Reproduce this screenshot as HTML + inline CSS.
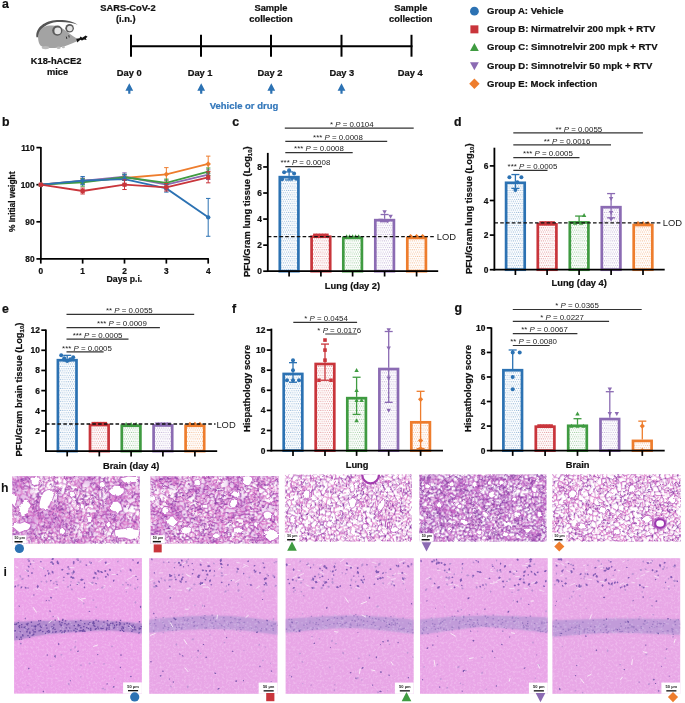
<!DOCTYPE html>
<html><head><meta charset="utf-8"><style>
html,body{margin:0;padding:0;background:#fff;}
svg{display:block;font-family:"Liberation Sans", sans-serif;will-change:transform;}
</style></head><body>
<svg width="685" height="703" viewBox="0 0 685 703">
<defs><pattern id="p0" width="2.15" height="4.4" patternUnits="userSpaceOnUse"><rect width="2.15" height="4.4" fill="#fff"/><circle cx="0.54" cy="1.1" r="0.55" fill="#2c72b3" fill-opacity="0.6"/><circle cx="1.61" cy="3.3" r="0.55" fill="#2c72b3" fill-opacity="0.6"/></pattern><pattern id="p1" width="2.15" height="4.4" patternUnits="userSpaceOnUse"><rect width="2.15" height="4.4" fill="#fff"/><circle cx="0.54" cy="1.1" r="0.55" fill="#c9353b" fill-opacity="0.6"/><circle cx="1.61" cy="3.3" r="0.55" fill="#c9353b" fill-opacity="0.6"/></pattern><pattern id="p2" width="2.15" height="4.4" patternUnits="userSpaceOnUse"><rect width="2.15" height="4.4" fill="#fff"/><circle cx="0.54" cy="1.1" r="0.55" fill="#3f9b41" fill-opacity="0.6"/><circle cx="1.61" cy="3.3" r="0.55" fill="#3f9b41" fill-opacity="0.6"/></pattern><pattern id="p3" width="2.15" height="4.4" patternUnits="userSpaceOnUse"><rect width="2.15" height="4.4" fill="#fff"/><circle cx="0.54" cy="1.1" r="0.55" fill="#8b6bb3" fill-opacity="0.6"/><circle cx="1.61" cy="3.3" r="0.55" fill="#8b6bb3" fill-opacity="0.6"/></pattern><pattern id="p4" width="2.15" height="4.4" patternUnits="userSpaceOnUse"><rect width="2.15" height="4.4" fill="#fff"/><circle cx="0.54" cy="1.1" r="0.55" fill="#ee7d2d" fill-opacity="0.6"/><circle cx="1.61" cy="3.3" r="0.55" fill="#ee7d2d" fill-opacity="0.6"/></pattern><pattern id="T1" width="128" height="68" patternUnits="userSpaceOnUse"><g transform="scale(0.1)" fill="none" stroke-linecap="round"><path stroke="#a444b0" stroke-width="7" d="M777 223l2 2M759 285l0 -5M742 282l-27 -6M713 235l11 0M820 322l-0 0M784 324l28 2M799 277l14 11M769 366l-29 -2M159 418l-6 45M177 420l21 40M31 590l18 46M31 590l54 8M973 301l1 -1M963 273l12 26M955 340l9 -0M1036 355l-5 -18M1173 21l-11 20M940 64l-26 14M906 47l-15 15M1290 382l-1 39M1159 444l-2 17M1287 541l40 -4M1215 630l8 2M713 260l-7 -5M715 275l-10 3M690 174l-8 -1M693 269l-20 -2M705 278l-1 6M801 264l30 -3M874 317l-12 -11M887 234l12 -33M672 478l5 6M714 147l-21 -28M627 82l-2 6M179 510l-20 -45M150 527l-2 -33M1131 375l-28 -33M1275 203l35 -26M1283 248l21 14M1259 293l-4 -2M1222 323l18 15M1244 218l18 22M1283 248l-11 -1M1109 107l-1 8M1139 82l5 7M872 12l-2 8M876 100l-4 -41M1077 83l9 5M1152 145l-29 18M1123 163l-8 12M1264 400l12 -21M1289 420l-7 4M1288 334l-8 -2M1310 321l-22 14M1297 505l-47 -3M731 189l2 -30M761 159l-28 -1M782 94l-11 9M693 119l5 -6M636 187l1 -1M620 91l-4 1M701 227l-12 -5M634 204l-40 14M821 208l13 -0M946 277l-11 -15M963 273l-16 4M911 301l1 -1M976 169l1 1M729 22l-14 -27M715 -5l-17 4M616 91l-24 -5M644 101l7 17M692 77l-31 22M682 124l-6 -6M140 370l2 0M286 606l-4 -17M251 525l7 23M100 443l-11 -16M148 494l-32 10M340 337l23 10M-9 575l15 -7M34 642l-35 -16M10 704l38 -37M106 370l-7 -3M1051 354l8 5M1027 387l12 15M919 356l-19 35M799 373l-15 3M1033 496l4 10M1070 522l6 12M1057 181l15 28M1084 202l10 -18M1096 228l2 8M1097 236l26 -14M1066 245l1 -13M1093 184l13 31M1097 246l36 10M695 678l3 1M1272 57l-4 -16M1272 57l2 23M1201 145l-1 12M1273 247l-4 3M971 128l-6 -29M950 101l18 -29M1038 112l-14 -1M1042 118l-1 29M1008 196l23 14M787 76l-2 -4M784 72l-6 -40M753 4l-4 -27M1105 45l-29 10M1250 649l4 7M907 648l19 23M657 267l-7 -2M647 256l1 9M899 201l-0 -21M864 181l-7 -25M813 132l8 -2M693 396l-0 -23M399 207l-0 0M433 87l4 17M409 99l12 -29M409 99l21 7M430 106l8 -2M458 115l-19 26M543 83l-40 -13M298 657l24 13M342 636l-20 15M319 609l1 5M235 551l-9 30M154 570l-15 50M174 700l-33 -21M363 660l8 -26M304 535l-12 -35M287 542l-1 -1M284 541l2 0M291 456l30 0M308 499l12 -9M388 628l9 37M71 552l-13 -14M42 562l11 -24M222 468l-10 -7M179 510l23 -14M259 394l2 -27M320 408l-22 14M323 409l11 11M374 405l-13 12M53 538l-3 -1M1099 317l21 -21M1118 285l2 11M1074 297l-1 -2M891 398l-43 -9M848 389l5 -26M828 369l24 -6M998 645l-17 -12M1010 610l7 25M1083 473l8 -11M1033 464l5 21M1196 670l-5 1M1191 671l-1 1M1175 564l16 4M1175 564l-19 -14M1192 594l-15 3M1160 487l-28 50M1126 545l4 3M1011 231l12 11M1055 246l-9 -8M624 688l18 -3M643 685l6 4M674 673l-8 14M995 132l22 1M971 128l18 -5M1023 158l4 -1M1137 -10l1 -6M1076 58l-16 -4M1061 38l-2 17M1049 22l13 16M1032 42l-1 13M1205 419l0 0M1222 372l17 36M1018 708l4 -23M986 667l-13 -2M959 693l2 -19M907 648l7 -15M933 622l1 -2M993 673l0 0M457 201l-4 -1M450 195l12 -21M458 115l4 1M453 159l8 15M600 241l-4 3M554 285l13 -15M821 130l25 2M862 98l-6 10M669 412l23 -12M654 401l15 11M693 396l-1 2M623 385l10 -8M554 285l17 28M515 319l19 15M569 320l-26 -4M624 688l3 -28M643 5l7 -21M692 -2l-18 -4M37 78l-26 10M11 88l-17 -9M75 220l-1 -27M335 194l-10 -1M114 118l0 -5M124 91l-3 -15M79 79l27 -8M247 11l-30 18M217 34l43 -13M426 249l26 3M368 196l18 11M194 572l-4 -0M275 657l-8 -4M266 653l-2 -1M108 615l-1 56M108 670l14 5M342 232l13 5M334 332l-24 15M250 253l4 3M419 324l29 -6M372 346l19 -13M392 379l2 -3M95 319l24 11M959 540l-22 51M1034 437l-16 8M952 451l-13 11M842 433l28 -12M919 356l-10 -4M722 445l23 -13M728 422l-11 -1M678 437l34 -1M795 491l-24 23M768 466l9 -1M1177 597l-16 18M853 453l-20 19M831 471l3 1M247 691l-4 -5M1220 80l31 -38M1220 80l-17 -5M1255 39l-3 3M1012 187l3 -6M1007 193l5 -6M923 20l27 3M950 22l8 36M1205 419l6 1M1238 408l-3 9M709 316l-0 -5M691 351l-6 -9M555 363l-33 15M522 378l-6 -4M512 370l4 5M481 399l35 -25M523 396l-15 13M537 440l9 -26M601 523l18 -30M610 485l9 8M627 541l-30 15M655 568l-7 5M537 650l-18 12M536 686l11 -8M572 664l26 -9M31 175l-3 -9M21 165l-39 -18M237 178l19 -6M175 281l-23 -5M119 330l2 -1M225 133l-47 -16M126 126l35 -3M114 118l12 8M384 -2l-1 0M375 43l-7 -24M303 77l31 14M315 120l19 -13M488 256l37 -14M488 256l-1 -1M445 68l5 0M499 61l-7 1M408 134l16 21M523 9l-7 -21M523 9l6 0M279 391l-15 4M326 193l-1 0M402 267l-25 19M476 303l-8 1M509 279l-14 19M501 324l-3 -5M69 511l-13 -23M50 537l-5 -49M-16 400l18 24M28 488l-11 -17M27 379l11 7M37 420l-22 1M985 508l-26 21M915 551l-16 -13M914 567l4 7M761 415l-5 12M1054 577l15 0M749 619l19 -9M771 611l-4 -2M806 604l-0 -0M858 506l-26 18M805 492l17 24M770 540l6 3M831 530l-56 13M1022 6l-4 23M1030 0l-7 6M553 479l4 17M644 596l-6 6M422 507l3 -5M404 457l11 6M390 492l-3 -15M489 690l-20 -22M503 674l-24 -21M624 8l3 -28M-7 247l11 1M-21 293l23 -2M16 344l-8 -10M-0 333l8 2M30 321l-22 14M59 47l3 2M263 23l4 7M147 308l10 33M218 390l-2 -18M121 -5l-14 -5M108 -10l-16 5M105 65l2 -35M334 32l-10 -3M379 509l3 -0M397 617l16 -4M480 625l-26 -4M454 620l-7 -7M250 253l6 -21M312 252l-23 -4M295 297l17 2M275 345l-3 -10M475 341l9 22M915 633l-31 -24M1042 641l-5 -7M1089 644l-6 -24M1098 614l18 22M1097 590l-7 4M1080 566l18 24M761 704l6 -14M777 686l-6 3M823 542l-17 32M793 559l7 18M537 440l-19 3M540 472l4 5M540 472l-23 6M544 477l-12 18M554 503l-10 3M528 541l-9 -8M422 507l18 24M481 623l10 -31M417 421l6 7M11 88l4 9M227 80l0 -12M203 44l9 -10M211 34l-8 -8M215 33l-4 1M122 75l10 -12M174 20l-42 -2M131 4l-2 13M238 322l7 22M247 344l-2 -0M251 341l1 -1M272 335l-19 5M236 630l-15 -1M221 629l-20 -0M480 625l1 1M497 439l8 1M465 447l-27 -0M553 535l4 -0M579 521l-7 11M513 596l-5 -6M508 591l-3 -18M538 583l-13 -15M230 66l8 -21M267 30l-0 0M199 -1l-3 -24M174 20l9 -18M146 -7l25 -5M203 26l-5 -27M458 470l-6 7M463 504l-8 -23M484 544l-7 -37"/><path stroke="#a444b0" stroke-width="12" d="M751 239l18 -17M729 254l13 28M701 227l12 8M701 227l35 -32M744 199l-7 -2M802 256l-0 8M812 223l-33 2M812 223l9 -15M821 208l-16 -19M159 465l39 -5M986 264l-22 8M955 340l-11 -25M989 262l-0 -28M986 353l-5 -9M1003 316l28 20M1152 -5l39 -3M1301 165l-44 13M1194 134l-14 -1M940 64l-22 -26M917 38l-11 9M918 23l-46 -14M873 9l-1 3M1136 418l-23 33M1271 575l15 -7M1314 642l-35 -16M1199 592l28 -13M1244 594l-35 12M714 147l-36 1M688 291l-31 -24M657 267l15 0M802 256l16 -12M820 240l-2 4M969 210l-22 2M676 145l2 3M707 66l-14 6M698 112l-6 -31M179 510l-4 11M148 494l4 -31M1081 385l-22 -26M1058 359l45 -17M1165 326l20 -47M661 633l-1 -1M652 664l9 -31M1267 128l26 -2M1257 178l11 24M1226 177l-23 25M1268 201l7 2M1191 276l23 12M1248 333l-8 4M1238 252l-0 2M1149 136l-42 -21M1184 80l-36 13M1105 97l7 -13M1105 97l-19 -9M871 20l3 38M839 72l-17 -5M873 9l-3 -9M853 -6l-5 -40M1327 666l-38 37M1296 344l-14 12M1224 507l-15 -17M1196 670l15 -39M731 189l5 6M736 121l-8 30M728 151l4 8M636 187l-27 -13M653 138l-10 13M647 245l24 -54M677 233l13 -11M634 204l13 41M682 173l-10 17M649 251l-2 5M608 173l-24 21M873 239l-14 -54M909 251l-1 44M942 229l-6 33M955 340l-18 18M937 357l-5 -1M969 210l7 -39M842 79l20 19M848 188l-28 -23M729 27l-17 23M713 50l-22 -21M597 126l-30 -28M602 24l-21 -6M675 118l-1 -8M144 408l-20 -23M155 411l-2 -0M71 552l-30 10M118 469l-8 7M-33 601l32 14M34 642l-44 23M34 642l9 1M13 574l-14 41M1062 319l6 13M1129 381l-48 63M942 376l-41 15M769 366l15 9M985 508l32 35M991 492l42 3M1037 506l23 7M995 574l23 -31M1080 207l12 18M1064 215l2 17M1079 257l18 -11M1097 246l1 -10M1125 195l-5 18M1133 256l3 -2M706 596l18 20M730 653l-12 16M666 662l9 12M1226 177l-0 -11M1255 291l-3 -13M1060 90l9 0M945 102l4 -1M978 90l-13 9M1057 181l-5 -1M840 -5l-8 -9M822 67l-27 4M803 28l-19 -11M777 6l6 11M692 -2l2 -0M698 -1l-3 -1M659 39l1 0M1086 4l-18 36M1199 445l10 2M1196 439l3 6M1227 457l5 -2M1232 454l18 25M1255 657l-5 17M869 680l17 -20M926 671l-3 29M813 132l-2 11M523 166l1 8M477 201l21 3M533 140l-10 27M533 175l-8 0M650 265l-1 -0M584 194l-4 -3M869 267l12 13M874 317l1 -26M933 143l-14 -32M940 64l1 0M740 364l-4 23M426 243l0 7M451 108l-14 -4M440 141l-23 -11M417 130l-8 4M559 55l-16 -17M559 55l-16 28M549 94l-19 33M573 134l-39 -0M246 515l-23 19M143 370l16 34M155 411l4 -7M143 370l0 0M168 576l7 2M152 565l2 5M176 578l14 -7M338 625l-17 -12M303 633l6 9M290 636l6 -4M304 535l-17 7M308 499l11 17M308 499l-16 1M260 486l15 9M275 466l-15 19M363 596l22 11M384 678l26 41M333 420l28 -3M416 397l1 -0M410 390l-0 -16M48 537l-40 4M1083 275l-9 20M1079 257l-0 3M1079 260l4 14M1027 387l-16 3M946 383l39 -5M985 378l9 13M891 398l-3 -7M998 645l3 -1M990 590l-5 6M1052 440l11 -7M1152 675l22 26M1189 630l-17 5M1139 581l-9 -33M1005 266l18 -11M989 262l16 4M1046 237l-20 1M621 690l4 -2M691 708l8 -30M832 723l-7 -36M721 533l-2 4M706 596l4 -7M739 608l5 10M1191 20l15 16M1206 36l-16 27M1007 99l-4 2M1035 150l-8 8M768 10l-6 14M753 4l15 6M777 6l-6 3M778 33l-4 -5M1214 -4l-18 -6M1205 419l8 -46M1045 652l16 17M1025 670l5 10M943 604l-9 16M1022 686l-14 2M463 117l-9 42M454 158l28 -35M487 148l-5 -25M520 281l7 -12M861 138l6 -5M603 414l-14 15M619 412l4 -27M598 292l-2 -0M573 364l1 4M648 266l1 -1M656 345l-9 30M542 317l-8 17M504 325l7 12M319 516l28 -8M501 716l22 -27M627 636l12 16M598 655l10 9M607 664l18 -4M591 -2l23 3M666 8l8 -14M674 16l-8 -9M-12 41l20 -17M-8 57l48 7M-8 57l2 23M91 231l1 44M329 167l-3 25M102 126l-31 -34M124 91l-10 22M326 139l-11 -18M279 144l3 11M291 170l20 -5M215 33l2 -5M247 11l12 10M460 229l-8 23M433 87l12 -19M445 68l-22 -11M176 522l37 16M194 572l9 -22M264 652l-13 -21M135 619l-14 56M273 581l27 -19M314 565l-34 21M280 586l-7 -6M386 206l-31 31M172 242l5 25M190 277l-1 -0M178 267l11 9M258 297l-16 -0M254 256l-15 36M239 292l4 5M250 253l-28 -7M222 246l-4 32M372 346l17 11M97 364l2 3M55 380l26 -23M78 352l0 0M97 364l22 -34M904 595l14 -21M1026 431l-12 7M1052 440l-18 -3M1001 429l13 9M853 453l9 6M901 348l8 5M846 393l-17 23M848 389l-2 4M828 369l-0 20M796 413l14 -7M806 428l19 -15M755 482l12 -17M1161 633l-35 -10M1139 581l-0 12M886 660l-11 -21M1270 -14l18 39M1258 39l-3 -0M926 -9l24 -2M1235 416l8 19M1210 447l12 -8M867 133l25 2M666 473l-46 -12M667 317l3 20M696 305l12 5M572 419l-27 -5M592 447l-22 15M674 516l-0 0M601 523l24 9M589 488l-6 30M356 473l16 -9M371 464l7 -2M456 682l-5 10M523 689l-7 -21M522 627l-0 -0M599 645l-4 -6M550 706l19 -16M18 215l10 6M36 246l-7 -25M257 172l25 -17M279 144l-20 -14M151 263l1 9M129 246l-15 22M94 231l20 36M151 195l-6 -34M124 91l52 20M175 111l1 4M293 90l0 -4M294 85l9 -8M315 121l0 -1M258 130l6 -10M474 263l-22 -11M450 69l5 -23M414 39l8 8M544 34l-16 -24M528 9l8 -3M568 7l-21 -10M241 624l-3 -20M240 594l-2 10M238 604l0 0M351 520l-6 21M283 365l-4 25M334 235l-17 -20M334 235l-7 7M376 289l0 -3M274 259l7 -3M271 304l9 -1M489 298l-13 4M430 284l20 32M474 263l-10 13M463 277l0 1M74 473l-19 16M42 386l-4 1M938 486l4 -11M920 516l21 23M897 530l24 -14M914 567l-18 8M796 413l-18 -1M1069 578l11 -11M810 650l22 17M784 610l21 -6M766 582l-2 -28M746 561l1 1M795 491l11 1M1030 0l-5 -10M610 576l-20 11M594 622l20 -14M646 598l-3 -2M587 558l-12 27M368 497l18 -20M-6 79l-12 13M39 324l-10 -4M30 321l-25 -30M31 353l-14 -8M4 290l-2 1M37 78l19 18M309 3l-31 -20M147 308l20 -1M141 304l6 3M195 281l-15 29M247 11l-4 -5M135 -61l-14 56M86 45l16 -16M106 70l-1 -6M90 18l11 10M200 55l-30 7M275 40l-4 -8M316 3l7 26M241 300l-32 15M193 652l3 -20M368 497l10 12M396 572l-25 -5M371 567l0 -20M480 625l1 -2M261 217l-10 -13M344 275l1 42M484 320l0 0M484 320l-13 17M497 320l-13 0M890 580l-16 -5M896 575l-6 5M833 610l11 -10M1064 619l1 23M1064 642l1 -1M1089 645l-24 -4M1045 652l-3 -12M1115 639l0 -2M1110 603l-2 3M797 585l2 -8M543 506l-11 -12M544 506l9 29M442 505l-17 -3M397 540l1 -2M452 547l-2 -5M405 452l-13 -40M454 407l-20 17M-13 128l26 -2M53 142l3 -10M201 82l26 -1M173 31l1 -5M174 26l29 0M200 55l3 -12M160 51l-29 -32M174 20l-33 -21M221 358l24 -13M208 324l-1 10M221 358l-6 -12M194 630l-13 -20M397 617l33 34M503 363l-10 -1M484 363l5 -1M993 -7l-7 -5M492 473l13 -33M454 407l13 38M538 583l-3 10M491 591l17 -0M555 572l-17 11M528 541l-4 27M261 78l-11 -15M292 205l-20 3M492 477l-4 1M452 477l2 3"/><path stroke="#c456bb" stroke-width="7" d="M777 223l-9 -1M963 270l4 -32M949 235l19 2M759 285l-16 -3M729 254l-15 6M736 195l1 1M740 363l-0 -28M606 43l-3 -18M87 618l12 -8M99 610l-0 -1M1002 312l-5 -3M963 339l18 4M964 272l-1 1M984 230l5 3M1039 299l-8 37M1036 355l-2 3M986 353l47 5M1127 3l9 25M1194 134l15 -11M1227 579l-1 -18M1208 530l11 -5M705 278l-12 -9M706 251l0 4M744 199l26 -16M704 284l-16 6M833 330l29 -23M631 91l61 -16M100 604l41 -52M96 548l-0 0M198 680l-16 2M1129 381l0 -3M646 598l13 33M694 610l-3 20M1204 209l-1 -8M1259 293l-11 39M1214 288l28 -28M1114 53l11 -9M1144 89l5 4M1144 89l-35 18M1099 121l-13 -33M871 20l-39 23M872 59l2 -1M869 0l-16 -6M892 63l-18 -5M1099 121l-8 6M1172 179l-27 22M1276 379l0 0M1263 337l16 -4M1284 290l-2 1M1209 490l0 -4M1223 632l16 16M782 94l2 -13M643 173l-0 -21M643 151l-25 -7M699 250l-22 -17M647 256l-47 -16M835 207l13 -20M866 250l-29 15M927 298l19 -21M927 298l-16 2M911 301l21 55M951 157l25 12M368 196l-22 16M368 196l-7 -19M335 194l11 18M623 58l4 24M569 53l13 -34M569 53l10 5M651 117l24 1M692 82l-18 29M124 386l-2 -6M122 379l19 -10M153 463l-24 0M64 575l-39 4M319 609l4 -20M76 514l7 -2M76 514l21 34M126 533l-6 -14M-50 557l41 17M4 546l-15 -6M-20 637l19 -10M13 574l12 5M103 418l-13 -26M1036 355l14 -1M1051 354l17 -22M1068 332l31 1M1034 358l-7 30M942 376l-5 -19M1095 179l-2 5M1080 207l4 -5M1096 228l10 -13M1123 222l-3 -8M1084 202l22 13M1136 254l-8 -26M1128 228l21 -17M1149 211l13 14M691 630l5 6M715 675l-17 4M1274 79l17 9M1227 157l-0 9M1269 249l-25 12M1088 5l3 23M1094 178l-23 -35M945 104l1 -1M945 104l19 29M1071 143l-3 2M973 211l34 -18M976 170l30 23M1007 194l1 2M795 -30l-3 26M815 9l-23 -13M803 28l-7 43M729 27l24 7M1088 5l-2 -1M1209 486l-6 -8M1227 457l-7 -1M1160 474l-3 -13M1270 666l18 39M1214 676l3 7M770 138l-7 20M761 159l2 -1M811 143l-22 11M506 187l-20 -12M486 175l-9 -8M533 175l29 -4M584 143l-18 18M585 207l-36 21M881 281l-6 11M852 295l0 -4M820 322l32 -27M820 165l37 -9M951 157l12 -24M945 158l-12 -15M945 102l-4 -38M733 389l3 -2M421 267l6 -18M417 130l13 -25M499 61l4 -17M152 565l28 -10M338 625l4 11M275 657l15 -21M167 613l2 -37M167 613l-27 7M131 684l9 -5M171 668l-25 5M246 515l10 -28M260 486l-4 1M321 457l4 7M384 678l14 -13M342 636l5 2M397 665l9 2M58 538l-5 0M211 461l-4 -51M255 487l-30 -18M331 433l3 -13M-9 575l-27 20M13 574l-6 -6M54 672l30 8M1155 365l7 -6M946 383l-3 29M990 428l-6 -11M960 449l-13 -35M923 423l29 28M900 391l-8 8M894 421l2 2M917 425l-21 -2M1017 635l9 2M1016 665l2 -0M1113 451l-20 11M1033 464l19 -24M1137 670l14 4M1188 510l-5 -0M1183 510l-50 27M1120 543l6 1M1183 510l-1 -0M1023 255l13 5M1079 260l-36 16M659 719l-11 -30M650 664l2 -0M779 682l13 -6M727 482l8 5M719 537l-12 17M703 559l2 -2M1163 42l27 22M1190 -9l1 -1M1191 20l27 -17M1068 40l-6 -2M923 20l3 -29M1049 22l-17 21M1060 54l-29 1M1060 90l-34 -26M1162 359l52 14M915 633l18 -11M994 673l-7 32M477 201l-20 0M554 250l13 19M549 228l4 10M527 269l27 -18M857 156l4 -17M846 133l6 -23M856 108l13 16M692 400l2 5M647 409l-19 10M672 441l-6 12M653 381l3 -1M579 425l-6 -6M574 368l49 16M579 352l-10 -32M597 291l-26 22M614 335l-6 6M574 368l-0 -0M649 283l-38 36M630 332l-15 2M648 266l1 17M580 271l17 21M504 325l12 -6M528 689l-6 -0M639 652l-12 8M627 660l-2 -0M650 664l-11 -12M660 631l-21 21M618 14l2 -4M579 15l3 4M614 0l6 10M40 64l10 -15M79 330l-20 -25M95 319l3 -35M75 220l16 11M98 283l-6 -8M59 304l-23 -33M107 171l44 24M76 86l3 -7M456 2l14 -13M326 139l-15 26M426 243l25 -24M568 7l1 2M222 579l-11 -37M285 609l-7 4M314 565l-14 -4M331 567l2 8M319 537l15 12M331 567l3 -17M290 447l-17 -27M283 418l-9 2M313 402l-25 -4M346 212l-4 20M198 221l-8 56M219 278l20 14M399 330l11 5M420 295l-1 30M388 358l23 -6M410 375l-8 -3M-49 366l44 13M74 406l-32 -21M80 397l-25 -17M917 425l11 28M846 393l-18 -4M846 393l0 0M823 392l-3 16M806 428l-0 17M716 442l6 3M672 478l-6 -4M667 474l-1 -2M731 457l24 -4M1160 615l-22 -22M1138 593l-3 2M736 526l29 4M765 530l3 -6M875 501l-16 4M730 653l19 4M758 655l12 -10M745 618l5 0M795 650l-3 26M773 643l-4 1M343 671l-9 4M1203 76l-11 -5M1012 187l33 4M1043 210l2 -19M987 25l2 4M1222 439l16 1M1084 682l-15 -0M1068 720l18 -36M896 148l-5 -12M901 124l-9 12M615 453l5 8M620 461l-10 24M671 338l14 4M685 342l24 -26M739 335l-30 -19M454 404l-16 -14M454 404l15 -6M481 399l27 9M582 483l-12 -19M589 488l8 -3M673 516l-16 18M625 533l11 -14M569 689l-1 -2M595 639l-38 2M598 655l-0 0M557 641l3 -20M594 622l-7 -5M560 620l-31 -17M78 352l-38 -20M42 183l-13 38M18 215l11 -38M29 177l2 -2M151 263l-22 -17M141 350l-5 -3M178 116l-2 -1M93 136l-4 20M145 161l-9 -5M49 49l10 -2M54 -8l7 49M376 4l-32 -13M335 107l-1 -16M487 248l6 -15M493 233l10 -14M498 204l4 15M509 279l10 1M527 269l-2 -27M541 223l-5 1M460 77l32 -15M410 38l4 0M423 57l-1 -11M455 45l-5 -7M492 27l8 9M384 147l40 9M171 668l2 -12M220 677l6 -3M199 679l-3 -24M227 673l1 -3M302 357l-14 5M283 365l5 -4M237 178l6 8M342 232l-9 2M195 281l9 0M72 460l-2 -12M30 488l-1 -0M10 382l18 -2M41 414l-4 6M-4 379l-1 0M31 355l-4 24M37 441l-0 -20M982 461l4 6M1031 462l-43 9M861 557l10 10M885 560l12 15M806 445l-0 0M1084 682l5 -37M1115 639l-26 5M771 611l13 -1M736 595l10 -7M704 557l37 12M832 524l-1 6M820 472l8 -1M769 524l53 -7M324 709l-7 -26M1084 2l-15 -0M1084 2l5 -37M1018 28l-13 -4M993 -7l23 -8M573 608l-0 -6M378 461l8 2M386 463l0 14M415 463l15 18M489 690l13 -17M470 669l1 -7M456 682l14 -13M515 669l-13 5M25 263l-0 -1M56 96l10 -1M274 73l-10 5M157 341l16 12M182 341l-7 11M141 350l17 -9M298 -23l24 13M316 3l-7 0M335 -5l-12 0M266 -27l-23 33M227 -7l1 -3M61 41l29 -23M107 30l-5 -2M353 20l-19 11M306 57l6 -4M271 32l50 -1M451 12l-9 -1M243 297l-1 3M214 280l-5 35M196 655l24 -5M224 651l-4 -1M221 224l23 -21M256 233l-4 -7M243 186l1 16M256 233l20 5M275 329l-3 6M471 337l-14 -20M468 304l-8 11M871 567l3 8M843 555l-4 13M1042 619l21 -1M1076 594l0 20M1076 614l-13 4M1107 608l15 16M1084 619l14 -5M1135 595l-25 8M753 684l15 6M776 543l17 16M309 683l-38 28M538 442l2 31M518 443l-1 35M528 541l5 1M422 507l-22 19M479 579l12 13M374 405l17 7M13 127l2 -30M56 96l-12 13M15 97l28 13M173 31l30 13M161 51l12 -20M215 34l9 32M107 30l11 -3M121 -5l10 8M143 -55l3 48M240 311l-2 10M260 327l-7 13M208 334l8 11M196 632l6 -3M167 613l14 -2M202 580l-8 22M430 638l-0 13M430 657l-1 -6M446 652l4 -24M454 620l-4 8M294 210l-1 -1M501 324l-4 5M514 532l5 1M514 532l-7 -35M507 496l3 -7M555 572l0 -5M573 602l-38 -9M182 2l16 -2M479 490l-24 -9M478 507l-15 -4"/><path stroke="#c456bb" stroke-width="12" d="M759 280l23 -45M782 234l-3 -9M728 239l22 0M742 282l-0 -0M713 260l2 15M820 322l-7 -34M791 193l3 -2M763 309l-24 26M740 363l1 1M623 58l14 -18M159 465l-6 -2M49 636l38 -17M1003 316l-21 28M943 315l30 -14M1053 318l-22 19M1173 21l-22 -26M913 79l-20 -15M1231 532l8 12M1244 594l-0 0M791 193l-20 -10M784 163l-13 20M714 147l13 3M682 173l-6 -18M677 155l1 -7M818 244l14 17M854 345l23 -25M984 230l-12 -19M942 229l-1 -2M887 234l16 7M718 482l2 0M677 484l3 15M627 82l38 -25M126 533l10 3M100 604l-4 -56M153 463l-0 0M150 527l25 -6M1155 365l-24 10M1136 418l-7 -36M1131 375l-2 3M1133 304l24 -40M673 641l-12 -8M1257 178l-31 -1M1268 201l-24 17M1184 279l7 -3M1221 293l34 -2M1232 219l6 33M1197 263l41 -9M1238 255l5 6M1125 44l20 20M1162 41l0 1M1129 77l-15 -24M1129 77l10 5M1185 88l-1 -8M1105 97l4 10M1099 121l9 -6M840 -5l-15 11M825 7l7 36M1069 90l10 38M1172 179l-20 -34M1146 202l-20 -7M1276 379l6 -22M1279 333l0 0M1282 291l-3 41M734 118l3 2M713 192l-23 -18M603 152l16 -8M650 132l-22 -1M672 190l-1 0M634 204l2 -17M585 207l-0 -13M868 242l-14 -8M854 235l-19 -27M813 288l16 -9M903 241l6 10M945 158l-11 12M819 165l1 0M729 27l-0 -5M361 177l-9 -2M594 52l-15 6M661 99l13 11M153 410l-10 -40M119 425l10 38M103 418l21 -33M25 580l-1 -0M96 548l-25 4M129 463l-11 5M111 487l5 18M374 392l-12 -44M320 408l-7 -7M313 402l-12 -45M-0 627l-1 -12M106 370l15 9M931 356l-12 0M1010 610l32 9M1037 506l-9 32M1073 209l-8 6M1202 213l-40 12M1157 263l-13 -9M695 650l-9 5M1288 24l-20 17M1262 92l12 -13M1195 193l5 -36M1077 83l5 -12M1094 68l-12 3M1079 128l-4 4M1042 118l33 14M1076 131l-5 12M1007 194l-0 -1M815 9l-12 19M792 -4l-13 6M665 57l-5 -18M1220 456l-10 -9M1222 480l5 -24M1160 474l33 -4M1251 480l0 -0M1282 424l-13 19M1260 403l3 37M907 648l-21 12M790 154l-6 5M782 94l31 39M506 187l19 -13M498 204l7 -16M526 175l-1 -1M570 182l10 10M580 192l-31 9M862 306l-1 -3M859 185l5 -4M842 79l-1 24M841 103l-19 28M695 -2l-8 -22M564 98l9 36M534 134l-3 -7M246 515l6 10M166 394l22 -5M303 633l-7 -1M140 620l-1 -1M182 682l-11 -14M140 679l5 -6M370 635l-24 4M286 541l-11 -46M319 537l-15 -2M338 625l25 -29M388 628l4 -10M441 691l-15 -31M69 511l-11 27M222 468l3 1M198 460l13 1M188 389l28 2M261 367l-42 24M290 447l8 -25M438 390l-21 7M61 721l-7 -49M1062 319l12 -22M1098 333l1 -16M1133 304l-13 -7M1039 402l-12 13M1027 416l-15 6M948 414l-4 -2M942 376l4 7M952 451l9 -2M892 399l2 22M859 358l29 32M805 366l23 3M1026 637l-8 27M1120 484l-27 -22M1119 536l-31 -39M1083 476l0 -3M1190 671l-39 3M1127 683l11 -13M1211 631l-22 -1M1191 671l-19 -35M1189 630l3 -36M1183 541l-19 4M1204 554l-14 14M1139 581l30 5M1205 553l-1 1M1183 510l-2 7M1201 525l-17 13M1209 490l-21 21M1120 543l-2 -7M1126 545l6 -8M1037 293l3 -3M1039 299l-2 -6M1023 241l0 13M1040 212l6 25M1023 241l3 -3M1040 212l-0 0M825 687l-10 2M707 554l39 8M689 557l-15 -41M724 616l15 -8M383 678l-7 6M1024 111l-17 -13M976 169l25 -17M1027 158l23 22M761 24l13 4M1191 -9l5 -1M1196 439l9 -20M1231 366l-10 7M1260 403l-21 5M974 666l-12 9M950 669l11 5M950 669l-11 -40M981 633l-12 11M984 595l-41 9M1008 687l-3 17M1025 670l-7 -5M453 159l-14 -11M553 237l0 13M596 243l-16 28M529 289l25 -4M846 133l15 6M856 108l-4 2M880 104l-11 20M694 405l-16 32M672 441l-2 -5M691 351l-34 29M603 414l-25 -34M579 380l-6 40M531 303l12 13M529 289l2 14M526 341l7 -1M346 508l-0 -4M639 652l-0 -0M614 680l-7 -16M591 -2l-12 17M-12 41l4 16M49 49l-40 -25M79 330l16 -11M59 305l0 -1M127 231l8 -10M94 231l-3 -0M75 193l16 -14M114 113l-38 -27M121 76l-15 -5M456 2l-26 -23M315 121l-36 23M341 149l-1 15M451 219l9 11M591 -2l7 -23M226 581l-4 -2M290 636l-19 -11M92 675l16 -5M143 625l-3 -5M131 684l-10 -8M314 565l17 2M283 418l6 -20M274 259l-20 -3M410 335l8 -11M448 319l-8 35M402 302l18 -8M374 392l18 -13M7 541l10 -36M17 505l-47 -3M1027 416l-1 15M939 462l-10 -9M888 470l23 5M893 352l8 -4M828 389l-5 3M842 433l-3 -0M839 432l-9 -16M799 373l0 1M809 406l10 2M796 413l10 15M839 432l-3 3M716 442l-3 -6M733 389l-17 32M735 486l21 -4M1126 622l9 -27M1172 635l-10 -3M825 687l15 -11M853 674l-13 1M848 634l5 40M861 459l-19 21M888 470l-13 31M843 479l16 26M898 539l-4 3M353 700l-19 -25M322 676l12 -0M278 663l-15 40M266 653l-23 33M1249 -6l9 45M1255 -23l-5 17M1268 41l-10 -2M1251 42l-60 25M1015 181l33 3M1050 180l-2 4M941 65l17 -7M967 72l-5 -13M1018 68l-32 -18M909 109l-8 15M596 449l19 4M631 428l-15 25M667 317l19 -12M687 305l9 -0M656 345l15 -7M742 282l-33 29M545 414l0 1M582 483l7 5M583 519l15 5M331 433l40 31M429 659l-3 2M537 650l-15 -23M522 627l-21 24M579 695l-10 -6M557 641l-2 2M614 0l-7 -16M31 355l47 -3M40 332l-10 21M59 305l-20 19M-4 205l-1 -2M284 98l-19 21M152 272l-1 4M172 242l-21 22M185 210l-24 -2M121 329l19 -24M140 370l0 -20M132 155l5 1M170 119l-9 3M47 -14l7 6M410 38l-26 -41M382 47l-7 -4M335 -5l9 -4M474 263l13 -8M509 279l-21 -23M460 77l-10 -8M492 27l-3 -17M384 152l33 35M401 205l17 -19M479 -28l24 21M503 -6l13 -5M550 26l-14 -19M547 -2l-11 8M278 613l-40 -9M264 395l6 26M270 420l1 -0M295 297l-15 6M212 227l-14 -7M448 319l2 -2M495 298l2 21M77 429l-7 18M-3 462l20 8M9 420l7 1M934 491l25 38M960 529l-2 8M882 506l40 -6M777 411l1 0M778 412l12 36M753 433l3 -5M795 650l15 0M840 675l-8 -9M780 644l5 -34M741 570l6 -8M747 562l17 -7M703 559l8 30M805 604l-8 -19M770 540l-6 15M861 557l-18 -2M818 475l3 -3M806 445l15 27M309 683l7 -0M1022 6l-14 2M1054 10l-24 -10M989 29l16 -4M994 -7l-0 -0M1088 685l3 23M643 584l1 12M627 636l10 -34M577 587l13 -0M353 493l15 5M386 463l17 -6M470 662l8 -10M482 645l-3 7M36 246l-11 16M25 263l-20 27M2 357l14 -12M267 89l-3 -12M303 77l-0 1M263 23l15 -40M201 315l-20 -5M215 372l-41 -21M316 3l6 -7M217 29l4 -32M105 65l-19 -20M345 68l-4 -1M423 16l-17 -29M414 39l9 -23M241 624l-5 5M365 518l14 -9M396 572l11 -13M408 559l-11 -19M354 585l18 -18M451 590l-16 -26M430 565l-22 -6M253 226l8 -9M327 242l-15 10M316 214l-22 -4M311 299l23 31M334 332l0 -3M270 318l6 11M457 316l3 -2M472 338l-1 -2M472 338l3 2M883 609l-4 0M1069 578l7 17M1107 608l-9 7M1097 590l8 -4M1091 594l17 12M771 689l-3 1M553 479l-8 -2M543 506l1 -0M455 517l7 -13M422 507l-0 0M471 588l8 -9M481 623l0 -0M481 548l-29 -1M404 457l1 -5M133 63l28 -12M174 20l0 -1M263 364l-17 -20M230 324l-15 22M201 629l7 -9M193 602l-10 5M470 662l-24 -10M475 341l15 -7M492 473l-26 -28M467 445l-0 1M477 399l20 40M572 532l-15 3M535 593l-6 9M483 555l22 17M250 62l16 -33M228 68l2 -2M265 188l-2 9M479 490l-1 17M478 507l0 -0M488 479l-10 11"/><path stroke="#de78c8" stroke-width="7" d="M759 280l-9 -41M760 286l38 -9M623 58l-17 -15M602 24l16 -10M159 418l18 2M1003 316l-0 -5M997 308l-23 -8M986 264l12 44M963 270l1 2M1053 318l-14 -18M1173 21l11 -6M1136 28l27 13M1180 133l5 -46M918 23l-1 15M1289 420l7 1M1136 418l23 26M1284 546l-15 -6M1271 575l-41 -17M1244 594l27 -20M1205 553l3 -23M1231 532l-12 -7M1244 594l0 4M1209 606l6 23M1223 632l22 -34M713 235l-7 16M794 191l-11 -28M727 151l-37 24M706 251l-7 -1M812 223l7 16M949 235l-7 -6M969 210l3 2M889 82l-9 21M889 82l13 25M709 451l9 31M625 88l6 3M734 118l-36 -6M126 533l-29 14M141 552l-5 -15M646 598l47 12M673 641l18 -11M652 664l14 -2M1276 205l22 10M1257 178l0 -0M1153 144l-4 -8M822 67l10 -24M889 82l4 -18M880 104l-4 -3M1069 90l8 -7M1125 195l-10 -20M886 -20l-17 20M1276 379l-12 -42M1239 337l-8 28M1290 382l-13 -3M1259 293l23 -2M1250 502l-1 2M1196 670l18 6M1218 683l5 8M770 183l-9 -24M736 121l35 -18M677 155l-33 18M649 251l28 -19M690 211l-18 -21M831 261l6 4M868 242l-2 8M909 251l26 11M335 194l17 -19M616 91l-22 -39M591 86l-13 -28M566 97l25 -11M644 101l17 -1M631 91l13 10M159 418l-4 -7M119 425l-16 -7M42 562l-17 17M85 597l-20 -22M251 525l32 16M320 408l3 1M1081 385l-25 25M1039 402l17 8M1080 444l-17 -11M990 590l6 -11M1057 181l36 -3M1095 179l-2 -1M1079 257l-13 -12M1123 222l5 6M1203 202l-9 -9M873 689l-1 3M724 616l-3 12M728 647l1 -6M728 647l2 7M1267 128l-5 -36M1225 121l15 17M1290 24l-2 0M1272 57l48 7M1225 121l-14 2M1240 138l-13 19M1242 261l1 1M1112 83l-18 -16M1094 68l19 -14M1091 28l15 17M1001 228l-12 6M784 81l3 -4M796 71l-9 5M676 27l-16 12M715 -5l3 -6M1091 28l-14 27M1082 71l-6 -12M1076 55l-0 0M1193 470l11 8M1297 471l-20 -8M1255 657l15 9M771 103l-2 35M563 171l3 -10M555 190l-6 11M533 175l22 15M540 207l9 -6M540 207l1 17M541 223l8 4M861 304l-9 -9M908 296l-27 -15M896 318l-19 2M913 79l-1 30M740 363l-42 -3M697 361l-5 12M421 267l-19 -0M458 115l-7 -8M395 99l-10 36M366 132l-14 -19M566 97l-3 1M559 55l10 -2M584 143l-11 -8M503 70l-12 45M143 370l19 -2M162 368l8 -10M170 358l17 31M321 670l0 -18M275 657l4 6M295 632l-10 -23M240 594l-14 -13M130 697l2 -13M275 495l17 5M319 537l-0 -21M325 464l-6 26M383 678l-20 -18M76 514l-7 -3M248 422l-12 -21M416 397l-6 -6M4 546l3 -5M90 698l-6 -18M87 618l5 57M1099 317l-25 -20M1118 285l-35 -10M1133 256l-16 30M984 417l10 -26M984 417l-36 -3M858 358l1 1M1009 636l-8 7M1009 636l8 -1M1001 644l15 21M986 609l23 28M1120 484l-1 52M1087 497l-5 -21M1070 522l18 -25M1136 708l-9 -25M1197 591l-5 3M1156 550l8 -5M1208 530l-7 -4M1158 476l2 10M1037 293l-19 1M1043 276l-6 -16M1066 245l-11 0M1031 211l9 1M639 719l3 -34M650 664l-7 21M803 708l12 -19M736 526l-2 -40M707 554l-3 4M736 595l4 13M350 658l-7 14M376 684l-8 15M1184 15l7 6M1021 157l-4 -24M978 90l24 10M907 -32l19 23M1007 99l12 -31M1045 652l-20 17M939 628l30 15M994 673l15 14M476 168l-15 6M453 159l0 -1M580 271l-13 -1M897 171l-36 -31M669 412l1 24M678 437l-7 4M692 398l-36 -8M693 373l-36 7M656 390l-3 -9M574 368l4 12M611 319l4 16M649 283l1 4M649 287l-20 46M648 266l-50 25M531 303l-15 16M534 340l1 -6M599 645l-1 10M98 283l-39 21M80 269l12 6M107 171l-13 2M91 178l3 -5M329 167l-18 -2M203 550l8 -8M213 538l-1 4M179 554l1 -2M108 615l27 5M99 610l9 4M287 544l13 18M323 588l10 -14M340 337l-6 -5M258 297l15 -38M367 305l24 28M367 305l31 13M399 330l-2 -12M416 347l-6 -12M439 353l-4 3M397 319l4 -16M388 358l6 18M363 348l9 -1M74 406l6 -9M-4 379l-12 21M42 386l13 -6M79 330l-1 22M995 574l-36 -34M937 591l-19 -18M842 433l11 20M886 462l2 8M929 453l-18 22M891 383l18 -30M859 358l34 -7M888 391l3 -8M806 445l30 -10M727 482l4 -25M752 409l-16 -22M752 409l-25 13M745 433l8 -0M1161 633l1 -0M1137 670l1 -6M872 546l-14 -40M882 506l-7 -6M858 506l1 -1M758 655l-9 2M749 619l20 26M780 644l-6 -0M791 645l4 4M1249 -6l-27 18M1255 39l-28 -13M1234 95l-14 -15M961 -6l-2 19M963 59l-4 -1M1212 420l10 19M1263 440l-20 -5M1232 454l6 -14M912 142l-15 6M897 171l-1 -23M596 449l1 36M610 485l-13 0M592 447l-3 -18M650 265l37 40M447 353l-8 0M503 363l9 6M522 378l1 18M579 425l-25 22M553 447l17 14M570 461l-0 4M655 568l3 -34M346 504l7 -11M518 662l-3 7M537 650l0 -0M518 662l-17 -11M481 626l41 1M501 651l-19 -6M555 643l-18 7M75 193l-33 -10M-22 177l44 -13M225 133l10 -6M265 119l2 -30M139 301l-32 -18M98 283l9 -1M121 329l14 19M178 116l-4 49M175 165l-21 -6M219 165l-28 28M145 161l9 -2M94 173l-4 -17M61 41l-2 6M410 38l-28 8M335 -5l19 25M293 90l22 30M352 113l-17 -6M536 225l-11 17M460 229l26 19M451 219l2 -18M457 201l36 32M384 147l0 5M373 166l11 -14M543 38l1 -4M220 677l-21 2M264 652l-37 18M279 391l1 2M280 392l-9 28M259 394l5 1M263 364l19 1M262 424l8 -4M257 172l4 15M364 247l-2 21M402 302l-25 -14M258 297l12 7M295 297l-14 -40M212 227l10 19M190 277l5 4M214 280l-11 2M468 304l-5 -26M110 476l-36 -3M-29 479l26 -17M22 463l-4 8M-4 379l13 3M988 472l-2 -4M933 491l-11 10M922 501l-2 16M790 448l-3 3M781 460l6 -9M806 445l-16 3M1138 664l-23 -25M1088 685l-2 -1M715 675l14 27M829 621l4 45M773 643l-2 -32M745 588l17 -2M745 588l-4 -18M770 540l-5 -10M805 492l12 -18M822 516l4 3M322 676l-6 7M1054 10l15 -8M994 -7l15 14M994 -7l-7 32M614 608l-16 -11M597 557l13 19M-4 205l7 43M-17 337l16 -4M2 357l-2 -24M-4 379l6 -22M-1 333l0 0M306 57l-31 -17M173 352l1 -0M175 281l-8 26M170 358l3 -6M322 -28l-0 18M322 -4l-1 -5M87 -62l5 57M63 50l23 -5M349 57l-4 10M201 315l5 2M206 318l3 -3M351 520l13 -2M365 518l24 23M430 565l-16 47M392 618l5 -1M212 227l9 -4M277 237l12 10M294 335l-14 -32M484 320l-24 -5M890 580l1 15M873 608l7 1M904 595l-13 1M1042 641l22 1M1122 624l-6 13M1126 622l-4 2M1105 586l5 17M1076 594l14 -0M823 542l-31 17M508 409l1 31M543 506l-24 27M400 526l-3 12M53 142l-21 11M56 132l-12 -22M224 66l3 3M161 51l9 12M161 51l-0 -0M174 26l-1 -6M270 318l-10 10M215 372l6 -15M208 324l22 -0M238 322l-7 2M182 341l26 -7M193 602l23 5M196 632l-0 -0M429 659l1 -1M270 223l24 -14M511 488l-1 1M492 477l17 12M465 447l2 -2M556 567l19 -20M556 567l-0 -0M587 558l-13 -10M555 572l20 12M525 568l-19 5M481 548l3 -4M292 205l2 -25"/><path stroke="#de78c8" stroke-width="12" d="M963 270l-15 -35M763 309l21 16M799 277l3 -13M791 193l-14 30M794 191l11 -2M963 339l10 -38M967 237l17 -7M1262 147l-5 31M1209 123l-24 -36M893 64l-1 -1M1307 379l-18 2M1157 461l-44 -10M1239 544l-8 14M1231 532l19 -22M1226 561l-20 -8M1287 541l10 -36M1279 615l-32 -14M1247 601l-2 -3M693 269l13 -14M709 451l-37 27M719 482l-7 39M694 73l-28 -16M692 77l1 -2M-10 666l18 39M1155 365l23 41M1159 444l14 -8M1081 385l48 -7M1157 263l27 16M666 662l7 -11M1283 248l-7 -43M1221 293l-6 -5M1204 209l-2 4M1136 28l-11 16M1145 64l-5 18M1180 133l-27 10M1129 77l-17 6M872 59l-33 13M840 -5l13 -1M1276 379l1 -0M1248 333l16 4M1264 400l18 24M1296 344l-8 -10M1222 480l28 -1M1251 480l-1 22M1215 630l-4 1M1191 700l27 -17M1260 637l-10 13M1239 648l11 2M727 151l1 0M594 217l-9 -10M873 239l-5 3M859 185l-11 2M829 279l8 -14M650 132l1 -15M103 418l0 -0M99 609l1 -6M71 552l-0 0M82 512l37 7M90 392l9 -24M1056 410l7 23M805 366l-7 7M990 590l21 20M985 508l6 -15M1060 513l10 9M1028 539l12 6M1039 545l15 32M1107 215l13 -2M1092 225l4 4M1115 175l-20 4M1146 202l3 9M706 596l-9 12M697 608l24 20M721 628l8 13M695 650l23 19M673 651l13 5M692 678l-18 -4M1225 121l9 -26M1290 24l40 25M1327 -14l-38 37M1194 134l7 10M1209 123l1 -0M1252 279l-8 -17M1252 279l17 -29M1114 53l-2 -0M963 133l8 -5M967 72l11 19M1024 111l11 39M1035 150l6 -3M1041 147l27 -2M1068 145l-15 35M1001 228l7 -32M1001 228l10 3M1011 231l20 -20M711 62l1 -12M778 33l5 -16M676 27l-2 -11M639 39l-3 1M639 39l20 -0M1076 58l1 -3M1220 456l-16 22M1277 462l-8 -19M1264 400l-4 3M1223 691l27 -18M770 138l20 17M784 163l-0 -4M592 143l-8 0M875 292l-14 12M866 250l3 17M829 279l23 12M887 234l-14 5M820 322l13 7M733 389l-41 7M402 267l-17 -18M420 64l1 5M388 78l-3 8M385 85l-12 1M386 135l-2 2M543 83l6 11M533 140l0 -5M159 404l7 -9M298 657l11 -15M309 642l13 10M279 663l-0 -0M256 561l6 17M363 660l-12 -3M350 658l-4 -19M291 456l-16 10M383 678l1 -0M423 696l-17 -29M216 392l2 -2M275 466l-13 -42M262 424l-14 -2M291 456l-0 -9M321 457l10 -24M374 405l0 -13M438 390l-3 -14M50 537l-3 -1M92 675l-7 5M990 428l11 1M990 428l-9 31M960 449l21 10M986 353l-2 25M858 358l-5 6M854 345l3 13M1158 476l-39 8M1060 513l23 -37M1033 496l6 -11M1197 591l-6 -23M1169 586l8 12M1169 586l6 -22M1130 548l26 2M1183 541l1 -3M1040 290l2 -14M1074 295l-34 -5M1055 246l-18 14M1064 215l-21 -5M1043 210l-3 2M649 689l17 -1M643 685l-1 0M692 678l-19 19M784 697l-6 -11M721 533l16 -7M719 537l28 25M689 557l13 2M343 671l32 13M1001 152l-6 -20M1053 180l-3 1M779 2l-21 -27M753 34l8 -10M1211 -49l-15 39M1172 -45l19 35M1239 -32l-25 28M1218 3l-3 -7M1178 406l27 13M974 666l-4 -22M463 117l18 5M841 103l11 7M647 409l23 26M692 398l0 2M697 361l-7 -10M653 381l-6 -6M579 352l29 -11M611 319l-12 -27M633 376l-24 -36M630 332l26 12M555 363l18 1M555 363l-22 -23M320 490l26 14M642 5l-18 3M674 -7l-9 -12M-10 -14l18 39M98 283l0 -0M340 163l-12 4M76 86l-5 6M215 34l-1 -0M215 34l1 0M361 177l12 -11M373 166l27 39M180 552l23 -2M202 580l20 -1M354 585l-21 -10M380 246l-17 1M355 238l8 9M305 353l5 -6M172 242l14 -30M416 347l19 9M412 351l-10 21M394 376l8 -4M416 347l-5 5M89 428l-12 2M74 406l-1 17M73 423l5 6M97 364l-16 -7M78 352l3 5M933 620l-30 -26M1034 437l-8 -7M1018 445l-5 -8M1033 464l-2 -1M894 421l-24 -0M886 462l-24 -4M896 318l6 30M892 399l-1 -1M799 373l10 33M709 451l6 -9M1162 632l-1 -17M1138 664l23 -32M848 634l17 -2M875 639l-10 -7M843 479l-9 -7M897 530l2 8M836 435l-5 36M1218 3l5 8M1206 36l20 -11M1045 191l3 -6M950 -11l11 5M950 22l9 -9M963 59l23 -9M986 50l3 -21M1243 436l-5 5M1084 682l2 1M592 447l4 2M709 311l-1 -2M447 353l31 15M469 397l9 -29M526 341l-15 29M574 368l-29 46M523 396l22 19M636 498l-18 -5M599 524l-2 33M325 464l31 9M481 626l1 19M572 664l-4 23M547 678l21 10M555 643l17 21M595 639l-1 -17M587 616l-13 -8M522 627l8 -24M-4 379l-12 -42M31 355l-0 -3M40 332l-1 -7M42 183l-10 -8M62 233l-26 13M-5 203l-7 -2M114 268l-8 15M178 267l-26 5M139 301l2 4M170 119l-16 40M191 194l-16 -29M102 126l-9 10M363 -20l20 18M384 -2l14 -13M376 4l-8 15M345 69l-11 22M487 248l1 8M503 219l33 6M456 2l-5 10M489 10l-20 -22M427 158l-10 29M417 186l-0 0M439 148l-12 9M523 9l-22 27M544 34l6 -8M569 9l-19 16M251 631l-10 -7M143 625l26 23M217 709l4 -32M243 686l-16 -13M346 508l5 12M334 550l11 -9M261 367l2 -3M325 193l-9 21M327 242l18 33M366 305l10 -16M362 268l14 18M489 298l-25 -21M495 298l-6 0M72 460l2 13M2 424l-13 19M70 447l-33 -7M37 441l-16 23M10 382l-1 39M2 424l7 -4M22 463l-6 -42M-11 444l8 19M942 476l40 -15M939 462l3 13M991 492l-1 -2M1019 449l-32 18M941 539l17 -2M938 486l-4 5M915 551l-1 15M959 540l-2 -3M872 546l-11 10M894 542l-9 18M885 560l-14 7M756 427l31 24M784 375l-7 36M781 460l-4 5M1097 548l-17 18M1097 548l18 -2M1127 683l-38 2M810 650l18 -29M833 611l15 23M768 610l-6 -23M843 555l-11 -22M832 524l-6 -5M1008 7l-3 17M1032 42l-14 -14M556 496l-2 7M610 576l33 8M598 596l-8 -10M648 572l-5 12M430 481l-5 21M-18 240l11 7M3 248l21 14M36 272l-12 -8M2 291l-3 41M72 121l-6 -26M79 79l-16 -29M303 77l3 -19M274 73l2 -33M267 30l4 2M167 307l13 2M201 315l2 -34M259 21l4 2M220 -3l6 -3M90 18l-6 -18M92 -5l-7 5M177 96l-2 14M177 96l-3 -9M200 56l-0 -0M174 88l-4 -25M341 67l-29 -13M375 43l-26 14M345 69l-0 -1M271 32l0 0M423 16l18 -5M220 650l-25 -18M385 607l12 -35M451 590l-4 23M414 612l32 0M451 590l20 -2M244 202l6 2M294 210l-6 37M294 335l-19 -6M447 353l25 -15M478 368l6 -5M874 575l-18 25M891 595l-7 14M855 600l18 8M843 601l12 -1M1076 614l7 5M1115 545l-10 41M774 708l-3 -19M832 533l-9 8M450 542l-9 -10M382 508l18 18M481 548l2 7M479 579l4 -23M417 421l-26 -9M433 424l5 23M44 109l-1 0M13 127l10 7M235 95l26 -17M235 95l-8 -14M133 63l-15 -36M131 4l9 -5M275 345l-24 -4M206 318l2 6M194 630l2 1M221 629l-13 -9M238 604l-22 4M430 657l16 -5M261 217l3 -0M489 362l1 -29M469 397l8 2M467 445l30 -5M575 547l-3 -16M513 596l16 6M-7 247l-4 3M230 66l21 -4M217 34l21 11M182 2l-11 -14M291 170l0 2M250 204l13 -7"/></g><path fill="#7a309f" d="M75.3 27.9h1.2v1.1h-1.2zM90.5 29.6h1.2v1.1h-1.2zM89.0 31.2h1.2v1.1h-1.2zM72.3 24.9h1.2v1.1h-1.2zM70.7 18.7h1.2v1.1h-1.2zM72.8 11.3h1.2v1.1h-1.2zM75.3 27.4h1.2v1.1h-1.2zM79.6 25.1h1.2v1.1h-1.2zM78.5 18.8h1.2v1.1h-1.2zM77.3 22.0h1.2v1.1h-1.2zM70.3 44.6h1.2v1.1h-1.2zM68.3 55.2h1.2v1.1h-1.2zM70.6 51.6h1.2v1.1h-1.2zM125.1 17.2h1.2v1.1h-1.2zM119.8 20.4h1.2v1.1h-1.2zM97.8 22.5h1.2v1.1h-1.2zM112.1 -0.2h1.2v1.1h-1.2zM115.3 43.8h1.2v1.1h-1.2zM123.8 58.9h1.2v1.1h-1.2zM122.0 55.6h1.2v1.1h-1.2zM73.6 27.7h1.2v1.1h-1.2zM70.9 27.0h1.2v1.1h-1.2zM69.5 22.2h1.2v1.1h-1.2zM70.7 22.9h1.2v1.1h-1.2zM70.8 14.2h1.2v1.1h-1.2zM72.5 18.3h1.2v1.1h-1.2zM73.1 19.1h1.2v1.1h-1.2zM79.3 27.1h1.2v1.1h-1.2zM79.5 25.8h1.2v1.1h-1.2zM81.5 20.2h1.2v1.1h-1.2zM79.9 18.3h1.2v1.1h-1.2zM76.3 36.1h1.2v1.1h-1.2zM19.2 67.4h1.2v1.1h-1.2zM17.3 50.4h1.2v1.1h-1.2zM36.8 38.6h1.2v1.1h-1.2zM2.5 58.4h1.2v1.1h-1.2zM4.3 63.0h1.2v1.1h-1.2zM8.1 61.3h1.2v1.1h-1.2zM7.9 59.2h1.2v1.1h-1.2zM9.3 60.4h1.2v1.1h-1.2zM120.2 52.4h1.2v1.1h-1.2zM99.7 31.1h1.2v1.1h-1.2zM99.1 30.3h1.2v1.1h-1.2zM95.7 33.4h1.2v1.1h-1.2zM115.9 32.0h1.2v1.1h-1.2zM70.0 59.1h1.2v1.1h-1.2zM68.5 62.4h1.2v1.1h-1.2zM84.8 34.0h1.2v1.1h-1.2zM120.5 11.7h1.2v1.1h-1.2zM127.7 24.2h1.2v1.1h-1.2zM125.3 28.8h1.2v1.1h-1.2zM122.6 21.4h1.2v1.1h-1.2zM113.0 2.2h1.2v1.1h-1.2zM117.9 8.2h1.2v1.1h-1.2zM91.2 1.7h1.2v1.1h-1.2zM93.4 5.9h1.2v1.1h-1.2zM91.1 3.3h1.2v1.1h-1.2zM88.6 5.7h1.2v1.1h-1.2zM106.3 8.4h1.2v1.1h-1.2zM94.5 15.1h1.2v1.1h-1.2zM96.7 20.6h1.2v1.1h-1.2zM81.9 0.1h1.2v1.1h-1.2zM74.7 2.8h1.2v1.1h-1.2zM77.8 7.5h1.2v1.1h-1.2zM68.8 6.7h1.2v1.1h-1.2zM65.9 5.2h1.2v1.1h-1.2zM117.2 40.0h1.2v1.1h-1.2zM122.4 55.2h1.2v1.1h-1.2zM123.8 58.9h1.2v1.1h-1.2zM121.7 62.6h1.2v1.1h-1.2zM120.5 62.6h1.2v1.1h-1.2zM70.0 24.6h1.2v1.1h-1.2zM77.8 15.8h1.2v1.1h-1.2zM67.0 13.9h1.2v1.1h-1.2zM65.1 26.1h1.2v1.1h-1.2zM62.8 19.8h1.2v1.1h-1.2zM58.8 21.2h1.2v1.1h-1.2zM93.4 22.1h1.2v1.1h-1.2zM89.7 23.6h1.2v1.1h-1.2zM89.3 19.5h1.2v1.1h-1.2zM87.0 9.5h1.2v1.1h-1.2zM67.6 11.9h1.2v1.1h-1.2zM59.1 12.0h1.2v1.1h-1.2zM9.0 54.2h1.2v1.1h-1.2zM9.0 54.2h1.2v1.1h-1.2zM13.0 53.1h1.2v1.1h-1.2zM16.9 51.6h1.2v1.1h-1.2zM6.5 54.6h1.2v1.1h-1.2zM37.7 67.2h1.2v1.1h-1.2zM37.8 67.2h1.2v1.1h-1.2zM11.3 42.0h1.2v1.1h-1.2zM9.7 41.3h1.2v1.1h-1.2zM0.7 56.9h1.2v1.1h-1.2zM7.2 34.6h1.2v1.1h-1.2zM112.3 37.6h1.2v1.1h-1.2zM109.7 33.6h1.2v1.1h-1.2zM102.1 38.2h1.2v1.1h-1.2zM103.6 61.3h1.2v1.1h-1.2zM112.7 29.8h1.2v1.1h-1.2zM117.8 27.4h1.2v1.1h-1.2zM90.1 64.3h1.2v1.1h-1.2zM65.5 62.7h1.2v1.1h-1.2zM93.7 59.9h1.2v1.1h-1.2zM77.4 63.8h1.2v1.1h-1.2zM122.0 17.1h1.2v1.1h-1.2zM119.7 19.6h1.2v1.1h-1.2zM121.6 31.7h1.2v1.1h-1.2zM127.0 20.0h1.2v1.1h-1.2zM121.5 28.8h1.2v1.1h-1.2zM123.2 24.7h1.2v1.1h-1.2zM126.7 24.1h1.2v1.1h-1.2zM125.6 23.5h1.2v1.1h-1.2zM110.6 7.8h1.2v1.1h-1.2zM107.1 7.7h1.2v1.1h-1.2zM113.3 7.6h1.2v1.1h-1.2zM113.8 8.3h1.2v1.1h-1.2zM81.6 6.2h1.2v1.1h-1.2zM93.9 9.8h1.2v1.1h-1.2zM108.9 17.4h1.2v1.1h-1.2zM108.8 17.2h1.2v1.1h-1.2zM78.6 -1.0h1.2v1.1h-1.2zM68.5 2.3h1.2v1.1h-1.2zM108.0 -0.2h1.2v1.1h-1.2zM125.7 33.1h1.2v1.1h-1.2zM127.3 32.7h1.2v1.1h-1.2zM122.1 45.1h1.2v1.1h-1.2zM121.2 67.8h1.2v1.1h-1.2zM124.4 64.4h1.2v1.1h-1.2zM64.4 12.7h1.2v1.1h-1.2zM64.7 13.3h1.2v1.1h-1.2zM62.2 12.6h1.2v1.1h-1.2zM64.1 23.9h1.2v1.1h-1.2zM64.1 25.1h1.2v1.1h-1.2zM53.5 21.8h1.2v1.1h-1.2zM84.8 22.9h1.2v1.1h-1.2zM82.9 20.2h1.2v1.1h-1.2zM92.9 25.6h1.2v1.1h-1.2zM54.9 35.7h1.2v1.1h-1.2zM17.9 20.5h1.2v1.1h-1.2zM42.0 23.7h1.2v1.1h-1.2zM42.0 24.4h1.2v1.1h-1.2zM36.2 19.0h1.2v1.1h-1.2zM32.9 18.9h1.2v1.1h-1.2zM38.0 20.1h1.2v1.1h-1.2zM38.9 9.4h1.2v1.1h-1.2zM38.2 7.2h1.2v1.1h-1.2zM37.9 8.0h1.2v1.1h-1.2zM35.5 17.1h1.2v1.1h-1.2zM57.3 0.9h1.2v1.1h-1.2zM58.8 4.6h1.2v1.1h-1.2zM48.6 11.0h1.2v1.1h-1.2zM13.8 40.3h1.2v1.1h-1.2zM14.7 40.5h1.2v1.1h-1.2zM11.6 37.4h1.2v1.1h-1.2zM5.8 57.0h1.2v1.1h-1.2zM3.6 55.6h1.2v1.1h-1.2zM1.9 57.4h1.2v1.1h-1.2zM31.3 60.3h1.2v1.1h-1.2zM27.2 65.8h1.2v1.1h-1.2zM33.6 63.1h1.2v1.1h-1.2zM30.2 49.3h1.2v1.1h-1.2zM31.9 45.8h1.2v1.1h-1.2zM31.4 48.4h1.2v1.1h-1.2zM33.5 37.4h1.2v1.1h-1.2zM32.8 38.2h1.2v1.1h-1.2zM20.6 22.2h1.2v1.1h-1.2zM29.9 34.8h1.2v1.1h-1.2zM29.6 35.1h1.2v1.1h-1.2zM36.6 34.1h1.2v1.1h-1.2zM-0.6 62.1h1.2v1.1h-1.2zM9.1 35.9h1.2v1.1h-1.2zM9.4 36.2h1.2v1.1h-1.2zM85.2 35.2h1.2v1.1h-1.2zM88.5 39.2h1.2v1.1h-1.2zM103.9 64.7h1.2v1.1h-1.2zM103.1 50.1h1.2v1.1h-1.2zM106.4 51.7h1.2v1.1h-1.2zM103.3 58.3h1.2v1.1h-1.2zM98.9 56.8h1.2v1.1h-1.2zM98.9 57.3h1.2v1.1h-1.2zM102.2 53.3h1.2v1.1h-1.2zM106.9 52.9h1.2v1.1h-1.2zM105.5 66.3h1.2v1.1h-1.2zM113.2 65.9h1.2v1.1h-1.2zM116.3 58.0h1.2v1.1h-1.2zM112.4 54.2h1.2v1.1h-1.2zM107.3 25.5h1.2v1.1h-1.2zM109.1 23.0h1.2v1.1h-1.2zM113.8 24.9h1.2v1.1h-1.2zM92.7 61.5h1.2v1.1h-1.2zM88.0 65.5h1.2v1.1h-1.2zM72.3 63.5h1.2v1.1h-1.2zM68.6 67.2h1.2v1.1h-1.2zM68.9 64.5h1.2v1.1h-1.2zM98.0 60.3h1.2v1.1h-1.2zM126.6 5.1h1.2v1.1h-1.2zM126.2 3.6h1.2v1.1h-1.2zM125.6 8.7h1.2v1.1h-1.2zM121.2 -0.2h1.2v1.1h-1.2zM119.4 15.2h1.2v1.1h-1.2zM108.8 6.2h1.2v1.1h-1.2zM110.7 4.8h1.2v1.1h-1.2zM107.6 6.5h1.2v1.1h-1.2zM103.6 11.2h1.2v1.1h-1.2zM107.0 12.6h1.2v1.1h-1.2zM93.5 5.9h1.2v1.1h-1.2zM96.5 12.2h1.2v1.1h-1.2zM106.2 13.9h1.2v1.1h-1.2zM104.7 17.4h1.2v1.1h-1.2zM103.7 20.4h1.2v1.1h-1.2zM103.4 20.6h1.2v1.1h-1.2zM79.7 2.3h1.2v1.1h-1.2zM78.1 7.1h1.2v1.1h-1.2zM77.2 2.7h1.2v1.1h-1.2zM120.8 -0.9h1.2v1.1h-1.2zM106.2 3.4h1.2v1.1h-1.2zM119.0 43.3h1.2v1.1h-1.2zM121.4 45.0h1.2v1.1h-1.2zM122.6 44.9h1.2v1.1h-1.2zM127.1 45.7h1.2v1.1h-1.2zM99.2 63.9h1.2v1.1h-1.2zM77.7 15.4h1.2v1.1h-1.2zM56.0 15.5h1.2v1.1h-1.2zM47.0 16.2h1.2v1.1h-1.2zM64.4 26.0h1.2v1.1h-1.2zM64.3 27.7h1.2v1.1h-1.2zM57.4 18.6h1.2v1.1h-1.2zM54.9 18.4h1.2v1.1h-1.2zM50.3 27.4h1.2v1.1h-1.2zM86.3 26.2h1.2v1.1h-1.2zM87.5 27.5h1.2v1.1h-1.2zM85.5 29.8h1.2v1.1h-1.2zM84.6 28.9h1.2v1.1h-1.2zM89.3 17.5h1.2v1.1h-1.2zM89.4 17.4h1.2v1.1h-1.2zM92.7 13.7h1.2v1.1h-1.2zM83.5 9.7h1.2v1.1h-1.2zM64.1 40.4h1.2v1.1h-1.2zM61.3 40.7h1.2v1.1h-1.2zM56.7 35.8h1.2v1.1h-1.2zM56.8 36.3h1.2v1.1h-1.2zM56.8 36.3h1.2v1.1h-1.2zM49.8 32.0h1.2v1.1h-1.2zM50.5 33.1h1.2v1.1h-1.2zM25.1 16.6h1.2v1.1h-1.2zM18.5 18.8h1.2v1.1h-1.2zM11.3 32.4h1.2v1.1h-1.2zM9.2 27.8h1.2v1.1h-1.2zM11.5 7.0h1.2v1.1h-1.2zM24.1 0.6h1.2v1.1h-1.2zM44.5 21.3h1.2v1.1h-1.2zM45.1 19.6h1.2v1.1h-1.2zM44.7 19.5h1.2v1.1h-1.2zM39.3 20.1h1.2v1.1h-1.2zM38.0 13.0h1.2v1.1h-1.2zM37.7 13.2h1.2v1.1h-1.2zM51.7 0.4h1.2v1.1h-1.2zM55.8 9.3h1.2v1.1h-1.2zM52.8 12.9h1.2v1.1h-1.2zM15.3 39.8h1.2v1.1h-1.2zM14.8 56.4h1.2v1.1h-1.2zM31.5 66.5h1.2v1.1h-1.2zM31.6 64.6h1.2v1.1h-1.2zM28.9 62.7h1.2v1.1h-1.2zM27.9 60.3h1.2v1.1h-1.2zM23.4 58.8h1.2v1.1h-1.2zM22.0 57.6h1.2v1.1h-1.2zM21.6 57.3h1.2v1.1h-1.2zM13.4 61.4h1.2v1.1h-1.2zM14.0 66.7h1.2v1.1h-1.2zM36.4 62.9h1.2v1.1h-1.2zM28.1 53.7h1.2v1.1h-1.2zM35.7 59.1h1.2v1.1h-1.2zM37.9 60.2h1.2v1.1h-1.2zM6.3 50.6h1.2v1.1h-1.2zM25.3 38.8h1.2v1.1h-1.2zM29.2 41.6h1.2v1.1h-1.2zM32.7 41.5h1.2v1.1h-1.2zM24.4 24.8h1.2v1.1h-1.2zM21.3 27.2h1.2v1.1h-1.2zM18.0 20.6h1.2v1.1h-1.2zM48.3 29.3h1.2v1.1h-1.2zM40.4 38.5h1.2v1.1h-1.2zM36.1 30.0h1.2v1.1h-1.2zM42.9 37.1h1.2v1.1h-1.2zM40.4 36.9h1.2v1.1h-1.2zM44.1 34.8h1.2v1.1h-1.2zM4.8 66.7h1.2v1.1h-1.2zM7.4 39.2h1.2v1.1h-1.2zM95.4 44.3h1.2v1.1h-1.2zM97.5 45.4h1.2v1.1h-1.2zM111.4 29.1h1.2v1.1h-1.2zM107.7 26.9h1.2v1.1h-1.2zM106.8 28.9h1.2v1.1h-1.2zM102.1 41.0h1.2v1.1h-1.2zM99.5 42.4h1.2v1.1h-1.2zM100.5 41.7h1.2v1.1h-1.2zM97.8 41.2h1.2v1.1h-1.2zM97.9 37.3h1.2v1.1h-1.2zM93.7 40.7h1.2v1.1h-1.2zM80.0 43.9h1.2v1.1h-1.2zM99.5 63.8h1.2v1.1h-1.2zM101.1 63.0h1.2v1.1h-1.2zM101.0 65.9h1.2v1.1h-1.2zM101.2 65.9h1.2v1.1h-1.2zM111.3 53.1h1.2v1.1h-1.2zM107.7 47.1h1.2v1.1h-1.2zM116.6 63.0h1.2v1.1h-1.2zM118.2 50.5h1.2v1.1h-1.2zM103.4 28.5h1.2v1.1h-1.2zM103.7 27.1h1.2v1.1h-1.2zM99.9 26.1h1.2v1.1h-1.2zM78.6 67.0h1.2v1.1h-1.2zM82.7 60.5h1.2v1.1h-1.2zM78.9 48.6h1.2v1.1h-1.2zM76.5 50.8h1.2v1.1h-1.2zM74.0 55.6h1.2v1.1h-1.2zM73.0 59.0h1.2v1.1h-1.2zM98.9 12.7h1.2v1.1h-1.2zM99.7 9.5h1.2v1.1h-1.2zM76.5 0.3h1.2v1.1h-1.2zM91.7 1.4h1.2v1.1h-1.2zM102.5 5.0h1.2v1.1h-1.2zM101.2 6.2h1.2v1.1h-1.2zM119.9 41.3h1.2v1.1h-1.2zM119.9 41.3h1.2v1.1h-1.2zM94.4 66.3h1.2v1.1h-1.2zM45.6 16.9h1.2v1.1h-1.2zM43.3 14.3h1.2v1.1h-1.2zM44.8 15.3h1.2v1.1h-1.2zM57.4 26.5h1.2v1.1h-1.2zM89.1 16.5h1.2v1.1h-1.2zM84.6 10.4h1.2v1.1h-1.2zM86.3 11.8h1.2v1.1h-1.2zM86.1 12.8h1.2v1.1h-1.2zM68.8 39.9h1.2v1.1h-1.2zM67.2 43.1h1.2v1.1h-1.2zM58.6 44.1h1.2v1.1h-1.2zM68.5 34.6h1.2v1.1h-1.2zM62.4 32.7h1.2v1.1h-1.2zM65.0 33.9h1.2v1.1h-1.2zM64.1 36.9h1.2v1.1h-1.2zM57.3 34.6h1.2v1.1h-1.2zM60.5 31.4h1.2v1.1h-1.2zM58.3 48.3h1.2v1.1h-1.2zM64.2 56.7h1.2v1.1h-1.2zM59.1 55.1h1.2v1.1h-1.2zM34.0 49.8h1.2v1.1h-1.2zM62.1 63.1h1.2v1.1h-1.2zM60.3 63.7h1.2v1.1h-1.2zM63.3 64.7h1.2v1.1h-1.2zM62.1 65.5h1.2v1.1h-1.2zM61.9 65.5h1.2v1.1h-1.2zM54.1 67.2h1.2v1.1h-1.2zM51.6 62.1h1.2v1.1h-1.2zM61.5 0.5h1.2v1.1h-1.2zM61.8 0.3h1.2v1.1h-1.2zM8.8 22.6h1.2v1.1h-1.2zM9.2 27.8h1.2v1.1h-1.2zM5.3 29.9h1.2v1.1h-1.2zM6.9 21.5h1.2v1.1h-1.2zM3.0 24.1h1.2v1.1h-1.2zM17.1 9.1h1.2v1.1h-1.2zM30.5 15.9h1.2v1.1h-1.2zM27.8 9.3h1.2v1.1h-1.2zM46.8 25.8h1.2v1.1h-1.2zM41.7 5.2h1.2v1.1h-1.2zM36.7 16.0h1.2v1.1h-1.2zM54.1 -0.8h1.2v1.1h-1.2zM17.4 54.7h1.2v1.1h-1.2zM20.7 53.2h1.2v1.1h-1.2zM11.5 67.0h1.2v1.1h-1.2zM26.1 57.3h1.2v1.1h-1.2zM28.1 53.8h1.2v1.1h-1.2zM32.5 56.1h1.2v1.1h-1.2zM32.7 56.9h1.2v1.1h-1.2zM44.5 58.5h1.2v1.1h-1.2zM26.8 41.5h1.2v1.1h-1.2zM16.9 27.6h1.2v1.1h-1.2zM24.8 25.1h1.2v1.1h-1.2zM25.7 35.9h1.2v1.1h-1.2zM27.7 36.0h1.2v1.1h-1.2zM39.1 31.3h1.2v1.1h-1.2zM40.4 33.0h1.2v1.1h-1.2zM41.3 31.9h1.2v1.1h-1.2zM101.3 44.3h1.2v1.1h-1.2zM90.9 54.6h1.2v1.1h-1.2zM91.2 56.8h1.2v1.1h-1.2zM102.8 43.2h1.2v1.1h-1.2zM102.0 42.5h1.2v1.1h-1.2zM101.2 44.0h1.2v1.1h-1.2zM92.3 44.7h1.2v1.1h-1.2zM85.5 45.3h1.2v1.1h-1.2zM89.1 52.5h1.2v1.1h-1.2zM88.2 46.5h1.2v1.1h-1.2zM81.7 38.6h1.2v1.1h-1.2zM81.8 40.8h1.2v1.1h-1.2zM71.6 44.0h1.2v1.1h-1.2zM77.5 45.4h1.2v1.1h-1.2zM76.2 46.0h1.2v1.1h-1.2zM77.1 45.9h1.2v1.1h-1.2zM110.9 63.3h1.2v1.1h-1.2zM115.6 62.7h1.2v1.1h-1.2zM112.9 59.0h1.2v1.1h-1.2zM83.4 67.0h1.2v1.1h-1.2zM76.4 53.4h1.2v1.1h-1.2zM76.3 51.8h1.2v1.1h-1.2zM124.9 3.3h1.2v1.1h-1.2zM122.0 2.0h1.2v1.1h-1.2zM121.4 7.5h1.2v1.1h-1.2zM95.3 0.7h1.2v1.1h-1.2zM95.7 5.4h1.2v1.1h-1.2zM95.2 5.2h1.2v1.1h-1.2zM123.7 43.0h1.2v1.1h-1.2zM89.0 14.3h1.2v1.1h-1.2zM88.6 13.0h1.2v1.1h-1.2zM69.0 29.9h1.2v1.1h-1.2zM70.3 31.0h1.2v1.1h-1.2zM46.3 39.2h1.2v1.1h-1.2zM49.7 35.8h1.2v1.1h-1.2zM51.0 36.9h1.2v1.1h-1.2zM65.1 52.9h1.2v1.1h-1.2zM59.5 51.8h1.2v1.1h-1.2zM61.9 52.7h1.2v1.1h-1.2zM63.0 49.3h1.2v1.1h-1.2zM61.2 48.8h1.2v1.1h-1.2zM58.8 61.6h1.2v1.1h-1.2zM58.1 61.1h1.2v1.1h-1.2zM59.1 55.2h1.2v1.1h-1.2zM47.5 62.0h1.2v1.1h-1.2zM36.5 45.8h1.2v1.1h-1.2zM51.2 65.6h1.2v1.1h-1.2zM56.6 65.9h1.2v1.1h-1.2zM2.5 34.7h1.2v1.1h-1.2zM2.2 21.5h1.2v1.1h-1.2zM1.5 15.9h1.2v1.1h-1.2zM19.5 7.6h1.2v1.1h-1.2zM14.6 26.7h1.2v1.1h-1.2zM13.5 29.9h1.2v1.1h-1.2zM25.7 1.8h1.2v1.1h-1.2zM17.2 11.1h1.2v1.1h-1.2zM12.6 15.0h1.2v1.1h-1.2zM5.5 3.5h1.2v1.1h-1.2zM5.3 4.2h1.2v1.1h-1.2zM32.9 -1.0h1.2v1.1h-1.2zM19.4 5.0h1.2v1.1h-1.2zM36.9 3.8h1.2v1.1h-1.2zM36.2 1.4h1.2v1.1h-1.2zM28.8 8.0h1.2v1.1h-1.2zM29.7 7.2h1.2v1.1h-1.2zM32.8 8.6h1.2v1.1h-1.2zM53.0 21.9h1.2v1.1h-1.2zM44.5 0.7h1.2v1.1h-1.2zM37.8 14.1h1.2v1.1h-1.2zM37.8 14.6h1.2v1.1h-1.2zM41.1 18.1h1.2v1.1h-1.2zM54.4 2.0h1.2v1.1h-1.2zM21.5 35.2h1.2v1.1h-1.2zM23.5 61.9h1.2v1.1h-1.2zM23.2 59.8h1.2v1.1h-1.2zM16.3 64.2h1.2v1.1h-1.2zM39.1 61.2h1.2v1.1h-1.2zM27.3 38.5h1.2v1.1h-1.2zM26.4 41.5h1.2v1.1h-1.2zM27.4 25.1h1.2v1.1h-1.2zM25.4 18.1h1.2v1.1h-1.2zM31.9 18.7h1.2v1.1h-1.2zM36.0 29.9h1.2v1.1h-1.2zM35.6 26.3h1.2v1.1h-1.2zM20.8 27.4h1.2v1.1h-1.2zM19.7 27.6h1.2v1.1h-1.2zM42.4 27.9h1.2v1.1h-1.2zM45.7 27.1h1.2v1.1h-1.2zM49.1 31.4h1.2v1.1h-1.2zM46.6 33.3h1.2v1.1h-1.2zM6.4 44.2h1.2v1.1h-1.2zM6.8 46.7h1.2v1.1h-1.2zM2.4 48.2h1.2v1.1h-1.2zM2.2 48.2h1.2v1.1h-1.2zM1.1 46.5h1.2v1.1h-1.2zM0.4 37.6h1.2v1.1h-1.2zM3.3 38.1h1.2v1.1h-1.2zM93.2 48.1h1.2v1.1h-1.2zM98.2 46.6h1.2v1.1h-1.2zM97.6 45.5h1.2v1.1h-1.2zM91.6 49.5h1.2v1.1h-1.2zM91.4 51.1h1.2v1.1h-1.2zM87.9 55.4h1.2v1.1h-1.2zM75.0 42.2h1.2v1.1h-1.2zM77.1 40.6h1.2v1.1h-1.2zM77.2 40.6h1.2v1.1h-1.2zM78.4 44.2h1.2v1.1h-1.2zM107.0 58.9h1.2v1.1h-1.2zM107.0 60.9h1.2v1.1h-1.2zM80.4 64.4h1.2v1.1h-1.2zM82.6 66.1h1.2v1.1h-1.2zM76.2 60.4h1.2v1.1h-1.2zM79.1 58.0h1.2v1.1h-1.2zM73.5 56.4h1.2v1.1h-1.2zM76.0 57.7h1.2v1.1h-1.2zM75.8 54.9h1.2v1.1h-1.2zM82.5 52.4h1.2v1.1h-1.2zM81.2 46.9h1.2v1.1h-1.2zM101.2 2.3h1.2v1.1h-1.2zM53.7 50.1h1.2v1.1h-1.2zM63.7 57.9h1.2v1.1h-1.2zM58.1 55.2h1.2v1.1h-1.2zM57.0 57.9h1.2v1.1h-1.2zM42.7 41.8h1.2v1.1h-1.2zM40.9 45.8h1.2v1.1h-1.2zM49.7 66.8h1.2v1.1h-1.2zM47.3 64.7h1.2v1.1h-1.2zM1.8 25.7h1.2v1.1h-1.2zM2.4 31.5h1.2v1.1h-1.2zM-0.2 28.5h1.2v1.1h-1.2zM-0.4 35.1h1.2v1.1h-1.2zM26.8 6.7h1.2v1.1h-1.2zM25.7 7.2h1.2v1.1h-1.2zM26.1 2.4h1.2v1.1h-1.2zM26.5 2.6h1.2v1.1h-1.2zM26.5 2.7h1.2v1.1h-1.2zM16.1 30.2h1.2v1.1h-1.2zM21.4 -0.9h1.2v1.1h-1.2zM8.0 3.9h1.2v1.1h-1.2zM10.1 2.5h1.2v1.1h-1.2zM9.6 2.3h1.2v1.1h-1.2zM15.5 4.5h1.2v1.1h-1.2zM11.6 6.9h1.2v1.1h-1.2zM16.4 5.7h1.2v1.1h-1.2zM34.3 5.2h1.2v1.1h-1.2zM30.6 4.8h1.2v1.1h-1.2zM41.7 1.0h1.2v1.1h-1.2zM20.0 31.2h1.2v1.1h-1.2zM20.3 30.9h1.2v1.1h-1.2zM35.9 51.2h1.2v1.1h-1.2zM37.6 50.3h1.2v1.1h-1.2zM39.0 56.6h1.2v1.1h-1.2zM36.5 56.1h1.2v1.1h-1.2zM44.8 61.5h1.2v1.1h-1.2zM44.1 60.7h1.2v1.1h-1.2zM25.5 21.1h1.2v1.1h-1.2zM23.8 19.7h1.2v1.1h-1.2zM24.4 19.8h1.2v1.1h-1.2zM33.8 27.0h1.2v1.1h-1.2zM26.4 31.2h1.2v1.1h-1.2zM26.9 32.4h1.2v1.1h-1.2zM46.5 33.1h1.2v1.1h-1.2zM45.1 31.1h1.2v1.1h-1.2zM45.5 30.9h1.2v1.1h-1.2zM103.6 63.5h1.2v1.1h-1.2zM78.7 55.3h1.2v1.1h-1.2zM50.3 43.4h1.2v1.1h-1.2zM53.8 47.1h1.2v1.1h-1.2zM51.1 47.2h1.2v1.1h-1.2zM52.7 53.6h1.2v1.1h-1.2zM47.5 54.2h1.2v1.1h-1.2zM44.6 54.2h1.2v1.1h-1.2zM47.7 55.0h1.2v1.1h-1.2zM41.1 41.5h1.2v1.1h-1.2zM41.7 42.2h1.2v1.1h-1.2zM4.7 13.6h1.2v1.1h-1.2zM2.6 14.7h1.2v1.1h-1.2zM1.7 12.8h1.2v1.1h-1.2zM3.8 10.4h1.2v1.1h-1.2zM3.7 10.4h1.2v1.1h-1.2zM22.9 8.9h1.2v1.1h-1.2zM16.8 2.0h1.2v1.1h-1.2zM16.8 1.5h1.2v1.1h-1.2zM11.2 2.2h1.2v1.1h-1.2zM23.2 31.6h1.2v1.1h-1.2zM24.5 33.6h1.2v1.1h-1.2zM20.2 31.8h1.2v1.1h-1.2zM18.8 62.5h1.2v1.1h-1.2zM20.2 61.4h1.2v1.1h-1.2zM17.5 60.5h1.2v1.1h-1.2zM48.4 32.8h1.2v1.1h-1.2zM50.4 48.3h1.2v1.1h-1.2zM49.1 43.4h1.2v1.1h-1.2zM56.6 52.6h1.2v1.1h-1.2zM55.1 52.9h1.2v1.1h-1.2zM50.2 58.5h1.2v1.1h-1.2zM51.9 56.3h1.2v1.1h-1.2zM49.9 56.7h1.2v1.1h-1.2zM52.9 58.8h1.2v1.1h-1.2zM24.4 5.7h1.2v1.1h-1.2zM28.6 19.9h1.2v1.1h-1.2zM28.5 16.7h1.2v1.1h-1.2zM25.9 18.3h1.2v1.1h-1.2zM25.8 19.2h1.2v1.1h-1.2zM47.2 50.2h1.2v1.1h-1.2z"/></pattern><pattern id="T2" width="128" height="68" patternUnits="userSpaceOnUse"><g transform="scale(0.1)" fill="none" stroke-linecap="round"><path stroke="#a444b0" stroke-width="6" d="M252 -36l50 29M723 455l9 -42M1227 173l-14 -30M1193 149l15 39M-22 179l34 -11M14 162l25 -11M-26 354l44 24M45 334l27 5M24 371l59 -11M257 69l27 -6M303 66l13 -20M700 405l-4 0M658 359l23 38M700 405l8 -28M762 408l9 -10M749 365l-12 3M795 497l-25 -35M770 462l11 -19M707 574l16 -25M723 548l15 -3M810 574l-50 -14M760 560l16 -13M899 524l-27 -3M1296 109l-22 9M1274 82l26 12M1269 230l17 5M1268 207l7 -5M1292 168l-34 11M1258 179l-1 9M1010 -2l14 -14M848 -8l32 -41M504 184l6 -37M131 292l6 -5M254 15l-38 -3M13 179l16 15M-11 230l17 5M1143 46l-4 37M1139 83l6 17M1157 44l23 -6M1163 92l9 -1M1260 47l-4 -34M1241 79l-2 7M1274 82l-1 -2M1208 117l2 -21M278 158l-11 5M316 46l40 14M918 354l22 21M891 439l33 27M924 466l28 -4M874 325l35 10M887 288l17 -8M928 322l-12 17M966 501l41 13M1120 321l30 1M661 548l-10 37M693 611l-8 4M758 593l1 2M682 655l-5 -33M1170 498l-1 -7M1210 505l8 -29M1028 529l-1 4M972 550l-8 13M1028 589l-24 20M586 673l-1 11M289 204l35 32M265 211l2 -1M273 264l-14 -14M1276 58l-2 -6M1147 289l9 9M1272 122l-25 10M1303 508l-45 26M1257 534l16 10M1289 481l-2 10M1303 508l-15 -16M1194 353l9 5M1165 373l4 4M1286 425l-32 -13M1295 418l-9 7M1013 11l-17 12M978 20l6 5M595 250l-39 26M595 250l20 9M832 207l-4 -2M829 260l6 1M831 181l-4 19M832 207l38 5M732 141l-36 6M732 141l12 20M735 126l39 14M771 158l-7 4M752 95l17 -6M550 125l-32 -13M70 299l29 14M73 339l27 -24M189 251l7 39M122 215l27 25M92 691l1 -7M210 699l-43 -10M219 656l-5 -5M28 69l42 -5M79 164l-2 6M118 132l40 -25M118 132l-4 0M453 236l15 49M357 113l-12 -29M346 84l-32 3M295 129l5 22M285 156l15 -5M481 143l4 20M504 184l-0 2M942 412l18 -1M932 422l9 2M903 416l32 -13M901 409l36 -27M935 404l3 -22M864 450l-20 -17M964 232l-42 -16M869 212l2 18M845 242l17 4M791 282l-10 -6M836 287l-29 -13M1006 352l16 -32M1014 288l15 9M1155 323l-1 -1M1166 420l13 -35M763 653l-18 4M730 621l15 36M743 697l-35 -7M584 558l15 18M549 583l45 3M560 571l38 7M594 602l26 5M1257 534l-1 -1M1110 602l-31 4M858 595l39 -16M682 655l-12 12M290 407l6 7M229 395l32 20M321 389l-4 -10M320 435l-15 -15M296 457l-24 32M1156 298l7 -6M1166 291l40 -26M1234 616l44 -7M1290 663l-10 15M1256 639l9 -1M1236 636l1 36M1205 604l-7 10M1133 587l31 11M1216 601l6 -35M1229 609l-13 -8M1039 68l-4 12M635 212l-56 14M681 221l-37 -22M542 244l35 -17M568 177l-8 -2M585 315l62 -33M601 -24l-16 17M669 24l-8 -18M571 46l32 4M875 -5l-6 -3M908 93l49 -15M302 -7l9 -11M209 95l33 -9M168 88l-3 6M294 99l-22 22M93 4l-24 -24M94 77l4 -2M413 303l-1 -2M408 79l13 -7M435 133l-8 -22M392 120l2 5M459 178l18 -9M471 202l10 -6M504 186l-22 10M846 383l6 7M846 383l17 -45M862 338l20 25M896 399l-36 -10M1178 239l4 -25M1163 292l3 -51M846 78l-14 -38M1002 255l2 -2M976 217l4 -1M1004 254l22 11M971 416l3 -2M1062 448l1 -1M1081 543l24 -35M1098 400l-2 -1M1034 402l7 9M494 379l10 34M670 315l-12 44M790 634l7 41M602 638l-21 -16M670 624l-21 -5M645 460l-0 -20M1222 566l1 -2M1170 640l-19 28M1150 670l-18 3M901 603l27 -0M489 643l27 19M489 643l3 -14M522 610l22 -7M171 666l4 -14M111 529l-33 -16M70 518l3 30M238 257l-4 3M188 230l3 -3M215 288l-22 -44M166 232l22 -3M304 524l1 -11M229 393l9 -10M328 362l-12 18M115 347l15 5M1278 610l1 8M1184 -22l-11 22M687 205l17 19M754 271l0 -1M758 193l6 -30M705 -4l2 13M745 13l-1 3M705 -4l-7 -7M622 70l16 -1M933 159l-17 24M916 183l-6 4M902 198l9 -11M596 92l18 1M194 152l-3 -5M194 165l-10 -1M207 133l-13 19M302 673l-22 18M502 569l-5 1M305 512l8 -3M343 520l18 -15M343 520l12 36M378 506l20 29M355 556l43 -21M117 658l-17 -39M149 620l-6 0M196 642l-12 -6M208 644l-12 -2M177 410l47 -8M167 9l43 10M305 305l-8 26M337 313l0 1M361 300l13 -24M344 296l-2 -21M324 240l24 23M411 369l-26 -32M413 303l-38 22M365 318l-0 -11M490 375l-23 4M416 344l17 -2M411 370l-0 -0M854 96l-2 31M870 137l-18 -11M901 94l-14 -3M887 91l-24 -21M1016 220l-8 5M1026 207l-10 13M996 427l-4 -4M1076 502l-9 -18M606 419l14 -16M570 365l4 13M645 440l-7 0M570 414l7 -17M838 666l18 -33M790 634l27 -12M890 631l-10 -0M858 595l2 -40M815 581l-0 3M446 639l3 -30M489 643l-14 9M208 638l6 -17M35 516l7 -4M-23 534l16 10M107 569l-6 -20M229 393l-29 -26M177 410l4 -26M1113 106l-0 -24M1134 42l-43 12M1035 117l14 7M1072 115l6 -10M1121 119l-15 30M1078 174l22 -25M774 211l-15 25M754 269l-4 -8M703 302l32 -43M754 271l-2 4M660 93l-9 -4M638 68l13 21M361 505l-11 -21M328 362l13 -3M339 408l7 -4M346 356l-5 3M419 545l1 -5M441 605l-10 -19M119 524l11 -1M364 319l-12 1M351 357l13 -3M1161 164l0 -2M1123 157l1 10M1049 645l0 15M25 474l-4 -50M-9 455l0 -14M6 425l9 -7M53 395l24 17M355 556l-5 8M351 563l-41 -3M295 601l7 -16M294 621l13 -5M315 598l-13 -13M266 555l9 15M411 370l-10 38M130 523l17 -31M266 555l-5 -3M231 593l7 -8M1115 466l-1 -2M569 494l-15 0M547 502l5 23M638 532l-26 -24M612 508l-19 5M569 494l13 -22M554 494l0 -8M52 607l-19 0M245 541l-15 15M231 536l-3 1M207 530l21 7M612 508l-0 -3M29 617l-8 5M-1 618l-1 -8M334 608l-12 12M351 563l11 33M337 607l24 -8M367 669l-40 -10M370 628l-7 -13M327 660l7 -13M434 481l13 -13M467 379l-17 37"/><path stroke="#a444b0" stroke-width="10" d="M280 11l22 -18M259 18l-5 -2M1267 227l-38 -15M799 -3l31 11M36 317l9 9M45 334l-22 37M951 315l20 9M755 361l9 -33M696 405l-10 23M720 340l2 9M659 359l-1 0M744 472l26 -10M707 574l51 20M769 525l8 22M1255 193l2 -4M1069 32l9 -24M1049 -20l29 27M891 -43l-22 35M839 -6l8 -2M748 94l-16 24M736 70l-34 6M549 157l-1 -5M109 279l21 13M40 196l7 23M58 96l4 19M40 196l20 -18M-10 324l31 -31M36 317l-14 -24M1239 86l0 6M1210 96l-11 -10M1210 96l29 -3M1201 76l-2 10M267 211l-0 -48M551 317l-40 -16M317 20l23 5M359 52l-3 8M399 49l15 11M399 49l-40 3M919 346l-0 9M962 369l-22 7M891 439l12 -22M864 450l-1 13M966 490l-12 -28M954 463l-3 -0M1116 297l-6 11M1111 308l-30 3M1080 311l-2 -8M1078 303l2 -12M874 325l13 -37M1005 477l2 37M1005 477l5 -3M954 463l2 -3M956 460l17 -4M973 455l37 9M991 446l22 13M1158 334l-2 29M1194 353l-29 20M1156 363l4 6M1187 436l-12 17M1234 439l-3 8M1169 491l11 -12M1081 543l-19 -25M1055 552l-29 -19M1048 520l-21 9M1088 557l-2 -3M1088 557l-31 29M1028 589l0 0M1036 481l-12 4M902 669l-27 6M918 553l-0 6M1002 616l-35 1M634 669l-32 -13M294 269l-21 -5M303 287l-0 8M1116 282l31 7M1233 110l14 21M1214 143l0 -0M1234 439l9 -1M1253 354l1 0M531 227l11 17M542 263l14 14M582 309l-1 -3M832 207l13 34M872 160l23 37M744 160l-28 15M732 118l3 8M736 70l10 -19M751 43l-6 8M495 49l13 -4M508 45l33 -4M131 292l2 6M161 326l12 -39M91 239l-6 14M84 253l-27 9M-20 47l14 4M21 78l-0 16M68 130l24 9M62 172l15 -2M509 327l-17 11M492 338l-5 -4M467 285l5 3M571 46l2 17M356 66l-10 18M356 66l-0 -6M427 177l-8 -8M354 168l16 39M482 142l-0 1M435 133l-2 7M560 174l-29 45M903 416l-1 -8M942 412l-7 -8M903 368l-7 32M807 441l13 -7M793 316l-14 4M811 121l-27 27M918 256l-1 -38M871 230l-9 16M838 265l-3 -4M868 280l-28 22M820 325l11 -6M829 260l-15 2M974 244l28 11M1044 340l-3 -6M1023 320l6 -2M1035 451l-17 1M1062 448l-24 2M1045 481l14 -6M1035 451l3 -1M1083 327l17 13M1100 340l6 16M1107 363l-1 -8M1178 424l37 -27M1215 397l1 -5M1134 430l15 8M678 454l-30 -17M745 693l32 -18M755 606l22 24M615 571l16 -31M655 533l-17 -0M594 586l4 -8M620 579l1 28M1274 498l-20 23M1256 534l-2 -12M1171 573l2 -15M1206 530l0 0M1131 586l2 1M1121 630l-5 -6M679 681l10 25M660 687l1 -18M642 663l19 7M206 215l23 6M261 415l5 20M1155 323l49 -9M1192 342l20 -20M1239 631l17 7M1270 324l-4 9M582 230l-4 -3M634 248l-18 11M676 178l-15 2M687 199l-0 6M651 285l-4 -4M806 223l-8 17M629 17l-25 34M921 48l1 -25M956 65l1 13M1009 71l-37 16M789 98l-17 19M772 117l0 -0M814 80l-13 19M184 80l19 -25M367 670l10 5M67 44l24 -33M93 4l0 0M119 93l17 -6M476 314l-31 4M445 318l-13 -10M329 117l21 10M313 103l-3 23M461 151l-5 24M1166 241l-3 -0M1216 193l-34 21M1209 188l-21 -5M1188 182l-4 -34M1113 245l-15 -17M837 23l-4 18M904 92l0 -0M1014 288l11 -22M971 87l16 16M1102 372l-7 26M1107 363l-5 8M651 285l4 15M658 359l-0 -0M635 396l9 -33M891 637l-1 -6M777 630l13 4M1151 629l0 0M1121 630l-1 32M918 558l25 11M967 617l-16 4M954 568l-5 1M523 658l-3 4M77 598l-3 -3M234 260l-40 -16M190 227l7 -3M210 294l5 -6M177 191l33 -16M274 539l-20 -34M234 602l36 -5M270 597l1 8M145 352l20 -7M129 387l12 -2M1297 571l-8 6M1173 -0l-23 -10M1009 70l25 35M1028 118l7 -1M776 322l-22 -51M645 49l34 -20M642 40l3 9M686 29l-2 2M876 141l7 -4M954 185l-1 18M169 127l10 14M547 585l-22 -28M313 510l16 -26M361 505l17 1M143 621l-17 -8M69 660l24 24M163 618l21 17M248 501l6 -2M167 415l-2 4M161 493l25 7M160 17l1 23M150 19l-27 26M125 53l-2 -9M167 9l-7 8M203 55l-42 -16M167 9l-1 -4M93 4l57 14M121 60l4 -7M84 174l29 -18M84 174l6 8M77 170l7 4M132 177l-11 -11M303 287l3 -0M369 344l15 -7M369 344l4 -19M458 335l-5 8M467 379l-16 -8M450 371l3 -28M846 78l17 -9M879 61l-14 5M865 66l-5 -33M837 23l22 11M1016 220l20 21M1016 426l-5 5M577 397l29 21M527 419l16 -1M543 418l4 -3M856 633l9 -7M848 672l32 -41M858 595l-7 5M834 559l26 -4M865 626l-14 -26M475 653l19 23M-6 498l-22 -22M-6 498l14 -7M50 643l2 14M30 710l20 -52M178 589l-2 1M153 563l23 27M-7 544l33 -4M1113 106l-35 -1M1140 115l-14 -1M1075 173l-21 -48M1095 215l1 -6M1078 174l-3 -1M1091 132l9 17M717 222l6 -9M676 178l19 -13M750 262l10 -19M702 301l1 0M705 304l47 -29M635 101l13 30M933 143l5 -1M959 116l-1 7M615 95l-2 21M568 177l28 -33M321 389l18 18M341 359l5 44M111 529l8 -5M84 493l13 -13M119 524l-23 -44M248 501l-11 11M190 523l-3 -24M365 318l-1 1M346 356l-1 -10M1144 184l-20 -2M1096 499l3 -8M1078 687l-29 -27M99 444l-8 -7M43 446l48 -9M292 624l2 -3M271 605l24 -4M275 571l-3 3M999 141l-9 -6M496 471l15 -4M471 506l46 -20M337 458l4 10M378 506l15 -37M350 484l39 -15M149 422l-8 31M1113 427l-2 12M524 557l29 -29M606 430l-7 8M398 535l22 5M434 481l-29 -17M401 407l4 6M235 563l-5 -7M583 473l2 0M645 460l-26 17M-2 622l1 -4M-2 610l0 -1M307 617l16 4M323 620l-11 41M334 608l2 -0M405 610l-17 -16M387 594l1 0"/><path stroke="#c456bb" stroke-width="6" d="M1228 205l1 8M1219 193l-3 -0M763 -27l14 22M-29 157l30 -6M-8 122l9 30M40 144l-25 -34M36 317l-49 16M282 53l3 8M286 61l-2 1M983 284l-1 -2M794 378l-5 3M686 428l-31 -2M693 445l-7 -16M708 376l15 -27M705 676l-7 -7M791 506l-18 6M769 525l-29 9M757 562l-19 -17M794 544l-18 3M800 534l-5 10M838 513l29 13M1286 189l-3 2M1293 216l-7 -27M1005 -9l6 7M1042 -15l-13 31M1013 11l16 5M1069 32l-21 -1M-8 122l-25 10M22 98l-2 -4M29 194l-7 17M219 -24l-2 36M1180 38l-8 53M1207 -26l11 21M1237 -8l-18 3M1199 31l57 -17M1241 79l33 1M1262 103l-23 -10M380 214l-12 48M514 329l-5 -1M393 23l26 -2M393 23l-13 -10M377 -5l3 18M1055 300l-12 -27M1198 438l20 -16M1063 518l-15 2M908 661l-6 7M544 603l1 -3M260 223l5 -12M1274 80l2 -22M1233 110l-19 12M1214 122l0 20M1239 93l-6 17M1289 481l15 -7M1170 376l33 -18M1228 379l4 -6M556 276l25 30M692 127l5 20M777 49l0 4M511 104l6 8M482 142l26 1M100 315l-1 -2M161 326l-18 -10M197 290l-23 -3M47 219l1 1M30 261l13 -3M238 165l-11 9M238 165l19 -47M170 667l-4 18M170 667l-18 -23M152 644l-15 21M216 692l2 -36M171 666l43 -15M-39 79l33 1M-6 52l2 6M18 39l8 -9M18 39l-23 13M21 78l-25 -21M13 217l0 -0M50 -23l-20 52M30 30l37 14M216 12l-6 6M121 104l-11 26M1237 -8l19 7M1306 30l-25 -32M493 -5l-22 34M493 -5l-19 -23M434 75l37 -33M541 41l9 -4M574 63l-6 23M378 75l1 37M380 112l-22 1M313 87l-4 6M427 177l7 58M380 214l-1 -1M435 235l-2 1M354 168l-11 -7M327 174l-13 6M549 157l11 17M956 460l5 -18M928 425l5 -3M971 416l-5 -3M827 142l-7 20M848 143l-25 25M820 162l3 5M870 137l6 4M870 137l-21 6M928 322l-2 -55M910 335l6 4M896 197l6 1M902 198l16 19M918 256l-19 -5M862 331l-27 -12M1080 322l-36 19M1029 318l3 3M1218 422l-3 -24M1203 358l28 15M1162 421l-11 15M1152 437l-2 1M1166 420l-4 1M1113 427l21 2M1175 453l-24 -17M651 428l-3 9M745 657l-4 9M593 592l1 -6M565 563l15 -6M580 557l1 -16M1251 476l-16 11M1170 498l-33 18M1158 545l4 -0M1206 530l-34 -23M1121 630l29 -1M1056 586l22 20M669 704l-8 -18M261 415l29 -8M305 419l-9 -6M263 490l-17 -28M1204 313l-0 -9M1210 282l32 17M1166 291l38 14M1212 253l-3 2M1209 255l-2 9M1199 711l20 -36M1216 601l-11 4M1205 652l3 1M985 25l-7 25M978 50l32 18M643 198l-7 5M531 219l1 8M651 285l37 -13M781 275l15 -34M661 -11l-1 18M628 14l0 2M883 28l35 21M789 98l12 1M208 115l43 -4M93 4l-1 7M121 104l-2 -11M121 203l4 -6M417 307l15 -0M329 117l-19 9M343 162l-1 -2M434 75l-13 -3M369 162l24 -38M417 161l3 -9M459 178l12 24M485 162l-8 7M862 331l1 8M903 368l-20 -4M1143 248l21 -7M1172 197l4 -9M826 120l2 -2M841 86l5 -8M830 10l7 12M928 121l-44 15M1009 71l-5 23M1039 379l-20 -14M1114 513l-9 -5M558 367l-11 20M570 365l22 -28M651 428l-17 -33M942 649l-1 -16M621 607l18 0M631 636l19 -16M674 493l-18 -16M1277 572l-12 13M1151 668l0 -38M1184 658l-11 22M929 603l14 -34M952 621l-7 5M896 623l1 -8M555 647l-32 11M521 661l-5 1M517 613l5 37M163 618l-2 -3M77 598l45 -5M0 678l10 -15M192 242l-5 -12M206 215l-9 8M229 221l-6 19M257 297l-42 -9M189 251l3 -9M219 177l-9 -2M238 383l38 -13M328 362l-33 -26M161 326l3 7M212 314l-47 20M1265 637l13 -15M1006 635l-2 36M775 204l14 -7M758 193l15 14M686 29l2 -3M684 31l0 2M691 88l-4 -1M907 147l3 41M928 121l6 22M954 185l3 -8M954 185l-38 -2M551 127l28 -19M197 124l-7 24M478 602l18 12M89 617l-20 43M220 448l-18 10M177 410l-10 5M194 491l-8 8M90 181l31 -15M364 355l5 -11M458 335l-5 -5M864 100l5 36M829 119l23 8M883 58l3 -7M914 54l-28 -4M1053 267l-7 -21M1025 265l2 0M991 446l6 -19M1001 384l13 15M1059 476l8 8M577 397l-3 -19M606 430l33 10M838 666l1 8M880 631l-15 -5M869 672l-21 0M834 559l-19 22M858 595l-0 0M810 574l5 7M446 639l13 16M420 701l3 -20M70 518l-27 -5M176 590l-3 6M161 614l13 -18M251 643l3 -14M1279 618l22 5M1078 105l-0 -39M1113 81l-22 -27M1075 173l-50 7M1025 180l-0 -0M1049 124l5 0M1096 208l-18 -34M1121 119l-30 13M1072 115l19 17M717 222l4 28M795 241l-36 1M596 144l-6 -5M351 357l-5 -1M419 545l11 42M377 675l25 -10M353 319l-9 23M337 313l16 6M1161 162l-38 5M1166 143l-5 19M1137 469l-21 -4M1066 484l17 -12M554 439l-33 17M554 439l-11 -21M-25 412l32 13M43 484l19 -9M46 496l-3 -12M292 624l-25 -3M295 601l-1 20M304 524l6 37M392 470l-3 -1M341 468l30 -10M371 457l-6 -13M392 408l-28 27M151 491l-4 2M231 593l-36 -11M238 585l-3 -22M1111 439l3 25M1066 445l3 1M575 526l18 -14M504 519l47 6M518 491l29 11M570 414l2 22M598 438l-26 -2M1004 167l-19 10M981 217l4 -39M445 524l-10 -43M392 470l13 -5M406 465l-1 -52M245 541l-14 -5M228 537l-1 18M205 555l22 -0M619 486l-8 19M598 438l3 17M17 640l5 -17M17 640l-18 -18M39 574l-18 21M337 607l-2 39M447 468l-9 -49M473 431l-24 -15"/><path stroke="#c456bb" stroke-width="10" d="M254 15l-2 -51M302 -7l0 -0M259 18l-0 20M288 39l-5 15M261 41l-4 28M918 553l18 -38M899 524l9 -11M799 -3l-33 48M-7 119l22 -9M-7 119l-1 3M24 371l-6 7M288 39l27 -0M764 328l-0 0M698 446l-5 -1M681 397l-26 30M708 377l28 12M659 359l49 17M742 407l-10 6M698 670l-10 -11M739 518l-37 -14M821 491l-15 -50M821 491l-26 6M791 506l4 -9M762 408l19 35M723 455l13 15M677 513l24 -9M800 534l-9 -28M882 491l-10 30M821 491l9 2M1275 202l18 15M1219 193l9 12M1010 -2l3 12M848 -8l21 -0M695 119l-4 -31M691 88l11 -12M504 184l44 -26M152 269l-15 18M109 271l37 -14M40 196l-11 -2M0 -2l10 -15M-10 324l-9 -46M-19 278l40 -6M-14 333l4 -9M30 261l-8 11M1157 44l6 48M1194 36l5 -5M1180 38l7 -4M286 204l-8 -46M340 24l19 24M962 369l6 -13M903 417l25 7M966 490l-1 11M962 508l4 -7M962 508l-26 7M1031 311l-2 -14M1029 297l14 -23M1025 484l-0 40M1231 447l-18 25M1051 586l5 -34M1029 589l22 -4M1036 481l8 1M902 669l-1 26M1005 609l-40 -45M584 684l44 11M601 656l-16 17M581 622l-21 0M324 240l0 -4M260 223l-1 26M1154 322l0 -0M1260 278l-16 -18M1294 162l-13 -11M1273 544l33 -4M1243 438l29 3M1228 379l27 33M1271 455l18 26M1253 354l-21 19M459 233l59 44M831 181l42 -21M826 200l1 4M735 126l-3 15M752 95l20 22M772 117l3 22M771 158l7 -10M769 89l12 -3M550 125l0 -27M499 98l12 6M499 98l-4 -49M541 41l-2 42M477 114l5 29M132 298l-33 14M145 299l16 -21M48 220l-5 38M226 174l-12 -35M226 174l1 0M170 667l1 -1M0 -2l25 32M58 96l15 -25M61 115l31 3M68 130l11 34M59 124l8 6M1219 -6l-20 36M494 379l-4 -4M455 -1l16 30M420 21l51 21M508 45l-0 -55M550 37l11 1M550 37l-5 -14M584 4l1 -11M303 66l10 21M379 212l40 -44M280 155l5 1M942 412l-10 10M942 424l23 -11M903 417l0 -1M918 354l-16 13M940 378l20 32M819 434l-19 -56M779 320l-4 2M1110 274l3 -29M784 50l24 19M826 120l1 22M923 265l3 1M930 267l-5 -1M793 316l-2 -34M763 273l17 3M834 319l-3 1M808 273l5 -11M969 229l5 16M1074 316l-33 18M1031 311l-2 7M1220 388l-4 4M1140 397l0 1M718 660l24 6M705 676l2 13M615 571l4 8M544 600l2 -15M1235 486l5 22M1218 476l18 10M1288 491l-14 7M1162 545l10 11M1173 558l-1 -2M629 693l31 -6M698 670l-20 11M642 663l-8 6M677 623l-7 1M0 678l-21 4M219 177l7 -3M220 448l4 -46M297 456l-19 -18M297 456l-0 1M22 389l31 6M1280 678l25 32M1256 639l0 40M1160 615l34 2M1128 16l4 -23M1013 65l22 15M578 225l-1 1M688 272l-0 -13M778 148l6 -1M820 213l-14 10M813 262l-15 -22M641 27l1 13M669 24l-27 3M956 65l-9 -9M908 93l20 22M954 106l6 -22M772 117l32 -7M801 99l3 11M550 125l2 2M251 110l-4 -16M184 80l-16 8M197 124l2 0M210 50l-8 6M251 643l1 1M367 670l-27 34M381 693l-3 -18M119 93l-18 -8M101 84l-7 -8M111 129l-2 -0M75 212l21 -21M159 197l10 -9M159 197l-34 1M145 167l-12 9M132 177l-7 21M149 240l17 -7M159 197l6 36M412 298l1 3M343 159l-17 -10M387 114l5 6M354 168l15 -6M433 140l-14 12M1166 241l12 -2M1182 214l-10 -17M1095 215l-1 1M1098 228l-35 39M908 93l-3 -1M1057 355l-12 -11M962 369l21 22M1010 364l-9 20M1078 414l-37 -3M1043 387l-9 15M555 367l3 1M592 337l52 25M585 315l7 19M602 638l13 -7M1265 587l0 -2M1170 640l-19 -10M1173 680l-23 -10M1004 621l2 14M1120 662l12 11M929 603l16 22M941 633l3 -7M1003 619l-35 45M122 593l0 -18M223 240l15 17M259 250l-21 7M215 288l0 -0M215 288l19 -28M292 386l-16 -15M165 334l-1 11M1277 572l13 4M1003 619l1 2M968 664l37 7M1134 42l9 4M1035 80l6 7M1035 106l6 -19M1039 68l17 5M684 235l20 -11M708 9l35 7M777 -5l-32 18M646 60l14 -0M679 29l5 1M646 60l-6 6M574 63l22 29M164 168l20 -5M478 602l19 -32M478 602l-12 -1M520 556l-18 13M296 457l33 26M175 653l0 -0M202 458l-21 -11M175 443l-9 -25M181 447l-20 46M160 17l-10 2M168 88l-15 -31M113 155l8 11M368 263l6 13M365 307l-5 -7M305 305l-2 -10M368 262l-1 1M365 318l8 7M453 343l-20 -1M841 86l12 10M879 61l4 -4M1043 274l0 -1M1063 267l-10 -1M1026 207l44 11M1063 518l13 -16M1106 508l-9 -9M574 378l46 25M606 430l1 -11M547 388l-1 27M547 388l-0 0M848 672l-8 2M817 622l21 44M818 620l38 12M1029 696l13 -31M459 655l-4 23M455 679l16 30M64 488l-18 9M69 660l-17 -3M74 595l-3 -1M30 539l-4 1M73 548l-18 16M23 508l13 9M236 340l2 20M238 360l41 -24M260 309l7 18M285 339l-6 -3M297 331l-3 4M164 374l4 -24M156 390l11 25M1290 663l14 -8M1091 54l-8 -1M1069 32l14 22M1151 134l-29 23M731 208l-3 -0M759 236l1 6M721 250l8 6M726 326l-21 -23M651 89l-16 12M614 93l1 3M615 95l20 6M641 138l20 42M613 147l-17 -3M458 541l-8 -15M458 524l42 -0M324 435l7 -5M449 609l-8 -4M199 531l8 -1M1176 188l-15 -24M505 425l11 31M1088 672l-7 -29M1063 633l-14 11M1029 589l34 44M-8 441l15 -16M-29 475l20 -20M22 389l-7 29M65 463l-3 12M25 474l13 -0M99 444l23 -25M104 384l14 9M37 436l45 -11M129 387l-11 6M50 657l-22 -3M299 571l3 14M985 118l5 16M458 524l13 -18M441 605l-9 2M101 466l-2 -10M99 456l1 -4M153 549l37 -26M261 552l-26 11M199 531l6 24M569 464l-0 -25M516 456l-5 11M30 619l-0 -1M1004 167l-4 -15M985 177l-22 -4M21 622l-22 -5M302 673l9 -11M419 545l-32 49M362 596l26 -3M402 665l-11 -34M405 613l1 -3M311 662l16 -2M391 631l-21 -3M360 600l3 16M450 416l-11 3"/><path stroke="#de78c8" stroke-width="6" d="M225 59l17 24M225 59l34 -21M711 409l-13 37M918 553l-19 -29M893 491l21 -8M1267 227l1 -21M1268 207l-13 -14M1219 193l9 -20M830 8l0 2M73 339l10 20M317 20l-3 19M314 39l1 7M983 284l1 23M984 307l-9 13M932 268l35 8M975 320l-5 3M794 378l-29 -50M742 407l-6 -18M705 676l12 -16M715 646l-26 12M736 470l-34 34M749 503l-10 16M757 562l3 -2M800 534l25 -3M1267 227l2 3M1257 189l26 3M1005 -9l2 -36M1029 16l19 15M839 -6l-10 14M16 109l6 -11M0 -2l-21 4M38 151l24 21M62 172l-2 6M30 261l-23 -27M1143 46l13 -2M1241 58l0 21M1208 117l-22 -5M421 254l11 -18M359 48l0 4M399 49l-6 -26M414 60l6 -38M367 -10l-27 34M968 356l-3 -20M968 -10l10 30M972 21l6 -1M951 315l-23 7M1010 465l2 -6M755 606l-25 16M730 621l-9 1M721 622l-6 24M682 655l7 3M655 533l22 -20M674 493l3 19M1206 470l7 1M1170 498l40 7M1081 543l4 11M1028 589l-9 -45M1024 524l3 5M972 550l47 -6M972 550l-11 -42M868 549l32 18M257 297l16 -33M289 204l-3 0M1301 78l-25 -21M1260 47l14 4M1269 230l-25 30M1212 253l32 7M1248 165l4 -8M1214 142l29 -3M1251 157l-8 -18M1271 455l-20 20M1220 388l27 27M985 25l11 -2M531 227l-71 5M518 277l-6 7M511 300l0 -16M829 260l-9 -47M695 165l1 -19M539 84l-28 20M507 144l10 -32M145 299l-4 7M174 287l-4 -4M58 262l-15 -4M60 178l7 31M265 211l-38 -37M272 121l2 2M93 684l57 14M136 666l30 19M160 697l7 -8M-6 80l2 -22M13 179l-7 11M70 64l3 7M92 117l-6 -42M73 71l13 5M225 59l-15 -9M210 19l0 31M92 117l16 12M1256 -41l0 40M1260 3l21 -4M1256 13l4 -11M494 379l61 -12M406 -15l17 16M508 -10l-15 5M472 112l-38 -37M472 112l4 1M546 23l10 -56M556 -33l30 26M378 75l-23 -9M284 63l-6 18M294 99l16 -7M329 231l41 -24M343 162l-17 13M481 143l-20 8M504 184l-0 0M510 146l-3 -3M531 219l-27 -33M961 442l-19 -17M819 434l25 -1M793 316l27 9M801 378l10 -6M782 86l28 -13M826 120l-15 0M872 160l3 -19M874 325l-12 6M840 301l-3 -14M968 356l38 2M1006 352l0 7M1074 316l-41 4M1055 300l23 3M1062 448l-3 28M1098 400l15 28M615 571l-16 5M1172 507l-9 38M1216 513l-10 17M1120 553l-1 -32M1112 564l8 -11M1131 586l-14 -3M1131 586l40 -13M1173 556l33 -26M1117 583l-7 19M679 681l-9 -14M661 669l9 -2M260 223l-31 -2M292 386l25 -6M320 435l-23 22M1204 313l8 9M1204 304l5 -23M1239 337l2 -38M1256 679l-19 -7M1176 586l29 18M1173 558l48 8M1205 652l-6 -38M1184 658l21 -5M1184 658l-10 -17M595 250l-13 -20M585 315l-3 -5M676 178l11 21M639 255l49 4M628 14l1 -2M628 14l-44 -11M642 40l-37 11M875 -5l13 25M888 20l14 -5M953 29l-17 -15M926 -18l5 31M928 115l27 -10M1009 71l0 -0M171 117l-6 -12M165 94l-1 11M252 112l-1 -2M169 127l-27 21M169 127l0 0M141 147l4 20M145 167l18 2M163 169l1 -1M171 117l-2 10M116 663l-23 20M109 129l-1 0M121 60l-23 14M121 60l14 24M427 110l6 -35M434 75l-1 0M371 207l9 5M883 363l-23 26M859 389l-8 1M1193 149l-10 -0M1095 215l54 -3M814 80l22 9M914 54l-8 21M928 115l-0 6M884 136l17 -42M904 92l-3 2M953 203l23 15M987 103l1 4M1039 379l18 -24M1020 365l25 -20M1010 364l10 1M1041 411l-0 9M1083 327l-17 26M1043 387l26 1M1043 387l-4 -8M558 367l12 -2M869 672l22 -35M650 619l-11 -12M621 607l0 0M648 437l-3 3M656 477l-10 -18M1039 641l-15 18M900 567l-3 12M586 673l-30 -26M496 615l21 -2M161 614l-12 6M111 529l-10 20M177 191l13 35M254 499l0 6M267 622l4 -17M267 622l-13 7M234 604l-0 -2M229 395l0 -2M1301 596l-11 -19M968 664l0 0M1005 671l6 7M1187 34l-14 -35M1041 87l16 -14M773 207l3 -3M745 51l-59 -22M669 24l11 5M686 87l-26 -27M686 87l-1 0M640 67l46 21M179 142l12 6M210 175l-16 -11M302 673l15 26M465 601l-7 -61M522 610l-20 -42M100 619l26 -7M161 40l-8 17M96 190l-6 -9M361 300l-15 -1M349 262l-6 13M413 301l-47 5M306 287l38 9M415 322l1 21M1165 141l-14 -7M870 137l-0 -0M887 91l-23 9M863 70l1 -3M1043 273l10 -6M1047 246l-11 -6M1016 426l6 -22M1014 399l-22 24M1014 399l8 5M635 396l-14 7M868 549l-8 6M818 620l6 -21M758 595l56 -11M1128 696l-51 -8M1078 688l-9 24M52 607l-2 37M55 564l0 1M236 340l31 -13M267 328l13 8M218 326l-2 -6M218 326l18 15M238 383l0 -23M164 345l4 5M945 690l23 -20M968 670l10 30M1078 65l5 -12M1026 207l-1 -27M704 224l14 -3M716 175l12 32M758 193l-27 14M729 256l6 3M688 272l7 11M750 262l-15 -2M641 138l6 -7M939 142l20 -20M613 147l11 -9M340 477l10 7M1124 183l-1 -16M1153 197l-10 -13M1099 491l-16 -19M522 456l-6 0M1088 672l-10 15M25 474l-15 7M15 418l6 6M38 474l6 10M37 436l-16 -12M64 488l-2 -12M77 412l5 13M97 369l7 16M274 539l-8 17M310 561l-11 11M1028 118l-29 22M504 519l14 -28M518 491l-2 -5M324 435l13 23M337 458l28 -13M420 648l-4 -7M415 641l-1 -10M153 462l-13 -9M140 453l-40 -1M65 463l34 -7M250 540l11 13M178 589l17 -8M272 574l-34 11M195 582l10 -26M1111 439l-42 7M1069 446l16 12M1083 472l2 -14M547 502l7 -7M552 525l1 2M581 540l-6 -14M566 466l-11 21M999 152l-35 3M236 512l-6 24M585 473l17 -18M-15 637l13 -15M21 598l-22 11M-1 609l-14 -22M-7 544l4 28M311 661l0 1M415 641l-19 -12M396 628l8 -15M432 607l-26 3M367 669l3 -41M363 615l-29 31M367 670l-0 -0M405 413l34 6"/><path stroke="#de78c8" stroke-width="10" d="M280 11l7 28M259 38l2 3M732 413l-21 -4M913 483l14 27M1228 205l27 -12M1214 143l-20 6M798 -4l-7 -41M830 10l-46 39M14 162l-2 6M303 66l-17 -4M982 282l-16 -7M771 398l-22 -33M755 361l-6 3M696 405l-15 -8M722 349l15 19M736 388l1 -20M718 660l-3 -14M749 503l24 10M739 518l1 16M758 593l-1 -31M723 548l-45 -36M810 574l-16 -30M863 463l20 28M830 494l8 19M873 521l-6 5M893 491l-10 -0M1273 119l-11 -16M1286 235l23 27M1248 165l11 14M1005 -9l-37 -7M799 -3l-2 -1M748 94l-12 -24M510 146l37 6M152 269l-7 -12M47 219l-26 -8M40 144l19 -20M1163 92l-18 7M1241 58l-43 -18M1198 39l-3 -4M1239 93l0 -0M1198 39l4 37M1186 112l-2 -15M1194 36l-7 -1M380 214l52 22M514 329l37 -12M509 327l2 -27M367 -10l10 5M928 425l24 37M1110 274l-30 18M905 280l5 55M1010 474l1 -9M973 455l17 -9M1111 308l9 14M1154 322l-5 1M1180 479l26 -9M652 586l33 29M758 595l-3 11M721 622l-28 -12M677 623l7 -8M661 548l-7 -16M675 490l-1 4M1218 422l16 17M1056 586l-6 0M1045 481l4 39M875 675l13 25M593 592l-49 8M260 309l0 0M260 309l-2 -12M1229 213l-18 41M1261 278l-2 -0M1281 151l-30 6M1243 139l4 -7M1231 447l21 28M1220 388l8 -9M542 244l-0 19M615 259l-34 47M845 242l-10 19M820 213l8 -8M869 212l26 -15M764 163l-20 -2M774 139l4 9M778 53l3 33M539 84l11 14M499 98l-22 16M45 326l25 -27M161 278l10 5M137 287l8 12M189 251l-19 32M70 299l-12 -37M278 158l2 -3M273 123l7 32M215 139l37 -27M21 211l-8 5M6 235l7 -18M67 44l2 20M91 138l16 -9M121 104l37 4M1256 -1l4 4M492 338l-2 37M511 284l-39 4M459 233l-6 3M420 21l3 -20M471 29l2 12M471 42l2 -1M472 112l-37 20M965 413l-5 -3M971 416l-10 26M940 376l-0 2M1147 289l-4 -41M964 232l-34 35M922 216l-5 2M898 251l-32 5M838 265l-1 22M831 319l-24 -45M779 320l-16 -47M967 275l7 -31M982 282l20 -27M975 320l31 32M984 307l39 13M1079 316l-6 1M1080 311l-1 5M1120 321l-20 19M1149 323l-43 33M1156 363l-49 0M1178 424l-12 -4M1179 385l36 7M1140 397l19 -28M1140 397l-43 2M655 427l-4 2M741 666l3 27M631 540l-29 6M638 532l-7 8M549 583l11 -12M547 585l3 -2M1210 505l6 9M1112 564l5 19M1112 564l-24 -7M901 603l-4 11M642 658l28 -35M219 177l-13 38M296 414l-19 24M305 419l16 -30M1212 323l28 14M1260 278l-19 21M1234 616l-5 -7M1256 693l4 -11M1256 679l4 4M1236 636l-28 18M1207 654l11 21M1164 599l12 -12M1157 617l3 -2M1239 631l-5 -15M1021 58l19 11M1010 68l4 -3M634 243l-52 -12M585 188l24 -3M681 221l6 -15M771 158l14 20M826 200l-20 -7M604 50l2 1M875 -5l27 -6M947 56l6 -27M922 22l9 -9M936 14l-5 -1M956 65l22 -15M972 21l-19 8M888 20l-5 8M919 49l3 -2M902 15l20 8M945 10l-9 4M957 78l4 6M971 87l-11 -3M242 86l5 9M171 117l27 7M199 124l9 -9M215 139l-8 -6M118 132l23 16M219 656l32 -13M93 684l-0 -0M85 75l9 1M421 254l-10 45M453 236l-18 -1M413 303l4 4M310 126l-2 4M357 113l-8 14M313 103l16 14M477 169l5 27M460 232l12 -30M1163 241l-15 -29M1209 255l-30 -16M1080 292l-17 -24M907 75l-3 17M922 216l31 -13M981 217l27 8M1007 358l3 6M1062 447l-22 -26M1066 445l12 -31M1150 438l-13 32M1090 400l-21 -12M1078 414l12 -14M908 661l-17 -25M875 675l-6 -3M941 633l-45 -10M777 675l21 0M621 607l-6 24M614 631l16 5M1262 583l-39 -19M1223 564l4 -10M1273 544l4 28M560 622l-5 24M508 725l-0 -55M508 670l8 -8M523 658l-1 -8M522 610l-5 3M78 513l-8 5M223 240l-26 -17M192 242l2 2M169 187l8 4M263 490l-9 9M304 524l-29 15M210 294l2 20M145 352l-14 0M145 352l-4 33M130 352l-2 36M1132 673l-4 23M1134 42l-6 -26M763 273l-9 -3M807 193l-18 4M751 43l-8 -27M688 26l20 -16M605 52l17 18M884 136l-1 2M580 108l-0 0M622 70l-8 23M194 152l0 12M184 163l-6 -22M252 644l50 29M458 541l38 29M117 658l26 -37M116 663l1 -5M89 617l11 2M122 593l4 19M196 642l-21 11M184 635l-9 17M213 651l-5 -8M181 447l-6 -4M93 4l23 -20M153 57l-28 -4M136 -14l30 19M114 132l-1 23M305 305l31 8M336 327l1 -14M368 263l-19 -1M412 298l-38 -22M337 313l9 -14M376 325l-3 0M376 325l10 8M415 322l-30 11M411 370l40 2M878 32l-19 2M1043 273l-16 -7M1069 218l-22 28M1069 218l25 -2M1018 452l-7 -21M974 414l18 9M527 419l20 -31M824 600l-9 -16M1013 691l-3 -12M459 655l16 -3M471 709l22 -34M449 609l17 -8M-23 534l45 -26M8 491l15 16M46 496l-4 16M52 607l19 -13M178 589l36 32M17 571l9 -30M17 571l22 4M35 516l-6 22M71 594l-16 -29M201 367l-3 -5M201 367l-20 17M197 362l-29 -11M156 390l8 -16M945 690l27 12M1126 114l-13 -8M1057 73l21 -8M1072 115l-18 10M670 315l32 -14M726 326l18 -4M744 322l8 -48M703 302l2 2M613 116l-22 1M613 116l12 22M552 136l38 3M520 556l-20 -32M343 520l-30 -10M346 404l26 -3M445 524l-25 15M446 639l-26 9M423 681l-17 -16M406 665l-4 0M345 346l-2 -5M336 327l7 14M1161 164l-17 20M505 425l-0 0M1080 643l-16 -10M1063 633l2 -0M1042 665l7 -5M1079 606l-14 27M9 481l-18 -26M8 491l2 -10M-37 438l29 3M38 474l11 -15M48 458l17 5M275 571l24 0M340 477l1 -9M372 401l20 7M148 492l-47 -26M161 493l-10 -2M96 480l5 -13M254 505l-4 35M234 602l-3 -9M1114 464l-29 -6M575 526l-20 2M554 528l-1 -1M566 466l-33 -5M33 607l-4 10M639 440l-25 22M656 477l-37 8M-2 610l-44 7M10 577l-13 -4M-3 572l-12 13M292 624l19 36M362 596l-2 3"/></g><path fill="#7a309f" d="M112.8 3.6h1.2v1.1h-1.2zM121.0 18.7h1.2v1.1h-1.2zM79.3 -0.9h1.2v1.1h-1.2zM25.3 3.3h1.2v1.1h-1.2zM0.8 15.7h1.2v1.1h-1.2zM2.2 6.4h1.2v1.1h-1.2zM42.8 6.9h1.2v1.1h-1.2zM97.7 27.9h1.2v1.1h-1.2zM78.3 37.6h1.2v1.1h-1.2zM72.6 40.7h1.2v1.1h-1.2zM66.9 48.4h1.2v1.1h-1.2zM71.0 44.9h1.2v1.1h-1.2zM70.1 56.8h1.2v1.1h-1.2zM75.2 58.8h1.2v1.1h-1.2zM76.7 50.7h1.2v1.1h-1.2zM96.6 54.5h1.2v1.1h-1.2zM96.0 49.6h1.2v1.1h-1.2zM102.2 58.4h1.2v1.1h-1.2zM101.4 53.9h1.2v1.1h-1.2zM90.2 50.8h1.2v1.1h-1.2zM92.9 51.0h1.2v1.1h-1.2zM124.2 16.0h1.2v1.1h-1.2zM122.1 16.7h1.2v1.1h-1.2zM120.8 13.7h1.2v1.1h-1.2zM124.9 18.7h1.2v1.1h-1.2zM111.1 57.8h1.2v1.1h-1.2zM107.2 0.3h1.2v1.1h-1.2zM120.3 18.2h1.2v1.1h-1.2zM72.6 11.2h1.2v1.1h-1.2zM17.8 7.4h1.2v1.1h-1.2zM11.2 12.6h1.2v1.1h-1.2zM16.4 66.2h1.2v1.1h-1.2zM1.2 37.2h1.2v1.1h-1.2zM1.6 38.4h1.2v1.1h-1.2zM119.2 3.4h1.2v1.1h-1.2zM27.2 15.3h1.2v1.1h-1.2zM28.8 26.4h1.2v1.1h-1.2zM29.7 6.0h1.2v1.1h-1.2zM51.2 27.1h1.2v1.1h-1.2zM47.5 13.7h1.2v1.1h-1.2zM96.5 41.0h1.2v1.1h-1.2zM102.5 30.6h1.2v1.1h-1.2zM104.9 29.5h1.2v1.1h-1.2zM107.2 29.8h1.2v1.1h-1.2zM96.1 27.0h1.2v1.1h-1.2zM96.2 35.1h1.2v1.1h-1.2zM95.9 33.0h1.2v1.1h-1.2zM96.5 31.8h1.2v1.1h-1.2zM114.8 31.6h1.2v1.1h-1.2zM71.4 33.5h1.2v1.1h-1.2zM75.8 32.3h1.2v1.1h-1.2zM54.5 31.1h1.2v1.1h-1.2zM67.5 39.2h1.2v1.1h-1.2zM72.4 61.6h1.2v1.1h-1.2zM59.6 63.2h1.2v1.1h-1.2zM81.5 48.6h1.2v1.1h-1.2zM76.4 45.7h1.2v1.1h-1.2zM80.1 43.6h1.2v1.1h-1.2zM76.3 51.9h1.2v1.1h-1.2zM75.4 55.4h1.2v1.1h-1.2zM77.0 54.1h1.2v1.1h-1.2zM82.4 48.8h1.2v1.1h-1.2zM102.3 58.4h1.2v1.1h-1.2zM89.6 66.3h1.2v1.1h-1.2zM126.8 7.7h1.2v1.1h-1.2zM126.7 11.3h1.2v1.1h-1.2zM125.6 9.7h1.2v1.1h-1.2zM126.9 19.6h1.2v1.1h-1.2zM112.7 58.2h1.2v1.1h-1.2zM123.3 62.6h1.2v1.1h-1.2zM125.9 63.2h1.2v1.1h-1.2zM75.2 18.8h1.2v1.1h-1.2zM75.8 15.7h1.2v1.1h-1.2zM100.3 6.5h1.2v1.1h-1.2zM90.2 8.7h1.2v1.1h-1.2zM77.6 8.0h1.2v1.1h-1.2zM56.5 4.1h1.2v1.1h-1.2zM56.2 17.1h1.2v1.1h-1.2zM55.4 16.9h1.2v1.1h-1.2zM0.0 22.9h1.2v1.1h-1.2zM16.0 22.7h1.2v1.1h-1.2zM21.3 17.2h1.2v1.1h-1.2zM17.1 18.6h1.2v1.1h-1.2zM16.2 8.3h1.2v1.1h-1.2zM21.3 65.1h1.2v1.1h-1.2zM24.5 63.7h1.2v1.1h-1.2zM1.5 7.3h1.2v1.1h-1.2zM0.7 17.3h1.2v1.1h-1.2zM113.9 9.4h1.2v1.1h-1.2zM125.0 0.8h1.2v1.1h-1.2zM123.3 8.1h1.2v1.1h-1.2zM36.2 25.7h1.2v1.1h-1.2zM29.9 29.9h1.2v1.1h-1.2zM25.4 30.4h1.2v1.1h-1.2zM50.5 29.5h1.2v1.1h-1.2zM35.3 4.7h1.2v1.1h-1.2zM35.0 6.0h1.2v1.1h-1.2zM37.4 10.7h1.2v1.1h-1.2zM27.4 15.0h1.2v1.1h-1.2zM41.3 1.6h1.2v1.1h-1.2zM37.5 0.8h1.2v1.1h-1.2zM52.5 21.4h1.2v1.1h-1.2zM95.0 45.4h1.2v1.1h-1.2zM88.5 43.3h1.2v1.1h-1.2zM91.8 46.0h1.2v1.1h-1.2zM94.5 45.7h1.2v1.1h-1.2zM85.6 32.5h1.2v1.1h-1.2zM100.8 28.2h1.2v1.1h-1.2zM96.6 1.6h1.2v1.1h-1.2zM97.2 1.4h1.2v1.1h-1.2zM86.3 20.7h1.2v1.1h-1.2zM82.3 25.4h1.2v1.1h-1.2zM92.2 31.6h1.2v1.1h-1.2zM91.0 33.4h1.2v1.1h-1.2zM103.7 38.1h1.2v1.1h-1.2zM107.3 31.0h1.2v1.1h-1.2zM101.8 51.9h1.2v1.1h-1.2zM105.6 44.2h1.2v1.1h-1.2zM103.9 47.6h1.2v1.1h-1.2zM115.0 35.8h1.2v1.1h-1.2zM115.9 36.7h1.2v1.1h-1.2zM116.3 48.6h1.2v1.1h-1.2zM54.9 36.1h1.2v1.1h-1.2zM124.5 46.9h1.2v1.1h-1.2zM125.1 52.9h1.2v1.1h-1.2zM121.0 50.8h1.2v1.1h-1.2zM120.0 52.4h1.2v1.1h-1.2zM121.0 59.5h1.2v1.1h-1.2zM104.9 54.6h1.2v1.1h-1.2zM91.2 55.3h1.2v1.1h-1.2zM89.4 56.2h1.2v1.1h-1.2zM99.9 60.4h1.2v1.1h-1.2zM25.7 48.5h1.2v1.1h-1.2zM21.8 39.6h1.2v1.1h-1.2zM22.3 39.0h1.2v1.1h-1.2zM10.9 34.2h1.2v1.1h-1.2zM120.8 13.7h1.2v1.1h-1.2zM117.8 65.2h1.2v1.1h-1.2zM119.9 64.7h1.2v1.1h-1.2zM116.4 37.1h1.2v1.1h-1.2zM119.7 35.3h1.2v1.1h-1.2zM122.6 36.8h1.2v1.1h-1.2zM97.9 1.9h1.2v1.1h-1.2zM100.3 6.5h1.2v1.1h-1.2zM58.9 24.5h1.2v1.1h-1.2zM53.6 23.8h1.2v1.1h-1.2zM57.9 30.9h1.2v1.1h-1.2zM57.5 30.1h1.2v1.1h-1.2zM82.1 19.9h1.2v1.1h-1.2zM71.0 17.0h1.2v1.1h-1.2zM65.5 17.4h1.2v1.1h-1.2zM63.0 19.8h1.2v1.1h-1.2zM66.3 1.9h1.2v1.1h-1.2zM87.7 2.3h1.2v1.1h-1.2zM76.6 11.2h1.2v1.1h-1.2zM76.8 13.4h1.2v1.1h-1.2zM80.5 11.5h1.2v1.1h-1.2zM53.3 7.8h1.2v1.1h-1.2zM51.1 10.6h1.2v1.1h-1.2zM10.4 32.0h1.2v1.1h-1.2zM13.7 31.1h1.2v1.1h-1.2zM13.5 30.0h1.2v1.1h-1.2zM45.9 59.6h1.2v1.1h-1.2zM20.2 63.8h1.2v1.1h-1.2zM6.1 3.9h1.2v1.1h-1.2zM15.2 10.2h1.2v1.1h-1.2zM8.5 13.3h1.2v1.1h-1.2zM10.8 12.6h1.2v1.1h-1.2zM10.3 12.3h1.2v1.1h-1.2zM125.0 -0.7h1.2v1.1h-1.2zM47.0 30.8h1.2v1.1h-1.2zM46.1 28.0h1.2v1.1h-1.2zM46.5 2.3h1.2v1.1h-1.2zM46.5 3.7h1.2v1.1h-1.2zM55.5 3.2h1.2v1.1h-1.2zM35.1 10.8h1.2v1.1h-1.2zM30.4 8.7h1.2v1.1h-1.2zM36.5 20.2h1.2v1.1h-1.2zM29.3 14.5h1.2v1.1h-1.2zM49.8 17.9h1.2v1.1h-1.2zM89.0 39.4h1.2v1.1h-1.2zM81.3 42.8h1.2v1.1h-1.2zM79.5 37.2h1.2v1.1h-1.2zM80.4 36.6h1.2v1.1h-1.2zM108.9 20.9h1.2v1.1h-1.2zM82.1 13.7h1.2v1.1h-1.2zM91.6 21.1h1.2v1.1h-1.2zM91.1 21.2h1.2v1.1h-1.2zM92.4 26.2h1.2v1.1h-1.2zM82.8 31.3h1.2v1.1h-1.2zM82.5 31.4h1.2v1.1h-1.2zM77.5 27.0h1.2v1.1h-1.2zM80.7 25.7h1.2v1.1h-1.2zM100.1 35.3h1.2v1.1h-1.2zM103.8 33.5h1.2v1.1h-1.2zM102.9 44.5h1.2v1.1h-1.2zM103.2 44.4h1.2v1.1h-1.2zM110.1 35.8h1.2v1.1h-1.2zM117.3 38.0h1.2v1.1h-1.2zM114.6 43.1h1.2v1.1h-1.2zM63.2 52.7h1.2v1.1h-1.2zM73.9 65.2h1.2v1.1h-1.2zM124.8 51.6h1.2v1.1h-1.2zM115.2 53.9h1.2v1.1h-1.2zM116.7 55.2h1.2v1.1h-1.2zM116.7 55.0h1.2v1.1h-1.2zM111.5 62.5h1.2v1.1h-1.2zM99.8 61.6h1.2v1.1h-1.2zM10.5 52.3h1.2v1.1h-1.2zM7.1 59.3h1.2v1.1h-1.2zM6.4 51.2h1.2v1.1h-1.2zM22.3 21.6h1.2v1.1h-1.2zM31.0 37.4h1.2v1.1h-1.2zM28.6 61.9h1.2v1.1h-1.2zM29.0 40.8h1.2v1.1h-1.2zM9.1 36.3h1.2v1.1h-1.2zM116.0 28.5h1.2v1.1h-1.2zM123.5 29.3h1.2v1.1h-1.2zM127.3 60.3h1.2v1.1h-1.2zM120.1 64.8h1.2v1.1h-1.2zM123.1 66.6h1.2v1.1h-1.2zM119.2 60.9h1.2v1.1h-1.2zM62.8 23.7h1.2v1.1h-1.2zM63.1 22.8h1.2v1.1h-1.2zM64.1 27.6h1.2v1.1h-1.2zM68.1 20.0h1.2v1.1h-1.2zM68.2 26.7h1.2v1.1h-1.2zM77.9 17.3h1.2v1.1h-1.2zM65.4 0.1h1.2v1.1h-1.2zM63.5 2.2h1.2v1.1h-1.2zM63.6 3.5h1.2v1.1h-1.2zM62.3 1.1h1.2v1.1h-1.2zM59.9 4.6h1.2v1.1h-1.2zM94.7 2.3h1.2v1.1h-1.2zM87.7 13.2h1.2v1.1h-1.2zM94.8 10.0h1.2v1.1h-1.2zM78.3 9.2h1.2v1.1h-1.2zM20.3 8.9h1.2v1.1h-1.2zM16.3 12.1h1.2v1.1h-1.2zM16.3 12.2h1.2v1.1h-1.2zM13.9 16.2h1.2v1.1h-1.2zM29.6 66.7h1.2v1.1h-1.2zM51.8 55.1h1.2v1.1h-1.2zM8.7 67.8h1.2v1.1h-1.2zM12.6 17.1h1.2v1.1h-1.2zM11.9 19.2h1.2v1.1h-1.2zM40.7 29.7h1.2v1.1h-1.2zM35.9 30.1h1.2v1.1h-1.2zM40.5 36.4h1.2v1.1h-1.2zM40.9 31.7h1.2v1.1h-1.2zM32.3 11.2h1.2v1.1h-1.2zM34.3 12.2h1.2v1.1h-1.2zM30.2 12.5h1.2v1.1h-1.2zM38.7 11.9h1.2v1.1h-1.2zM41.4 14.6h1.2v1.1h-1.2zM45.3 17.3h1.2v1.1h-1.2zM47.6 19.1h1.2v1.1h-1.2zM85.3 38.3h1.2v1.1h-1.2zM115.7 23.5h1.2v1.1h-1.2zM83.5 8.1h1.2v1.1h-1.2zM89.8 8.6h1.2v1.1h-1.2zM85.7 6.4h1.2v1.1h-1.2zM101.0 21.4h1.2v1.1h-1.2zM98.1 9.7h1.2v1.1h-1.2zM103.9 33.9h1.2v1.1h-1.2zM103.5 41.5h1.2v1.1h-1.2zM113.1 46.4h1.2v1.1h-1.2zM108.9 39.3h1.2v1.1h-1.2zM106.0 34.8h1.2v1.1h-1.2zM56.4 35.9h1.2v1.1h-1.2zM56.4 40.9h1.2v1.1h-1.2zM64.9 29.4h1.2v1.1h-1.2zM65.2 35.4h1.2v1.1h-1.2zM78.4 62.9h1.2v1.1h-1.2zM79.3 67.1h1.2v1.1h-1.2zM61.5 60.2h1.2v1.1h-1.2zM63.9 43.4h1.2v1.1h-1.2zM121.7 55.9h1.2v1.1h-1.2zM123.9 53.7h1.2v1.1h-1.2zM114.5 66.3h1.2v1.1h-1.2zM101.9 65.8h1.2v1.1h-1.2zM93.9 62.0h1.2v1.1h-1.2zM51.0 65.7h1.2v1.1h-1.2zM49.0 60.9h1.2v1.1h-1.2zM51.6 64.5h1.2v1.1h-1.2zM0.4 65.8h1.2v1.1h-1.2zM6.8 58.9h1.2v1.1h-1.2zM18.2 22.4h1.2v1.1h-1.2zM22.8 59.8h1.2v1.1h-1.2zM22.8 59.7h1.2v1.1h-1.2zM21.0 31.5h1.2v1.1h-1.2zM15.0 38.4h1.2v1.1h-1.2zM127.3 61.2h1.2v1.1h-1.2zM96.2 65.9h1.2v1.1h-1.2zM105.1 6.8h1.2v1.1h-1.2zM67.8 22.9h1.2v1.1h-1.2zM68.3 25.1h1.2v1.1h-1.2zM69.8 21.9h1.2v1.1h-1.2zM76.9 19.9h1.2v1.1h-1.2zM77.7 18.4h1.2v1.1h-1.2zM70.2 0.4h1.2v1.1h-1.2zM65.4 5.5h1.2v1.1h-1.2zM63.2 6.3h1.2v1.1h-1.2zM92.7 15.4h1.2v1.1h-1.2zM91.0 17.7h1.2v1.1h-1.2zM57.4 10.3h1.2v1.1h-1.2zM18.8 15.9h1.2v1.1h-1.2zM45.2 53.5h1.2v1.1h-1.2zM35.5 49.9h1.2v1.1h-1.2zM31.8 42.9h1.2v1.1h-1.2zM37.2 50.1h1.2v1.1h-1.2zM41.3 53.9h1.2v1.1h-1.2zM9.4 61.4h1.2v1.1h-1.2zM17.8 63.0h1.2v1.1h-1.2zM17.5 44.1h1.2v1.1h-1.2zM15.9 41.3h1.2v1.1h-1.2zM26.9 56.5h1.2v1.1h-1.2zM11.9 4.8h1.2v1.1h-1.2zM34.0 29.3h1.2v1.1h-1.2zM33.8 29.1h1.2v1.1h-1.2zM33.6 27.0h1.2v1.1h-1.2zM37.9 32.7h1.2v1.1h-1.2zM44.7 33.7h1.2v1.1h-1.2zM42.7 33.7h1.2v1.1h-1.2zM115.9 13.5h1.2v1.1h-1.2zM87.2 2.7h1.2v1.1h-1.2zM102.1 26.0h1.2v1.1h-1.2zM104.7 26.1h1.2v1.1h-1.2zM107.0 49.7h1.2v1.1h-1.2zM57.1 39.2h1.2v1.1h-1.2zM87.4 62.5h1.2v1.1h-1.2zM85.2 58.9h1.2v1.1h-1.2zM84.5 59.5h1.2v1.1h-1.2zM81.8 59.4h1.2v1.1h-1.2zM45.3 65.0h1.2v1.1h-1.2zM4.0 49.1h1.2v1.1h-1.2zM2.9 51.1h1.2v1.1h-1.2zM16.7 59.1h1.2v1.1h-1.2zM20.2 63.3h1.2v1.1h-1.2zM4.9 55.8h1.2v1.1h-1.2zM16.2 34.5h1.2v1.1h-1.2zM107.2 9.9h1.2v1.1h-1.2zM108.5 4.9h1.2v1.1h-1.2zM106.9 16.7h1.2v1.1h-1.2zM101.9 17.4h1.2v1.1h-1.2zM101.9 17.4h1.2v1.1h-1.2zM104.8 11.9h1.2v1.1h-1.2zM71.7 20.7h1.2v1.1h-1.2zM72.2 20.2h1.2v1.1h-1.2zM69.7 29.6h1.2v1.1h-1.2zM72.3 25.0h1.2v1.1h-1.2zM72.9 25.4h1.2v1.1h-1.2zM64.1 12.5h1.2v1.1h-1.2zM97.9 11.3h1.2v1.1h-1.2zM60.7 11.0h1.2v1.1h-1.2zM49.8 51.4h1.2v1.1h-1.2zM33.4 47.1h1.2v1.1h-1.2zM32.4 42.4h1.2v1.1h-1.2zM36.6 39.5h1.2v1.1h-1.2zM39.6 66.0h1.2v1.1h-1.2zM33.9 34.1h1.2v1.1h-1.2zM115.5 15.9h1.2v1.1h-1.2zM115.5 15.7h1.2v1.1h-1.2zM51.6 45.1h1.2v1.1h-1.2zM51.0 45.1h1.2v1.1h-1.2zM1.5 41.9h1.2v1.1h-1.2zM5.9 45.8h1.2v1.1h-1.2zM5.6 47.0h1.2v1.1h-1.2zM8.5 43.1h1.2v1.1h-1.2zM7.1 40.7h1.2v1.1h-1.2zM98.4 12.9h1.2v1.1h-1.2zM51.1 48.0h1.2v1.1h-1.2zM14.7 45.7h1.2v1.1h-1.2zM24.4 53.4h1.2v1.1h-1.2zM22.5 58.7h1.2v1.1h-1.2zM23.2 57.9h1.2v1.1h-1.2zM18.9 57.6h1.2v1.1h-1.2zM19.9 55.0h1.2v1.1h-1.2zM110.8 45.9h1.2v1.1h-1.2zM106.3 44.1h1.2v1.1h-1.2zM56.3 48.9h1.2v1.1h-1.2zM56.6 43.1h1.2v1.1h-1.2zM52.7 45.6h1.2v1.1h-1.2zM54.8 48.1h1.2v1.1h-1.2zM99.3 14.6h1.2v1.1h-1.2zM95.7 16.8h1.2v1.1h-1.2zM95.8 15.0h1.2v1.1h-1.2zM22.1 54.9h1.2v1.1h-1.2zM61.3 48.0h1.2v1.1h-1.2zM-0.7 60.3h1.2v1.1h-1.2zM30.5 65.6h1.2v1.1h-1.2zM35.4 59.4h1.2v1.1h-1.2zM38.5 62.6h1.2v1.1h-1.2zM38.1 58.8h1.2v1.1h-1.2zM36.1 66.4h1.2v1.1h-1.2zM45.2 45.7h1.2v1.1h-1.2zM46.7 42.6h1.2v1.1h-1.2z"/></pattern><pattern id="T3" width="128" height="68" patternUnits="userSpaceOnUse"><g transform="scale(0.1)" fill="none" stroke-linecap="round"><path stroke="#9238ac" stroke-width="8" d="M12 653l-24 1M16 637l-31 -11M144 415l8 30M1083 330l-22 7M1096 359l2 -6M1119 391l-6 -1M1119 391l24 -23M1142 369l-10 -19M1068 378l28 -20M892 180l25 -0M993 216l6 -8M1020 231l-20 -23M1031 227l-11 5M1014 241l6 -10M737 48l6 15M84 29l26 1M209 683l1 -3M263 680l15 -56M329 276l5 -24M134 290l-13 23M42 663l19 2M82 405l19 -25M1094 190l0 5M1069 228l1 -6M351 119l16 17M363 157l5 -20M434 112l-21 5M414 151l-6 -16M460 59l4 14M1132 478l-19 -31M1068 378l-25 -13M1137 479l-5 -1M1203 336l2 16M1176 355l3 -6M952 663l-28 -12M891 695l23 -6M909 652l5 37M631 281l35 0M650 313l0 1M971 192l-9 26M975 138l-3 -4M1148 122l22 -14M1128 106l0 1M1197 146l18 -9M1250 -46l-24 40M1243 -4l-17 -2M1014 241l-20 -0M769 167l0 -54M759 162l-21 -29M705 109l20 27M680 92l1 -15M662 18l23 14M685 33l14 19M311 221l1 4M356 230l-1 -14M800 -2l26 5M51 27l-30 -13M69 129l-7 2M118 86l-12 -10M113 497l17 23M160 513l-29 7M202 627l2 -2M611 378l17 -6M611 378l-17 -20M576 361l0 2M282 468l-17 27M90 374l-11 -42M76 330l2 2M41 392l11 -18M121 367l1 -4M30 346l4 3M33 349l1 6M155 355l14 1M172 338l1 7M136 347l-5 -16M330 322l-33 -35M297 288l4 -12M137 261l-29 -9M122 196l7 -4M115 228l-9 12M54 602l-18 10M37 625l27 -4M27 609l-1 1M27 609l-3 -19M226 503l-5 9M238 452l7 20M238 452l-26 -7M1034 659l26 -5M1069 628l-20 -9M997 645l33 17M1253 124l37 19M1239 131l-24 6M1239 131l4 -10M1216 44l-13 9M1228 62l-12 -17M1162 227l13 47M1175 274l15 8M432 49l8 7M417 52l5 27M853 49l-27 -15M1016 138l12 -7M1037 78l-11 12M1011 147l5 -9M977 108l-27 -17M1180 423l-6 -0M1182 540l-0 -12M1179 478l1 6M1065 421l-7 13M1051 452l7 -18M895 612l-32 12M909 652l-1 -1M549 275l8 -22M534 233l-15 19M514 206l-14 -3M894 207l-8 23M1082 87l3 10M1049 93l33 -6M1095 102l9 34M1142 152l-24 1M1104 136l-7 8M715 -4l-5 2M370 328l21 2M390 331l17 -39M468 274l-15 14M407 228l14 5M400 227l-8 -1M709 -2l-22 -3M7 191l-1 15M28 178l4 26M80 67l-5 -5M75 62l-20 -2M128 -32l8 27M128 52l-18 -18M111 34l-8 7M456 317l1 7M563 394l-24 -9M594 403l-10 8M212 388l-11 5M282 401l-1 0M817 477l13 35M873 471l-13 -7M786 448l13 -2M283 160l-21 19M169 182l9 21M37 286l-1 -0M18 320l18 5M250 376l-14 -10M201 345l11 12M184 380l-0 -2M152 396l32 -16M168 355l15 23M287 323l-8 -16M298 260l-1 9M262 179l-10 32M122 640l-10 -12M70 619l10 9M88 537l1 -1M26 407l1 3M27 409l28 22M448 673l-4 10M392 663l-20 -36M1296 662l-12 31M1268 323l6 14M1268 347l5 -1M1272 346l1 1M1229 395l-5 -23M1245 310l-21 -5M1224 306l-5 14M1258 305l-14 5M1030 684l-4 -0M1292 653l-24 1M1265 625l31 11M1299 42l-11 -28M1236 59l-7 3M1274 15l9 -1M1273 223l7 22M1245 186l-8 -4M432 49l1 -4M407 13l19 13M470 25l8 18M364 87l-6 -12M361 71l-3 4M364 87l-13 33M789 40l10 -2M826 34l-7 12M908 51l7 23M940 98l-17 -25M1093 47l2 7M1091 70l4 -16M960 74l-9 -15M938 55l-0 0M1250 448l-8 4M1274 401l-22 24M1209 401l21 -6M1274 453l-25 -4M1215 511l-14 29M1228 552l-22 12M1172 557l8 6M957 610l2 -19M1012 286l-40 6M931 356l-41 1M498 203l-32 9M678 251l-15 -6M601 253l-8 4M580 284l12 -27M591 257l0 0M633 208l-3 -1M583 142l4 1M726 229l-8 -11M717 218l-4 -31M748 264l53 22M932 304l-15 -16M1120 87l-2 10M1178 17l-4 -22M1219 9l-17 15M1150 2l20 -6M1239 42l-15 -8M1224 33l-1 -2M737 161l-20 24M759 162l-22 -1M602 54l-14 10M426 196l-15 5M434 223l-8 -27M-16 180l9 -9M363 13l-28 40M311 22l24 32M50 51l-35 10M51 27l-2 15M47 112l-3 0M21 80l-9 -17M12 63l-4 -1M263 76l-25 -10M258 100l-26 -22M238 65l-4 3M218 120l-0 -0M212 556l11 -11M213 513l-5 6M224 539l-16 -19M567 329l-12 -22M662 369l2 18M664 387l-1 2M350 380l1 1M282 401l1 24M352 382l-22 28M245 425l-5 25M838 680l17 12M555 692l-0 -29M621 520l20 -8M259 525l20 -10M339 537l28 6M352 382l11 30M201 345l-0 -3M201 342l-4 -2M270 339l-1 9M171 304l15 -34M211 308l-1 -8M187 258l0 -0M241 301l29 7M259 264l-4 5M202 194l3 1M90 177l-12 3M32 164l0 0M113 582l17 11M136 594l-4 -1M21 526l-7 19M12 563l-1 -15M-6 453l9 -5M60 483l1 -14M275 689l26 15M444 683l5 18M338 637l-31 3M1288 587l4 4M1096 678l3 -26M1099 652l32 16M1094 632l5 20M1087 622l44 -17M1208 602l-1 19M1226 674l-6 1M1200 647l-1 11M1178 697l-4 -22M1286 206l1 -15M1284 13l12 -31M685 160l16 19M504 -21l-14 19M489 -1l1 0M841 140l10 -10M799 91l1 -9M838 95l-20 10M854 52l16 12M841 140l-29 -20M938 368l7 -3M945 366l25 18M1090 515l-37 -4M1035 519l2 1M952 486l15 -19M1007 606l11 -28M977 546l-8 -6M914 528l-1 25M904 566l9 -14M1089 610l7 -11M1089 610l-17 -31M1110 593l13 -15M901 317l28 4M928 348l2 -26M1035 356l-20 6M996 321l22 -12M968 287l-18 1M972 292l-1 19M460 159l-12 18M448 177l-0 4M448 181l16 27M459 157l1 2M498 180l-15 -14M587 157l15 24M563 166l4 23M591 257l-21 -33M806 301l-0 5M677 343l27 -13M688 375l32 -27M814 201l-10 -4M892 235l-17 46M886 230l6 5M701 179l9 -19M673 127l-1 31M630 40l-6 8M565 111l6 -20M673 127l-33 1M657 95l-18 31M118 86l22 -13M141 -3l17 20M310 -23l-12 13M302 24l0 -0M300 28l0 14M300 28l-45 20M260 52l-4 -4M-14 83l5 -1M190 522l5 24M160 513l12 14M171 571l-1 -11M142 558l16 -10M614 406l17 14M667 496l-13 13M670 485l-10 -34M833 605l14 11M797 609l34 -10M863 624l-8 -6M752 382l-0 -0M794 681l-19 -2M775 637l-31 5M765 673l-20 -2M735 682l-21 -6M521 712l-24 -28M283 468l14 12M369 577l7 30M390 331l15 16M434 347l13 -10M467 381l18 1M488 435l7 -1M495 434l4 -48M465 410l28 -26M137 676l2 58M1051 571l17 -18M1047 548l21 4M1021 547l3 8M1075 566l-7 -13M1047 614l16 -34M981 10l3 3M990 55l7 -6M1015 60l-15 -11M961 427l12 8M1046 457l-13 -7M967 466l8 2M991 548l-7 -4M992 412l4 -16M998 416l-6 -5M789 646l7 33M839 668l-21 -19M549 130l-11 -0M604 219l-2 -1M725 284l0 15M739 359l26 -12M739 359l-17 -10M892 378l-34 -2M839 383l3 2M630 40l23 26M210 -0l-12 -45M596 448l1 -1M584 411l14 36M748 621l-27 -16M749 593l-13 -8M778 610l-22 -7M742 640l6 -20M741 640l1 1M734 553l-26 8M815 341l-0 0M818 346l4 6M823 353l42 7M810 314l5 26M889 356l-15 -8M310 552l1 -11M364 493l-6 6M337 488l21 12M390 498l3 -2M421 448l38 14M420 404l-9 -2M395 452l14 4M534 412l-7 16M434 385l-6 10M431 428l22 -18M563 510l1 3M565 477l29 30M600 505l-5 2M400 597l9 17M39 464l-4 2M52 494l-6 -2M18 499l10 -6M1284 608l13 5M858 14l26 -7M892 18l-1 -3M1000 49l15 -21M992 441l7 -22M1004 444l23 -7M1037 416l-3 4M952 486l37 9M645 87l-18 -15M582 75l5 2M633 118l-5 -13M628 98l-1 -2M579 104l15 13M198 1l-21 22M191 53l-7 0M162 49l21 4M678 581l9 35M686 540l19 -13M698 515l2 1M715 479l1 3M700 516l4 -7M323 509l19 15M342 524l9 -10M337 488l-9 13M545 453l-9 2M524 469l13 -14M386 510l12 13M385 534l14 -12M438 595l13 26M448 640l3 -19M397 660l21 -19M916 10l12 -14M749 305l-1 18M743 302l-4 6M394 496l14 13M393 496l1 -0M410 518l-11 4M503 458l-3 -21M520 466l3 -22M526 645l-3 -22M529 618l3 -4M510 544l-6 -15M513 490l-14 11M505 515l-5 -13M460 471l21 25M476 533l-7 -4M520 581l18 -12"/><path stroke="#9238ac" stroke-width="12" d="M81 406l0 -1M102 428l46 33M1064 296l-4 3M1166 405l-11 -22M894 206l-2 -11M897 195l5 2M996 227l24 5M1000 190l-1 18M1069 228l4 19M1019 274l-4 -33M892 142l-14 5M737 48l-0 0M724 76l19 -13M764 21l12 26M101 2l-17 28M307 246l28 6M312 225l31 16M350 290l7 -7M119 414l-16 -32M171 146l-20 -32M136 153l-5 -26M16 637l1 -23M16 637l0 -0M148 470l-31 18M81 406l-4 20M1214 70l4 0M1204 185l16 -8M1220 178l-23 -31M312 148l11 -34M1171 357l5 -1M952 663l26 -17M683 271l-3 -15M930 178l-1 0M930 178l8 -55M929 179l-3 -1M938 124l-6 -5M916 120l16 -1M1061 337l-23 11M1035 356l3 -8M1038 348l-2 -10M1036 337l-18 -28M1096 41l28 -10M1160 145l25 -32M1185 113l0 -1M1159 160l1 -15M1154 161l-12 -8M1142 152l-11 -15M1128 107l-14 24M1197 146l-0 1M964 241l4 -16M988 252l7 -11M988 255l-20 26M988 255l-0 -3M968 281l-13 -28M1133 229l-13 15M1068 283l14 3M724 76l5 18M767 107l2 6M752 103l-2 -1M738 134l-13 3M765 -7l13 -33M62 -14l7 5M-8 14l-4 -40M84 93l-1 0M90 127l-21 2M84 93l-4 -26M253 602l-48 -9M233 638l-29 -13M117 488l-4 8M645 324l-23 12M656 347l-21 2M635 350l-6 -3M576 362l17 41M330 322l-20 21M310 343l-1 12M351 314l19 15M200 395l5 49M297 440l0 3M298 443l-15 22M164 635l-26 41M307 151l-17 4M226 122l22 25M281 129l-24 -1M143 348l-7 -1M83 303l1 -1M131 324l-10 -11M105 268l3 -15M153 210l14 29M80 577l-19 -1M26 573l-20 7M-0 571l6 9M52 548l-17 7M208 487l2 -2M208 487l5 26M1087 688l9 33M1017 625l11 -1M1263 101l-3 10M1198 45l6 8M1153 308l43 -18M535 36l-14 -4M535 36l10 30M608 7l-5 2M432 49l-15 3M369 135l33 -28M1026 89l-15 12M972 135l5 -27M1059 158l17 -17M1206 414l11 9M1167 601l15 2M1182 528l-39 -19M1137 542l28 17M1094 508l40 10M908 650l-0 -16M944 683l-5 0M481 249l0 18M524 275l-4 -12M1131 -12l1 6M1119 97l-24 5M1119 153l-22 -9M1079 140l17 5M1120 244l-0 8M702 17l19 13M685 33l17 -16M450 253l-17 4M376 196l23 31M378 192l-1 4M337 194l1 8M355 216l12 -9M356 230l35 -5M684 -27l3 21M32 205l-25 2M104 240l-41 20M339 -9l7 -33M73 94l-21 -24M-16 56l24 5M98 51l8 12M82 32l1 1M82 33l20 8M205 593l-2 -3M515 292l5 9M502 291l-25 6M456 317l-4 -7M539 385l37 -24M817 477l-6 -0M761 439l1 38M851 462l-9 -12M842 450l-37 -12M562 418l2 -1M218 120l8 1M201 150l13 11M248 147l-12 13M169 182l14 -17M187 154l-4 11M35 286l-15 15M39 323l-3 1M13 300l8 1M-6 336l24 -16M201 345l-18 33M307 246l-9 14M231 186l21 24M250 231l2 -15M250 231l2 4M62 130l-2 10M-6 401l-22 24M83 639l-3 -10M109 560l-4 -2M13 300l-10 -5M3 187l-19 -8M397 660l51 13M313 596l9 -24M339 671l6 16M1207 357l7 4M1186 366l20 12M1225 372l-6 -3M1268 347l-22 19M1224 326l-5 -6M1250 634l-24 40M1252 70l14 13M1289 62l-17 19M1263 101l3 -18M1128 286l-26 17M1270 221l-18 28M1269 280l-4 -19M1259 296l11 -17M1260 252l5 9M1279 245l20 3M1257 205l-11 -19M1218 229l15 4M1214 226l23 -42M408 53l-27 -16M406 12l1 1M381 37l-14 -13M470 25l-18 -1M404 88l1 -4M402 80l3 4M402 107l-2 -3M423 79l-18 4M797 69l-13 -22M776 47l8 0M888 88l-2 -1M993 91l22 -31M959 51l-8 8M1235 411l18 13M1235 411l-1 1M1206 414l3 -13M1256 505l-14 -53M1256 528l-10 -7M1217 511l11 -1M1213 594l-5 -6M1239 582l-10 -30M1213 594l-5 7M1208 602l-19 -3M1007 606l-34 -15M1202 387l6 12M1202 387l-17 1M1209 401l-1 -2M1168 407l7 -7M899 450l-19 -43M457 125l1 32M497 110l-38 -3M675 211l-5 -9M613 254l17 -11M613 254l-12 -2M600 308l-21 -24M562 287l-14 -12M679 254l46 -25M675 211l42 7M701 181l11 6M1140 34l-1 0M1166 58l-14 16M1137 70l-5 -5M1150 2l-18 -8M1178 17l24 7M1204 36l0 -2M1204 34l-2 -10M1120 87l21 -14M1174 -5l-5 1M1220 11l27 18M603 8l-1 45M371 158l42 0M32 164l-17 -22M-5 154l15 -11M-27 124l37 19M-20 111l32 1M21 121l-6 21M345 8l-33 14M271 74l2 0M301 70l-9 13M50 42l-31 0M12 92l7 -8M213 572l-1 -16M260 555l-1 -30M238 521l-14 17M224 539l-0 7M157 622l-17 -24M128 648l29 -26M128 648l-6 -6M520 301l22 7M614 406l20 -29M683 427l32 48M302 361l7 -5M855 526l-29 35M827 561l4 5M835 570l-4 -4M555 663l-29 -18M523 668l2 -22M667 556l10 -4M305 551l5 1M298 443l35 15M577 454l-12 12M128 648l8 27M337 194l-4 -1M180 322l12 10M201 342l24 -18M273 357l1 -1M273 357l-16 3M257 360l-5 -12M252 330l0 1M228 275l-22 -23M187 245l2 4M223 319l18 -18M219 181l-14 14M106 188l-41 32M39 169l-6 -4M28 178l4 -14M132 593l-8 -38M109 560l12 -4M14 546l-3 2M62 469l-1 -5M-7 223l7 22M-10 221l-18 28M278 624l6 -1M289 657l-5 -33M1239 582l14 2M1161 622l-15 9M1145 631l-11 4M1134 635l6 16M1138 656l31 20M1287 206l10 24M1308 178l-21 13M1086 330l15 -15M701 181l-0 -2M521 32l-24 -28M879 147l-22 -18M850 179l-10 -37M857 129l-6 1M799 91l16 15M842 95l-5 0M806 141l-37 -28M806 141l7 -21M851 130l-34 -25M1267 544l1 25M1286 580l-6 -9M950 450l15 10M904 578l39 4M941 514l15 7M885 513l29 14M885 513l-6 12M896 468l20 6M877 527l2 -1M904 568l-31 -14M873 553l-3 -13M904 578l-1 -11M1096 599l5 -31M1127 578l-4 -0M900 342l2 -24M931 356l-3 -8M1011 387l4 -25M475 157l-15 3M479 151l-4 6M413 159l35 19M542 187l-3 0M560 221l10 3M806 301l17 -14M822 287l52 -5M875 286l-0 -3M785 168l19 30M806 141l0 13M769 167l16 0M834 272l16 -12M852 202l-30 10M861 236l-17 -13M820 211l-10 32M756 203l0 0M793 244l-3 -14M720 144l-25 -6M695 138l-0 5M635 24l-5 15M135 -4l2 1M243 20l9 27M335 54l0 8M231 79l-29 5M470 331l19 33M710 396l-1 12M698 515l-20 12M634 555l3 1M640 512l5 -3M855 619l-8 -3M836 638l11 -22M835 570l0 0M822 395l-15 -9M791 396l2 -31M645 609l17 -34M618 644l-2 -7M739 687l-4 -3M736 685l-0 -3M470 705l19 -27M490 679l-1 -0M691 582l17 -21M394 415l6 -13M499 386l-6 -2M1072 579l-8 1M1264 180l9 -9M910 46l5 -16M890 38l2 -20M936 35l17 -11M957 14l24 -4M959 413l2 14M912 436l8 -3M992 450l-17 18M1021 547l-9 -2M1012 545l-21 4M977 546l8 -2M1013 401l-15 15M787 605l-9 5M826 684l-26 -5M559 127l-9 3M779 307l-14 38M805 347l-40 0M710 396l12 -48M822 395l17 -12M624 48l4 21M653 65l-24 4M173 -11l11 4M198 -45l-13 38M616 459l-13 -12M616 459l2 24M631 420l-29 26M577 454l19 -6M722 608l-0 -4M860 336l6 1M765 345l-0 1M807 386l11 -40M672 647l12 6M358 509l-0 -10M472 434l-1 1M594 507l2 1M595 507l-14 48M571 556l6 1M588 636l-16 -18M563 653l-10 -18M557 571l14 -15M459 462l21 0M785 582l4 -12M767 582l-2 -30M47 493l-18 1M957 14l-13 -11M925 26l1 -4M1015 29l-7 -10M1049 46l-6 -22M1030 -18l-0 21M973 434l19 6M1033 449l-14 16M1034 420l-35 -1M989 495l3 4M748 265l-4 28M633 118l-25 -3M608 115l-11 9M209 3l-11 -2M185 -7l14 8M243 20l-26 -5M711 641l-1 -12M711 630l-17 -17M688 616l-4 4M684 653l18 -10M339 537l3 -12M409 614l1 0M939 3l-11 -7M740 507l1 -11M495 434l5 3M527 428l-9 6M486 578l5 30M500 619l0 -1M552 542l-42 2M445 570l23 -41M468 529l1 -0M438 486l3 1M460 471l-18 16M416 493l10 8"/><path stroke="#ae48b8" stroke-width="8" d="M144 415l-25 -1M148 461l4 -16M955 175l21 -36M1015 178l-15 13M1068 378l11 23M1079 401l34 -11M1125 411l-6 -19M892 180l5 15M902 197l-1 5M1032 226l-1 1M1051 304l9 -5M1064 296l5 -12M892 142l31 35M746 42l-9 6M743 63l18 -2M761 61l11 -13M739 7l23 37M739 7l24 14M115 3l-5 27M243 700l21 -15M263 680l-10 -9M354 237l-12 4M129 126l-31 18M134 155l1 -2M-12 654l4 40M4 608l13 5M12 653l4 9M32 637l-6 -0M49 637l-15 -2M148 470l1 -9M102 428l-8 4M103 381l-3 -0M1283 448l24 -38M1191 79l24 -10M1171 357l-20 -33M1132 350l1 -3M1094 195l-40 4M1050 196l4 3M1133 229l-1 0M1098 204l-4 -9M1070 222l-16 -23M1070 222l28 -18M1038 197l12 -1M1059 158l-44 -1M350 164l10 -3M350 164l-38 -16M363 157l-4 4M440 56l20 3M1037 415l0 0M1065 421l-29 -6M1121 439l24 20M1184 331l9 -4M1204 353l-25 -4M1184 331l-30 -16M1151 324l4 -8M631 281l-0 -2M650 313l16 -32M629 285l2 -4M696 317l-45 -3M687 276l39 8M686 274l61 -22M748 265l0 -1M972 135l-34 -11M924 222l-23 -20M923 177l3 1M1019 274l-7 12M1096 -2l27 4M1159 160l-4 1M1128 107l19 15M1195 109l20 28M1101 247l-18 39M729 94l22 8M680 77l-26 -12M393 275l-4 -24M775 -2l19 2M744 -8l20 2M278 -56l-15 56M4 13l4 1M54 25l-3 2M4 13l-9 1M83 93l-14 36M80 67l24 0M106 76l-2 -8M204 625l1 -31M176 645l22 -11M198 634l0 1M634 293l-15 41M616 293l-15 16M622 335l-2 -1M611 378l-5 24M206 444l1 1M181 416l20 -21M159 475l42 -17M312 148l-5 2M280 123l14 -17M52 374l1 -1M41 392l-15 14M12 397l14 10M62 346l-28 4M156 311l4 -6M160 305l-14 -16M137 261l9 11M58 654l10 -35M68 619l2 0M24 591l-11 1M12 591l-4 -4M-12 569l12 2M-0 571l12 -8M209 485l13 1M238 521l10 -3M1290 143l-15 11M1292 92l-3 -1M1215 42l1 2M1204 36l-6 9M1161 227l9 -54M1177 227l-15 -0M1215 285l5 -22M1196 290l-5 -8M1187 223l27 3M1214 256l4 -27M491 74l1 -28M433 83l-10 -4M821 29l5 5M1035 122l-8 9M1050 106l-5 7M1196 436l-17 -13M1192 458l-21 -26M1206 414l-26 9M1217 423l3 13M1222 459l8 -7M1167 601l-4 -12M1146 500l-4 8M1087 483l7 25M1103 565l5 -11M500 244l19 8M481 267l39 -3M480 270l1 -4M1091 70l28 27M1119 97l9 9M1076 141l3 -1M1133 229l10 1M736 5l-4 14M746 42l-15 -24M407 292l-1 -8M407 292l45 18M663 16l25 -21M273 96l-12 8M260 104l1 0M-6 15l13 47M111 30l0 3M507 293l-17 20M520 301l-5 30M457 324l3 1M576 362l-14 32M302 361l-19 40M817 477l34 -15M851 462l9 2M774 476l21 12M850 420l10 6M218 120l-17 30M202 194l-22 11M179 204l-1 -1M134 155l-3 32M-12 347l5 -1M177 309l2 13M255 385l2 5M201 394l-12 -11M219 377l-6 -20M213 357l-1 -0M252 235l7 29M284 242l13 18M311 221l-11 -7M83 639l28 -11M92 556l14 2M2 296l12 -23M15 272l-25 7M19 270l-0 -2M7 191l-5 -4M338 637l8 1M321 572l45 4M983 649l-5 -3M1282 296l10 5M1224 339l-10 21M1310 346l-36 1M1233 398l20 -6M1242 315l-18 12M1246 285l13 12M1236 338l5 -23M995 647l22 32M1268 654l-9 -12M1153 308l-2 -3M1245 252l2 -3M386 1l-22 13M393 67l-12 -30M489 -1l-19 27M396 68l5 12M794 1l-5 39M821 29l-22 9M888 88l22 31M1049 46l-11 17M950 91l10 -17M938 56l-15 17M1231 453l0 -0M1191 484l26 27M1217 476l11 34M1246 518l-18 -9M1206 563l-26 -0M1239 582l-6 6M1165 559l-7 19M1007 606l10 19M1208 400l-32 0M1206 378l-4 9M1183 376l2 13M854 398l21 8M936 374l-22 13M936 374l2 -5M914 387l-17 -2M889 357l3 21M912 436l7 -34M434 223l-13 10M438 141l20 15M560 159l23 -18M670 202l31 -21M717 186l-4 1M756 191l-0 12M1118 76l-13 -16M1136 43l-3 23M1136 43l4 -9M1191 79l-25 -21M1176 -7l-2 2M1239 42l9 -13M1219 9l1 2M1268 20l-20 9M717 186l0 -1M571 78l11 -3M104 240l-32 -13M72 227l-14 27M19 248l6 -7M29 239l16 12M263 0l1 5M321 107l6 -16M301 70l11 6M327 91l20 -16M55 60l-5 -9M21 121l22 -8M21 80l-1 4M177 597l10 -10M160 623l-3 -1M530 347l33 -3M543 308l12 -1M516 334l13 13M634 377l29 12M738 436l-2 20M762 477l-26 -21M328 417l2 -8M352 382l0 -1M228 417l17 8M283 468l0 -3M877 527l-8 14M618 644l-10 43M523 668l30 25M613 552l3 2M660 567l-23 -11M660 567l7 -11M667 556l-5 -30M677 552l9 -13M366 576l0 -32M363 411l-0 2M562 418l-6 13M177 309l24 1M223 319l1 5M232 351l3 3M252 330l-28 -6M279 307l-7 -1M252 330l18 -23M201 150l-14 4M252 216l-33 -6M90 162l-1 15M58 215l7 5M55 147l23 33M60 140l-5 7M60 207l17 -26M132 593l-1 0M113 582l0 0M124 555l-2 -9M35 555l-20 -10M-12 211l2 10M264 685l11 4M307 641l7 11M302 606l-16 18M1269 613l16 -6M1306 573l-20 7M1096 678l27 4M1086 624l-17 4M1136 609l-7 24M1132 664l6 -8M1166 626l-8 25M1200 647l-29 -19M1183 612l-12 15M1199 657l-23 15M1273 223l24 7M1117 325l22 -16M1117 325l-16 -11M523 -12l-26 15M860 119l-3 11M840 141l1 -1M835 70l3 25M870 64l4 7M910 46l0 -0M870 64l21 -26M965 460l2 6M1014 573l-7 -2M942 550l27 -10M942 550l1 33M959 590l18 -44M879 525l24 41M935 541l-23 11M1151 582l-16 2M1103 566l20 12M1103 566l-2 2M1103 565l-0 1M957 323l14 -12M996 321l-25 -9M838 680l2 -12M498 203l-1 -23M498 180l17 -17M546 68l-33 48M581 163l-10 25M547 233l14 -11M778 307l1 0M748 265l20 35M856 300l-45 15M808 154l29 24M848 254l2 7M807 245l3 -2M844 222l-5 1M917 236l7 13M874 282l1 -1M924 222l-7 14M889 303l-14 -17M685 160l9 -16M687 119l-14 8M559 127l6 -16M587 142l4 -2M584 122l-4 -18M631 148l9 -20M680 92l-23 3M139 54l1 1M139 54l-2 -58M297 51l-16 9M252 47l4 0M9 91l-18 -10M188 521l-16 6M183 498l5 24M470 331l32 6M631 420l33 4M624 483l36 -32M655 512l-1 -3M836 571l22 6M788 602l-0 4M849 652l-13 -13M778 640l-13 33M623 613l2 3M626 617l20 -7M555 663l8 -10M588 636l28 0M504 659l20 -13M496 638l9 21M297 480l-0 16M457 324l-11 12M447 336l39 45M472 434l-7 -24M85 648l-9 20M42 663l-21 31M54 705l14 -35M18 499l-13 -6M303 704l8 -47M313 652l-3 5M1039 556l3 13M1043 569l9 2M1030 582l13 -13M1024 555l-10 18M1047 614l-5 -17M1273 170l16 0M1245 186l19 -6M1275 154l-2 16M855 12l13 -38M938 55l-2 -20M915 29l10 -3M997 49l3 1M965 460l3 -3M967 457l5 -23M1076 483l-24 -4M996 395l-12 -3M800 678l-4 0M817 636l-1 1M549 130l8 29M559 194l9 -6M602 219l-15 -24M578 221l9 -27M586 190l1 4M570 224l8 -3M859 375l-16 9M799 202l-7 11M657 95l-9 -8M179 148l-2 -46M757 603l-8 -10M815 341l45 -5M815 341l3 6M421 448l9 -19M420 404l11 24M449 390l-15 -5M541 493l9 -11M561 545l10 11M565 477l0 -1M588 588l-11 -32M553 635l18 -16M826 561l-10 -23M101 682l-17 28M28 494l6 -28M26 464l9 1M939 3l5 -0M1015 29l28 -4M993 443l-1 -2M992 448l1 -5M996 465l-8 19M1007 506l-3 0M975 468l13 15M1012 545l-5 -39M1035 519l-14 -16M956 521l36 -22M587 77l33 1M619 79l8 18M183 53l0 0M703 644l-19 -25M703 644l5 0M668 622l16 -3M715 676l-6 -32M722 608l-11 21M311 541l12 -33M406 567l-21 -32M926 22l-10 -12M741 299l2 4M605 102l-3 -6M606 103l-1 -1M748 544l29 -27M765 552l-17 -9M518 435l5 9M524 469l-4 -3M493 471l-1 25M410 518l23 12M510 544l-3 11"/><path stroke="#ae48b8" stroke-width="12" d="M12 653l4 -16M66 393l15 14M74 388l8 18M975 138l35 8M1079 401l-3 15M1125 411l41 -6M892 180l-12 -1M883 192l9 4M894 206l7 -4M1032 226l37 2M1057 264l16 -17M1056 264l-24 8M1051 304l-6 -3M1068 283l-11 -19M1032 272l12 28M720 70l17 -22M101 2l-25 -13M101 2l14 2M216 695l-7 -13M265 621l-25 15M666 357l10 -13M666 357l-11 -9M354 237l6 7M90 127l8 16M171 146l-36 7M105 268l-17 24M25 636l0 -26M17 613l9 -3M32 637l7 24M32 637l2 -1M38 661l4 3M95 433l-17 -6M1230 108l-36 1M1204 185l-34 -12M1134 179l-0 50M1133 229l-34 -25M437 141l-23 11M451 101l13 -28M1090 478l1 -13M1306 464l-20 29M1280 492l5 1M1073 420l11 34M1122 429l-1 10M916 690l-2 -0M636 271l18 -11M666 281l16 -10M679 256l-25 3M634 293l16 20M1086 330l12 23M1017 301l1 8M1087 8l9 33M1131 138l17 -12M1189 108l-4 4M962 218l5 8M993 216l-22 9M767 107l-15 -4M693 60l-12 17M691 111l14 -2M691 111l-12 -19M699 54l-6 6M659 20l3 -2M659 20l0 31M737 48l-20 -10M337 202l17 15M765 -7l11 5M789 -34l7 33M222 -14l30 6M49 113l13 17M112 110l3 -7M84 93l22 -17M209 683l-11 -2M650 314l-6 9M606 402l-12 1M594 358l-18 3M370 328l-12 23M358 351l-17 4M319 358l-9 -2M227 417l-26 -22M227 417l-15 28M200 395l0 -1M249 492l-6 -14M297 440l-15 -15M270 442l13 23M164 635l12 10M301 103l-7 3M250 114l-25 8M286 159l4 -4M253 147l30 13M88 336l-9 -3M11 390l23 -35M52 374l-18 -18M33 337l30 7M155 355l-12 -7M168 355l5 -10M125 359l10 -12M131 324l-0 7M159 330l-3 -19M329 276l-29 -0M146 290l41 -31M167 239l3 2M54 602l12 16M54 586l0 16M-19 595l27 -8M24 568l-13 -5M213 513l8 -1M201 458l8 27M247 505l2 13M1061 681l-17 13M1030 662l4 -3M1220 178l15 1M1253 124l-5 -4M1161 227l-18 3M1157 280l18 -6M1177 227l17 25M1215 285l-2 2M1215 285l31 -0M1246 285l-1 -33M521 32l-28 15M461 58l-1 1M584 13l7 -2M459 -20l-11 13M1226 -6l-6 1M1049 93l-12 -15M950 91l-10 7M1192 458l11 -2M1174 423l-2 4M1220 436l-23 -0M1179 478l-21 -23M1168 407l5 16M1146 459l12 -4M1186 591l3 7M1177 489l-31 11M1103 565l-29 -22M1108 554l-23 -28M1085 526l-8 6M1090 515l-4 11M898 658l-36 -30M924 651l-16 -1M469 238l12 11M524 275l25 -0M882 196l-12 19M870 214l6 13M886 230l-10 -3M894 206l-0 0M853 201l17 14M1050 106l23 10M1115 130l-11 6M1119 153l18 22M717 37l4 -8M744 -8l-9 10M739 7l-4 -3M407 228l1 -27M45 218l-16 21M45 218l-13 -13M280 123l-20 -19M82 33l2 18M104 67l2 -5M213 572l-9 18M480 270l-3 26M524 275l-9 17M507 293l-5 -2M258 393l8 6M838 510l-7 1M774 476l12 -27M850 420l-12 7M141 677l17 20M236 160l7 12M187 245l-17 -4M-6 401l18 -4M13 300l-25 22M-6 336l-1 9M255 385l-6 -9M212 357l-24 26M293 182l-31 32M252 210l0 5M262 214l32 2M253 215l-0 1M80 629l25 -12M112 628l-6 -11M106 611l-1 6M84 575l25 4M54 538l34 -1M113 497l-1 0M123 546l-13 -1M19 268l-34 -8M344 615l24 -38M363 693l-19 -6M345 638l-7 33M944 683l13 11M1282 296l-23 3M1259 298l-1 7M1298 320l-24 16M1214 361l4 9M1218 370l-12 8M1226 338l2 0M1273 347l18 44M1236 367l10 -1M1236 338l31 9M995 647l2 -1M1272 694l-29 -18M1265 625l-10 9M1264 56l24 5M1288 61l1 1M1272 81l-5 1M1157 280l-9 19M1147 298l-19 -13M1240 237l-7 -4M1247 249l-7 -12M1270 221l-2 -10M413 51l-4 2M393 67l4 1M426 26l23 -6M451 24l-3 -4M400 104l-22 -5M400 104l4 -17M434 112l10 -7M444 104l-40 -16M825 54l-5 -8M820 46l-21 -8M825 54l25 -1M1037 78l-1 -13M1093 47l-45 -1M990 55l-31 -4M938 55l13 4M1188 515l27 -4M850 420l5 -22M859 426l16 -19M931 356l8 12M881 407l-5 -0M855 692l13 -38M500 204l-1 -1M434 223l31 -12M491 74l6 36M437 141l1 1M663 245l-28 -28M663 245l-29 -1M678 251l-3 -40M633 208l1 9M633 208l30 -10M679 254l-1 -3M601 253l3 -33M747 249l-8 -15M747 249l46 -5M1120 87l-2 -11M1164 47l2 4M1141 72l-4 -2M1124 31l15 3M1150 89l2 -15M1118 76l19 -5M1199 -23l-23 15M555 12l-2 1M432 190l-16 -7M408 202l3 -1M416 182l-8 -10M61 260l-17 22M58 254l-13 -3M64 261l-3 -1M16 142l-6 1M-10 153l5 1M289 -23l-14 32M258 100l2 4M8 14l11 28M218 120l13 -42M260 555l1 2M177 597l-38 1M529 347l1 -0M515 331l0 3M738 436l-4 -5M309 356l11 21M319 377l14 7M319 381l9 23M254 418l12 24M282 468l1 -0M855 526l21 1M838 427l-6 -7M805 438l1 -11M806 427l18 -7M779 406l9 -1M613 552l8 -32M663 526l16 1M260 561l44 42M261 558l44 -7M265 495l18 13M283 507l-4 8M317 558l22 -21M337 427l-1 27M577 454l-13 -36M565 466l-13 -11M299 197l34 -5M298 191l22 -5M293 182l5 9M223 319l-12 -10M224 324l7 27M236 366l-2 -11M269 348l-17 -0M210 300l-24 -31M187 269l0 -11M255 269l-16 9M239 278l3 23M271 307l2 -0M250 231l-44 21M214 161l5 20M231 186l-5 -1M187 245l24 -35M106 188l-17 -11M55 147l-23 17M113 582l8 -25M-30 448l25 4M-24 505l25 -13M59 510l-6 -15M55 431l-2 22M61 464l-8 -10M-7 223l-2 -2M339 671l-26 -19M275 689l14 -32M1265 625l4 -12M1253 583l9 12M1136 609l9 -0M1161 622l-1 -5M1129 633l5 2M1131 668l2 -4M1200 647l10 -13M1183 612l25 8M1220 675l-21 -18M1170 676l5 -1M1268 211l18 -5M1102 303l-0 10M663 199l-5 -31M630 207l-15 -26M886 88l-26 31M851 179l-1 -1M812 120l3 -15M1268 569l12 2M1078 532l-41 -11M916 474l20 16M973 591l34 -21M935 541l4 -24M956 521l13 19M904 568l0 -1M1087 622l2 -11M889 356l1 1M932 304l-3 17M1037 415l-24 -14M972 312l-1 -1M995 360l-1 2M930 323l27 1M497 110l11 7M514 206l25 -18M539 188l-22 -24M602 181l-16 10M805 306l5 8M874 282l0 0M807 245l27 28M820 211l-6 -10M830 244l9 -20M875 281l46 -18M726 157l-6 -4M725 136l-4 8M602 54l22 -6M559 127l24 15M565 111l19 11M138 -4l3 1M298 -10l4 34M289 -23l9 13M311 22l-9 2M320 57l16 4M319 67l24 5M336 61l8 10M313 76l7 -9M12 92l-3 -1M188 521l2 1M172 527l-15 16M502 337l-13 27M460 325l9 6M710 396l-22 -22M667 427l-2 -3M667 496l3 -11M698 515l-31 -19M855 619l13 -38M831 566l-43 35M797 609l-9 -4M752 382l41 -17M764 701l12 -23M778 640l-3 -3M576 646l-13 7M744 672l-9 10M702 697l7 -19M448 673l11 -13M283 507l14 -12M372 627l3 -5M359 375l25 5M428 350l7 -3M363 413l32 2M386 389l14 13M62 666l7 5M26 523l-8 -23M0 492l5 1M3 448l22 17M289 657l9 13M1018 579l12 3M1030 582l12 16M1312 164l-23 7M953 24l4 -10M955 434l6 -8M1031 444l2 5M967 457l25 -10M992 412l-19 -7M973 404l11 -12M1011 387l-14 9M815 636l3 12M797 609l13 26M778 640l11 6M778 610l-3 27M560 159l-2 -1M517 164l20 -9M602 219l-24 2M655 65l-2 1M192 101l-11 -1M156 95l-1 -4M600 479l9 7M600 479l-4 -32M621 520l-21 -14M736 585l-15 14M856 300l4 36M653 662l19 -15M296 496l5 3M380 499l-1 12M369 517l10 -6M380 499l10 -1M392 445l4 8M465 410l-9 -2M428 350l6 35M524 471l25 12M582 555l-4 2M536 511l4 -4M488 435l-8 28M926 22l13 -19M1017 -1l10 4M1034 420l-7 16M1020 503l5 -9M726 298l16 0M629 69l-1 3M628 105l-0 -7M608 115l-3 -12M205 47l-13 6M690 555l17 -27M459 660l-3 -8M411 614l27 -19M916 10l-2 -0M749 305l-6 -3M763 301l-13 4M595 116l1 -25M748 544l-8 0M740 544l-0 -37M800 535l-23 -18M416 493l0 -22M411 462l-17 33M438 595l3 -24M458 570l-13 0M451 621l40 -13M500 618l22 4M561 610l-29 5M480 496l11 0M499 501l-8 -5M476 533l27 -4M486 578l14 -10M506 556l-6 11M532 615l1 -20"/><path stroke="#c864c4" stroke-width="8" d="M66 393l8 -5M102 428l17 -15M184 435l-32 9M1015 178l0 -21M1015 157l-4 -10M1145 370l9 12M1145 370l-3 -1M902 197l15 -18M1020 232l-1 -0M917 179l6 -2M870 170l8 -23M772 48l-10 -3M54 25l14 -35M84 29l-3 2M278 624l-13 -3M656 347l-8 -20M335 252l8 -11M152 396l-6 16M129 126l2 1M134 290l-29 -22M4 608l-16 6M16 662l22 -1M1283 448l22 17M1191 79l-2 29M1166 164l5 9M1094 190l-2 -10M351 119l-28 -5M368 137l0 0M408 135l5 -19M1122 428l0 1M1137 479l9 -20M1203 336l-9 -9M928 676l11 7M928 676l-19 -24M747 252l1 12M930 215l-1 -36M892 142l18 -23M1131 138l-17 -7M1243 -4l29 18M996 227l-3 12M1019 274l-30 -19M761 61l-10 40M705 109l24 -15M357 283l35 -8M354 237l2 -6M744 -8l-1 -30M800 -2l18 -30M826 4l12 -4M838 -0l2 -12M263 0l-10 -9M16 -18l-12 31M-7 15l1 0M101 111l-17 -19M170 489l-11 -14M131 520l1 0M176 645l-3 24M185 673l-11 -4M622 335l6 11M628 372l0 -25M645 324l3 3M341 355l-23 2M184 435l22 9M243 478l2 -5M281 129l-1 -6M248 147l5 0M100 381l-11 -7M-7 347l36 -1M33 337l-4 9M107 336l24 -6M137 261l33 -21M108 253l-3 -12M36 612l1 13M70 619l19 -20M31 584l-8 7M8 587l-2 -7M4 608l8 -17M52 548l9 28M222 486l4 17M238 521l-17 -10M1060 654l9 -26M1270 153l5 1M1235 179l5 -18M1289 91l-26 10M1260 111l-13 9M1233 110l10 11M1248 120l-4 1M1161 227l1 0M1193 327l3 -6M1196 290l-0 -0M1220 263l25 -11M603 8l-13 2M555 12l29 1M368 137l40 -2M1061 1l-1 -27M1061 1l26 7M1046 113l-10 9M1046 113l21 24M1203 455l20 4M1146 609l5 -27M1159 618l8 -17M1188 515l-11 -26M1188 515l-7 13M1084 453l-33 -1M1074 542l4 -10M884 687l9 -25M944 683l8 -20M957 610l10 23M450 253l19 21M556 253l-10 -20M547 233l-13 0M1123 2l9 -8M1134 179l0 -0M764 21l12 -23M432 257l-1 5M376 196l-10 12M360 161l18 31M635 24l24 -4M339 -9l-26 -19M-7 15l-5 5M128 52l-23 10M102 41l-4 10M202 627l-33 -8M169 619l-9 4M253 573l-0 30M515 292l-9 1M515 331l-26 -18M480 270l0 0M460 325l29 -12M228 417l14 -21M257 390l25 -32M257 390l1 3M282 401l-16 -2M795 498l1 -10M766 477l-4 0M812 477l-13 -31M860 464l-1 -38M539 385l-17 2M153 210l26 -6M179 148l-8 -2M212 388l7 -11M236 366l-17 11M259 264l38 6M262 214l-9 1M90 162l-30 -22M106 611l-14 -10M92 600l-3 -1M105 559l5 -13M110 499l-21 37M77 427l-23 4M19 270l16 16M19 270l-5 3M6 206l-18 5M345 638l10 -11M386 681l-22 13M981 690l3 3M1258 305l10 17M1185 366l0 0M1203 336l22 3M1224 339l2 -1M1274 336l-1 9M1245 310l-3 4M1017 679l10 4M1017 679l-30 14M1243 676l15 -33M1256 634l-6 -0M1301 15l-13 -0M1233 110l19 -39M1268 20l5 -5M1288 14l-4 -1M1090 289l11 14M1270 221l2 2M1240 237l16 -32M1238 182l-1 2M396 68l12 -15M448 -7l-4 10M363 13l-19 -6M361 71l32 -4M433 45l-7 -19M417 52l-5 -1M370 90l32 -11M444 104l4 -3M783 48l6 -8M853 49l1 3M854 52l-4 2M873 70l1 3M1015 60l21 4M976 77l14 -22M1217 423l17 -11M1256 528l45 -2M1180 484l11 -0M1215 511l2 -1M1228 551l-27 -11M897 385l-16 22M899 450l-3 18M893 662l-25 -8M466 211l-1 -1M457 125l2 -17M459 107l0 1M633 245l-3 -2M640 255l-6 -10M616 293l-23 -36M593 256l-2 0M563 166l18 -3M800 247l-7 -4M950 288l-25 -15M917 289l8 -16M1095 54l10 5M1152 74l-11 -2M1178 17l-14 30M1158 -29l18 22M1204 34l19 -3M1215 42l9 -8M769 167l-12 24M584 13l5 51M413 159l0 0M397 190l4 -10M3 187l6 -17M292 83l-12 -0M273 74l7 9M358 75l-12 1M49 113l-2 -1M12 112l0 -20M233 68l-2 10M231 79l0 -0M138 597l2 1M530 347l13 -39M704 420l-21 7M736 456l-21 19M759 396l-24 34M759 396l20 10M282 401l23 7M245 425l9 -7M265 399l-11 19M238 452l2 -2M854 398l-8 -7M792 407l28 -10M821 709l5 -25M653 662l-35 -19M305 551l-26 -35M337 427l-10 -10M337 427l22 -8M359 419l4 -6M135 676l2 1M299 214l-0 -17M307 151l12 35M192 332l5 8M213 357l19 -6M255 385l18 -28M210 300l18 -25M206 252l-17 -3M255 269l17 38M205 195l7 15M122 196l-15 -7M45 218l13 -3M39 169l39 12M60 207l-2 8M124 555l-0 1M26 523l-5 4M102 464l-41 -1M-1 245l-19 7M345 688l-33 14M307 641l-20 -18M1261 595l27 -8M1288 587l-2 -7M1124 711l-1 -29M1086 624l1 -2M1129 633l-18 1M1111 633l21 30M1138 656l2 -5M1145 631l12 20M1182 602l0 10M1166 626l5 1M1287 206l25 -2M1140 309l-38 3M553 13l-30 -25M835 70l-35 12M936 374l23 37M959 411l11 -6M1087 483l-11 -0M939 517l-25 10M838 510l18 16M1101 568l-25 -2M1075 566l-3 14M1130 595l-20 -2M1133 545l-7 33M900 342l28 7M1013 401l-2 -14M857 648l-8 4M479 151l-20 -43M513 116l-5 1M483 166l-20 42M432 190l15 -9M748 265l0 0M778 307l-10 -6M696 317l7 9M703 326l1 4M875 286l-19 14M838 178l-24 23M840 141l-32 13M800 247l7 -3M861 236l15 -9M925 249l-3 14M924 273l-3 -10M954 253l-30 -4M710 160l-16 -17M710 160l10 -7M584 122l7 18M571 91l8 12M140 73l0 -18M164 -45l-26 41M162 49l-22 6M300 42l-3 10M302 24l-1 4M300 42l19 15M202 84l-10 17M195 547l-25 14M158 548l-1 -6M663 389l2 35M833 605l-2 -6M831 599l5 -28M896 586l-28 -5M791 396l16 -10M762 725l-23 -37M744 642l1 30M623 613l-6 -59M660 567l2 9M576 646l14 45M709 678l5 -2M691 582l-13 -1M428 350l-20 -2M359 419l33 26M400 402l11 -0M516 383l-17 3M493 384l0 0M115 683l20 -8M1036 521l11 27M1042 597l13 -20M1283 187l6 -17M915 29l-23 -11M953 24l8 15M961 39l23 -21M995 -33l22 32M1017 -1l-30 14M984 13l3 -0M984 18l5 19M1280 571l12 -8M959 413l-18 2M919 433l35 1M950 450l5 -15M726 298l-3 5M793 365l12 -18M790 229l3 -16M565 476l35 3M600 505l8 -19M722 608l19 32M866 337l8 11M805 347l10 -6M859 375l6 -16M645 609l22 13M672 647l-5 -25M687 675l-3 -21M311 541l-10 -42M369 517l-11 -8M386 510l4 -11M431 428l-0 2M538 437l-11 -9M553 455l-7 -2M449 390l7 18M452 410l4 -2M513 490l10 -19M565 477l-1 1M571 618l-4 -6M369 577l31 -7M788 570l38 -9M827 561l-1 -1M1008 18l18 -15M1030 4l-4 -0M987 13l22 6M998 416l0 2M988 483l1 12M1018 471l7 23M1004 506l-12 -7M1019 465l-1 6M984 544l20 -38M768 301l-5 1M744 293l-2 5M639 126l-6 -7M177 23l6 30M184 53l-1 -0M159 17l18 6M233 68l-29 -21M202 84l-11 -31M155 91l28 -38M694 613l-7 3M321 505l6 -5M327 500l24 14M301 499l20 6M367 543l10 -10M411 614l7 27M914 10l-5 -37M891 15l23 -6M739 308l-1 21M748 323l-9 6M722 304l17 5M596 91l5 5M762 477l-8 13M500 437l18 -2M493 471l-12 -9M467 504l3 25M432 530l1 2M449 507l-17 22M449 507l-8 -20M533 594l23 -22M506 556l31 14"/><path stroke="#c864c4" stroke-width="12" d="M892 195l5 -0M1031 227l25 37M1056 264l1 0M1019 274l0 0M880 179l-10 -9M746 42l16 3M724 76l-4 -6M776 47l-4 1M210 680l12 -14M253 672l-30 -6M253 672l-13 -35M222 666l11 -27M329 276l21 14M103 381l18 -14M134 155l-36 -7M99 148l-1 -5M121 313l-37 -11M84 302l4 -10M58 654l3 12M58 654l-10 -17M1195 109l-6 -0M1134 179l-40 11M440 56l-7 27M1090 478l42 1M1274 453l6 39M1043 365l-6 51M1073 420l-7 2M1184 331l-5 18M1183 376l-29 6M1183 376l2 -10M924 651l44 -17M939 683l-13 19M687 276l-1 -2M1086 330l-3 -0M1051 304l-15 34M1087 8l9 -10M1170 108l15 4M1150 89l-22 17M1197 146l-12 -33M1159 160l7 4M1268 -26l4 40M1259 -38l-15 33M971 226l-3 -0M994 241l-2 -3M769 167l-10 -5M693 60l-34 -10M659 51l-4 14M699 52l19 -15M360 244l28 7M796 -1l-2 2M239 -44l13 35M42 -17l-21 31M21 15l-13 -0M-8 14l1 1M73 94l-24 19M84 93l-0 -0M170 489l-10 25M210 680l-12 -45M202 627l-4 7M198 681l-14 -8M600 310l19 24M341 355l9 24M350 380l-32 -22M330 322l21 -9M212 445l-5 1M265 495l-16 -3M173 669l-32 8M257 128l-4 19M81 376l9 -2M81 376l-27 -4M54 373l8 -27M11 390l-18 -44M143 348l17 -18M159 330l12 9M122 364l3 -5M131 324l25 -13M76 328l7 -25M76 328l0 2M145 289l1 -17M146 272l41 -14M115 228l53 10M34 635l3 -10M61 576l-8 9M170 489l13 9M247 505l-21 -3M1034 659l-6 -35M1028 624l21 -5M1253 124l17 29M1239 131l0 29M1292 112l-32 -1M1290 143l6 -1M1270 153l-31 7M1228 62l-10 8M1214 70l-11 -17M1187 223l17 -37M1143 230l14 50M1154 315l-2 -7M545 65l-54 9M576 -34l14 45M555 12l-0 -29M448 -7l-51 -13M368 137l1 -1M413 116l-11 -9M858 14l-3 -2M1026 89l9 33M987 91l-10 17M993 91l17 11M1076 141l-9 -4M932 119l8 -21M1196 436l6 19M1179 478l13 -20M1220 436l11 17M1151 582l7 -4M1158 578l6 11M1134 518l3 24M1165 559l6 -2M908 651l-10 7M908 634l-13 -22M862 628l0 -3M957 610l-49 24M500 244l-19 5M520 264l-1 -11M450 253l19 -15M534 233l-20 -27M500 244l-0 -40M870 170l-19 9M851 179l2 22M1085 97l10 5M1085 97l-12 18M1136 175l-3 3M1154 161l-18 15M1083 286l7 3M702 17l7 -19M715 -4l21 6M405 284l26 -22M432 257l-11 -24M388 251l16 -22M367 208l24 18M405 229l-5 -2M397 190l11 11M653 -18l10 33M635 24l-27 -18M16 231l9 10M88 292l-24 -32M106 241l-1 -0M295 106l-22 -10M52 70l3 -10M75 62l10 -11M164 635l-5 -12M480 270l22 20M456 317l21 -20M282 358l20 3M781 513l-15 -36M766 477l8 -1M820 521l-25 -23M820 521l11 -10M761 439l9 -2M842 450l-4 -23M884 687l-26 7M562 418l-28 -6M564 418l6 -5M534 412l-12 -26M198 681l-21 22M214 161l21 -1M262 179l-20 -7M132 187l37 -5M187 245l-8 -40M76 328l-37 -5M33 337l2 -12M172 338l8 -16M310 343l-23 -20M252 235l32 7M293 216l-9 26M243 172l-12 14M286 159l7 23M122 640l1 2M122 642l-37 6M92 556l-3 -19M110 546l-20 -10M84 575l8 -19M131 520l-8 26M392 663l5 -3M406 692l-20 -12M313 596l-8 7M313 596l32 19M302 606l36 32M302 606l2 -3M983 649l-2 41M1236 367l-11 5M1246 366l7 26M1236 338l-8 1M1233 398l-4 -3M1226 338l-3 -12M1197 321l22 -2M1256 634l3 8M1243 676l-17 -2M1250 66l2 4M1236 59l15 7M1274 15l13 47M1292 63l-4 -1M1147 298l3 7M1120 252l8 34M1252 249l8 3M1269 280l25 -7M1265 260l34 8M1282 296l12 -23M450 28l1 -4M461 58l-11 -30M369 135l10 -36M797 69l28 -15M886 88l-12 -14M873 70l35 -20M1084 82l-46 -19M1233 412l-2 41M1241 453l-10 0M1256 505l-10 13M1191 484l26 -8M1222 459l-6 16M1208 588l-22 -15M1186 573l-6 -10M1228 552l0 -1M968 281l0 6M892 378l5 7M919 402l-4 -16M873 471l13 2M896 468l-9 5M862 628l-5 20M857 648l11 6M469 238l-3 -26M438 141l19 -17M634 217l-4 26M580 284l-17 3M630 207l-26 13M560 159l4 6M587 157l0 -14M587 157l-6 6M740 233l16 -30M1140 34l24 13M1126 62l10 -18M1093 47l3 -6M1236 59l3 -17M769 167l0 0M535 36l18 -22M426 196l6 -6M411 200l5 -18M401 180l6 -8M408 172l5 -13M363 157l7 1M414 151l-1 7M19 268l1 -20M21 121l-9 -9M301 103l-10 -19M273 96l7 -13M50 42l0 8M19 42l-3 18M47 112l-2 -34M8 61l1 1M259 525l-11 -7M136 594l2 3M122 640l16 -43M529 347l-12 35M600 310l-34 20M562 287l-8 21M628 372l6 5M709 409l43 -27M752 382l7 15M770 437l9 -31M309 355l-1 1M333 384l18 -4M358 351l1 24M352 381l-1 -0M305 408l17 8M322 417l6 1M330 409l-1 -5M319 377l0 4M270 442l-4 -0M832 421l-8 -1M788 405l4 2M663 696l-10 -33M635 704l-27 -18M617 554l18 1M321 572l-4 -14M317 558l-7 -5M332 458l4 -4M299 197l-2 -7M192 332l9 -22M173 345l24 -5M270 339l-17 -8M282 358l-8 -2M250 376l7 -16M235 354l18 -7M228 275l11 3M226 184l-6 25M72 227l-7 -6M77 181l1 -0M32 165l-0 -1M124 555l-3 2M106 611l24 -17M142 558l-18 -3M142 558l-4 33M11 548l-24 -4M0 492l-6 -39M103 499l-43 -16M19 248l-20 -3M16 231l-24 -7M1284 608l8 -17M1087 688l9 -10M1086 624l8 8M1140 714l10 -32M1094 632l17 2M1150 682l20 -6M1157 651l1 0M1207 621l2 13M1158 651l18 22M1101 315l1 -2M1133 347l-15 -22M850 54l-15 17M797 69l3 13M767 107l32 -17M908 51l2 -5M938 56l-28 -10M970 384l0 21M1035 519l18 -8M916 474l34 -25M896 586l-1 26M935 541l7 8M1135 585l-5 11M1131 605l-1 -9M889 356l11 -14M890 307l11 11M890 307l-1 -4M889 303l27 -14M1015 361l-11 -2M959 356l-3 -33M1004 359l-9 1M475 157l8 9M559 194l1 27M805 306l-27 1M850 179l-12 -1M852 202l-9 21M720 144l-0 9M691 111l-4 8M615 181l-13 -0M631 148l-37 -9M639 126l1 2M128 52l11 2M138 -4l-1 -0M162 49l-3 -32M310 -23l-8 47M303 24l-1 0M273 74l8 -13M271 74l-12 -22M252 47l-14 18M347 76l-4 -4M683 427l-16 -1M654 509l-9 -0M715 479l-45 6M715 479l0 -4M836 638l-19 -3M873 553l-15 23M764 701l-24 -14M591 691l13 -2M608 687l-5 2M765 673l11 5M663 696l25 -21M687 675l22 3M677 552l14 2M708 561l-18 -7M332 458l-3 6M369 577l1 0M363 411l23 -22M394 415l-3 30M408 347l4 55M486 382l7 2M115 683l-14 -2M76 668l-7 2M5 493l20 -29M310 657l-12 13M1039 556l8 -8M1035 519l-13 28M1074 542l-6 10M1202 704l17 -15M1264 180l19 8M1287 191l-5 -4M962 44l-1 -5M962 44l28 -7M1267 544l24 4M992 448l-0 2M994 362l-10 31M970 405l3 -0M536 155l8 8M571 78l-0 14M703 326l20 -23M720 347l1 0M722 349l-1 -1M757 203l10 2M653 65l-6 22M653 65l-0 -0M177 102l3 -1M140 73l15 18M603 446l-5 1M609 486l9 -4M624 483l-6 -1M565 466l-0 10M757 603l-8 17M721 599l1 6M788 602l-3 -20M734 553l2 32M890 307l-24 30M839 383l-17 -30M626 617l-10 20M379 511l7 -2M336 454l36 11M364 493l7 -15M370 478l22 18M459 462l12 -27M538 437l7 16M428 394l25 16M420 404l8 -10M539 507l23 3M513 490l27 3M564 513l30 -6M536 511l16 31M552 542l9 3M613 552l-32 3M588 588l-20 24M376 607l24 -10M459 462l0 0M771 554l29 -19M820 521l-4 17M115 683l-5 27M53 453l-14 10M884 7l7 8M884 7l9 -25M1061 1l-17 13M993 443l10 1M996 465l22 6M1007 506l13 -3M1051 479l-26 15M763 301l-19 -8M647 87l-2 0M645 87l-17 11M594 139l4 -14M595 117l3 8M209 3l7 13M181 101l3 -48M741 640l-29 2M708 528l-2 -2M705 526l-5 -10M321 505l1 3M377 533l-8 -16M400 570l6 -4M500 619l-43 33M418 642l30 -1M928 -4l-19 -24M762 320l-14 3M721 348l17 -19M595 116l10 -14M587 77l10 14M704 510l36 -2M716 482l25 15M411 462l5 9M503 458l17 8M406 567l26 -3M458 570l28 7M491 608l9 10M553 635l-25 -16M536 511l-31 3M459 462l0 9M480 496l-13 8M438 486l-12 14M416 471l22 15M533 594l-13 -13M557 571l-2 1"/></g><path fill="#6a2a90" d="M94.9 16.9h1.2v1.1h-1.2zM14.0 38.1h1.2v1.1h-1.2zM106.2 37.3h1.2v1.1h-1.2zM102.5 22.2h1.2v1.1h-1.2zM69.0 31.1h1.2v1.1h-1.2zM64.4 30.9h1.2v1.1h-1.2zM24.9 38.0h1.2v1.1h-1.2zM0.6 64.7h1.2v1.1h-1.2zM127.7 44.2h1.2v1.1h-1.2zM107.3 39.6h1.2v1.1h-1.2zM108.0 32.4h1.2v1.1h-1.2zM101.3 26.9h1.2v1.1h-1.2zM105.0 25.8h1.2v1.1h-1.2zM76.3 16.2h1.2v1.1h-1.2zM76.3 10.7h1.2v1.1h-1.2zM34.4 28.5h1.2v1.1h-1.2zM20.4 67.4h1.2v1.1h-1.2zM11.6 63.5h1.2v1.1h-1.2zM11.6 63.7h1.2v1.1h-1.2zM19.2 67.6h1.2v1.1h-1.2zM25.4 55.0h1.2v1.1h-1.2zM27.2 61.9h1.2v1.1h-1.2zM1.0 65.7h1.2v1.1h-1.2zM11.6 19.0h1.2v1.1h-1.2zM7.9 64.3h1.2v1.1h-1.2zM7.5 40.1h1.2v1.1h-1.2zM7.6 40.0h1.2v1.1h-1.2zM4.6 36.9h1.2v1.1h-1.2zM23.2 51.6h1.2v1.1h-1.2zM17.7 49.2h1.2v1.1h-1.2zM13.8 40.9h1.2v1.1h-1.2zM9.6 42.3h1.2v1.1h-1.2zM17.5 41.1h1.2v1.1h-1.2zM112.7 22.3h1.2v1.1h-1.2zM112.7 22.3h1.2v1.1h-1.2zM123.3 12.6h1.2v1.1h-1.2zM34.5 11.4h1.2v1.1h-1.2zM35.7 15.2h1.2v1.1h-1.2zM100.5 14.1h1.2v1.1h-1.2zM111.6 42.3h1.2v1.1h-1.2zM113.1 47.3h1.2v1.1h-1.2zM107.8 44.8h1.2v1.1h-1.2zM105.5 33.1h1.2v1.1h-1.2zM105.4 29.3h1.2v1.1h-1.2zM116.5 35.1h1.2v1.1h-1.2zM114.8 37.7h1.2v1.1h-1.2zM119.7 33.1h1.2v1.1h-1.2zM109.0 35.3h1.2v1.1h-1.2zM109.2 34.7h1.2v1.1h-1.2zM110.7 38.5h1.2v1.1h-1.2zM112.6 34.5h1.2v1.1h-1.2zM88.6 13.7h1.2v1.1h-1.2zM90.4 11.4h1.2v1.1h-1.2zM88.6 17.4h1.2v1.1h-1.2zM87.4 17.3h1.2v1.1h-1.2zM92.4 20.9h1.2v1.1h-1.2zM91.7 17.2h1.2v1.1h-1.2zM119.1 14.1h1.2v1.1h-1.2zM115.3 15.4h1.2v1.1h-1.2zM117.2 1.1h1.2v1.1h-1.2zM94.8 24.7h1.2v1.1h-1.2zM98.7 21.1h1.2v1.1h-1.2zM101.4 22.6h1.2v1.1h-1.2zM86.4 16.5h1.2v1.1h-1.2zM84.5 17.4h1.2v1.1h-1.2zM83.4 13.6h1.2v1.1h-1.2zM68.5 10.5h1.2v1.1h-1.2zM40.8 14.6h1.2v1.1h-1.2zM77.0 4.2h1.2v1.1h-1.2zM73.1 4.2h1.2v1.1h-1.2zM75.5 5.6h1.2v1.1h-1.2zM76.6 4.3h1.2v1.1h-1.2zM2.2 17.3h1.2v1.1h-1.2zM9.5 -0.4h1.2v1.1h-1.2zM7.8 2.4h1.2v1.1h-1.2zM7.6 2.6h1.2v1.1h-1.2zM10.5 2.5h1.2v1.1h-1.2zM21.6 66.0h1.2v1.1h-1.2zM44.4 24.7h1.2v1.1h-1.2zM78.9 49.2h1.2v1.1h-1.2zM66.0 35.1h1.2v1.1h-1.2zM67.1 33.8h1.2v1.1h-1.2zM64.2 32.1h1.2v1.1h-1.2zM25.4 55.5h1.2v1.1h-1.2zM27.5 12.4h1.2v1.1h-1.2zM30.6 21.9h1.2v1.1h-1.2zM32.9 24.6h1.2v1.1h-1.2zM9.4 37.5h1.2v1.1h-1.2zM16.2 35.0h1.2v1.1h-1.2zM15.3 32.4h1.2v1.1h-1.2zM11.5 30.7h1.2v1.1h-1.2zM7.8 29.7h1.2v1.1h-1.2zM12.6 18.1h1.2v1.1h-1.2zM13.0 14.7h1.2v1.1h-1.2zM12.5 12.1h1.2v1.1h-1.2zM3.2 65.5h1.2v1.1h-1.2zM1.1 60.8h1.2v1.1h-1.2zM4.3 63.1h1.2v1.1h-1.2zM7.4 57.2h1.2v1.1h-1.2zM8.9 42.7h1.2v1.1h-1.2zM7.8 57.0h1.2v1.1h-1.2zM12.5 51.5h1.2v1.1h-1.2zM10.4 49.3h1.2v1.1h-1.2zM5.5 57.1h1.2v1.1h-1.2zM24.1 50.0h1.2v1.1h-1.2zM120.9 27.9h1.2v1.1h-1.2zM97.7 64.4h1.2v1.1h-1.2zM95.1 60.5h1.2v1.1h-1.2zM105.5 67.5h1.2v1.1h-1.2zM102.4 65.7h1.2v1.1h-1.2zM115.5 22.1h1.2v1.1h-1.2zM112.7 34.2h1.2v1.1h-1.2zM119.8 18.0h1.2v1.1h-1.2zM116.0 15.8h1.2v1.1h-1.2zM121.4 25.7h1.2v1.1h-1.2zM36.2 13.1h1.2v1.1h-1.2zM40.7 11.1h1.2v1.1h-1.2zM44.2 9.6h1.2v1.1h-1.2zM84.9 0.6h1.2v1.1h-1.2zM98.7 8.6h1.2v1.1h-1.2zM112.8 51.3h1.2v1.1h-1.2zM113.1 53.7h1.2v1.1h-1.2zM122.7 39.2h1.2v1.1h-1.2zM114.0 45.3h1.2v1.1h-1.2zM119.8 34.7h1.2v1.1h-1.2zM117.9 36.0h1.2v1.1h-1.2zM89.3 44.4h1.2v1.1h-1.2zM94.6 65.8h1.2v1.1h-1.2zM97.2 64.1h1.2v1.1h-1.2zM63.4 25.0h1.2v1.1h-1.2zM62.5 27.3h1.2v1.1h-1.2zM67.3 25.1h1.2v1.1h-1.2zM96.6 12.9h1.2v1.1h-1.2zM74.2 25.8h1.2v1.1h-1.2zM80.0 29.5h1.2v1.1h-1.2zM91.0 11.4h1.2v1.1h-1.2zM92.6 11.3h1.2v1.1h-1.2zM99.0 31.5h1.2v1.1h-1.2zM109.0 3.6h1.2v1.1h-1.2zM113.6 14.7h1.2v1.1h-1.2zM112.5 13.2h1.2v1.1h-1.2zM117.9 10.7h1.2v1.1h-1.2zM123.7 -1.0h1.2v1.1h-1.2zM121.4 -1.0h1.2v1.1h-1.2zM126.7 0.9h1.2v1.1h-1.2zM126.6 0.8h1.2v1.1h-1.2zM95.8 23.6h1.2v1.1h-1.2zM111.4 23.9h1.2v1.1h-1.2zM109.5 24.1h1.2v1.1h-1.2zM74.5 9.6h1.2v1.1h-1.2zM71.9 13.1h1.2v1.1h-1.2zM65.6 1.3h1.2v1.1h-1.2zM67.4 7.1h1.2v1.1h-1.2zM64.9 5.9h1.2v1.1h-1.2zM65.1 8.9h1.2v1.1h-1.2zM69.3 4.6h1.2v1.1h-1.2zM42.6 25.2h1.2v1.1h-1.2zM35.0 22.5h1.2v1.1h-1.2zM31.5 10.2h1.2v1.1h-1.2zM27.4 11.7h1.2v1.1h-1.2zM24.4 10.8h1.2v1.1h-1.2zM4.5 2.2h1.2v1.1h-1.2zM-0.2 0.8h1.2v1.1h-1.2zM6.7 8.8h1.2v1.1h-1.2zM6.3 12.3h1.2v1.1h-1.2zM7.8 4.5h1.2v1.1h-1.2zM19.6 62.1h1.2v1.1h-1.2zM15.4 50.8h1.2v1.1h-1.2zM16.7 66.4h1.2v1.1h-1.2zM46.2 26.8h1.2v1.1h-1.2zM45.0 31.1h1.2v1.1h-1.2zM65.6 36.3h1.2v1.1h-1.2zM57.0 35.7h1.2v1.1h-1.2zM55.7 38.8h1.2v1.1h-1.2zM58.8 39.8h1.2v1.1h-1.2zM55.6 41.3h1.2v1.1h-1.2zM35.2 34.6h1.2v1.1h-1.2zM22.1 41.1h1.2v1.1h-1.2zM23.9 46.7h1.2v1.1h-1.2zM86.7 46.6h1.2v1.1h-1.2zM83.2 50.5h1.2v1.1h-1.2zM61.1 54.9h1.2v1.1h-1.2zM31.5 56.6h1.2v1.1h-1.2zM27.7 46.0h1.2v1.1h-1.2zM33.1 42.2h1.2v1.1h-1.2zM77.5 50.7h1.2v1.1h-1.2zM75.6 47.2h1.2v1.1h-1.2zM30.1 14.5h1.2v1.1h-1.2zM28.4 14.9h1.2v1.1h-1.2zM19.5 14.5h1.2v1.1h-1.2zM7.5 37.1h1.2v1.1h-1.2zM4.8 36.7h1.2v1.1h-1.2zM5.6 34.0h1.2v1.1h-1.2zM2.4 34.1h1.2v1.1h-1.2zM16.7 34.0h1.2v1.1h-1.2zM10.1 33.1h1.2v1.1h-1.2zM20.6 38.3h1.2v1.1h-1.2zM19.5 38.8h1.2v1.1h-1.2zM10.2 24.7h1.2v1.1h-1.2zM10.0 23.5h1.2v1.1h-1.2zM14.0 28.4h1.2v1.1h-1.2zM14.7 20.4h1.2v1.1h-1.2zM16.1 23.3h1.2v1.1h-1.2zM16.4 23.5h1.2v1.1h-1.2zM10.0 60.5h1.2v1.1h-1.2zM8.6 59.5h1.2v1.1h-1.2zM8.3 59.4h1.2v1.1h-1.2zM11.7 54.1h1.2v1.1h-1.2zM4.4 52.5h1.2v1.1h-1.2zM2.5 57.8h1.2v1.1h-1.2zM0.2 58.2h1.2v1.1h-1.2zM-0.0 57.4h1.2v1.1h-1.2zM1.8 56.3h1.2v1.1h-1.2zM21.6 48.0h1.2v1.1h-1.2zM22.0 49.7h1.2v1.1h-1.2zM21.5 50.6h1.2v1.1h-1.2zM33.3 66.6h1.2v1.1h-1.2zM120.7 28.1h1.2v1.1h-1.2zM114.4 67.7h1.2v1.1h-1.2zM105.4 64.8h1.2v1.1h-1.2zM106.3 62.2h1.2v1.1h-1.2zM113.0 60.4h1.2v1.1h-1.2zM126.9 14.9h1.2v1.1h-1.2zM122.7 10.4h1.2v1.1h-1.2zM123.7 11.5h1.2v1.1h-1.2zM121.0 3.9h1.2v1.1h-1.2zM119.7 4.7h1.2v1.1h-1.2zM117.1 22.2h1.2v1.1h-1.2zM115.6 22.2h1.2v1.1h-1.2zM46.4 2.0h1.2v1.1h-1.2zM48.7 4.1h1.2v1.1h-1.2zM58.5 0.5h1.2v1.1h-1.2zM39.0 6.2h1.2v1.1h-1.2zM83.5 13.5h1.2v1.1h-1.2zM82.0 2.8h1.2v1.1h-1.2zM101.0 13.3h1.2v1.1h-1.2zM102.1 12.6h1.2v1.1h-1.2zM121.1 41.8h1.2v1.1h-1.2zM119.7 45.0h1.2v1.1h-1.2zM121.6 45.4h1.2v1.1h-1.2zM118.0 58.5h1.2v1.1h-1.2zM120.2 59.6h1.2v1.1h-1.2zM117.6 59.7h1.2v1.1h-1.2zM122.2 54.6h1.2v1.1h-1.2zM117.6 53.5h1.2v1.1h-1.2zM120.3 39.6h1.2v1.1h-1.2zM122.3 39.0h1.2v1.1h-1.2zM121.9 36.7h1.2v1.1h-1.2zM109.7 55.9h1.2v1.1h-1.2zM88.7 65.6h1.2v1.1h-1.2zM51.8 27.0h1.2v1.1h-1.2zM54.1 22.7h1.2v1.1h-1.2zM52.8 22.7h1.2v1.1h-1.2zM49.4 23.8h1.2v1.1h-1.2zM51.3 24.7h1.2v1.1h-1.2zM87.6 19.0h1.2v1.1h-1.2zM108.9 4.9h1.2v1.1h-1.2zM111.4 8.1h1.2v1.1h-1.2zM106.7 11.0h1.2v1.1h-1.2zM107.3 13.5h1.2v1.1h-1.2zM109.8 13.1h1.2v1.1h-1.2zM109.2 15.8h1.2v1.1h-1.2zM109.0 13.9h1.2v1.1h-1.2zM121.3 0.3h1.2v1.1h-1.2zM70.9 -0.9h1.2v1.1h-1.2zM70.3 -0.8h1.2v1.1h-1.2zM71.5 2.4h1.2v1.1h-1.2zM39.9 27.8h1.2v1.1h-1.2zM42.5 25.6h1.2v1.1h-1.2zM42.8 21.8h1.2v1.1h-1.2zM41.5 22.8h1.2v1.1h-1.2zM37.0 19.0h1.2v1.1h-1.2zM65.7 1.0h1.2v1.1h-1.2zM1.3 26.3h1.2v1.1h-1.2zM1.0 22.5h1.2v1.1h-1.2zM2.3 23.3h1.2v1.1h-1.2zM12.9 -1.0h1.2v1.1h-1.2zM26.7 9.0h1.2v1.1h-1.2zM26.5 6.8h1.2v1.1h-1.2zM1.5 11.5h1.2v1.1h-1.2zM0.6 10.6h1.2v1.1h-1.2zM0.2 5.6h1.2v1.1h-1.2zM23.2 6.0h1.2v1.1h-1.2zM15.4 61.8h1.2v1.1h-1.2zM20.7 56.7h1.2v1.1h-1.2zM50.9 28.6h1.2v1.1h-1.2zM50.1 28.7h1.2v1.1h-1.2zM53.3 37.9h1.2v1.1h-1.2zM55.8 41.2h1.2v1.1h-1.2zM56.4 40.7h1.2v1.1h-1.2zM68.2 36.9h1.2v1.1h-1.2zM75.3 39.1h1.2v1.1h-1.2zM42.8 34.1h1.2v1.1h-1.2zM44.1 33.1h1.2v1.1h-1.2zM31.3 37.2h1.2v1.1h-1.2zM82.1 55.6h1.2v1.1h-1.2zM76.8 47.0h1.2v1.1h-1.2zM78.9 48.2h1.2v1.1h-1.2zM76.4 43.2h1.2v1.1h-1.2zM77.3 40.1h1.2v1.1h-1.2zM79.3 44.0h1.2v1.1h-1.2zM79.9 43.3h1.2v1.1h-1.2zM80.0 42.2h1.2v1.1h-1.2zM55.7 64.7h1.2v1.1h-1.2zM31.1 55.2h1.2v1.1h-1.2zM35.3 41.4h1.2v1.1h-1.2zM39.1 65.5h1.2v1.1h-1.2zM44.2 66.7h1.2v1.1h-1.2zM20.8 15.5h1.2v1.1h-1.2zM23.0 15.5h1.2v1.1h-1.2zM16.3 17.7h1.2v1.1h-1.2zM17.3 19.9h1.2v1.1h-1.2zM17.3 19.8h1.2v1.1h-1.2zM1.2 31.4h1.2v1.1h-1.2zM3.0 31.9h1.2v1.1h-1.2zM18.2 37.7h1.2v1.1h-1.2zM17.8 37.5h1.2v1.1h-1.2zM27.3 30.2h1.2v1.1h-1.2zM29.2 25.5h1.2v1.1h-1.2zM29.1 26.4h1.2v1.1h-1.2zM24.6 20.5h1.2v1.1h-1.2zM24.7 21.0h1.2v1.1h-1.2zM10.6 62.2h1.2v1.1h-1.2zM10.3 55.5h1.2v1.1h-1.2zM8.6 55.1h1.2v1.1h-1.2zM10.4 54.0h1.2v1.1h-1.2zM8.4 53.0h1.2v1.1h-1.2zM5.3 50.4h1.2v1.1h-1.2zM2.1 40.4h1.2v1.1h-1.2zM-0.4 29.0h1.2v1.1h-1.2zM51.7 66.3h1.2v1.1h-1.2zM34.9 62.2h1.2v1.1h-1.2zM126.3 60.8h1.2v1.1h-1.2zM121.2 36.4h1.2v1.1h-1.2zM126.6 34.0h1.2v1.1h-1.2zM123.9 30.5h1.2v1.1h-1.2zM121.2 31.4h1.2v1.1h-1.2zM116.0 62.1h1.2v1.1h-1.2zM126.2 64.9h1.2v1.1h-1.2zM122.0 66.8h1.2v1.1h-1.2zM126.2 20.5h1.2v1.1h-1.2zM125.8 5.1h1.2v1.1h-1.2zM126.0 7.7h1.2v1.1h-1.2zM114.1 29.3h1.2v1.1h-1.2zM114.5 30.0h1.2v1.1h-1.2zM109.6 29.7h1.2v1.1h-1.2zM123.2 17.7h1.2v1.1h-1.2zM40.2 4.7h1.2v1.1h-1.2zM40.1 0.8h1.2v1.1h-1.2zM38.0 -0.5h1.2v1.1h-1.2zM37.5 3.2h1.2v1.1h-1.2zM36.1 1.8h1.2v1.1h-1.2zM42.7 4.0h1.2v1.1h-1.2zM84.8 4.6h1.2v1.1h-1.2zM86.9 6.8h1.2v1.1h-1.2zM98.4 4.9h1.2v1.1h-1.2zM125.0 52.3h1.2v1.1h-1.2zM119.5 53.5h1.2v1.1h-1.2zM124.0 51.3h1.2v1.1h-1.2zM121.1 50.5h1.2v1.1h-1.2zM122.2 50.4h1.2v1.1h-1.2zM95.3 58.6h1.2v1.1h-1.2zM94.4 44.4h1.2v1.1h-1.2zM89.8 56.2h1.2v1.1h-1.2zM86.7 54.8h1.2v1.1h-1.2zM87.1 52.1h1.2v1.1h-1.2zM112.5 59.9h1.2v1.1h-1.2zM88.3 35.0h1.2v1.1h-1.2zM90.6 43.0h1.2v1.1h-1.2zM49.2 17.5h1.2v1.1h-1.2zM45.3 15.1h1.2v1.1h-1.2zM62.7 23.9h1.2v1.1h-1.2zM62.4 23.7h1.2v1.1h-1.2zM59.5 24.7h1.2v1.1h-1.2zM62.4 20.1h1.2v1.1h-1.2zM60.9 17.6h1.2v1.1h-1.2zM77.2 30.1h1.2v1.1h-1.2zM79.9 30.0h1.2v1.1h-1.2zM72.0 22.4h1.2v1.1h-1.2zM73.4 22.8h1.2v1.1h-1.2zM71.1 21.3h1.2v1.1h-1.2zM70.7 18.1h1.2v1.1h-1.2zM92.6 29.9h1.2v1.1h-1.2zM86.8 27.6h1.2v1.1h-1.2zM88.3 29.7h1.2v1.1h-1.2zM91.8 26.7h1.2v1.1h-1.2zM112.0 5.6h1.2v1.1h-1.2zM116.0 5.2h1.2v1.1h-1.2zM113.5 6.7h1.2v1.1h-1.2zM116.8 -1.0h1.2v1.1h-1.2zM124.2 2.4h1.2v1.1h-1.2zM56.5 7.2h1.2v1.1h-1.2zM57.6 7.0h1.2v1.1h-1.2zM58.1 7.2h1.2v1.1h-1.2zM40.2 16.7h1.2v1.1h-1.2zM36.5 15.3h1.2v1.1h-1.2zM2.6 15.9h1.2v1.1h-1.2zM-1.1 14.9h1.2v1.1h-1.2zM0.4 13.7h1.2v1.1h-1.2zM28.6 7.8h1.2v1.1h-1.2zM27.4 7.8h1.2v1.1h-1.2zM34.1 7.0h1.2v1.1h-1.2zM4.4 3.7h1.2v1.1h-1.2zM1.3 3.7h1.2v1.1h-1.2zM3.8 10.7h1.2v1.1h-1.2zM0.6 8.7h1.2v1.1h-1.2zM1.4 7.8h1.2v1.1h-1.2zM0.3 5.7h1.2v1.1h-1.2zM20.6 55.1h1.2v1.1h-1.2zM20.2 51.4h1.2v1.1h-1.2zM13.2 59.2h1.2v1.1h-1.2zM13.3 59.3h1.2v1.1h-1.2zM52.4 34.1h1.2v1.1h-1.2zM55.7 33.8h1.2v1.1h-1.2zM53.7 30.3h1.2v1.1h-1.2zM69.8 41.5h1.2v1.1h-1.2zM67.7 42.2h1.2v1.1h-1.2zM73.2 43.0h1.2v1.1h-1.2zM72.9 42.5h1.2v1.1h-1.2zM31.3 37.5h1.2v1.1h-1.2zM31.6 41.1h1.2v1.1h-1.2zM23.9 42.0h1.2v1.1h-1.2zM24.8 41.2h1.2v1.1h-1.2zM26.0 43.6h1.2v1.1h-1.2zM79.1 60.3h1.2v1.1h-1.2zM78.2 59.6h1.2v1.1h-1.2zM78.6 40.2h1.2v1.1h-1.2zM81.6 39.0h1.2v1.1h-1.2zM61.0 63.1h1.2v1.1h-1.2zM63.4 50.6h1.2v1.1h-1.2zM33.3 53.1h1.2v1.1h-1.2zM35.7 40.6h1.2v1.1h-1.2zM49.3 38.0h1.2v1.1h-1.2zM55.9 47.1h1.2v1.1h-1.2zM55.9 47.1h1.2v1.1h-1.2zM10.9 67.8h1.2v1.1h-1.2zM12.9 67.0h1.2v1.1h-1.2zM13.1 67.1h1.2v1.1h-1.2zM20.5 30.3h1.2v1.1h-1.2zM21.8 31.9h1.2v1.1h-1.2zM22.9 34.9h1.2v1.1h-1.2zM18.1 26.4h1.2v1.1h-1.2zM18.1 25.3h1.2v1.1h-1.2zM24.9 26.3h1.2v1.1h-1.2zM21.3 17.5h1.2v1.1h-1.2zM22.0 17.9h1.2v1.1h-1.2zM19.9 18.9h1.2v1.1h-1.2zM8.4 17.2h1.2v1.1h-1.2zM5.4 20.1h1.2v1.1h-1.2zM5.9 21.5h1.2v1.1h-1.2zM7.1 17.6h1.2v1.1h-1.2zM2.6 15.9h1.2v1.1h-1.2zM10.7 57.7h1.2v1.1h-1.2zM11.8 55.0h1.2v1.1h-1.2zM1.5 52.1h1.2v1.1h-1.2zM-0.6 48.6h1.2v1.1h-1.2zM5.4 47.8h1.2v1.1h-1.2zM4.6 48.9h1.2v1.1h-1.2zM-0.7 24.0h1.2v1.1h-1.2zM28.0 61.8h1.2v1.1h-1.2zM124.7 57.8h1.2v1.1h-1.2zM102.9 51.4h1.2v1.1h-1.2zM109.0 67.3h1.2v1.1h-1.2zM111.7 67.6h1.2v1.1h-1.2zM110.5 62.8h1.2v1.1h-1.2zM112.6 65.8h1.2v1.1h-1.2zM113.4 64.5h1.2v1.1h-1.2zM116.4 67.0h1.2v1.1h-1.2zM115.1 64.5h1.2v1.1h-1.2zM119.4 64.1h1.2v1.1h-1.2zM117.7 60.7h1.2v1.1h-1.2zM116.5 62.2h1.2v1.1h-1.2zM119.3 65.2h1.2v1.1h-1.2zM117.0 66.7h1.2v1.1h-1.2zM109.5 30.7h1.2v1.1h-1.2zM62.5 14.4h1.2v1.1h-1.2zM49.1 -0.2h1.2v1.1h-1.2zM84.5 12.5h1.2v1.1h-1.2zM81.1 10.0h1.2v1.1h-1.2zM93.0 3.0h1.2v1.1h-1.2zM90.4 4.0h1.2v1.1h-1.2zM90.4 4.0h1.2v1.1h-1.2zM126.2 56.4h1.2v1.1h-1.2zM127.4 56.6h1.2v1.1h-1.2zM95.3 40.5h1.2v1.1h-1.2zM96.4 39.9h1.2v1.1h-1.2zM102.5 43.9h1.2v1.1h-1.2zM104.7 50.5h1.2v1.1h-1.2zM96.1 46.1h1.2v1.1h-1.2zM101.5 54.2h1.2v1.1h-1.2zM100.1 56.5h1.2v1.1h-1.2zM93.3 51.2h1.2v1.1h-1.2zM95.0 51.6h1.2v1.1h-1.2zM90.8 52.2h1.2v1.1h-1.2zM108.3 60.5h1.2v1.1h-1.2zM106.6 57.4h1.2v1.1h-1.2zM92.3 31.6h1.2v1.1h-1.2zM100.9 35.6h1.2v1.1h-1.2zM83.0 63.3h1.2v1.1h-1.2zM51.1 15.8h1.2v1.1h-1.2zM50.7 11.0h1.2v1.1h-1.2zM50.2 11.2h1.2v1.1h-1.2zM46.9 15.1h1.2v1.1h-1.2zM47.7 16.0h1.2v1.1h-1.2zM45.7 20.2h1.2v1.1h-1.2zM56.5 18.3h1.2v1.1h-1.2zM56.4 21.9h1.2v1.1h-1.2zM71.4 34.2h1.2v1.1h-1.2zM80.4 30.9h1.2v1.1h-1.2zM79.8 19.2h1.2v1.1h-1.2zM84.2 24.8h1.2v1.1h-1.2zM82.8 26.7h1.2v1.1h-1.2zM84.6 19.6h1.2v1.1h-1.2zM81.6 20.6h1.2v1.1h-1.2zM83.8 21.7h1.2v1.1h-1.2zM78.4 22.4h1.2v1.1h-1.2zM91.9 24.3h1.2v1.1h-1.2zM68.9 13.8h1.2v1.1h-1.2zM61.8 4.2h1.2v1.1h-1.2zM57.8 11.6h1.2v1.1h-1.2zM15.6 4.4h1.2v1.1h-1.2zM13.5 -0.9h1.2v1.1h-1.2zM15.3 1.2h1.2v1.1h-1.2zM29.7 1.8h1.2v1.1h-1.2zM25.4 4.6h1.2v1.1h-1.2zM25.0 4.2h1.2v1.1h-1.2zM46.4 32.5h1.2v1.1h-1.2zM61.8 47.8h1.2v1.1h-1.2zM66.1 49.1h1.2v1.1h-1.2zM65.4 44.6h1.2v1.1h-1.2zM82.5 59.4h1.2v1.1h-1.2zM84.1 61.1h1.2v1.1h-1.2zM80.1 38.1h1.2v1.1h-1.2zM76.9 67.3h1.2v1.1h-1.2zM73.8 66.6h1.2v1.1h-1.2zM67.2 57.6h1.2v1.1h-1.2zM73.0 67.9h1.2v1.1h-1.2zM29.0 49.0h1.2v1.1h-1.2zM38.0 38.4h1.2v1.1h-1.2zM37.8 37.5h1.2v1.1h-1.2zM40.0 34.1h1.2v1.1h-1.2zM38.8 40.9h1.2v1.1h-1.2zM46.1 37.5h1.2v1.1h-1.2zM48.0 37.6h1.2v1.1h-1.2zM48.7 37.8h1.2v1.1h-1.2zM50.7 48.5h1.2v1.1h-1.2zM76.1 57.7h1.2v1.1h-1.2zM6.3 66.5h1.2v1.1h-1.2zM-0.1 48.7h1.2v1.1h-1.2zM29.2 66.5h1.2v1.1h-1.2zM103.3 55.1h1.2v1.1h-1.2zM104.5 56.5h1.2v1.1h-1.2zM106.2 54.7h1.2v1.1h-1.2zM127.7 18.2h1.2v1.1h-1.2zM95.1 0.8h1.2v1.1h-1.2zM92.0 1.6h1.2v1.1h-1.2zM88.6 1.2h1.2v1.1h-1.2zM96.7 42.9h1.2v1.1h-1.2zM98.6 40.6h1.2v1.1h-1.2zM99.0 39.0h1.2v1.1h-1.2zM80.4 63.0h1.2v1.1h-1.2zM78.3 64.0h1.2v1.1h-1.2zM54.3 12.4h1.2v1.1h-1.2zM53.2 12.4h1.2v1.1h-1.2zM72.0 29.3h1.2v1.1h-1.2zM71.6 29.8h1.2v1.1h-1.2zM73.3 35.3h1.2v1.1h-1.2zM71.6 34.3h1.2v1.1h-1.2zM75.9 34.0h1.2v1.1h-1.2zM83.3 37.7h1.2v1.1h-1.2zM79.3 19.7h1.2v1.1h-1.2zM76.1 20.0h1.2v1.1h-1.2zM62.7 11.3h1.2v1.1h-1.2zM17.5 9.5h1.2v1.1h-1.2zM15.0 9.0h1.2v1.1h-1.2zM59.4 47.4h1.2v1.1h-1.2zM59.7 44.1h1.2v1.1h-1.2zM60.3 48.1h1.2v1.1h-1.2zM75.1 59.8h1.2v1.1h-1.2zM74.2 61.5h1.2v1.1h-1.2zM73.0 57.9h1.2v1.1h-1.2zM71.5 59.3h1.2v1.1h-1.2zM85.4 33.0h1.2v1.1h-1.2zM81.7 34.7h1.2v1.1h-1.2zM67.8 64.8h1.2v1.1h-1.2zM66.2 61.7h1.2v1.1h-1.2zM35.2 50.4h1.2v1.1h-1.2zM38.4 49.3h1.2v1.1h-1.2zM36.4 47.2h1.2v1.1h-1.2zM41.5 44.3h1.2v1.1h-1.2zM45.3 45.7h1.2v1.1h-1.2zM46.5 42.9h1.2v1.1h-1.2zM44.3 38.4h1.2v1.1h-1.2zM53.0 50.6h1.2v1.1h-1.2zM53.5 48.8h1.2v1.1h-1.2zM55.8 50.8h1.2v1.1h-1.2zM58.8 50.1h1.2v1.1h-1.2zM55.5 54.0h1.2v1.1h-1.2zM40.3 60.8h1.2v1.1h-1.2zM78.2 56.4h1.2v1.1h-1.2zM82.0 55.5h1.2v1.1h-1.2zM79.4 53.0h1.2v1.1h-1.2zM93.3 -0.2h1.2v1.1h-1.2zM88.5 1.0h1.2v1.1h-1.2zM100.9 2.3h1.2v1.1h-1.2zM100.2 1.3h1.2v1.1h-1.2zM102.4 -0.2h1.2v1.1h-1.2zM98.6 43.5h1.2v1.1h-1.2zM99.3 41.3h1.2v1.1h-1.2zM102.1 43.1h1.2v1.1h-1.2zM99.0 45.9h1.2v1.1h-1.2zM98.2 47.8h1.2v1.1h-1.2zM98.3 48.9h1.2v1.1h-1.2zM98.6 49.4h1.2v1.1h-1.2zM101.4 49.8h1.2v1.1h-1.2zM73.5 29.3h1.2v1.1h-1.2zM18.5 4.7h1.2v1.1h-1.2zM69.7 63.8h1.2v1.1h-1.2zM70.2 63.8h1.2v1.1h-1.2zM70.5 62.4h1.2v1.1h-1.2zM32.1 49.5h1.2v1.1h-1.2zM51.8 46.4h1.2v1.1h-1.2zM53.1 45.0h1.2v1.1h-1.2zM40.0 56.1h1.2v1.1h-1.2zM39.2 51.7h1.2v1.1h-1.2zM45.2 56.5h1.2v1.1h-1.2zM50.4 53.9h1.2v1.1h-1.2zM49.4 61.4h1.2v1.1h-1.2zM45.1 64.7h1.2v1.1h-1.2zM44.5 61.6h1.2v1.1h-1.2zM90.8 0.4h1.2v1.1h-1.2zM73.7 29.7h1.2v1.1h-1.2zM74.2 31.7h1.2v1.1h-1.2zM58.9 11.1h1.2v1.1h-1.2zM74.2 53.8h1.2v1.1h-1.2zM38.8 49.0h1.2v1.1h-1.2zM51.2 42.9h1.2v1.1h-1.2zM43.9 56.5h1.2v1.1h-1.2zM51.7 61.7h1.2v1.1h-1.2zM52.6 60.9h1.2v1.1h-1.2zM47.0 52.8h1.2v1.1h-1.2zM49.8 52.4h1.2v1.1h-1.2zM49.3 49.6h1.2v1.1h-1.2zM48.6 49.1h1.2v1.1h-1.2zM49.4 56.2h1.2v1.1h-1.2zM43.2 48.0h1.2v1.1h-1.2zM42.0 49.5h1.2v1.1h-1.2zM42.7 52.3h1.2v1.1h-1.2z"/></pattern><filter id="LV0" filterUnits="userSpaceOnUse" x="0" y="0" width="127.5" height="67.2" color-interpolation-filters="sRGB">
<feTurbulence type="fractalNoise" baseFrequency="0.35" numOctaves="2" seed="3" result="t"/>
<feDisplacementMap in="SourceGraphic" in2="t" scale="2.5" xChannelSelector="R" yChannelSelector="G" result="net"/>
<feTurbulence type="fractalNoise" baseFrequency="0.09" numOctaves="1" seed="5"/>
<feColorMatrix type="matrix" values="0 0 0 0 0 0 0 0 0 0 0 0 0 0 0 1 0 0 0 0"/>
<feComponentTransfer result="hm"><feFuncA type="discrete" tableValues="1 1 1 1 1 1 1 1 1 1"/></feComponentTransfer>
<feComposite in="net" in2="hm" operator="in" result="net2"/>
<feTurbulence type="fractalNoise" baseFrequency="0.035" numOctaves="2" seed="11"/>
<feColorMatrix type="matrix" values="0 0 0 0 0.72 0 0 0 0 0.3 0 0 0 0 0.76 1.15 0 0 0 -0.45"/>
<feComposite in2="hm" operator="in" result="dense"/>
<feFlood flood-color="#fff" result="bg"/>
<feMerge result="mm"><feMergeNode in="bg"/><feMergeNode in="dense"/><feMergeNode in="net2"/></feMerge>
<feGaussianBlur in="mm" stdDeviation="0.22"/>
</filter><filter id="LV1" filterUnits="userSpaceOnUse" x="0" y="0" width="128" height="67.3" color-interpolation-filters="sRGB">
<feTurbulence type="fractalNoise" baseFrequency="0.35" numOctaves="2" seed="4" result="t"/>
<feDisplacementMap in="SourceGraphic" in2="t" scale="2.5" xChannelSelector="R" yChannelSelector="G" result="net"/>
<feTurbulence type="fractalNoise" baseFrequency="0.11" numOctaves="1" seed="9"/>
<feColorMatrix type="matrix" values="0 0 0 0 0 0 0 0 0 0 0 0 0 0 0 1 0 0 0 0"/>
<feComponentTransfer result="hm"><feFuncA type="discrete" tableValues="1 1 1 1 1 1 1 1 1 1"/></feComponentTransfer>
<feComposite in="net" in2="hm" operator="in" result="net2"/>
<feTurbulence type="fractalNoise" baseFrequency="0.04" numOctaves="2" seed="7"/>
<feColorMatrix type="matrix" values="0 0 0 0 0.72 0 0 0 0 0.3 0 0 0 0 0.76 1.1 0 0 0 -0.42"/>
<feComposite in2="hm" operator="in" result="dense"/>
<feFlood flood-color="#fff" result="bg"/>
<feMerge result="mm"><feMergeNode in="bg"/><feMergeNode in="dense"/><feMergeNode in="net2"/></feMerge>
<feGaussianBlur in="mm" stdDeviation="0.22"/>
</filter><filter id="LV2" filterUnits="userSpaceOnUse" x="0" y="0" width="127.1" height="67.2" color-interpolation-filters="sRGB">
<feTurbulence type="fractalNoise" baseFrequency="0.35" numOctaves="2" seed="5" result="t"/>
<feDisplacementMap in="SourceGraphic" in2="t" scale="2.5" xChannelSelector="R" yChannelSelector="G" result="net"/>
<feTurbulence type="fractalNoise" baseFrequency="0.1" numOctaves="1" seed="2"/>
<feColorMatrix type="matrix" values="0 0 0 0 0 0 0 0 0 0 0 0 0 0 0 1 0 0 0 0"/>
<feComponentTransfer result="hm"><feFuncA type="discrete" tableValues="1 1 1 1 1 1 1 1 1 1"/></feComponentTransfer>
<feComposite in="net" in2="hm" operator="in" result="net2"/>
<feTurbulence type="fractalNoise" baseFrequency="0.04" numOctaves="2" seed="7"/>
<feColorMatrix type="matrix" values="0 0 0 0 0.7 0 0 0 0 0.32 0 0 0 0 0.78 0.6 0 0 0 -0.4"/>
<feComposite in2="hm" operator="in" result="dense"/>
<feFlood flood-color="#fff" result="bg"/>
<feMerge result="mm"><feMergeNode in="bg"/><feMergeNode in="dense"/><feMergeNode in="net2"/></feMerge>
<feGaussianBlur in="mm" stdDeviation="0.22"/>
</filter><filter id="LV3" filterUnits="userSpaceOnUse" x="0" y="0" width="127.1" height="67.2" color-interpolation-filters="sRGB">
<feTurbulence type="fractalNoise" baseFrequency="0.35" numOctaves="2" seed="6" result="t"/>
<feDisplacementMap in="SourceGraphic" in2="t" scale="2.5" xChannelSelector="R" yChannelSelector="G" result="net"/>
<feTurbulence type="fractalNoise" baseFrequency="0.12" numOctaves="1" seed="4"/>
<feColorMatrix type="matrix" values="0 0 0 0 0 0 0 0 0 0 0 0 0 0 0 1 0 0 0 0"/>
<feComponentTransfer result="hm"><feFuncA type="discrete" tableValues="1 1 1 1 1 1 1 1 1 1"/></feComponentTransfer>
<feComposite in="net" in2="hm" operator="in" result="net2"/>
<feTurbulence type="fractalNoise" baseFrequency="0.04" numOctaves="2" seed="7"/>
<feColorMatrix type="matrix" values="0 0 0 0 0.62 0 0 0 0 0.24 0 0 0 0 0.74 0.8 0 0 0 -0.4"/>
<feComposite in2="hm" operator="in" result="dense"/>
<feFlood flood-color="#fff" result="bg"/>
<feMerge result="mm"><feMergeNode in="bg"/><feMergeNode in="dense"/><feMergeNode in="net2"/></feMerge>
<feGaussianBlur in="mm" stdDeviation="0.22"/>
</filter><filter id="LV4" filterUnits="userSpaceOnUse" x="0" y="0" width="128.7" height="67.4" color-interpolation-filters="sRGB">
<feTurbulence type="fractalNoise" baseFrequency="0.35" numOctaves="2" seed="7" result="t"/>
<feDisplacementMap in="SourceGraphic" in2="t" scale="2.5" xChannelSelector="R" yChannelSelector="G" result="net"/>
<feTurbulence type="fractalNoise" baseFrequency="0.09" numOctaves="1" seed="6"/>
<feColorMatrix type="matrix" values="0 0 0 0 0 0 0 0 0 0 0 0 0 0 0 1 0 0 0 0"/>
<feComponentTransfer result="hm"><feFuncA type="discrete" tableValues="1 1 1 1 1 1 1 1 1 1"/></feComponentTransfer>
<feComposite in="net" in2="hm" operator="in" result="net2"/>
<feTurbulence type="fractalNoise" baseFrequency="0.04" numOctaves="2" seed="7"/>
<feColorMatrix type="matrix" values="0 0 0 0 0.7 0 0 0 0 0.32 0 0 0 0 0.78 0.6 0 0 0 -0.4"/>
<feComposite in2="hm" operator="in" result="dense"/>
<feFlood flood-color="#fff" result="bg"/>
<feMerge result="mm"><feMergeNode in="bg"/><feMergeNode in="dense"/><feMergeNode in="net2"/></feMerge>
<feGaussianBlur in="mm" stdDeviation="0.22"/>
</filter><filter id="soft" x="-10%" y="-10%" width="120%" height="120%" color-interpolation-filters="sRGB"><feGaussianBlur stdDeviation="0.35"/></filter><filter id="soft2" x="-10%" y="-30%" width="120%" height="160%" color-interpolation-filters="sRGB"><feGaussianBlur stdDeviation="1.2"/></filter><linearGradient id="ug" x1="0" y1="0" x2="0" y2="1"><stop offset="0" stop-color="#f0c4ee" stop-opacity="0.18"/><stop offset="0.75" stop-color="#f0c4ee" stop-opacity="0.15"/><stop offset="1" stop-color="#f0c4ee" stop-opacity="0"/></linearGradient><filter id="mot" filterUnits="objectBoundingBox" x="0" y="0" width="1" height="1" color-interpolation-filters="sRGB"><feTurbulence type="fractalNoise" baseFrequency="0.45" numOctaves="2" seed="8"/><feColorMatrix type="matrix" values="0 0 0 0 1 0 0 0 0 0.92 0 0 0 0 1 1.6 0 0 0 -0.72"/></filter><clipPath id="bc0"><rect x="14.1" y="558.1" width="127.8" height="135.5"/></clipPath><clipPath id="bc1"><rect x="149.2" y="558.2" width="128.3" height="135.6"/></clipPath><clipPath id="bc2"><rect x="285.6" y="558.2" width="128.1" height="135.6"/></clipPath><clipPath id="bc3"><rect x="420" y="558.2" width="127.7" height="135.6"/></clipPath><clipPath id="bc4"><rect x="552.4" y="558.2" width="127.8" height="135.6"/></clipPath></defs>
<rect width="685" height="703" fill="#fff"/>
<text x="2.10" y="7.80" font-size="12.3" font-weight="bold" text-anchor="start" fill="#111" stroke="#111" stroke-width="0.22" >a</text>
<g>
<path d="M36.4,37.2 C35.4,27.5 45,20.8 57,20.1 C66,19.7 73.5,21.4 77.6,24.8 C72,22.6 65,21.6 57,22.1 C47.5,22.8 39.5,28.5 38.4,37.2 Z" fill="#555"/>
<path d="M38.3,40 C37.2,33 40.5,27.3 47.5,25.8 C53.5,24.7 59.5,26 63.3,29 C67.2,32 72,35.6 76.8,38.4 L77,41.2 C72,43.6 66,46.4 59,47.4 C52,48.5 44,48.6 40.4,45.5 C39.2,44 38.6,42 38.3,40 Z" fill="#a3a3a3"/>
<ellipse cx="45.5" cy="47.6" rx="3.8" ry="1.7" fill="#bcbcbc"/><ellipse cx="58.6" cy="47.8" rx="2" ry="1.2" fill="#bcbcbc"/><ellipse cx="63.4" cy="47.2" rx="1.5" ry="1.1" fill="#bcbcbc"/>
<circle cx="57.3" cy="30.6" r="5.1" fill="#5a5a5a"/><circle cx="57.7" cy="30.9" r="3.3" fill="#e4e4e4"/>
<circle cx="69.6" cy="28.3" r="4.3" fill="#5a5a5a"/><circle cx="69.8" cy="28.5" r="2.75" fill="#e4e4e4"/>
<path d="M66.3,36.6 L66.8,38.9" stroke="#333" stroke-width="1"/><path d="M68.8,35.2 L69.2,37.5" stroke="#333" stroke-width="1"/>
<path d="M76.2,38.8 L79.5,38.2 L80.6,36.6 L82.2,37.8 L84.6,36.2 L85.6,35.6 L87.6,36.8 L85.8,38.2 L86.6,40 L84,39.6 L82,40.6 L80.4,39.8 L77.2,42.4 Z" fill="#111"/>
</g>
<text x="56.10" y="63.80" font-size="9.3" font-weight="bold" text-anchor="middle" fill="#111" stroke="#111" stroke-width="0.22" >K18-hACE2</text>
<text x="57.50" y="75.10" font-size="9.3" font-weight="bold" text-anchor="middle" fill="#111" stroke="#111" stroke-width="0.22" >mice</text>
<text x="128.00" y="11.00" font-size="9.3" font-weight="bold" text-anchor="middle" fill="#111" stroke="#111" stroke-width="0.22" >SARS-CoV-2</text>
<text x="125.70" y="22.30" font-size="9.3" font-weight="bold" text-anchor="middle" fill="#111" stroke="#111" stroke-width="0.22" >(i.n.)</text>
<text x="271.00" y="11.00" font-size="9.3" font-weight="bold" text-anchor="middle" fill="#111" stroke="#111" stroke-width="0.22" >Sample</text>
<text x="271.00" y="22.30" font-size="9.3" font-weight="bold" text-anchor="middle" fill="#111" stroke="#111" stroke-width="0.22" >collection</text>
<text x="410.80" y="11.00" font-size="9.3" font-weight="bold" text-anchor="middle" fill="#111" stroke="#111" stroke-width="0.22" >Sample</text>
<text x="410.80" y="22.30" font-size="9.3" font-weight="bold" text-anchor="middle" fill="#111" stroke="#111" stroke-width="0.22" >collection</text>
<line x1="130.00" y1="46.30" x2="412.50" y2="46.30" stroke="#000" stroke-width="2" />
<line x1="131.00" y1="34.80" x2="131.00" y2="56.70" stroke="#000" stroke-width="2" />
<line x1="201.00" y1="34.80" x2="201.00" y2="56.70" stroke="#000" stroke-width="2" />
<line x1="271.00" y1="34.80" x2="271.00" y2="56.70" stroke="#000" stroke-width="2" />
<line x1="341.50" y1="34.80" x2="341.50" y2="56.70" stroke="#000" stroke-width="2" />
<line x1="411.50" y1="34.80" x2="411.50" y2="56.70" stroke="#000" stroke-width="2" />
<text x="129.20" y="76.30" font-size="9.3" font-weight="bold" text-anchor="middle" fill="#111" stroke="#111" stroke-width="0.22" >Day 0</text>
<text x="200.10" y="76.30" font-size="9.3" font-weight="bold" text-anchor="middle" fill="#111" stroke="#111" stroke-width="0.22" >Day 1</text>
<text x="270.00" y="76.30" font-size="9.3" font-weight="bold" text-anchor="middle" fill="#111" stroke="#111" stroke-width="0.22" >Day 2</text>
<text x="341.90" y="76.30" font-size="9.3" font-weight="bold" text-anchor="middle" fill="#111" stroke="#111" stroke-width="0.22" >Day 3</text>
<text x="410.20" y="76.30" font-size="9.3" font-weight="bold" text-anchor="middle" fill="#111" stroke="#111" stroke-width="0.22" >Day 4</text>
<path d="M129.30,83.2 L133.20,90.8 L130.40,90.8 L130.40,93.7 L128.20,93.7 L128.20,90.8 L125.40,90.8 Z" fill="#2c72b3"/>
<path d="M201.20,83.2 L205.10,90.8 L202.30,90.8 L202.30,93.7 L200.10,93.7 L200.10,90.8 L197.30,90.8 Z" fill="#2c72b3"/>
<path d="M271.30,83.2 L275.20,90.8 L272.40,90.8 L272.40,93.7 L270.20,93.7 L270.20,90.8 L267.40,90.8 Z" fill="#2c72b3"/>
<path d="M341.50,83.2 L345.40,90.8 L342.60,90.8 L342.60,93.7 L340.40,93.7 L340.40,90.8 L337.60,90.8 Z" fill="#2c72b3"/>
<text x="244.00" y="108.70" font-size="9.5" font-weight="bold" text-anchor="middle" fill="#3478bb" stroke="#3478bb" stroke-width="0.22" >Vehicle or drug</text>
<circle cx="474.40" cy="11.20" r="4.40" fill="#2c72b3"/>
<text x="487.00" y="14.10" font-size="9.55" font-weight="bold" text-anchor="start" fill="#111" stroke="#111" stroke-width="0.22" >Group A: Vehicle</text>
<rect x="470.40" y="25.35" width="8.00" height="8.00" fill="#c9353b"/>
<text x="487.00" y="32.25" font-size="9.55" font-weight="bold" text-anchor="start" fill="#111" stroke="#111" stroke-width="0.22" >Group B: Nirmatrelvir 200 mpk + RTV</text>
<path d="M474.40,42.90L478.80,50.90L470.00,50.90Z" fill="#3f9b41"/>
<text x="487.00" y="50.40" font-size="9.55" font-weight="bold" text-anchor="start" fill="#111" stroke="#111" stroke-width="0.22" >Group C: Simnotrelvir 200 mpk + RTV</text>
<path d="M474.40,70.25L478.80,62.25L470.00,62.25Z" fill="#8b6bb3"/>
<text x="487.00" y="68.55" font-size="9.55" font-weight="bold" text-anchor="start" fill="#111" stroke="#111" stroke-width="0.22" >Group D: Simnotrelvir 50 mpk + RTV</text>
<path d="M474.40,78.60L479.60,83.80L474.40,89.00L469.20,83.80Z" fill="#ee7d2d"/>
<text x="487.00" y="86.70" font-size="9.55" font-weight="bold" text-anchor="start" fill="#111" stroke="#111" stroke-width="0.22" >Group E: Mock infection</text>
<text x="2.00" y="125.90" font-size="12.3" font-weight="bold" text-anchor="start" fill="#111" stroke="#111" stroke-width="0.22" >b</text>
<line x1="40.90" y1="147.10" x2="40.90" y2="259.50" stroke="#000" stroke-width="1.7" />
<line x1="40.10" y1="258.90" x2="208.90" y2="258.90" stroke="#000" stroke-width="1.7" />
<line x1="36.40" y1="258.90" x2="40.90" y2="258.90" stroke="#000" stroke-width="1.7" />
<text x="34.60" y="261.90" font-size="8.3" font-weight="bold" text-anchor="end" fill="#111" stroke="#111" stroke-width="0.22" >80</text>
<line x1="36.40" y1="221.80" x2="40.90" y2="221.80" stroke="#000" stroke-width="1.7" />
<text x="34.60" y="224.80" font-size="8.3" font-weight="bold" text-anchor="end" fill="#111" stroke="#111" stroke-width="0.22" >90</text>
<line x1="36.40" y1="184.70" x2="40.90" y2="184.70" stroke="#000" stroke-width="1.7" />
<text x="34.60" y="187.70" font-size="8.3" font-weight="bold" text-anchor="end" fill="#111" stroke="#111" stroke-width="0.22" >100</text>
<line x1="36.40" y1="147.60" x2="40.90" y2="147.60" stroke="#000" stroke-width="1.7" />
<text x="34.60" y="150.60" font-size="8.3" font-weight="bold" text-anchor="end" fill="#111" stroke="#111" stroke-width="0.22" >110</text>
<line x1="40.80" y1="258.90" x2="40.80" y2="263.60" stroke="#000" stroke-width="1.7" />
<text x="40.80" y="273.60" font-size="8.3" font-weight="bold" text-anchor="middle" fill="#111" stroke="#111" stroke-width="0.22" >0</text>
<line x1="82.65" y1="258.90" x2="82.65" y2="263.60" stroke="#000" stroke-width="1.7" />
<text x="82.65" y="273.60" font-size="8.3" font-weight="bold" text-anchor="middle" fill="#111" stroke="#111" stroke-width="0.22" >1</text>
<line x1="124.50" y1="258.90" x2="124.50" y2="263.60" stroke="#000" stroke-width="1.7" />
<text x="124.50" y="273.60" font-size="8.3" font-weight="bold" text-anchor="middle" fill="#111" stroke="#111" stroke-width="0.22" >2</text>
<line x1="166.35" y1="258.90" x2="166.35" y2="263.60" stroke="#000" stroke-width="1.7" />
<text x="166.35" y="273.60" font-size="8.3" font-weight="bold" text-anchor="middle" fill="#111" stroke="#111" stroke-width="0.22" >3</text>
<line x1="208.20" y1="258.90" x2="208.20" y2="263.60" stroke="#000" stroke-width="1.7" />
<text x="208.20" y="273.60" font-size="8.3" font-weight="bold" text-anchor="middle" fill="#111" stroke="#111" stroke-width="0.22" >4</text>
<text x="124.40" y="281.60" font-size="8.7" font-weight="bold" text-anchor="middle" fill="#111" stroke="#111" stroke-width="0.22" >Days p.i.</text>
<text x="15.30" y="201.80" font-size="8.4" font-weight="bold" text-anchor="middle" fill="#111" stroke="#111" stroke-width="0.22" transform="rotate(-90 15.3 201.8)">% Initial weight</text>
<line x1="82.65" y1="183.22" x2="82.65" y2="178.76" stroke="#ee7d2d" stroke-width="1.0" />
<line x1="80.45" y1="178.76" x2="84.85" y2="178.76" stroke="#ee7d2d" stroke-width="1.0" />
<line x1="80.45" y1="183.22" x2="84.85" y2="183.22" stroke="#ee7d2d" stroke-width="1.0" />
<line x1="124.50" y1="180.25" x2="124.50" y2="175.80" stroke="#ee7d2d" stroke-width="1.0" />
<line x1="122.30" y1="175.80" x2="126.70" y2="175.80" stroke="#ee7d2d" stroke-width="1.0" />
<line x1="122.30" y1="180.25" x2="126.70" y2="180.25" stroke="#ee7d2d" stroke-width="1.0" />
<line x1="166.35" y1="180.99" x2="166.35" y2="167.63" stroke="#ee7d2d" stroke-width="1.0" />
<line x1="164.15" y1="167.63" x2="168.55" y2="167.63" stroke="#ee7d2d" stroke-width="1.0" />
<line x1="164.15" y1="180.99" x2="168.55" y2="180.99" stroke="#ee7d2d" stroke-width="1.0" />
<line x1="208.20" y1="171.71" x2="208.20" y2="156.13" stroke="#ee7d2d" stroke-width="1.0" />
<line x1="206.00" y1="156.13" x2="210.40" y2="156.13" stroke="#ee7d2d" stroke-width="1.0" />
<line x1="206.00" y1="171.71" x2="210.40" y2="171.71" stroke="#ee7d2d" stroke-width="1.0" />
<polyline points="40.80,184.70 82.65,180.99 124.50,178.02 166.35,174.31 208.20,163.92" fill="none" stroke="#ee7d2d" stroke-width="1.8"/>
<path d="M40.80,181.97L43.53,184.70L40.80,187.43L38.07,184.70Z" fill="#ee7d2d"/>
<path d="M82.65,178.26L85.38,180.99L82.65,183.72L79.92,180.99Z" fill="#ee7d2d"/>
<path d="M124.50,175.29L127.23,178.02L124.50,180.75L121.77,178.02Z" fill="#ee7d2d"/>
<path d="M166.35,171.58L169.08,174.31L166.35,177.04L163.62,174.31Z" fill="#ee7d2d"/>
<path d="M208.20,161.19L210.93,163.92L208.20,166.65L205.47,163.92Z" fill="#ee7d2d"/>
<line x1="82.65" y1="183.96" x2="82.65" y2="178.02" stroke="#8b6bb3" stroke-width="1.0" />
<line x1="80.45" y1="178.02" x2="84.85" y2="178.02" stroke="#8b6bb3" stroke-width="1.0" />
<line x1="80.45" y1="183.96" x2="84.85" y2="183.96" stroke="#8b6bb3" stroke-width="1.0" />
<line x1="124.50" y1="180.25" x2="124.50" y2="172.83" stroke="#8b6bb3" stroke-width="1.0" />
<line x1="122.30" y1="172.83" x2="126.70" y2="172.83" stroke="#8b6bb3" stroke-width="1.0" />
<line x1="122.30" y1="180.25" x2="126.70" y2="180.25" stroke="#8b6bb3" stroke-width="1.0" />
<line x1="166.35" y1="189.15" x2="166.35" y2="180.25" stroke="#8b6bb3" stroke-width="1.0" />
<line x1="164.15" y1="180.25" x2="168.55" y2="180.25" stroke="#8b6bb3" stroke-width="1.0" />
<line x1="164.15" y1="189.15" x2="168.55" y2="189.15" stroke="#8b6bb3" stroke-width="1.0" />
<line x1="208.20" y1="179.51" x2="208.20" y2="169.86" stroke="#8b6bb3" stroke-width="1.0" />
<line x1="206.00" y1="169.86" x2="210.40" y2="169.86" stroke="#8b6bb3" stroke-width="1.0" />
<line x1="206.00" y1="179.51" x2="210.40" y2="179.51" stroke="#8b6bb3" stroke-width="1.0" />
<polyline points="40.80,184.70 82.65,180.99 124.50,176.54 166.35,184.70 208.20,174.68" fill="none" stroke="#8b6bb3" stroke-width="1.8"/>
<path d="M40.80,187.11L43.11,182.91L38.49,182.91Z" fill="#8b6bb3"/>
<path d="M82.65,183.40L84.96,179.20L80.34,179.20Z" fill="#8b6bb3"/>
<path d="M124.50,178.95L126.81,174.75L122.19,174.75Z" fill="#8b6bb3"/>
<path d="M166.35,187.11L168.66,182.91L164.04,182.91Z" fill="#8b6bb3"/>
<path d="M208.20,177.10L210.51,172.90L205.89,172.90Z" fill="#8b6bb3"/>
<line x1="82.65" y1="186.18" x2="82.65" y2="178.76" stroke="#3f9b41" stroke-width="1.0" />
<line x1="80.45" y1="178.76" x2="84.85" y2="178.76" stroke="#3f9b41" stroke-width="1.0" />
<line x1="80.45" y1="186.18" x2="84.85" y2="186.18" stroke="#3f9b41" stroke-width="1.0" />
<line x1="124.50" y1="180.25" x2="124.50" y2="174.31" stroke="#3f9b41" stroke-width="1.0" />
<line x1="122.30" y1="174.31" x2="126.70" y2="174.31" stroke="#3f9b41" stroke-width="1.0" />
<line x1="122.30" y1="180.25" x2="126.70" y2="180.25" stroke="#3f9b41" stroke-width="1.0" />
<line x1="166.35" y1="186.55" x2="166.35" y2="179.13" stroke="#3f9b41" stroke-width="1.0" />
<line x1="164.15" y1="179.13" x2="168.55" y2="179.13" stroke="#3f9b41" stroke-width="1.0" />
<line x1="164.15" y1="186.55" x2="168.55" y2="186.55" stroke="#3f9b41" stroke-width="1.0" />
<line x1="208.20" y1="175.42" x2="208.20" y2="168.00" stroke="#3f9b41" stroke-width="1.0" />
<line x1="206.00" y1="168.00" x2="210.40" y2="168.00" stroke="#3f9b41" stroke-width="1.0" />
<line x1="206.00" y1="175.42" x2="210.40" y2="175.42" stroke="#3f9b41" stroke-width="1.0" />
<polyline points="40.80,184.70 82.65,182.47 124.50,177.28 166.35,182.84 208.20,171.71" fill="none" stroke="#3f9b41" stroke-width="1.8"/>
<path d="M40.80,182.28L43.11,186.48L38.49,186.48Z" fill="#3f9b41"/>
<path d="M82.65,180.06L84.96,184.26L80.34,184.26Z" fill="#3f9b41"/>
<path d="M124.50,174.86L126.81,179.06L122.19,179.06Z" fill="#3f9b41"/>
<path d="M166.35,180.43L168.66,184.63L164.04,184.63Z" fill="#3f9b41"/>
<path d="M208.20,169.30L210.51,173.50L205.89,173.50Z" fill="#3f9b41"/>
<line x1="82.65" y1="184.70" x2="82.65" y2="176.54" stroke="#2c72b3" stroke-width="1.0" />
<line x1="80.45" y1="176.54" x2="84.85" y2="176.54" stroke="#2c72b3" stroke-width="1.0" />
<line x1="80.45" y1="184.70" x2="84.85" y2="184.70" stroke="#2c72b3" stroke-width="1.0" />
<line x1="124.50" y1="183.96" x2="124.50" y2="174.31" stroke="#2c72b3" stroke-width="1.0" />
<line x1="122.30" y1="174.31" x2="126.70" y2="174.31" stroke="#2c72b3" stroke-width="1.0" />
<line x1="122.30" y1="183.96" x2="126.70" y2="183.96" stroke="#2c72b3" stroke-width="1.0" />
<line x1="166.35" y1="192.12" x2="166.35" y2="184.70" stroke="#2c72b3" stroke-width="1.0" />
<line x1="164.15" y1="184.70" x2="168.55" y2="184.70" stroke="#2c72b3" stroke-width="1.0" />
<line x1="164.15" y1="192.12" x2="168.55" y2="192.12" stroke="#2c72b3" stroke-width="1.0" />
<line x1="208.20" y1="236.27" x2="208.20" y2="198.43" stroke="#2c72b3" stroke-width="1.0" />
<line x1="206.00" y1="198.43" x2="210.40" y2="198.43" stroke="#2c72b3" stroke-width="1.0" />
<line x1="206.00" y1="236.27" x2="210.40" y2="236.27" stroke="#2c72b3" stroke-width="1.0" />
<polyline points="40.80,184.70 82.65,180.62 124.50,179.13 166.35,188.41 208.20,217.35" fill="none" stroke="#2c72b3" stroke-width="1.8"/>
<circle cx="40.80" cy="184.70" r="2.20" fill="#2c72b3"/>
<circle cx="82.65" cy="180.62" r="2.20" fill="#2c72b3"/>
<circle cx="124.50" cy="179.13" r="2.20" fill="#2c72b3"/>
<circle cx="166.35" cy="188.41" r="2.20" fill="#2c72b3"/>
<circle cx="208.20" cy="217.35" r="2.20" fill="#2c72b3"/>
<line x1="82.65" y1="193.97" x2="82.65" y2="188.04" stroke="#c9353b" stroke-width="1.0" />
<line x1="80.45" y1="188.04" x2="84.85" y2="188.04" stroke="#c9353b" stroke-width="1.0" />
<line x1="80.45" y1="193.97" x2="84.85" y2="193.97" stroke="#c9353b" stroke-width="1.0" />
<line x1="124.50" y1="189.52" x2="124.50" y2="179.88" stroke="#c9353b" stroke-width="1.0" />
<line x1="122.30" y1="179.88" x2="126.70" y2="179.88" stroke="#c9353b" stroke-width="1.0" />
<line x1="122.30" y1="189.52" x2="126.70" y2="189.52" stroke="#c9353b" stroke-width="1.0" />
<line x1="166.35" y1="191.01" x2="166.35" y2="183.59" stroke="#c9353b" stroke-width="1.0" />
<line x1="164.15" y1="183.59" x2="168.55" y2="183.59" stroke="#c9353b" stroke-width="1.0" />
<line x1="164.15" y1="191.01" x2="168.55" y2="191.01" stroke="#c9353b" stroke-width="1.0" />
<line x1="208.20" y1="182.84" x2="208.20" y2="171.71" stroke="#c9353b" stroke-width="1.0" />
<line x1="206.00" y1="171.71" x2="210.40" y2="171.71" stroke="#c9353b" stroke-width="1.0" />
<line x1="206.00" y1="182.84" x2="210.40" y2="182.84" stroke="#c9353b" stroke-width="1.0" />
<polyline points="40.80,184.70 82.65,191.01 124.50,184.70 166.35,187.30 208.20,177.28" fill="none" stroke="#c9353b" stroke-width="1.8"/>
<rect x="38.70" y="182.60" width="4.20" height="4.20" fill="#c9353b"/>
<rect x="80.55" y="188.91" width="4.20" height="4.20" fill="#c9353b"/>
<rect x="122.40" y="182.60" width="4.20" height="4.20" fill="#c9353b"/>
<rect x="164.25" y="185.20" width="4.20" height="4.20" fill="#c9353b"/>
<rect x="206.10" y="175.18" width="4.20" height="4.20" fill="#c9353b"/>
<rect x="279.80" y="177.17" width="18.60" height="94.03" fill="url(#p0)" stroke="#2c72b3" stroke-width="2.7"/>
<rect x="311.60" y="236.72" width="18.60" height="34.48" fill="url(#p1)" stroke="#c9353b" stroke-width="2.7"/>
<rect x="343.30" y="237.89" width="18.60" height="33.31" fill="url(#p2)" stroke="#3f9b41" stroke-width="2.7"/>
<rect x="375.30" y="220.17" width="18.60" height="51.03" fill="url(#p3)" stroke="#8b6bb3" stroke-width="2.7"/>
<rect x="407.30" y="237.89" width="18.60" height="33.31" fill="url(#p4)" stroke="#ee7d2d" stroke-width="2.7"/>
<line x1="289.10" y1="175.82" x2="289.10" y2="171.91" stroke="#2c72b3" stroke-width="1.3" />
<line x1="285.10" y1="171.91" x2="293.10" y2="171.91" stroke="#2c72b3" stroke-width="1.3" />
<line x1="289.10" y1="175.82" x2="289.10" y2="179.99" stroke="#2c72b3" stroke-width="1.3" />
<line x1="285.10" y1="179.99" x2="293.10" y2="179.99" stroke="#2c72b3" stroke-width="1.3" />
<line x1="384.60" y1="218.82" x2="384.60" y2="214.52" stroke="#8b6bb3" stroke-width="1.3" />
<line x1="380.60" y1="214.52" x2="388.60" y2="214.52" stroke="#8b6bb3" stroke-width="1.3" />
<line x1="384.60" y1="218.82" x2="384.60" y2="221.69" stroke="#8b6bb3" stroke-width="1.3" />
<line x1="380.60" y1="221.69" x2="388.60" y2="221.69" stroke="#8b6bb3" stroke-width="1.3" />
<circle cx="284.10" cy="172.17" r="2.00" fill="#2c72b3"/>
<circle cx="289.10" cy="170.22" r="2.00" fill="#2c72b3"/>
<circle cx="294.10" cy="173.47" r="2.00" fill="#2c72b3"/>
<circle cx="282.10" cy="179.34" r="2.00" fill="#2c72b3"/>
<circle cx="296.10" cy="178.69" r="2.00" fill="#2c72b3"/>
<circle cx="292.10" cy="178.04" r="2.00" fill="#2c72b3"/>
<rect x="313.10" y="233.57" width="3.60" height="3.60" fill="#c9353b"/>
<rect x="316.10" y="233.57" width="3.60" height="3.60" fill="#c9353b"/>
<rect x="319.10" y="233.57" width="3.60" height="3.60" fill="#c9353b"/>
<rect x="322.10" y="233.57" width="3.60" height="3.60" fill="#c9353b"/>
<rect x="325.10" y="233.57" width="3.60" height="3.60" fill="#c9353b"/>
<path d="M346.60,234.24L348.80,238.24L344.40,238.24Z" fill="#3f9b41"/>
<path d="M349.60,234.24L351.80,238.24L347.40,238.24Z" fill="#3f9b41"/>
<path d="M352.60,234.24L354.80,238.24L350.40,238.24Z" fill="#3f9b41"/>
<path d="M355.60,234.24L357.80,238.24L353.40,238.24Z" fill="#3f9b41"/>
<path d="M358.60,234.24L360.80,238.24L356.40,238.24Z" fill="#3f9b41"/>
<path d="M384.60,214.21L386.80,210.21L382.40,210.21Z" fill="#8b6bb3"/>
<path d="M390.60,218.77L392.80,214.77L388.40,214.77Z" fill="#8b6bb3"/>
<path d="M380.60,222.68L382.80,218.68L378.40,218.68Z" fill="#8b6bb3"/>
<path d="M387.60,223.33L389.80,219.33L385.40,219.33Z" fill="#8b6bb3"/>
<path d="M410.60,233.94L413.20,236.54L410.60,239.14L408.00,236.54Z" fill="#ee7d2d"/>
<path d="M416.60,233.94L419.20,236.54L416.60,239.14L414.00,236.54Z" fill="#ee7d2d"/>
<path d="M422.60,233.94L425.20,236.54L422.60,239.14L420.00,236.54Z" fill="#ee7d2d"/>
<line x1="267.80" y1="236.60" x2="435.90" y2="236.60" stroke="#111" stroke-width="1.3" stroke-dasharray="3.6 2.2"/>
<text x="436.80" y="240.10" font-size="9.4" font-weight="normal" text-anchor="start" fill="#222" >LOD</text>
<line x1="267.80" y1="152.90" x2="267.80" y2="272.00" stroke="#000" stroke-width="1.8" />
<line x1="266.90" y1="271.20" x2="438.20" y2="271.20" stroke="#000" stroke-width="1.8" />
<line x1="263.20" y1="271.20" x2="267.80" y2="271.20" stroke="#000" stroke-width="1.7" />
<text x="261.80" y="274.20" font-size="8.4" font-weight="bold" text-anchor="end" fill="#111" stroke="#111" stroke-width="0.22" >0</text>
<line x1="263.20" y1="245.14" x2="267.80" y2="245.14" stroke="#000" stroke-width="1.7" />
<text x="261.80" y="248.14" font-size="8.4" font-weight="bold" text-anchor="end" fill="#111" stroke="#111" stroke-width="0.22" >2</text>
<line x1="263.20" y1="219.08" x2="267.80" y2="219.08" stroke="#000" stroke-width="1.7" />
<text x="261.80" y="222.08" font-size="8.4" font-weight="bold" text-anchor="end" fill="#111" stroke="#111" stroke-width="0.22" >4</text>
<line x1="263.20" y1="193.02" x2="267.80" y2="193.02" stroke="#000" stroke-width="1.7" />
<text x="261.80" y="196.02" font-size="8.4" font-weight="bold" text-anchor="end" fill="#111" stroke="#111" stroke-width="0.22" >6</text>
<line x1="263.20" y1="166.96" x2="267.80" y2="166.96" stroke="#000" stroke-width="1.7" />
<text x="261.80" y="169.96" font-size="8.4" font-weight="bold" text-anchor="end" fill="#111" stroke="#111" stroke-width="0.22" >8</text>
<line x1="289.10" y1="271.20" x2="289.10" y2="276.50" stroke="#000" stroke-width="1.7" />
<line x1="320.90" y1="271.20" x2="320.90" y2="276.50" stroke="#000" stroke-width="1.7" />
<line x1="352.60" y1="271.20" x2="352.60" y2="276.50" stroke="#000" stroke-width="1.7" />
<line x1="384.60" y1="271.20" x2="384.60" y2="276.50" stroke="#000" stroke-width="1.7" />
<line x1="416.60" y1="271.20" x2="416.60" y2="276.50" stroke="#000" stroke-width="1.7" />
<line x1="284.80" y1="128.10" x2="413.70" y2="128.10" stroke="#333" stroke-width="1.2" />
<text x="351.80" y="126.80" font-size="7.9" text-anchor="middle" fill="#222">* <tspan font-style="italic">P</tspan> = 0.0104</text>
<line x1="285.30" y1="141.30" x2="387.20" y2="141.30" stroke="#333" stroke-width="1.2" />
<text x="338.00" y="140.00" font-size="7.9" text-anchor="middle" fill="#222">*** <tspan font-style="italic">P</tspan> = 0.0008</text>
<line x1="285.30" y1="152.70" x2="352.70" y2="152.70" stroke="#333" stroke-width="1.2" />
<text x="319.00" y="151.40" font-size="7.9" text-anchor="middle" fill="#222">*** <tspan font-style="italic">P</tspan> = 0.0008</text>
<line x1="285.30" y1="166.70" x2="322.00" y2="166.70" stroke="#333" stroke-width="1.2" />
<text x="305.40" y="165.40" font-size="7.9" text-anchor="middle" fill="#222">*** <tspan font-style="italic">P</tspan> = 0.0008</text>
<text x="352.50" y="288.80" font-size="9.3" font-weight="bold" text-anchor="middle" fill="#111" stroke="#111" stroke-width="0.22" >Lung (day 2)</text>
<text x="250.40" y="211.65" font-size="9.4" font-weight="bold" text-anchor="middle" fill="#111" stroke="#111" stroke-width="0.22" transform="rotate(-90 250.40 211.65)">PFU/Gram lung tissue (Log<tspan font-size="6" dy="1.6">10</tspan><tspan dy="-1.6">)</tspan></text>
<text x="232.20" y="125.90" font-size="12.3" font-weight="bold" text-anchor="start" fill="#111" stroke="#111" stroke-width="0.22" >c</text>
<rect x="506.10" y="182.82" width="18.60" height="86.88" fill="url(#p0)" stroke="#2c72b3" stroke-width="2.7"/>
<rect x="537.80" y="224.34" width="18.60" height="45.36" fill="url(#p1)" stroke="#c9353b" stroke-width="2.7"/>
<rect x="569.80" y="222.44" width="18.60" height="47.26" fill="url(#p2)" stroke="#3f9b41" stroke-width="2.7"/>
<rect x="601.80" y="207.21" width="18.60" height="62.49" fill="url(#p3)" stroke="#8b6bb3" stroke-width="2.7"/>
<rect x="633.70" y="225.03" width="18.60" height="44.67" fill="url(#p4)" stroke="#ee7d2d" stroke-width="2.7"/>
<line x1="515.40" y1="181.47" x2="515.40" y2="174.55" stroke="#2c72b3" stroke-width="1.3" />
<line x1="511.40" y1="174.55" x2="519.40" y2="174.55" stroke="#2c72b3" stroke-width="1.3" />
<line x1="515.40" y1="181.47" x2="515.40" y2="188.39" stroke="#2c72b3" stroke-width="1.3" />
<line x1="511.40" y1="188.39" x2="519.40" y2="188.39" stroke="#2c72b3" stroke-width="1.3" />
<line x1="579.10" y1="221.09" x2="579.10" y2="216.07" stroke="#3f9b41" stroke-width="1.3" />
<line x1="575.10" y1="216.07" x2="583.10" y2="216.07" stroke="#3f9b41" stroke-width="1.3" />
<line x1="579.10" y1="221.09" x2="579.10" y2="222.99" stroke="#3f9b41" stroke-width="1.3" />
<line x1="575.10" y1="222.99" x2="583.10" y2="222.99" stroke="#3f9b41" stroke-width="1.3" />
<line x1="611.10" y1="205.86" x2="611.10" y2="193.58" stroke="#8b6bb3" stroke-width="1.3" />
<line x1="607.10" y1="193.58" x2="615.10" y2="193.58" stroke="#8b6bb3" stroke-width="1.3" />
<line x1="611.10" y1="205.86" x2="611.10" y2="217.80" stroke="#8b6bb3" stroke-width="1.3" />
<line x1="607.10" y1="217.80" x2="615.10" y2="217.80" stroke="#8b6bb3" stroke-width="1.3" />
<circle cx="509.40" cy="177.14" r="2.00" fill="#2c72b3"/>
<circle cx="521.40" cy="177.14" r="2.00" fill="#2c72b3"/>
<circle cx="515.40" cy="190.12" r="2.00" fill="#2c72b3"/>
<circle cx="517.40" cy="182.33" r="2.00" fill="#2c72b3"/>
<rect x="539.30" y="221.19" width="3.60" height="3.60" fill="#c9353b"/>
<rect x="542.30" y="221.19" width="3.60" height="3.60" fill="#c9353b"/>
<rect x="545.30" y="221.19" width="3.60" height="3.60" fill="#c9353b"/>
<rect x="548.30" y="221.19" width="3.60" height="3.60" fill="#c9353b"/>
<rect x="551.30" y="221.19" width="3.60" height="3.60" fill="#c9353b"/>
<path d="M584.10,212.90L586.30,216.90L581.90,216.90Z" fill="#3f9b41"/>
<path d="M575.10,220.69L577.30,224.69L572.90,224.69Z" fill="#3f9b41"/>
<path d="M581.10,220.69L583.30,224.69L578.90,224.69Z" fill="#3f9b41"/>
<path d="M611.10,201.07L613.30,197.07L608.90,197.07Z" fill="#8b6bb3"/>
<path d="M611.10,221.83L613.30,217.83L608.90,217.83Z" fill="#8b6bb3"/>
<path d="M611.10,214.91L613.30,210.91L608.90,210.91Z" fill="#8b6bb3"/>
<path d="M638.00,221.08L640.60,223.68L638.00,226.28L635.40,223.68Z" fill="#ee7d2d"/>
<path d="M643.00,221.08L645.60,223.68L643.00,226.28L640.40,223.68Z" fill="#ee7d2d"/>
<path d="M648.00,221.08L650.60,223.68L648.00,226.28L645.40,223.68Z" fill="#ee7d2d"/>
<line x1="494.40" y1="222.90" x2="661.80" y2="222.90" stroke="#111" stroke-width="1.3" stroke-dasharray="3.6 2.2"/>
<text x="662.70" y="226.40" font-size="9.4" font-weight="normal" text-anchor="start" fill="#222" >LOD</text>
<line x1="494.40" y1="147.70" x2="494.40" y2="270.50" stroke="#000" stroke-width="1.8" />
<line x1="493.50" y1="269.70" x2="664.70" y2="269.70" stroke="#000" stroke-width="1.8" />
<line x1="489.80" y1="269.70" x2="494.40" y2="269.70" stroke="#000" stroke-width="1.7" />
<text x="488.40" y="272.70" font-size="8.4" font-weight="bold" text-anchor="end" fill="#111" stroke="#111" stroke-width="0.22" >0</text>
<line x1="489.80" y1="235.10" x2="494.40" y2="235.10" stroke="#000" stroke-width="1.7" />
<text x="488.40" y="238.10" font-size="8.4" font-weight="bold" text-anchor="end" fill="#111" stroke="#111" stroke-width="0.22" >2</text>
<line x1="489.80" y1="200.50" x2="494.40" y2="200.50" stroke="#000" stroke-width="1.7" />
<text x="488.40" y="203.50" font-size="8.4" font-weight="bold" text-anchor="end" fill="#111" stroke="#111" stroke-width="0.22" >4</text>
<line x1="489.80" y1="165.90" x2="494.40" y2="165.90" stroke="#000" stroke-width="1.7" />
<text x="488.40" y="168.90" font-size="8.4" font-weight="bold" text-anchor="end" fill="#111" stroke="#111" stroke-width="0.22" >6</text>
<line x1="515.40" y1="269.70" x2="515.40" y2="275.00" stroke="#000" stroke-width="1.7" />
<line x1="547.10" y1="269.70" x2="547.10" y2="275.00" stroke="#000" stroke-width="1.7" />
<line x1="579.10" y1="269.70" x2="579.10" y2="275.00" stroke="#000" stroke-width="1.7" />
<line x1="611.10" y1="269.70" x2="611.10" y2="275.00" stroke="#000" stroke-width="1.7" />
<line x1="643.00" y1="269.70" x2="643.00" y2="275.00" stroke="#000" stroke-width="1.7" />
<line x1="513.30" y1="132.80" x2="642.90" y2="132.80" stroke="#333" stroke-width="1.2" />
<text x="578.80" y="131.50" font-size="7.9" text-anchor="middle" fill="#222">** <tspan font-style="italic">P</tspan> = 0.0055</text>
<line x1="513.30" y1="144.80" x2="611.00" y2="144.80" stroke="#333" stroke-width="1.2" />
<text x="567.00" y="143.50" font-size="7.9" text-anchor="middle" fill="#222">** <tspan font-style="italic">P</tspan> = 0.0016</text>
<line x1="513.30" y1="157.60" x2="579.50" y2="157.60" stroke="#333" stroke-width="1.2" />
<text x="548.00" y="156.30" font-size="7.9" text-anchor="middle" fill="#222">*** <tspan font-style="italic">P</tspan> = 0.0005</text>
<line x1="513.30" y1="170.40" x2="547.50" y2="170.40" stroke="#333" stroke-width="1.2" />
<text x="532.50" y="169.10" font-size="7.9" text-anchor="middle" fill="#222">*** <tspan font-style="italic">P</tspan> = 0.0005</text>
<text x="579.20" y="285.50" font-size="9.3" font-weight="bold" text-anchor="middle" fill="#111" stroke="#111" stroke-width="0.22" >Lung (day 4)</text>
<text x="472.00" y="208.75" font-size="9.4" font-weight="bold" text-anchor="middle" fill="#111" stroke="#111" stroke-width="0.22" transform="rotate(-90 472.00 208.75)">PFU/Gram lung tissue (Log<tspan font-size="6" dy="1.6">10</tspan><tspan dy="-1.6">)</tspan></text>
<text x="454.00" y="125.80" font-size="12.3" font-weight="bold" text-anchor="start" fill="#111" stroke="#111" stroke-width="0.22" >d</text>
<rect x="57.90" y="360.22" width="18.60" height="90.88" fill="url(#p0)" stroke="#2c72b3" stroke-width="2.7"/>
<rect x="90.00" y="425.03" width="18.60" height="26.07" fill="url(#p1)" stroke="#c9353b" stroke-width="2.7"/>
<rect x="121.80" y="425.74" width="18.60" height="25.36" fill="url(#p2)" stroke="#3f9b41" stroke-width="2.7"/>
<rect x="153.60" y="425.44" width="18.60" height="25.66" fill="url(#p3)" stroke="#8b6bb3" stroke-width="2.7"/>
<rect x="185.60" y="425.74" width="18.60" height="25.36" fill="url(#p4)" stroke="#ee7d2d" stroke-width="2.7"/>
<line x1="67.20" y1="358.87" x2="67.20" y2="355.34" stroke="#2c72b3" stroke-width="1.3" />
<line x1="63.20" y1="355.34" x2="71.20" y2="355.34" stroke="#2c72b3" stroke-width="1.3" />
<line x1="67.20" y1="358.87" x2="67.20" y2="360.88" stroke="#2c72b3" stroke-width="1.3" />
<line x1="63.20" y1="360.88" x2="71.20" y2="360.88" stroke="#2c72b3" stroke-width="1.3" />
<circle cx="61.20" cy="355.34" r="2.00" fill="#2c72b3"/>
<circle cx="73.20" cy="357.36" r="2.00" fill="#2c72b3"/>
<circle cx="67.20" cy="360.88" r="2.00" fill="#2c72b3"/>
<circle cx="70.20" cy="359.37" r="2.00" fill="#2c72b3"/>
<circle cx="64.20" cy="358.36" r="2.00" fill="#2c72b3"/>
<rect x="91.50" y="421.88" width="3.60" height="3.60" fill="#c9353b"/>
<rect x="94.50" y="421.88" width="3.60" height="3.60" fill="#c9353b"/>
<rect x="97.50" y="421.88" width="3.60" height="3.60" fill="#c9353b"/>
<rect x="100.50" y="421.88" width="3.60" height="3.60" fill="#c9353b"/>
<rect x="103.50" y="421.88" width="3.60" height="3.60" fill="#c9353b"/>
<path d="M126.10,422.09L128.30,426.09L123.90,426.09Z" fill="#3f9b41"/>
<path d="M131.10,422.09L133.30,426.09L128.90,426.09Z" fill="#3f9b41"/>
<path d="M136.10,422.09L138.30,426.09L133.90,426.09Z" fill="#3f9b41"/>
<path d="M156.90,426.39L159.10,422.39L154.70,422.39Z" fill="#8b6bb3"/>
<path d="M159.90,426.39L162.10,422.39L157.70,422.39Z" fill="#8b6bb3"/>
<path d="M162.90,426.39L165.10,422.39L160.70,422.39Z" fill="#8b6bb3"/>
<path d="M165.90,426.39L168.10,422.39L163.70,422.39Z" fill="#8b6bb3"/>
<path d="M168.90,426.39L171.10,422.39L166.70,422.39Z" fill="#8b6bb3"/>
<path d="M189.90,421.79L192.50,424.39L189.90,426.99L187.30,424.39Z" fill="#ee7d2d"/>
<path d="M194.90,421.79L197.50,424.39L194.90,426.99L192.30,424.39Z" fill="#ee7d2d"/>
<path d="M199.90,421.79L202.50,424.39L199.90,426.99L197.30,424.39Z" fill="#ee7d2d"/>
<line x1="45.90" y1="424.00" x2="215.50" y2="424.00" stroke="#111" stroke-width="1.3" stroke-dasharray="3.6 2.2"/>
<text x="216.40" y="427.50" font-size="9.4" font-weight="normal" text-anchor="start" fill="#222" >LOD</text>
<line x1="45.90" y1="329.50" x2="45.90" y2="451.90" stroke="#000" stroke-width="1.8" />
<line x1="45.00" y1="451.10" x2="217.20" y2="451.10" stroke="#000" stroke-width="1.8" />
<line x1="41.30" y1="430.94" x2="45.90" y2="430.94" stroke="#000" stroke-width="1.7" />
<text x="39.90" y="433.94" font-size="8.4" font-weight="bold" text-anchor="end" fill="#111" stroke="#111" stroke-width="0.22" >2</text>
<line x1="41.30" y1="410.78" x2="45.90" y2="410.78" stroke="#000" stroke-width="1.7" />
<text x="39.90" y="413.78" font-size="8.4" font-weight="bold" text-anchor="end" fill="#111" stroke="#111" stroke-width="0.22" >4</text>
<line x1="41.30" y1="390.62" x2="45.90" y2="390.62" stroke="#000" stroke-width="1.7" />
<text x="39.90" y="393.62" font-size="8.4" font-weight="bold" text-anchor="end" fill="#111" stroke="#111" stroke-width="0.22" >6</text>
<line x1="41.30" y1="370.46" x2="45.90" y2="370.46" stroke="#000" stroke-width="1.7" />
<text x="39.90" y="373.46" font-size="8.4" font-weight="bold" text-anchor="end" fill="#111" stroke="#111" stroke-width="0.22" >8</text>
<line x1="41.30" y1="350.30" x2="45.90" y2="350.30" stroke="#000" stroke-width="1.7" />
<text x="39.90" y="353.30" font-size="8.4" font-weight="bold" text-anchor="end" fill="#111" stroke="#111" stroke-width="0.22" >10</text>
<line x1="41.30" y1="330.14" x2="45.90" y2="330.14" stroke="#000" stroke-width="1.7" />
<text x="39.90" y="333.14" font-size="8.4" font-weight="bold" text-anchor="end" fill="#111" stroke="#111" stroke-width="0.22" >12</text>
<line x1="67.20" y1="451.10" x2="67.20" y2="456.40" stroke="#000" stroke-width="1.7" />
<line x1="99.30" y1="451.10" x2="99.30" y2="456.40" stroke="#000" stroke-width="1.7" />
<line x1="131.10" y1="451.10" x2="131.10" y2="456.40" stroke="#000" stroke-width="1.7" />
<line x1="162.90" y1="451.10" x2="162.90" y2="456.40" stroke="#000" stroke-width="1.7" />
<line x1="194.90" y1="451.10" x2="194.90" y2="456.40" stroke="#000" stroke-width="1.7" />
<line x1="66.50" y1="314.40" x2="194.20" y2="314.40" stroke="#333" stroke-width="1.2" />
<text x="129.30" y="313.10" font-size="7.9" text-anchor="middle" fill="#222">** <tspan font-style="italic">P</tspan> = 0.0055</text>
<line x1="66.50" y1="327.70" x2="159.90" y2="327.70" stroke="#333" stroke-width="1.2" />
<text x="122.00" y="326.40" font-size="7.9" text-anchor="middle" fill="#222">*** <tspan font-style="italic">P</tspan> = 0.0009</text>
<line x1="66.50" y1="339.20" x2="128.50" y2="339.20" stroke="#333" stroke-width="1.2" />
<text x="97.60" y="337.90" font-size="7.9" text-anchor="middle" fill="#222">*** <tspan font-style="italic">P</tspan> = 0.0005</text>
<line x1="66.50" y1="351.90" x2="103.60" y2="351.90" stroke="#333" stroke-width="1.2" />
<text x="87.00" y="350.60" font-size="7.9" text-anchor="middle" fill="#222">*** <tspan font-style="italic">P</tspan> = 0.0005</text>
<text x="131.20" y="468.70" font-size="9.3" font-weight="bold" text-anchor="middle" fill="#111" stroke="#111" stroke-width="0.22" >Brain (day 4)</text>
<text x="22.00" y="389.50" font-size="9.4" font-weight="bold" text-anchor="middle" fill="#111" stroke="#111" stroke-width="0.22" transform="rotate(-90 22.00 389.50)">PFU/Gram brain tissue (Log<tspan font-size="6" dy="1.6">10</tspan><tspan dy="-1.6">)</tspan></text>
<text x="1.90" y="312.60" font-size="12.3" font-weight="bold" text-anchor="start" fill="#111" stroke="#111" stroke-width="0.22" >e</text>
<rect x="283.70" y="373.96" width="18.60" height="76.64" fill="url(#p0)" stroke="#2c72b3" stroke-width="2.7"/>
<rect x="315.70" y="364.01" width="18.60" height="86.59" fill="url(#p1)" stroke="#c9353b" stroke-width="2.7"/>
<rect x="347.30" y="398.18" width="18.60" height="52.42" fill="url(#p2)" stroke="#3f9b41" stroke-width="2.7"/>
<rect x="379.40" y="369.04" width="18.60" height="81.56" fill="url(#p3)" stroke="#8b6bb3" stroke-width="2.7"/>
<rect x="411.30" y="422.30" width="18.60" height="28.30" fill="url(#p4)" stroke="#ee7d2d" stroke-width="2.7"/>
<line x1="293.00" y1="372.61" x2="293.00" y2="362.66" stroke="#2c72b3" stroke-width="1.3" />
<line x1="289.00" y1="362.66" x2="297.00" y2="362.66" stroke="#2c72b3" stroke-width="1.3" />
<line x1="293.00" y1="372.61" x2="293.00" y2="382.26" stroke="#2c72b3" stroke-width="1.3" />
<line x1="289.00" y1="382.26" x2="297.00" y2="382.26" stroke="#2c72b3" stroke-width="1.3" />
<line x1="325.00" y1="362.66" x2="325.00" y2="344.07" stroke="#c9353b" stroke-width="1.3" />
<line x1="321.00" y1="344.07" x2="329.00" y2="344.07" stroke="#c9353b" stroke-width="1.3" />
<line x1="325.00" y1="362.66" x2="325.00" y2="380.25" stroke="#c9353b" stroke-width="1.3" />
<line x1="321.00" y1="380.25" x2="329.00" y2="380.25" stroke="#c9353b" stroke-width="1.3" />
<line x1="356.60" y1="396.83" x2="356.60" y2="377.24" stroke="#3f9b41" stroke-width="1.3" />
<line x1="352.60" y1="377.24" x2="360.60" y2="377.24" stroke="#3f9b41" stroke-width="1.3" />
<line x1="356.60" y1="396.83" x2="356.60" y2="414.42" stroke="#3f9b41" stroke-width="1.3" />
<line x1="352.60" y1="414.42" x2="360.60" y2="414.42" stroke="#3f9b41" stroke-width="1.3" />
<line x1="388.70" y1="367.69" x2="388.70" y2="331.51" stroke="#8b6bb3" stroke-width="1.3" />
<line x1="384.70" y1="331.51" x2="392.70" y2="331.51" stroke="#8b6bb3" stroke-width="1.3" />
<line x1="388.70" y1="367.69" x2="388.70" y2="402.36" stroke="#8b6bb3" stroke-width="1.3" />
<line x1="384.70" y1="402.36" x2="392.70" y2="402.36" stroke="#8b6bb3" stroke-width="1.3" />
<line x1="420.60" y1="420.95" x2="420.60" y2="391.31" stroke="#ee7d2d" stroke-width="1.3" />
<line x1="416.60" y1="391.31" x2="424.60" y2="391.31" stroke="#ee7d2d" stroke-width="1.3" />
<line x1="420.60" y1="420.95" x2="420.60" y2="448.59" stroke="#ee7d2d" stroke-width="1.3" />
<line x1="416.60" y1="448.59" x2="424.60" y2="448.59" stroke="#ee7d2d" stroke-width="1.3" />
<circle cx="293.00" cy="360.15" r="2.00" fill="#2c72b3"/>
<circle cx="293.00" cy="370.20" r="2.00" fill="#2c72b3"/>
<circle cx="287.00" cy="380.25" r="2.00" fill="#2c72b3"/>
<circle cx="299.00" cy="380.25" r="2.00" fill="#2c72b3"/>
<circle cx="293.00" cy="380.25" r="2.00" fill="#2c72b3"/>
<rect x="323.20" y="338.25" width="3.60" height="3.60" fill="#c9353b"/>
<rect x="323.20" y="348.30" width="3.60" height="3.60" fill="#c9353b"/>
<rect x="323.20" y="358.35" width="3.60" height="3.60" fill="#c9353b"/>
<rect x="317.20" y="378.45" width="3.60" height="3.60" fill="#c9353b"/>
<rect x="329.20" y="378.45" width="3.60" height="3.60" fill="#c9353b"/>
<path d="M356.60,367.90L358.80,371.90L354.40,371.90Z" fill="#3f9b41"/>
<path d="M356.60,388.00L358.80,392.00L354.40,392.00Z" fill="#3f9b41"/>
<path d="M356.60,398.05L358.80,402.05L354.40,402.05Z" fill="#3f9b41"/>
<path d="M361.60,398.05L363.80,402.05L359.40,402.05Z" fill="#3f9b41"/>
<path d="M356.60,418.15L358.80,422.15L354.40,422.15Z" fill="#3f9b41"/>
<path d="M388.70,332.30L390.90,328.30L386.50,328.30Z" fill="#8b6bb3"/>
<path d="M388.70,350.39L390.90,346.39L386.50,346.39Z" fill="#8b6bb3"/>
<path d="M388.70,380.54L390.90,376.54L386.50,376.54Z" fill="#8b6bb3"/>
<path d="M388.70,412.70L390.90,408.70L386.50,408.70Z" fill="#8b6bb3"/>
<path d="M420.60,396.75L423.20,399.35L420.60,401.95L418.00,399.35Z" fill="#ee7d2d"/>
<path d="M420.60,437.95L423.20,440.55L420.60,443.15L418.00,440.55Z" fill="#ee7d2d"/>
<path d="M420.60,445.99L423.20,448.59L420.60,451.19L418.00,448.59Z" fill="#ee7d2d"/>
<line x1="271.40" y1="328.60" x2="271.40" y2="451.40" stroke="#000" stroke-width="1.8" />
<line x1="270.50" y1="450.60" x2="443.00" y2="450.60" stroke="#000" stroke-width="1.8" />
<line x1="266.80" y1="450.60" x2="271.40" y2="450.60" stroke="#000" stroke-width="1.7" />
<text x="265.40" y="453.60" font-size="8.4" font-weight="bold" text-anchor="end" fill="#111" stroke="#111" stroke-width="0.22" >0</text>
<line x1="266.80" y1="430.50" x2="271.40" y2="430.50" stroke="#000" stroke-width="1.7" />
<text x="265.40" y="433.50" font-size="8.4" font-weight="bold" text-anchor="end" fill="#111" stroke="#111" stroke-width="0.22" >2</text>
<line x1="266.80" y1="410.40" x2="271.40" y2="410.40" stroke="#000" stroke-width="1.7" />
<text x="265.40" y="413.40" font-size="8.4" font-weight="bold" text-anchor="end" fill="#111" stroke="#111" stroke-width="0.22" >4</text>
<line x1="266.80" y1="390.30" x2="271.40" y2="390.30" stroke="#000" stroke-width="1.7" />
<text x="265.40" y="393.30" font-size="8.4" font-weight="bold" text-anchor="end" fill="#111" stroke="#111" stroke-width="0.22" >6</text>
<line x1="266.80" y1="370.20" x2="271.40" y2="370.20" stroke="#000" stroke-width="1.7" />
<text x="265.40" y="373.20" font-size="8.4" font-weight="bold" text-anchor="end" fill="#111" stroke="#111" stroke-width="0.22" >8</text>
<line x1="266.80" y1="350.10" x2="271.40" y2="350.10" stroke="#000" stroke-width="1.7" />
<text x="265.40" y="353.10" font-size="8.4" font-weight="bold" text-anchor="end" fill="#111" stroke="#111" stroke-width="0.22" >10</text>
<line x1="266.80" y1="330.00" x2="271.40" y2="330.00" stroke="#000" stroke-width="1.7" />
<text x="265.40" y="333.00" font-size="8.4" font-weight="bold" text-anchor="end" fill="#111" stroke="#111" stroke-width="0.22" >12</text>
<line x1="293.00" y1="450.60" x2="293.00" y2="455.90" stroke="#000" stroke-width="1.7" />
<line x1="325.00" y1="450.60" x2="325.00" y2="455.90" stroke="#000" stroke-width="1.7" />
<line x1="356.60" y1="450.60" x2="356.60" y2="455.90" stroke="#000" stroke-width="1.7" />
<line x1="388.70" y1="450.60" x2="388.70" y2="455.90" stroke="#000" stroke-width="1.7" />
<line x1="420.60" y1="450.60" x2="420.60" y2="455.90" stroke="#000" stroke-width="1.7" />
<line x1="293.30" y1="322.40" x2="357.10" y2="322.40" stroke="#333" stroke-width="1.2" />
<text x="326.00" y="321.10" font-size="7.9" text-anchor="middle" fill="#222">* <tspan font-style="italic">P</tspan> = 0.0454</text>
<line x1="325.20" y1="334.00" x2="357.10" y2="334.00" stroke="#333" stroke-width="1.2" />
<text x="339.20" y="332.70" font-size="7.9" text-anchor="middle" fill="#222">* <tspan font-style="italic">P</tspan> = 0.0176</text>
<text x="357.10" y="467.70" font-size="9.3" font-weight="bold" text-anchor="middle" fill="#111" stroke="#111" stroke-width="0.22" >Lung</text>
<text x="250.00" y="388.60" font-size="9.4" font-weight="bold" text-anchor="middle" fill="#111" stroke="#111" stroke-width="0.22" transform="rotate(-90 250.00 388.60)">Hispathology score</text>
<text x="232.00" y="312.50" font-size="12.3" font-weight="bold" text-anchor="start" fill="#111" stroke="#111" stroke-width="0.22" >f</text>
<rect x="503.40" y="370.23" width="18.60" height="80.37" fill="url(#p0)" stroke="#2c72b3" stroke-width="2.7"/>
<rect x="535.80" y="426.67" width="18.60" height="23.93" fill="url(#p1)" stroke="#c9353b" stroke-width="2.7"/>
<rect x="568.20" y="425.81" width="18.60" height="24.79" fill="url(#p2)" stroke="#3f9b41" stroke-width="2.7"/>
<rect x="600.50" y="419.07" width="18.60" height="31.53" fill="url(#p3)" stroke="#8b6bb3" stroke-width="2.7"/>
<rect x="633.00" y="440.91" width="18.60" height="9.69" fill="url(#p4)" stroke="#ee7d2d" stroke-width="2.7"/>
<line x1="512.70" y1="368.88" x2="512.70" y2="349.99" stroke="#2c72b3" stroke-width="1.3" />
<line x1="508.70" y1="349.99" x2="516.70" y2="349.99" stroke="#2c72b3" stroke-width="1.3" />
<line x1="577.50" y1="424.46" x2="577.50" y2="418.70" stroke="#3f9b41" stroke-width="1.3" />
<line x1="573.50" y1="418.70" x2="581.50" y2="418.70" stroke="#3f9b41" stroke-width="1.3" />
<line x1="609.80" y1="417.72" x2="609.80" y2="391.70" stroke="#8b6bb3" stroke-width="1.3" />
<line x1="605.80" y1="391.70" x2="613.80" y2="391.70" stroke="#8b6bb3" stroke-width="1.3" />
<line x1="642.30" y1="439.56" x2="642.30" y2="421.15" stroke="#ee7d2d" stroke-width="1.3" />
<line x1="638.30" y1="421.15" x2="646.30" y2="421.15" stroke="#ee7d2d" stroke-width="1.3" />
<circle cx="512.70" cy="352.44" r="2.00" fill="#2c72b3"/>
<circle cx="519.70" cy="352.44" r="2.00" fill="#2c72b3"/>
<circle cx="512.70" cy="376.98" r="2.00" fill="#2c72b3"/>
<circle cx="512.70" cy="389.25" r="2.00" fill="#2c72b3"/>
<rect x="537.30" y="424.26" width="3.60" height="3.60" fill="#c9353b"/>
<rect x="540.30" y="424.26" width="3.60" height="3.60" fill="#c9353b"/>
<rect x="543.30" y="424.26" width="3.60" height="3.60" fill="#c9353b"/>
<rect x="546.30" y="424.26" width="3.60" height="3.60" fill="#c9353b"/>
<rect x="549.30" y="424.26" width="3.60" height="3.60" fill="#c9353b"/>
<path d="M577.50,411.49L579.70,415.49L575.30,415.49Z" fill="#3f9b41"/>
<path d="M571.50,423.76L573.70,427.76L569.30,427.76Z" fill="#3f9b41"/>
<path d="M577.50,423.76L579.70,427.76L575.30,427.76Z" fill="#3f9b41"/>
<path d="M583.50,423.76L585.70,427.76L581.30,427.76Z" fill="#3f9b41"/>
<path d="M609.80,391.55L612.00,387.55L607.60,387.55Z" fill="#8b6bb3"/>
<path d="M609.80,416.09L612.00,412.09L607.60,412.09Z" fill="#8b6bb3"/>
<path d="M616.80,416.09L619.00,412.09L614.60,412.09Z" fill="#8b6bb3"/>
<path d="M609.80,452.90L612.00,448.90L607.60,448.90Z" fill="#8b6bb3"/>
<path d="M642.30,423.46L644.90,426.06L642.30,428.66L639.70,426.06Z" fill="#ee7d2d"/>
<path d="M642.30,448.00L644.90,450.60L642.30,453.20L639.70,450.60Z" fill="#ee7d2d"/>
<line x1="491.40" y1="327.40" x2="491.40" y2="451.40" stroke="#000" stroke-width="1.8" />
<line x1="490.50" y1="450.60" x2="664.70" y2="450.60" stroke="#000" stroke-width="1.8" />
<line x1="486.80" y1="450.60" x2="491.40" y2="450.60" stroke="#000" stroke-width="1.7" />
<text x="485.40" y="453.60" font-size="8.4" font-weight="bold" text-anchor="end" fill="#111" stroke="#111" stroke-width="0.22" >0</text>
<line x1="486.80" y1="426.06" x2="491.40" y2="426.06" stroke="#000" stroke-width="1.7" />
<text x="485.40" y="429.06" font-size="8.4" font-weight="bold" text-anchor="end" fill="#111" stroke="#111" stroke-width="0.22" >2</text>
<line x1="486.80" y1="401.52" x2="491.40" y2="401.52" stroke="#000" stroke-width="1.7" />
<text x="485.40" y="404.52" font-size="8.4" font-weight="bold" text-anchor="end" fill="#111" stroke="#111" stroke-width="0.22" >4</text>
<line x1="486.80" y1="376.98" x2="491.40" y2="376.98" stroke="#000" stroke-width="1.7" />
<text x="485.40" y="379.98" font-size="8.4" font-weight="bold" text-anchor="end" fill="#111" stroke="#111" stroke-width="0.22" >6</text>
<line x1="486.80" y1="352.44" x2="491.40" y2="352.44" stroke="#000" stroke-width="1.7" />
<text x="485.40" y="355.44" font-size="8.4" font-weight="bold" text-anchor="end" fill="#111" stroke="#111" stroke-width="0.22" >8</text>
<line x1="486.80" y1="327.90" x2="491.40" y2="327.90" stroke="#000" stroke-width="1.7" />
<text x="485.40" y="330.90" font-size="8.4" font-weight="bold" text-anchor="end" fill="#111" stroke="#111" stroke-width="0.22" >10</text>
<line x1="512.70" y1="450.60" x2="512.70" y2="455.90" stroke="#000" stroke-width="1.7" />
<line x1="545.10" y1="450.60" x2="545.10" y2="455.90" stroke="#000" stroke-width="1.7" />
<line x1="577.50" y1="450.60" x2="577.50" y2="455.90" stroke="#000" stroke-width="1.7" />
<line x1="609.80" y1="450.60" x2="609.80" y2="455.90" stroke="#000" stroke-width="1.7" />
<line x1="642.30" y1="450.60" x2="642.30" y2="455.90" stroke="#000" stroke-width="1.7" />
<line x1="512.80" y1="309.50" x2="641.70" y2="309.50" stroke="#333" stroke-width="1.2" />
<text x="577.00" y="308.20" font-size="7.9" text-anchor="middle" fill="#222">* <tspan font-style="italic">P</tspan> = 0.0365</text>
<line x1="512.80" y1="321.30" x2="609.10" y2="321.30" stroke="#333" stroke-width="1.2" />
<text x="562.00" y="320.00" font-size="7.9" text-anchor="middle" fill="#222">* <tspan font-style="italic">P</tspan> = 0.0227</text>
<line x1="512.80" y1="333.70" x2="577.40" y2="333.70" stroke="#333" stroke-width="1.2" />
<text x="544.50" y="332.40" font-size="7.9" text-anchor="middle" fill="#222">** <tspan font-style="italic">P</tspan> = 0.0067</text>
<line x1="512.80" y1="345.50" x2="549.60" y2="345.50" stroke="#333" stroke-width="1.2" />
<text x="533.60" y="344.20" font-size="7.9" text-anchor="middle" fill="#222">** <tspan font-style="italic">P</tspan> = 0.0080</text>
<text x="577.60" y="467.70" font-size="9.3" font-weight="bold" text-anchor="middle" fill="#111" stroke="#111" stroke-width="0.22" >Brain</text>
<text x="471.10" y="388.60" font-size="9.4" font-weight="bold" text-anchor="middle" fill="#111" stroke="#111" stroke-width="0.22" transform="rotate(-90 471.10 388.60)">Hispathology score</text>
<text x="454.50" y="312.40" font-size="12.3" font-weight="bold" text-anchor="start" fill="#111" stroke="#111" stroke-width="0.22" >g</text>
<text x="1.0" y="491.7" font-size="12.3" font-weight="bold" fill="#111">h</text>
<text x="3.4" y="575.7" font-size="12.3" font-weight="bold" fill="#111">i</text>
<g transform="translate(12.3 476.4)"><g filter="url(#LV0)"><rect width="127.5" height="67.2" fill="url(#T1)"/><path d="M16.9,32.5L15.9,35.4L14.2,37.7L11.9,40.2L9.1,40.3L8.0,36.7L6.9,33.9L6.5,30.4L8.3,27.4L10.5,25.7L12.7,23.0L15.6,22.8L16.8,26.2L18.9,28.7ZM4.5,23.6L4.1,25.9L3.3,27.7L2.4,30.1L1.1,29.1L0.1,27.7L-1.5,26.7L-1.7,23.6L-1.2,20.8L-0.4,18.3L0.9,16.7L2.4,17.0L3.3,19.7L5.0,20.4ZM28.3,4.6L26.7,6.3L26.4,8.7L23.7,8.7L21.5,9.4L20.1,7.6L19.0,6.2L18.7,4.6L17.4,2.3L19.3,0.8L21.7,0.6L24.1,-0.7L26.2,0.7L27.9,2.3ZM38.5,26.0L36.9,30.1L33.6,33.9L30.9,32.4L27.2,33.0L26.7,29.0L27.3,24.8L28.5,20.5L31.0,15.9L34.7,13.4L38.2,13.0L40.6,14.9L42.0,18.0L40.6,22.5ZM112.1,14.1L111.6,16.5L109.1,18.2L106.2,19.9L102.4,19.4L98.9,18.5L96.7,16.5L96.3,14.1L98.7,12.3L100.1,10.7L102.3,8.5L105.9,9.1L108.1,10.8L111.6,11.7ZM109.6,30.6L110.2,34.0L107.2,35.0L105.7,38.1L103.2,35.6L101.2,35.0L98.4,33.9L97.9,30.6L99.5,27.9L100.4,24.9L103.1,25.0L105.3,24.9L107.1,26.3L108.6,28.1ZM125.9,3.1L125.0,4.5L123.4,5.9L119.5,6.2L115.4,7.0L111.3,6.2L110.4,4.5L107.3,3.1L108.5,1.4L112.7,0.7L115.7,-0.4L119.6,-0.1L123.9,0.1L127.1,1.3ZM18.0,50.6L17.0,52.4L14.9,53.9L11.5,54.6L7.1,56.3L4.3,54.0L2.5,52.3L-0.0,50.6L0.9,48.5L2.4,46.1L8.0,46.8L12.2,45.2L15.7,46.8L19.3,48.3ZM79.7,42.6L80.0,43.9L79.1,44.8L78.1,46.2L76.5,46.0L75.1,45.4L75.1,43.6L74.9,42.6L74.4,41.2L75.3,40.1L76.8,40.2L78.1,39.3L78.9,40.6L80.2,41.2ZM126.9,56.6L126.9,59.3L124.1,62.0L118.2,63.6L112.3,61.5L105.9,61.7L102.7,59.3L102.3,56.6L102.2,53.8L107.7,52.5L112.5,52.1L117.7,50.6L121.5,52.6L128.1,53.6ZM63.1,18.0L63.1,19.5L61.6,20.1L60.7,21.0L59.2,21.3L58.3,20.2L56.9,19.5L57.5,18.0L57.0,16.6L57.8,15.2L59.3,15.0L60.6,15.3L61.9,15.6L62.2,16.9ZM92.7,8.0L93.7,9.5L92.0,10.1L90.9,11.3L89.2,10.9L87.5,10.7L86.9,9.3L86.9,8.0L87.3,6.9L88.0,5.8L89.3,5.3L90.8,5.0L91.7,6.2L92.5,7.0ZM53.3,55.0L52.5,56.4L51.8,57.7L50.6,58.0L49.2,59.1L48.3,57.5L46.9,56.7L47.1,55.0L47.0,53.3L48.2,52.4L49.3,51.3L50.8,50.9L51.6,52.7L52.9,53.4ZM72.1,30.0L72.1,31.0L71.5,31.9L70.5,32.4L69.4,32.5L68.2,32.2L68.1,30.9L67.8,30.0L68.1,29.1L68.7,28.4L69.5,27.9L70.6,27.2L71.6,28.0L71.9,29.1ZM98.5,48.0L98.3,49.3L97.8,50.7L96.7,51.5L95.5,50.6L94.4,50.5L94.2,49.0L93.6,48.0L94.1,46.9L94.1,45.2L95.3,44.5L96.6,45.1L97.7,45.4L97.9,46.9Z" fill="#fff" stroke="#b850bb" stroke-width="0.7"/></g></g>
<rect x="12.3" y="535.30" width="14.2" height="8.3" fill="#fff"/>
<text x="19.70" y="539.00" font-size="3.6" font-weight="bold" text-anchor="middle" fill="#222">50 µm</text>
<rect x="14.50" y="541.00" width="8.1" height="1.5" fill="#111"/>
<circle cx="19.40" cy="548.50" r="4.60" fill="#2c72b3"/>
<g transform="translate(150.6 476.2)"><g filter="url(#LV1)"><rect width="128" height="67.3" fill="url(#T1)"/><path d="M27.8,45.4L25.9,47.3L24.4,48.7L22.7,51.1L20.1,49.6L18.1,48.6L16.2,47.4L15.8,45.4L16.2,43.4L18.4,42.5L19.7,40.0L22.7,39.9L24.1,42.3L25.3,43.7ZM40.7,54.4L39.9,56.3L37.8,57.3L36.0,58.0L34.0,58.0L32.4,57.1L29.3,56.7L30.5,54.4L29.7,52.3L32.3,51.6L33.9,50.4L36.0,50.8L38.7,50.6L40.6,52.2ZM18.4,34.0L17.9,35.6L16.7,36.7L15.6,38.4L13.6,38.3L12.3,36.9L11.8,35.3L11.1,34.0L11.7,32.6L12.5,31.4L13.8,30.5L15.4,30.7L17.4,30.5L17.5,32.6ZM86.9,27.4L85.7,29.1L84.9,30.5L83.7,31.6L82.1,31.7L80.7,30.9L79.2,29.6L79.0,27.4L80.0,25.6L80.5,23.6L82.2,23.3L83.6,23.6L85.5,23.3L86.8,25.1ZM89.3,17.9L89.4,19.3L88.2,20.6L86.1,21.1L83.9,21.1L82.9,19.7L80.7,19.3L80.0,17.9L81.7,16.8L82.0,15.3L83.9,14.6L85.9,15.2L88.2,15.2L89.2,16.5ZM102.1,4.0L100.8,5.8L100.1,7.9L98.2,9.4L95.8,9.4L93.7,8.1L92.0,6.4L92.6,4.0L91.9,1.5L93.3,-0.6L96.0,-0.4L98.0,-0.6L100.0,0.3L102.0,1.6ZM121.0,38.7L121.0,41.1L119.0,41.9L117.8,43.2L116.2,42.9L114.4,42.8L113.3,40.9L112.4,38.7L113.1,36.4L114.9,35.5L116.3,34.9L117.7,35.0L119.0,35.6L120.9,36.4ZM70.1,59.5L69.2,60.8L67.8,61.4L66.6,62.2L64.9,62.4L63.3,61.9L62.9,60.6L61.3,59.5L62.8,58.4L63.8,57.6L65.0,56.8L66.6,56.9L67.7,57.6L68.6,58.5ZM93.1,54.1L93.6,55.4L91.2,55.9L89.7,57.0L87.3,56.5L84.2,56.8L82.9,55.4L82.9,54.1L82.9,52.8L84.2,51.4L87.3,51.6L89.5,51.6L91.4,52.2L92.9,53.0ZM50.1,6.4L50.4,7.7L49.5,9.0L47.8,9.6L46.0,9.2L44.2,8.9L42.8,7.9L43.6,6.4L43.5,5.2L44.3,4.0L45.9,3.5L47.8,3.1L48.8,4.5L49.9,5.3ZM5.0,22.6L5.0,24.5L3.9,25.6L2.6,25.9L1.4,25.8L0.2,25.4L-0.8,24.3L-1.2,22.6L-1.1,20.7L-0.2,19.1L1.3,18.7L2.7,18.7L3.8,19.7L5.0,20.8ZM128.1,58.6L128.0,61.0L125.3,62.4L122.8,64.1L118.9,65.1L116.6,62.5L114.3,60.9L114.8,58.6L112.8,55.8L115.9,54.1L119.0,52.4L122.6,53.7L125.1,54.9L127.5,56.4ZM57.2,30.0L57.2,31.1L56.8,32.3L55.5,32.0L54.6,32.0L53.6,31.7L52.5,31.2L52.8,30.0L52.6,28.8L53.7,28.3L54.6,28.1L55.4,28.1L56.9,27.7L57.2,28.9ZM107.4,48.0L106.9,48.9L106.8,50.3L105.6,50.5L104.4,50.6L103.7,49.6L103.2,48.9L103.0,48.0L103.2,47.1L103.7,46.4L104.5,45.6L105.5,45.9L106.7,45.9L107.5,46.8Z" fill="#fff" stroke="#b850bb" stroke-width="0.7"/></g></g>
<rect x="150.6" y="535.20" width="14.2" height="8.3" fill="#fff"/>
<text x="158.00" y="538.90" font-size="3.6" font-weight="bold" text-anchor="middle" fill="#222">50 µm</text>
<rect x="152.80" y="540.90" width="8.1" height="1.5" fill="#111"/>
<rect x="153.70" y="544.40" width="8.00" height="8.00" fill="#c9353b"/>
<g transform="translate(284.9 474.4)"><g filter="url(#LV2)"><rect width="127.1" height="67.2" fill="url(#T2)"/><path d="M70.9,29.1L70.4,31.6L68.7,33.5L66.6,33.9L64.9,33.0L64.5,30.7L64.2,28.9L63.0,26.6L65.1,25.2L66.2,22.9L68.2,22.3L69.3,24.3L70.8,24.9L72.1,26.6ZM99.1,32.3L97.3,34.5L95.7,36.3L93.8,38.1L93.3,35.8L92.8,34.5L92.2,32.7L93.5,30.0L94.9,27.9L96.3,26.2L97.7,25.4L98.8,26.0L100.1,26.6L100.2,29.2ZM24.8,20.0L24.6,21.8L24.3,24.1L22.6,23.8L21.3,24.3L20.1,23.3L18.6,22.3L18.3,20.0L18.5,17.6L20.0,16.5L21.2,15.3L22.7,15.9L24.3,15.9L24.8,18.1ZM48.3,50.0L48.2,51.1L47.6,52.4L45.8,52.6L44.1,52.8L42.9,52.0L41.2,51.4L41.3,50.0L42.1,49.0L42.2,47.4L43.9,46.4L46.0,46.7L47.2,47.9L48.2,48.8ZM114.7,55.0L113.1,56.1L112.7,57.6L110.7,57.4L109.0,58.2L107.1,57.7L105.8,56.5L105.2,55.0L106.6,53.8L107.9,53.0L109.2,52.4L110.9,52.2L112.1,53.0L113.0,53.9ZM10.8,45.0L10.1,46.4L10.1,48.5L8.8,49.6L7.4,48.4L5.9,48.5L4.9,47.0L5.3,45.0L4.7,42.9L6.3,42.2L7.2,40.6L8.6,41.5L10.2,41.3L10.7,43.2ZM83.3,52.0L83.1,53.5L81.5,53.9L80.8,55.3L79.4,54.7L77.9,54.7L77.8,53.1L77.5,52.0L77.4,50.8L78.4,49.9L79.4,49.3L80.6,49.5L81.8,49.7L82.5,50.8Z" fill="#fff" stroke="#b850bb" stroke-width="0.7"/></g></g>
<path d="M362.2,474.7 a8.4,8.6 0 0,0 16.8,0" fill="#fff" stroke="#a23cae" stroke-width="2.3"/>
<rect x="284.9" y="533.30" width="14.2" height="8.3" fill="#fff"/>
<text x="292.30" y="537.00" font-size="3.6" font-weight="bold" text-anchor="middle" fill="#222">50 µm</text>
<rect x="287.10" y="539.00" width="8.1" height="1.5" fill="#111"/>
<path d="M292.00,541.44L296.83,550.64L287.17,550.64Z" fill="#3f9b41"/>
<g transform="translate(419.4 474.4)"><g filter="url(#LV3)"><rect width="127.1" height="67.2" fill="url(#T3)"/><path d="M23.5,30.0L22.5,31.2L21.8,32.3L20.6,32.6L19.3,33.2L18.1,32.4L17.1,31.4L16.8,30.0L16.8,28.4L17.9,27.4L19.5,27.7L20.7,26.8L21.5,28.1L22.4,28.9ZM48.1,49.7L47.5,50.5L46.1,50.5L44.6,50.9L43.5,49.4L41.4,48.6L40.7,47.1L41.2,45.9L41.9,44.9L43.5,44.5L45.3,45.8L47.1,46.2L48.6,47.4L48.9,48.8ZM74.7,20.0L75.0,21.7L74.0,23.0L72.7,23.7L71.3,23.7L70.3,22.5L68.9,21.8L69.4,20.0L69.2,18.4L70.6,17.9L71.5,17.4L72.7,16.5L74.1,16.9L75.3,18.1ZM102.0,40.0L100.5,41.0L99.9,42.0L98.9,43.3L97.3,42.7L95.4,42.8L94.4,41.5L94.7,40.0L94.3,38.5L95.7,37.5L97.2,36.9L98.7,37.5L99.8,38.1L100.6,38.9ZM117.8,15.0L117.4,16.2L117.0,17.5L115.8,18.3L114.3,18.1L113.5,16.9L112.4,16.3L112.2,15.0L111.8,13.5L112.8,12.3L114.5,12.6L115.5,12.6L116.7,12.8L117.9,13.6ZM62.3,58.0L62.3,58.9L61.5,59.6L60.7,60.6L59.3,60.5L58.5,59.5L57.6,59.0L56.5,58.0L57.5,57.0L57.8,55.7L59.3,55.6L60.6,55.8L62.0,55.9L62.6,56.9ZM34.8,10.0L34.2,11.1L33.8,12.3L32.4,12.0L31.5,12.1L30.3,12.1L30.1,10.9L29.3,10.0L30.0,9.1L30.6,8.3L31.5,7.6L32.6,7.2L33.9,7.6L34.5,8.8ZM89.5,60.0L88.8,61.1L87.8,61.9L86.7,62.5L85.4,62.1L84.2,61.9L82.9,61.2L83.0,60.0L83.7,59.1L84.3,58.2L85.3,57.6L86.6,57.8L87.6,58.3L89.3,58.7ZM11.4,12.0L10.3,12.9L9.7,13.8L8.7,14.4L7.5,14.0L6.4,13.7L4.9,13.2L5.5,12.0L5.0,10.8L6.5,10.5L7.2,9.2L8.7,9.6L9.9,10.0L10.3,11.1ZM32.9,55.0L32.2,56.2L31.5,57.3L30.5,57.4L29.5,57.9L28.7,56.9L27.5,56.4L27.8,55.0L27.7,53.7L28.7,53.0L29.5,52.3L30.5,52.5L31.5,52.7L32.6,53.5ZM57.9,10.9L57.6,12.1L56.1,12.1L54.9,12.4L53.8,11.8L52.3,11.5L51.7,10.3L51.6,9.0L52.6,8.1L53.9,7.9L55.1,7.0L56.5,7.7L57.7,8.5L57.4,9.8ZM68.4,41.6L68.4,43.2L66.7,42.8L65.1,43.0L64.3,41.3L63.7,40.3L62.7,39.1L62.8,37.8L63.8,37.0L65.3,37.2L66.6,37.9L67.8,38.6L68.5,39.7L69.2,40.9ZM84.8,8.0L84.1,9.0L83.5,9.9L82.5,10.2L81.5,10.2L80.7,9.7L79.9,9.0L79.6,8.0L80.0,7.0L80.4,6.0L81.4,5.5L82.5,5.9L83.2,6.4L84.2,6.9ZM111.4,56.0L110.5,57.0L109.6,57.7L108.7,58.6L107.3,58.6L105.9,58.2L105.8,56.9L105.5,56.0L105.2,54.9L105.9,53.8L107.4,53.8L108.6,53.9L110.1,53.8L111.2,54.7ZM122.1,40.0L122.1,41.2L121.3,42.0L120.5,42.6L119.4,43.1L118.7,42.0L117.7,41.3L117.9,40.0L117.7,38.7L118.1,37.2L119.4,36.9L120.6,37.0L121.4,37.9L122.4,38.6ZM42.4,32.0L42.6,33.3L41.3,33.7L40.5,34.1L39.5,34.0L38.7,33.7L37.8,33.0L37.7,32.0L38.0,31.1L38.7,30.4L39.5,29.8L40.5,29.9L41.9,29.7L42.4,30.8ZM97.3,25.0L96.8,25.8L96.4,26.7L95.7,27.9L94.4,27.6L93.7,26.7L92.6,26.2L92.3,25.0L93.1,24.1L93.1,22.7L94.5,23.0L95.5,22.6L96.3,23.4L97.0,24.0Z" fill="#fff" stroke="#b850bb" stroke-width="0.7"/></g></g>
<rect x="419.4" y="533.30" width="14.2" height="8.3" fill="#fff"/>
<text x="426.80" y="537.00" font-size="3.6" font-weight="bold" text-anchor="middle" fill="#222">50 µm</text>
<rect x="421.60" y="539.00" width="8.1" height="1.5" fill="#111"/>
<path d="M426.50,551.56L431.33,542.36L421.67,542.36Z" fill="#8b6bb3"/>
<g transform="translate(552.2 474.2)"><g filter="url(#LV4)"><rect width="128.7" height="67.4" fill="url(#T2)"/><path d="M24.6,20.0L23.1,21.5L22.5,23.1L20.9,23.9L19.2,23.4L17.8,22.8L16.3,21.8L16.5,20.0L16.3,18.2L18.0,17.5L19.0,15.8L21.0,15.7L22.6,16.7L24.2,18.0ZM54.4,36.0L53.3,37.2L53.4,39.3L51.1,39.9L49.2,38.8L47.4,38.6L46.7,37.2L45.2,36.0L46.6,34.7L47.8,33.9L48.8,32.0L50.9,33.0L52.8,33.2L53.2,34.8ZM84.3,15.0L82.9,16.4L82.1,17.6L80.8,18.7L79.3,18.1L77.2,18.5L76.3,16.8L76.8,15.0L76.8,13.5L77.5,11.9L79.1,10.9L81.0,10.7L82.2,12.2L83.1,13.5ZM100.8,45.0L98.9,46.3L97.5,47.2L96.2,48.5L93.6,49.2L91.7,47.9L89.9,46.7L89.2,45.0L90.7,43.6L92.3,42.7L93.8,41.2L96.2,41.4L98.6,41.9L98.8,43.7ZM34.9,52.0L34.2,53.5L32.9,54.7L30.8,54.6L29.0,55.2L27.2,54.6L26.3,53.3L25.3,52.0L27.1,51.0L27.2,49.4L29.0,48.6L30.9,49.2L32.6,49.5L32.9,50.9ZM68.1,58.0L68.1,59.3L66.9,60.0L65.7,60.6L64.3,60.5L62.5,60.6L61.6,59.4L60.9,58.0L61.3,56.5L62.4,55.2L64.2,55.0L66.0,54.4L67.5,55.4L67.6,56.9ZM123.3,25.0L123.6,27.0L122.3,28.3L120.9,29.6L119.2,29.0L118.0,27.8L116.6,26.9L115.8,25.0L117.0,23.4L118.3,22.5L119.4,21.9L120.9,20.3L122.2,21.8L122.5,23.6Z" fill="#fff" stroke="#b850bb" stroke-width="0.7"/></g></g>
<ellipse cx="660.1" cy="523.5" rx="5.6" ry="4.9" fill="none" stroke="#b458c0" stroke-width="3.5" opacity="0.6"/><ellipse cx="660.1" cy="523.5" rx="4.9" ry="4.3" fill="#fff" stroke="#9a36ae" stroke-width="2.0"/>
<rect x="552.2" y="533.30" width="14.2" height="8.3" fill="#fff"/>
<text x="559.60" y="537.00" font-size="3.6" font-weight="bold" text-anchor="middle" fill="#222">50 µm</text>
<rect x="554.40" y="539.00" width="8.1" height="1.5" fill="#111"/>
<path d="M559.30,541.44L564.36,546.50L559.30,551.56L554.24,546.50Z" fill="#ee7d2d"/>
<rect x="14.1" y="558.1" width="127.8" height="135.5" fill="#eba2e8"/>
<rect x="14.1" y="558.1" width="127.8" height="135.5" filter="url(#mot)" opacity="0.5"/>
<rect x="14.1" y="558.1" width="127.8" height="36" fill="url(#ug)"/>
<path d="M88.7,582.4l4.0,2.4M102.7,587.8l1.6,-0.1M127.1,579.6l4.6,-2.3M70.3,567.5l3.7,0.3M15.7,566.6l2.3,1.3M105.8,564.9l4.3,-2.0M88.1,563.9l1.4,0.6M39.2,566.6l4.9,2.3M48.8,588.9l3.6,0.8M38.6,588.3l3.6,2.3M121.2,569.1l2.7,-1.1M31.6,562.1l2.7,0.3M14.5,580.4l2.8,-0.6M112.2,574.5l2.8,-0.1M98.5,561.8l4.5,-2.9M103.9,585.4l1.5,0.5M58.0,577.5l1.3,-0.8M35.8,588.8l2.2,0.7M125.5,588.4l2.8,-0.5M77.0,583.4l1.8,0.6M109.6,585.9l1.4,0.8M25.0,570.3l3.5,1.9M54.8,587.8l3.6,-0.8M52.1,565.4l1.7,-0.7M96.7,590.0l1.8,-1.1M132.3,576.1l3.0,-1.0" stroke="#fbeefa" stroke-width="0.8" stroke-linecap="round" opacity="0.8" fill="none"/>
<g clip-path="url(#bc0)">
<path d="M14.1,622.0C19.4,621.8 35.4,621.2 46.0,621.0C56.7,620.8 67.3,620.5 78.0,620.5C88.7,620.5 99.3,620.5 109.9,621.0C120.6,621.5 136.6,623.1 141.9,623.5L141.9,633.3C136.6,632.8 120.6,630.5 109.9,630.2C99.3,629.9 88.7,631.0 78.0,631.7C67.3,632.4 56.7,632.8 46.0,634.3C35.4,635.8 19.4,639.5 14.1,640.5Z" fill="#b08bce" filter="url(#soft2)" opacity="0.9"/>
<path d="M14.1,622.0C19.4,621.8 35.4,621.2 46.0,621.0C56.7,620.8 67.3,620.5 78.0,620.5C88.7,620.5 99.3,620.5 109.9,621.0C120.6,621.5 136.6,623.1 141.9,623.5L141.9,633.3C136.6,632.8 120.6,630.5 109.9,630.2C99.3,629.9 88.7,631.0 78.0,631.7C67.3,632.4 56.7,632.8 46.0,634.3C35.4,635.8 19.4,639.5 14.1,640.5Z" fill="#b08bce" opacity="0.6"/>
<path d="M90.0,629.1h1.4v1.3h-1.4zM94.7,628.6h1.4v1.3h-1.4zM123.0,630.8h1.4v1.3h-1.4zM76.5,628.7h1.4v1.3h-1.4zM51.3,626.3h1.4v1.3h-1.4zM94.2,625.7h1.4v1.3h-1.4zM113.1,627.5h1.4v1.3h-1.4zM97.1,626.5h1.4v1.3h-1.4zM84.0,623.0h1.4v1.3h-1.4zM73.3,629.8h1.4v1.3h-1.4zM116.0,624.4h1.4v1.3h-1.4zM108.4,628.4h1.4v1.3h-1.4zM121.8,629.8h1.4v1.3h-1.4zM138.8,632.1h1.4v1.3h-1.4zM133.9,627.3h1.4v1.3h-1.4zM106.1,627.6h1.4v1.3h-1.4zM113.8,626.5h1.4v1.3h-1.4zM95.5,627.9h1.4v1.3h-1.4zM34.6,628.5h1.4v1.3h-1.4zM42.1,630.9h1.4v1.3h-1.4zM19.4,630.9h1.4v1.3h-1.4zM21.0,624.0h1.4v1.3h-1.4zM37.3,624.1h1.4v1.3h-1.4zM73.6,624.9h1.4v1.3h-1.4zM14.2,630.4h1.4v1.3h-1.4zM61.9,619.6h1.4v1.3h-1.4zM26.2,631.2h1.4v1.3h-1.4zM67.7,630.2h1.4v1.3h-1.4zM61.3,621.9h1.4v1.3h-1.4zM14.2,623.8h1.4v1.3h-1.4zM92.7,621.3h1.4v1.3h-1.4zM128.0,625.7h1.4v1.3h-1.4zM77.5,625.2h1.4v1.3h-1.4zM139.9,628.0h1.4v1.3h-1.4zM75.1,621.1h1.4v1.3h-1.4zM119.8,619.8h1.4v1.3h-1.4zM45.5,624.6h1.4v1.3h-1.4zM140.5,625.9h1.4v1.3h-1.4zM74.8,627.9h1.4v1.3h-1.4zM52.5,628.0h1.4v1.3h-1.4zM52.0,628.0h1.4v1.3h-1.4zM60.2,630.0h1.4v1.3h-1.4zM18.8,626.9h1.4v1.3h-1.4zM131.2,630.8h1.4v1.3h-1.4zM16.0,636.4h1.4v1.3h-1.4zM87.7,628.0h1.4v1.3h-1.4zM75.7,630.6h1.4v1.3h-1.4zM64.2,630.8h1.4v1.3h-1.4zM52.0,631.5h1.4v1.3h-1.4zM121.0,628.2h1.4v1.3h-1.4zM32.3,629.4h1.4v1.3h-1.4zM77.7,624.1h1.4v1.3h-1.4zM89.0,629.0h1.4v1.3h-1.4zM20.3,636.6h1.4v1.3h-1.4zM33.2,631.2h1.4v1.3h-1.4zM34.7,631.2h1.4v1.3h-1.4zM27.9,628.3h1.4v1.3h-1.4zM126.4,622.6h1.4v1.3h-1.4zM54.3,628.7h1.4v1.3h-1.4zM134.0,626.2h1.4v1.3h-1.4zM103.2,621.5h1.4v1.3h-1.4zM78.7,630.3h1.4v1.3h-1.4zM93.4,623.0h1.4v1.3h-1.4zM46.6,631.0h1.4v1.3h-1.4zM31.2,625.4h1.4v1.3h-1.4zM97.8,620.4h1.4v1.3h-1.4zM25.8,623.5h1.4v1.3h-1.4zM44.6,632.7h1.4v1.3h-1.4zM55.4,630.9h1.4v1.3h-1.4zM106.8,619.9h1.4v1.3h-1.4zM135.8,629.5h1.4v1.3h-1.4zM28.9,636.8h1.4v1.3h-1.4zM119.0,622.1h1.4v1.3h-1.4zM59.4,623.5h1.4v1.3h-1.4zM92.5,624.1h1.4v1.3h-1.4zM31.5,634.5h1.4v1.3h-1.4zM80.2,627.1h1.4v1.3h-1.4zM108.7,624.4h1.4v1.3h-1.4zM18.3,625.8h1.4v1.3h-1.4zM93.3,625.0h1.4v1.3h-1.4zM26.8,624.1h1.4v1.3h-1.4zM33.5,625.5h1.4v1.3h-1.4zM34.7,626.0h1.4v1.3h-1.4zM61.3,631.9h1.4v1.3h-1.4zM29.2,632.6h1.4v1.3h-1.4zM100.3,627.8h1.4v1.3h-1.4zM39.8,619.9h1.4v1.3h-1.4zM60.7,624.6h1.4v1.3h-1.4zM35.0,625.2h1.4v1.3h-1.4zM134.3,629.0h1.4v1.3h-1.4zM138.8,621.1h1.4v1.3h-1.4zM113.7,624.8h1.4v1.3h-1.4zM84.2,630.8h1.4v1.3h-1.4zM58.8,621.1h1.4v1.3h-1.4zM21.0,626.5h1.4v1.3h-1.4zM64.9,620.2h1.4v1.3h-1.4zM66.2,624.3h1.4v1.3h-1.4zM18.9,638.7h1.4v1.3h-1.4zM79.1,625.0h1.4v1.3h-1.4zM24.9,627.5h1.4v1.3h-1.4zM83.4,630.2h1.4v1.3h-1.4zM123.6,623.5h1.4v1.3h-1.4zM83.1,625.9h1.4v1.3h-1.4zM130.8,625.2h1.4v1.3h-1.4zM119.7,623.3h1.4v1.3h-1.4zM118.8,624.2h1.4v1.3h-1.4zM24.6,626.2h1.4v1.3h-1.4zM68.9,627.5h1.4v1.3h-1.4zM22.0,634.2h1.4v1.3h-1.4zM39.6,625.5h1.4v1.3h-1.4zM26.7,629.2h1.4v1.3h-1.4zM97.7,628.2h1.4v1.3h-1.4zM70.6,630.0h1.4v1.3h-1.4zM48.3,631.6h1.4v1.3h-1.4zM30.7,621.6h1.4v1.3h-1.4zM47.7,630.0h1.4v1.3h-1.4zM22.2,635.1h1.4v1.3h-1.4zM17.6,621.9h1.4v1.3h-1.4zM92.3,622.6h1.4v1.3h-1.4zM60.4,624.9h1.4v1.3h-1.4zM26.3,631.0h1.4v1.3h-1.4zM115.7,621.5h1.4v1.3h-1.4zM131.0,626.9h1.4v1.3h-1.4zM82.2,630.7h1.4v1.3h-1.4zM27.3,635.0h1.4v1.3h-1.4zM20.8,638.4h1.4v1.3h-1.4zM64.3,623.0h1.4v1.3h-1.4zM39.8,629.6h1.4v1.3h-1.4zM110.1,622.7h1.4v1.3h-1.4zM122.7,627.7h1.4v1.3h-1.4zM32.4,634.3h1.4v1.3h-1.4zM18.9,625.0h1.4v1.3h-1.4zM105.8,629.1h1.4v1.3h-1.4zM116.0,624.1h1.4v1.3h-1.4zM62.2,618.8h1.4v1.3h-1.4zM89.1,622.0h1.4v1.3h-1.4zM54.6,619.5h1.4v1.3h-1.4zM132.2,629.2h1.4v1.3h-1.4zM82.7,629.1h1.4v1.3h-1.4zM90.0,627.7h1.4v1.3h-1.4zM50.4,620.9h1.4v1.3h-1.4zM49.2,630.4h1.4v1.3h-1.4zM108.5,626.5h1.4v1.3h-1.4zM80.1,630.1h1.4v1.3h-1.4zM138.7,628.4h1.4v1.3h-1.4zM14.5,630.1h1.4v1.3h-1.4zM92.5,624.5h1.4v1.3h-1.4zM61.9,631.4h1.4v1.3h-1.4zM53.2,624.3h1.4v1.3h-1.4zM128.8,623.3h1.4v1.3h-1.4zM112.1,622.6h1.4v1.3h-1.4zM107.1,624.6h1.4v1.3h-1.4zM81.7,630.1h1.4v1.3h-1.4zM38.0,620.2h1.4v1.3h-1.4zM86.0,627.0h1.4v1.3h-1.4zM38.4,630.2h1.4v1.3h-1.4zM102.3,627.7h1.4v1.3h-1.4zM54.8,631.5h1.4v1.3h-1.4zM132.5,624.4h1.4v1.3h-1.4zM121.5,626.2h1.4v1.3h-1.4zM38.8,623.2h1.4v1.3h-1.4zM33.5,631.2h1.4v1.3h-1.4zM27.3,622.8h1.4v1.3h-1.4zM40.5,626.8h1.4v1.3h-1.4zM101.1,627.9h1.4v1.3h-1.4zM65.6,627.3h1.4v1.3h-1.4zM29.1,631.6h1.4v1.3h-1.4zM106.3,623.3h1.4v1.3h-1.4zM131.5,626.1h1.4v1.3h-1.4zM87.7,623.5h1.4v1.3h-1.4zM122.5,626.7h1.4v1.3h-1.4zM67.9,623.2h1.4v1.3h-1.4zM23.5,626.8h1.4v1.3h-1.4zM75.1,631.3h1.4v1.3h-1.4zM63.5,631.7h1.4v1.3h-1.4zM59.6,630.7h1.4v1.3h-1.4zM112.0,624.2h1.4v1.3h-1.4zM46.2,627.4h1.4v1.3h-1.4zM80.1,619.7h1.4v1.3h-1.4zM138.6,627.4h1.4v1.3h-1.4zM101.9,625.7h1.4v1.3h-1.4zM64.3,630.0h1.4v1.3h-1.4zM90.0,629.8h1.4v1.3h-1.4zM95.4,619.5h1.4v1.3h-1.4zM119.6,630.0h1.4v1.3h-1.4zM33.0,633.6h1.4v1.3h-1.4zM138.3,632.4h1.4v1.3h-1.4z" fill="#5e3f9c" opacity="0.8" filter="url(#soft)"/>
<path d="M68.0,620.0h1.5v1.4h-1.5zM18.3,631.5h1.5v1.4h-1.5zM30.8,633.3h1.5v1.4h-1.5zM69.6,621.8h1.5v1.4h-1.5zM51.8,627.0h1.5v1.4h-1.5zM62.3,632.4h1.5v1.4h-1.5zM25.5,626.6h1.5v1.4h-1.5zM125.0,625.3h1.5v1.4h-1.5zM111.2,624.1h1.5v1.4h-1.5zM50.0,627.5h1.5v1.4h-1.5zM102.4,623.3h1.5v1.4h-1.5zM81.7,621.7h1.5v1.4h-1.5zM67.9,628.1h1.5v1.4h-1.5zM89.5,622.7h1.5v1.4h-1.5zM66.5,621.3h1.5v1.4h-1.5zM88.3,630.3h1.5v1.4h-1.5zM86.2,630.4h1.5v1.4h-1.5zM91.9,624.1h1.5v1.4h-1.5zM43.0,625.3h1.5v1.4h-1.5zM62.6,632.1h1.5v1.4h-1.5zM90.2,623.0h1.5v1.4h-1.5zM70.8,623.9h1.5v1.4h-1.5zM49.1,632.9h1.5v1.4h-1.5zM109.1,621.0h1.5v1.4h-1.5zM50.7,631.0h1.5v1.4h-1.5zM43.5,632.3h1.5v1.4h-1.5zM98.9,619.2h1.5v1.4h-1.5zM139.2,632.5h1.5v1.4h-1.5zM96.6,629.9h1.5v1.4h-1.5zM31.3,626.4h1.5v1.4h-1.5zM21.5,632.4h1.5v1.4h-1.5zM108.3,621.9h1.5v1.4h-1.5zM116.9,625.4h1.5v1.4h-1.5zM127.7,626.8h1.5v1.4h-1.5zM14.2,631.6h1.5v1.4h-1.5zM62.0,625.6h1.5v1.4h-1.5zM75.7,619.2h1.5v1.4h-1.5zM100.2,625.3h1.5v1.4h-1.5zM24.1,629.1h1.5v1.4h-1.5zM50.3,630.5h1.5v1.4h-1.5zM129.0,627.0h1.5v1.4h-1.5zM62.2,628.5h1.5v1.4h-1.5zM53.9,621.1h1.5v1.4h-1.5zM110.2,626.0h1.5v1.4h-1.5zM136.1,629.9h1.5v1.4h-1.5zM59.7,631.2h1.5v1.4h-1.5zM88.8,629.1h1.5v1.4h-1.5zM104.8,625.0h1.5v1.4h-1.5zM70.5,629.5h1.5v1.4h-1.5zM87.8,625.7h1.5v1.4h-1.5zM45.8,633.7h1.5v1.4h-1.5zM124.4,627.9h1.5v1.4h-1.5zM63.0,626.7h1.5v1.4h-1.5zM65.1,632.1h1.5v1.4h-1.5zM59.6,628.1h1.5v1.4h-1.5zM105.4,623.5h1.5v1.4h-1.5zM110.4,627.0h1.5v1.4h-1.5zM128.8,628.9h1.5v1.4h-1.5zM97.6,629.4h1.5v1.4h-1.5zM102.1,626.1h1.5v1.4h-1.5zM86.4,629.3h1.5v1.4h-1.5zM50.0,629.0h1.5v1.4h-1.5zM76.0,629.8h1.5v1.4h-1.5zM111.0,627.6h1.5v1.4h-1.5zM116.8,628.0h1.5v1.4h-1.5zM136.4,629.0h1.5v1.4h-1.5zM101.5,625.5h1.5v1.4h-1.5zM134.9,622.3h1.5v1.4h-1.5zM75.3,624.5h1.5v1.4h-1.5zM77.8,628.3h1.5v1.4h-1.5zM25.0,626.8h1.5v1.4h-1.5zM112.4,624.8h1.5v1.4h-1.5zM141.8,630.7h1.5v1.4h-1.5z" fill="#d8c2ea" opacity="0.45" filter="url(#soft)"/>
</g>
<path d="M67.5,568.0L67.3,566.5L68.7,565.9L69.0,567.4zM31.0,565.0L29.7,564.4L30.2,563.0L31.5,563.7zM127.3,585.2L127.6,584.1L128.7,584.3L128.4,585.5zM135.1,576.7L135.8,575.7L136.9,576.2L136.2,577.2zM133.8,560.8L132.4,560.5L132.3,559.2L133.6,559.5zM109.9,571.2L108.8,569.8L110.0,568.6L111.1,570.0zM137.4,580.2L137.1,579.1L138.1,578.7L138.4,579.8zM60.8,569.9L62.2,568.8L63.7,569.6L62.4,570.8zM44.6,576.5L44.8,575.0L46.2,574.7L46.0,576.2zM31.1,573.8L31.2,572.2L32.8,572.3L32.6,573.9zM69.5,574.0L67.6,574.8L66.1,573.4L68.0,572.7zM79.3,560.3L78.0,561.1L76.9,560.1L78.1,559.3zM53.3,573.9L51.6,572.6L51.8,570.4L53.6,571.7zM79.6,579.9L81.7,578.5L84.0,579.7L81.8,581.0zM53.3,565.3L51.8,564.1L52.8,562.6L54.3,563.7zM108.7,575.7L107.0,575.0L106.8,573.1L108.5,573.9zM84.5,584.2L83.7,583.2L84.5,582.2L85.3,583.1zM87.3,565.4L86.0,566.0L85.3,564.8L86.6,564.2zM59.1,564.5L57.2,564.1L57.1,562.1L59.1,562.4zM113.1,581.9L112.9,580.3L114.2,579.3L114.5,580.9zM63.0,577.7L63.7,576.6L64.9,576.9L64.3,578.1zM71.2,585.3L70.2,585.9L69.4,585.0L70.4,584.3zM107.5,575.8L107.8,574.8L108.8,575.0L108.5,576.0zM78.3,584.8L77.0,585.0L76.3,584.0L77.6,583.7zM104.6,577.0L105.6,575.8L107.1,576.6L106.0,577.9zM30.2,561.2L28.8,562.0L27.9,560.7L29.3,559.9zM74.9,578.3L72.7,579.1L71.1,577.5L73.3,576.7zM96.9,584.5L95.4,584.1L95.2,582.7L96.6,583.0zM51.1,559.6L52.3,558.0L54.2,558.6L53.0,560.2zM72.7,563.8L73.5,562.8L74.7,563.4L73.8,564.4zM41.1,562.6L40.0,561.9L40.7,560.7L41.8,561.4zM93.3,578.9L92.5,578.0L93.3,577.1L94.1,577.9zM103.2,572.9L101.1,573.0L99.9,571.3L102.0,571.1zM48.5,575.2L47.8,573.2L49.1,571.7L49.8,573.6zM99.6,572.8L97.5,572.0L97.2,569.7L99.4,570.6zM29.7,567.8L28.0,567.2L27.6,565.5L29.3,566.0zM93.2,578.6L93.4,576.7L95.3,576.8L95.1,578.6zM57.0,563.8L56.4,561.8L57.9,560.3L58.5,562.4zM20.5,588.4L20.7,586.7L22.3,586.2L22.1,587.9zM48.8,571.1L47.7,571.8L46.9,570.7L48.1,570.1zM106.0,572.0L104.3,571.7L104.5,570.0L106.3,570.3zM37.7,588.5L36.6,586.4L37.8,584.4L38.9,586.5zM28.0,572.0L27.4,571.0L28.4,570.3L29.0,571.3zM49.8,562.5L51.4,561.2L53.3,561.9L51.8,563.2zM73.6,563.3L72.6,561.9L73.9,560.8L74.9,562.2zM26.5,588.8L24.9,588.4L24.7,586.7L26.4,587.1zM84.4,588.4L83.5,587.3L84.5,586.2L85.4,587.4zM131.6,571.8L129.7,570.7L129.6,568.6L131.5,569.6zM116.3,574.6L117.0,573.7L117.9,574.3L117.3,575.2zM73.7,573.8L72.5,572.0L73.7,570.1L75.0,572.0zM50.0,581.5L50.3,580.1L51.7,579.9L51.4,581.3zM90.4,564.0L90.6,562.5L92.0,562.0L91.8,563.5zM28.9,588.3L27.8,588.8L27.2,587.8L28.2,587.3zM70.5,578.2L70.3,576.4L72.1,576.0L72.2,577.8zM29.4,576.1L28.2,576.8L27.3,575.8L28.5,575.1zM105.3,564.1L104.6,562.3L106.2,561.2L106.9,563.0zM96.8,574.9L94.5,574.0L94.2,571.6L96.4,572.5zM57.4,585.5L56.3,584.7L56.8,583.5L57.8,584.3zM136.8,564.1L137.1,562.1L139.1,561.5L138.8,563.5zM14.5,587.8L14.5,586.0L16.0,585.2L16.0,586.9z" fill="#6a48a8" opacity="0.8" filter="url(#soft)"/>
<path d="M67.1,587.8L67.2,586.0L69.0,585.7L68.9,587.5zM80.2,583.4L78.1,583.5L77.1,581.7L79.2,581.6zM75.7,560.1L76.7,558.1L79.0,558.2L77.9,560.2zM21.4,577.4L19.9,577.6L19.7,576.1L21.1,576.0zM137.0,588.5L136.9,586.9L138.3,586.0L138.4,587.6zM64.5,580.4L63.5,581.2L62.5,580.3L63.5,579.5zM98.0,579.9L96.6,578.5L97.4,576.7L98.8,578.1zM52.7,584.3L53.0,582.7L54.6,582.4L54.3,584.0zM70.2,582.2L70.7,581.1L71.8,581.3L71.4,582.4zM34.7,561.3L33.4,561.6L32.6,560.6L33.9,560.3zM72.6,575.2L71.5,573.5L72.8,571.9L73.9,573.6zM16.7,586.2L17.6,584.3L19.7,584.5L18.8,586.4zM94.2,582.8L92.3,583.9L90.5,582.6L92.4,581.5zM126.8,592.5L125.7,592.2L126.0,591.0L127.1,591.4zM28.6,571.3L27.7,572.0L26.8,571.3L27.7,570.5zM70.3,569.7L68.5,570.0L67.7,568.3L69.6,568.0zM135.4,589.9L134.0,589.0L134.6,587.4L136.1,588.3zM71.1,573.2L71.4,572.1L72.6,571.9L72.3,573.1zM100.7,588.2L101.9,586.5L104.0,586.8L102.8,588.5zM129.8,586.5L129.6,584.8L131.2,584.0L131.3,585.7zM126.7,583.6L125.3,583.1L125.6,581.7L127.0,582.2zM46.5,582.9L45.4,581.5L46.7,580.3L47.7,581.7zM121.3,572.2L120.1,571.5L120.3,570.1L121.5,570.8zM33.4,569.4L32.5,568.8L33.0,567.8L33.9,568.4zM26.7,560.2L27.8,558.4L29.9,558.4L28.8,560.2zM57.0,589.6L56.1,590.4L55.3,589.6L56.1,588.9zM21.2,579.9L21.8,578.0L23.8,578.0L23.1,579.9zM73.2,590.2L71.3,590.3L70.6,588.6L72.4,588.5zM69.6,574.8L67.8,574.3L67.9,572.5L69.7,572.9zM117.2,562.5L116.9,560.9L118.4,560.4L118.7,561.9zM90.7,563.5L88.9,562.8L89.1,560.9L90.8,561.6zM124.1,585.3L122.5,585.6L121.6,584.3L123.2,584.0zM79.6,563.5L79.4,561.4L81.2,560.1L81.4,562.3zM21.4,576.6L19.8,576.9L19.0,575.4L20.7,575.2zM50.9,574.7L49.6,574.5L49.3,573.1L50.6,573.4zM52.6,563.3L50.9,562.6L50.7,560.9L52.3,561.6zM27.8,571.7L26.1,571.1L26.5,569.3L28.3,569.9zM40.4,582.0L41.0,580.7L42.4,581.2L41.8,582.5zM58.0,582.0L56.2,582.7L54.8,581.4L56.6,580.8zM43.8,569.9L42.9,568.5L43.8,567.1L44.7,568.5z" fill="#9a7cc4" opacity="0.6" filter="url(#soft)"/>
<path d="M58.9,645.3L57.9,644.2L58.5,642.8L59.6,643.9zM98.6,655.1L97.5,655.3L96.9,654.3L98.0,654.1zM70.1,681.5L69.7,680.5L70.6,679.9L70.9,680.9zM90.5,611.5L89.3,612.1L88.3,611.2L89.5,610.7zM29.7,668.7L28.6,669.4L27.9,668.3L29.0,667.6zM94.0,622.9L93.1,622.2L93.8,621.3L94.7,622.0zM34.4,627.3L35.1,626.1L36.5,626.3L35.8,627.5zM121.1,656.1L120.1,655.2L120.9,654.1L121.9,655.0zM55.7,656.5L54.8,655.9L54.9,654.8L55.8,655.4zM112.6,687.5L113.3,686.1L114.8,686.4L114.1,687.8zM140.7,608.2L139.7,607.0L140.3,605.6L141.4,606.8zM50.4,612.3L49.4,611.4L49.7,610.0L50.7,611.0zM47.4,656.1L46.5,655.2L47.1,654.1L47.9,655.0zM52.1,598.5L50.5,598.2L50.2,596.7L51.7,597.0zM77.0,652.1L77.5,650.8L78.9,650.5L78.4,651.9zM52.8,627.6L53.5,626.7L54.5,627.3L53.8,628.2zM21.7,643.4L20.7,643.9L19.9,643.2L20.9,642.7zM43.4,692.5L42.5,691.6L43.2,690.5L44.2,691.4zM19.8,607.0L18.7,606.4L18.6,605.2L19.7,605.8zM45.6,601.3L45.9,600.2L46.9,599.8L46.7,600.9zM131.8,676.9L130.4,677.2L130.0,675.9L131.3,675.7zM49.1,601.5L48.5,600.6L49.0,599.6L49.6,600.5zM15.4,625.2L15.8,623.5L17.4,623.0L17.1,624.7zM106.9,684.9L106.4,683.7L107.3,683.0L107.8,684.1zM51.4,598.0L50.4,598.3L49.8,597.4L50.9,597.1zM25.3,619.6L24.6,618.5L25.2,617.3L25.9,618.4zM120.7,668.3L119.7,667.7L120.1,666.5L121.1,667.2zM55.9,657.7L54.3,657.1L54.1,655.4L55.7,656.1zM34.8,595.0L33.9,595.7L33.0,595.0L33.9,594.2zM52.9,617.5L52.5,616.4L53.3,615.7L53.7,616.8z" fill="#5f449e" opacity="0.8" filter="url(#soft)"/>
<path d="M51.7,666.5L50.3,666.7L49.4,665.6L50.8,665.4zM88.3,664.1L89.2,662.6L90.8,663.0L90.0,664.4zM94.3,662.9L93.6,662.2L94.2,661.4L94.9,662.1zM83.8,604.7L82.7,603.6L83.6,602.2L84.7,603.4zM80.4,677.8L80.1,676.5L81.1,675.7L81.5,677.0zM97.2,625.8L96.8,624.6L97.9,623.9L98.3,625.1zM97.2,608.0L95.7,608.0L95.2,606.6L96.7,606.6zM28.5,686.3L27.5,686.0L27.4,684.9L28.4,685.2zM18.2,620.9L18.8,620.0L19.9,620.4L19.2,621.3zM26.5,628.8L25.0,629.7L23.7,628.6L25.2,627.8zM44.9,622.8L43.1,622.5L42.9,620.8L44.6,621.1zM74.8,642.7L75.0,641.5L76.2,641.1L76.0,642.3zM74.5,648.7L74.2,646.7L75.7,645.4L76.1,647.4zM20.0,644.8L19.9,643.3L21.3,642.9L21.5,644.4zM60.0,655.1L61.2,653.9L62.7,654.5L61.6,655.7zM103.7,665.0L103.2,663.6L104.5,662.9L105.0,664.3zM93.2,601.3L92.2,600.1L93.1,599.0L94.1,600.1zM79.7,665.5L80.8,664.3L82.3,665.0L81.2,666.2zM70.0,651.0L70.0,649.2L71.7,648.8L71.7,650.6zM135.2,603.9L134.4,602.3L135.6,600.9L136.4,602.5zM114.1,679.7L113.8,678.6L114.8,677.9L115.1,679.0zM104.6,688.8L102.8,689.5L101.4,688.2L103.2,687.5zM69.6,685.6L67.8,684.6L67.9,682.6L69.7,683.5zM110.7,647.1L111.6,645.6L113.2,645.9L112.3,647.3zM104.4,690.7L104.2,689.3L105.5,688.7L105.7,690.1z" fill="#a086c8" opacity="0.55" filter="url(#soft)"/>
<path d="M85.3,598.5l-3.7,0.5M78.0,597.9l5.1,3.5M51.8,620.8l-2.9,1.9M97.7,645.0l-4.2,1.4M57.8,617.3l1.0,2.3M33.2,607.4l3.1,4.7M130.1,625.8l2.6,2.6" stroke="#fbf0fa" stroke-width="1" stroke-linecap="round" fill="none" opacity="0.9"/>
<rect x="123.10" y="682.40" width="18.8" height="11.2" fill="#fff"/>
<text x="133.00" y="687.50" font-size="4.0" font-weight="bold" text-anchor="middle" fill="#222">50 µm</text>
<rect x="128.00" y="690.00" width="10.1" height="1.3" fill="#111"/>
<circle cx="134.70" cy="696.90" r="4.60" fill="#2c72b3"/>
<rect x="149.2" y="558.2" width="128.3" height="135.6" fill="#e8a6e6"/>
<rect x="149.2" y="558.2" width="128.3" height="135.6" filter="url(#mot)" opacity="0.5"/>
<rect x="149.2" y="558.2" width="128.3" height="36" fill="url(#ug)"/>
<path d="M224.9,574.6l2.0,0.1M181.6,564.5l4.1,-2.1M202.1,583.2l3.3,1.6M187.4,588.6l1.5,0.8M200.2,560.3l2.1,1.4M235.4,582.3l3.9,-2.6M186.1,574.2l4.5,2.4M167.2,589.8l3.6,-0.9M159.1,573.0l3.6,-0.2M186.5,588.6l3.3,-0.8M242.7,567.5l2.8,-1.5M177.8,590.1l4.0,0.1M230.2,580.4l3.5,-0.6M166.9,561.1l2.0,-0.2M150.4,580.4l2.7,-0.9M186.9,575.0l2.1,1.0M207.3,562.3l1.6,0.8M218.8,568.9l3.7,-2.3M256.1,588.3l3.6,-2.1M200.4,585.3l3.6,-1.3M177.4,562.1l3.3,-1.3M202.8,587.1l5.1,-0.0M243.5,564.2l4.8,2.2M207.3,586.8l2.3,1.5M188.0,587.9l4.2,2.4M236.7,562.4l2.6,0.5" stroke="#fbeefa" stroke-width="0.8" stroke-linecap="round" opacity="0.8" fill="none"/>
<g clip-path="url(#bc1)">
<path d="M149.2,619.7C154.5,619.2 170.6,617.7 181.3,617.0C192.0,616.3 202.7,615.6 213.3,615.7C224.0,615.8 234.7,616.5 245.4,617.5C256.1,618.5 272.2,621.0 277.5,621.7L277.5,634.6C272.2,633.9 256.1,631.5 245.4,630.5C234.7,629.5 224.0,628.8 213.3,628.7C202.7,628.6 192.0,629.4 181.3,630.0C170.6,630.6 154.5,632.2 149.2,632.6Z" fill="#bf9bd8" filter="url(#soft2)" opacity="0.9"/>
<path d="M149.2,619.7C154.5,619.2 170.6,617.7 181.3,617.0C192.0,616.3 202.7,615.6 213.3,615.7C224.0,615.8 234.7,616.5 245.4,617.5C256.1,618.5 272.2,621.0 277.5,621.7L277.5,634.6C272.2,633.9 256.1,631.5 245.4,630.5C234.7,629.5 224.0,628.8 213.3,628.7C202.7,628.6 192.0,629.4 181.3,630.0C170.6,630.6 154.5,632.2 149.2,632.6Z" fill="#bf9bd8" opacity="0.6"/>
<path d="M265.8,629.1h1.4v1.3h-1.4zM193.8,621.1h1.4v1.3h-1.4zM178.1,624.2h1.4v1.3h-1.4zM153.2,630.5h1.4v1.3h-1.4zM204.1,618.3h1.4v1.3h-1.4zM271.1,625.5h1.4v1.3h-1.4zM155.2,625.3h1.4v1.3h-1.4zM231.2,621.5h1.4v1.3h-1.4zM250.5,627.5h1.4v1.3h-1.4zM202.7,617.7h1.4v1.3h-1.4zM237.4,621.4h1.4v1.3h-1.4zM265.6,629.3h1.4v1.3h-1.4zM227.5,625.8h1.4v1.3h-1.4zM243.8,621.7h1.4v1.3h-1.4zM182.8,616.9h1.4v1.3h-1.4zM223.1,617.0h1.4v1.3h-1.4zM243.0,622.0h1.4v1.3h-1.4zM178.5,626.8h1.4v1.3h-1.4zM223.7,620.3h1.4v1.3h-1.4zM229.8,622.1h1.4v1.3h-1.4zM236.7,622.2h1.4v1.3h-1.4zM217.6,627.8h1.4v1.3h-1.4zM192.7,621.8h1.4v1.3h-1.4zM213.2,625.5h1.4v1.3h-1.4zM265.3,628.0h1.4v1.3h-1.4zM155.3,616.8h1.4v1.3h-1.4zM182.2,623.6h1.4v1.3h-1.4zM221.0,625.0h1.4v1.3h-1.4zM254.8,619.1h1.4v1.3h-1.4zM260.3,630.1h1.4v1.3h-1.4zM239.2,622.2h1.4v1.3h-1.4zM274.7,623.3h1.4v1.3h-1.4zM204.1,627.4h1.4v1.3h-1.4zM266.8,623.6h1.4v1.3h-1.4zM238.4,619.2h1.4v1.3h-1.4zM170.6,621.1h1.4v1.3h-1.4zM186.5,620.0h1.4v1.3h-1.4zM163.9,624.4h1.4v1.3h-1.4zM204.2,614.9h1.4v1.3h-1.4zM220.0,624.0h1.4v1.3h-1.4zM154.8,619.1h1.4v1.3h-1.4zM255.3,626.2h1.4v1.3h-1.4zM162.1,621.8h1.4v1.3h-1.4zM167.6,627.8h1.4v1.3h-1.4zM170.6,626.1h1.4v1.3h-1.4zM242.3,626.9h1.4v1.3h-1.4zM203.4,621.2h1.4v1.3h-1.4zM230.1,616.8h1.4v1.3h-1.4zM223.3,626.5h1.4v1.3h-1.4zM169.8,623.2h1.4v1.3h-1.4zM213.0,618.0h1.4v1.3h-1.4zM256.5,627.4h1.4v1.3h-1.4zM187.4,623.1h1.4v1.3h-1.4zM229.7,627.8h1.4v1.3h-1.4zM167.9,627.1h1.4v1.3h-1.4zM212.2,621.8h1.4v1.3h-1.4zM171.8,629.8h1.4v1.3h-1.4zM167.5,627.8h1.4v1.3h-1.4zM175.8,626.7h1.4v1.3h-1.4zM234.3,618.0h1.4v1.3h-1.4zM239.7,618.7h1.4v1.3h-1.4zM249.6,627.4h1.4v1.3h-1.4zM240.2,629.0h1.4v1.3h-1.4zM162.7,627.5h1.4v1.3h-1.4zM249.5,627.5h1.4v1.3h-1.4zM181.1,627.3h1.4v1.3h-1.4zM235.7,629.3h1.4v1.3h-1.4zM219.0,623.3h1.4v1.3h-1.4zM196.5,625.2h1.4v1.3h-1.4zM187.3,618.6h1.4v1.3h-1.4zM258.4,622.3h1.4v1.3h-1.4zM213.0,616.9h1.4v1.3h-1.4zM200.2,617.1h1.4v1.3h-1.4zM272.6,629.8h1.4v1.3h-1.4zM239.3,627.0h1.4v1.3h-1.4zM153.9,623.0h1.4v1.3h-1.4zM205.7,627.1h1.4v1.3h-1.4zM162.6,617.0h1.4v1.3h-1.4zM215.0,620.6h1.4v1.3h-1.4zM167.9,628.7h1.4v1.3h-1.4zM277.1,624.7h1.4v1.3h-1.4zM213.2,627.7h1.4v1.3h-1.4zM174.5,624.2h1.4v1.3h-1.4zM175.5,629.4h1.4v1.3h-1.4zM253.8,629.3h1.4v1.3h-1.4zM149.5,623.1h1.4v1.3h-1.4zM260.7,627.9h1.4v1.3h-1.4zM193.3,625.6h1.4v1.3h-1.4zM164.1,625.7h1.4v1.3h-1.4zM209.7,619.6h1.4v1.3h-1.4zM205.0,619.0h1.4v1.3h-1.4zM191.7,617.6h1.4v1.3h-1.4zM203.1,617.0h1.4v1.3h-1.4zM257.6,621.1h1.4v1.3h-1.4zM270.8,625.0h1.4v1.3h-1.4zM180.9,628.1h1.4v1.3h-1.4zM174.5,624.0h1.4v1.3h-1.4zM183.9,619.5h1.4v1.3h-1.4zM211.4,614.6h1.4v1.3h-1.4zM272.5,627.9h1.4v1.3h-1.4zM201.2,623.9h1.4v1.3h-1.4zM193.9,624.9h1.4v1.3h-1.4zM211.4,622.4h1.4v1.3h-1.4zM273.2,623.4h1.4v1.3h-1.4zM167.0,628.4h1.4v1.3h-1.4z" fill="#8a6cb8" opacity="0.6" filter="url(#soft)"/>
<path d="M183.5,622.5h1.5v1.4h-1.5zM225.8,626.2h1.5v1.4h-1.5zM174.4,627.2h1.5v1.4h-1.5zM228.1,622.9h1.5v1.4h-1.5zM163.7,617.5h1.5v1.4h-1.5zM185.0,627.0h1.5v1.4h-1.5zM171.1,629.1h1.5v1.4h-1.5zM188.0,624.8h1.5v1.4h-1.5zM211.8,624.7h1.5v1.4h-1.5zM270.7,626.7h1.5v1.4h-1.5zM268.6,628.7h1.5v1.4h-1.5zM152.5,618.0h1.5v1.4h-1.5zM195.1,622.3h1.5v1.4h-1.5zM276.1,623.6h1.5v1.4h-1.5zM231.8,620.5h1.5v1.4h-1.5zM256.0,622.6h1.5v1.4h-1.5zM191.6,628.9h1.5v1.4h-1.5zM209.7,623.4h1.5v1.4h-1.5zM223.9,624.3h1.5v1.4h-1.5zM228.9,627.5h1.5v1.4h-1.5zM212.9,621.4h1.5v1.4h-1.5zM196.9,626.2h1.5v1.4h-1.5zM164.9,630.4h1.5v1.4h-1.5zM245.3,624.8h1.5v1.4h-1.5zM253.8,628.3h1.5v1.4h-1.5zM198.9,617.4h1.5v1.4h-1.5zM176.9,626.2h1.5v1.4h-1.5zM184.3,614.6h1.5v1.4h-1.5zM250.6,626.0h1.5v1.4h-1.5zM219.6,624.1h1.5v1.4h-1.5zM226.7,623.2h1.5v1.4h-1.5zM171.0,622.7h1.5v1.4h-1.5zM233.4,623.4h1.5v1.4h-1.5zM191.1,621.3h1.5v1.4h-1.5zM236.4,622.7h1.5v1.4h-1.5zM152.6,626.6h1.5v1.4h-1.5zM262.0,621.9h1.5v1.4h-1.5zM234.4,625.4h1.5v1.4h-1.5zM236.9,616.9h1.5v1.4h-1.5zM167.9,620.3h1.5v1.4h-1.5zM180.3,622.0h1.5v1.4h-1.5zM173.8,629.1h1.5v1.4h-1.5zM236.5,620.4h1.5v1.4h-1.5zM227.4,628.5h1.5v1.4h-1.5zM168.4,620.5h1.5v1.4h-1.5zM223.8,623.4h1.5v1.4h-1.5zM223.1,624.7h1.5v1.4h-1.5zM263.9,628.0h1.5v1.4h-1.5zM247.3,627.0h1.5v1.4h-1.5zM183.9,621.8h1.5v1.4h-1.5zM208.6,618.4h1.5v1.4h-1.5zM242.8,622.6h1.5v1.4h-1.5zM237.0,620.6h1.5v1.4h-1.5zM175.4,620.2h1.5v1.4h-1.5zM162.8,622.7h1.5v1.4h-1.5zM195.7,627.1h1.5v1.4h-1.5zM170.5,626.8h1.5v1.4h-1.5zM216.2,619.1h1.5v1.4h-1.5zM183.4,627.9h1.5v1.4h-1.5zM268.5,623.3h1.5v1.4h-1.5zM209.7,627.1h1.5v1.4h-1.5zM218.6,619.3h1.5v1.4h-1.5zM196.4,627.6h1.5v1.4h-1.5zM202.7,621.1h1.5v1.4h-1.5zM149.9,625.9h1.5v1.4h-1.5zM271.5,629.9h1.5v1.4h-1.5zM226.5,628.9h1.5v1.4h-1.5zM208.2,622.6h1.5v1.4h-1.5zM234.4,623.5h1.5v1.4h-1.5zM277.5,634.1h1.5v1.4h-1.5zM256.1,627.5h1.5v1.4h-1.5zM266.2,626.1h1.5v1.4h-1.5zM181.2,622.1h1.5v1.4h-1.5zM203.1,627.8h1.5v1.4h-1.5zM184.9,621.5h1.5v1.4h-1.5zM233.4,627.9h1.5v1.4h-1.5zM225.8,621.6h1.5v1.4h-1.5zM220.5,618.1h1.5v1.4h-1.5zM179.8,625.5h1.5v1.4h-1.5zM218.2,623.5h1.5v1.4h-1.5zM180.4,620.2h1.5v1.4h-1.5zM174.2,627.6h1.5v1.4h-1.5zM277.2,629.5h1.5v1.4h-1.5zM276.3,633.1h1.5v1.4h-1.5zM157.3,628.2h1.5v1.4h-1.5zM230.3,628.4h1.5v1.4h-1.5zM158.8,620.3h1.5v1.4h-1.5zM208.6,618.8h1.5v1.4h-1.5zM212.2,621.1h1.5v1.4h-1.5zM191.0,622.9h1.5v1.4h-1.5zM252.0,619.6h1.5v1.4h-1.5zM254.4,623.3h1.5v1.4h-1.5zM269.9,620.5h1.5v1.4h-1.5zM198.0,622.6h1.5v1.4h-1.5zM259.5,627.7h1.5v1.4h-1.5zM172.6,628.1h1.5v1.4h-1.5zM178.1,628.6h1.5v1.4h-1.5zM217.7,628.1h1.5v1.4h-1.5zM183.2,625.9h1.5v1.4h-1.5zM249.4,623.2h1.5v1.4h-1.5zM165.3,629.5h1.5v1.4h-1.5zM202.6,619.2h1.5v1.4h-1.5zM226.8,620.4h1.5v1.4h-1.5zM246.7,622.2h1.5v1.4h-1.5zM203.6,625.2h1.5v1.4h-1.5zM168.7,623.0h1.5v1.4h-1.5zM242.4,623.4h1.5v1.4h-1.5zM154.4,631.2h1.5v1.4h-1.5zM161.7,621.0h1.5v1.4h-1.5zM214.3,625.5h1.5v1.4h-1.5zM166.9,627.9h1.5v1.4h-1.5zM188.0,621.9h1.5v1.4h-1.5zM186.9,622.8h1.5v1.4h-1.5zM165.8,630.2h1.5v1.4h-1.5zM205.3,617.9h1.5v1.4h-1.5zM222.5,627.0h1.5v1.4h-1.5zM178.1,628.2h1.5v1.4h-1.5zM249.5,630.5h1.5v1.4h-1.5zM227.5,626.3h1.5v1.4h-1.5zM177.3,621.7h1.5v1.4h-1.5zM216.8,614.7h1.5v1.4h-1.5zM276.7,629.8h1.5v1.4h-1.5zM207.7,624.3h1.5v1.4h-1.5zM211.9,627.2h1.5v1.4h-1.5zM249.6,627.5h1.5v1.4h-1.5zM152.3,621.4h1.5v1.4h-1.5zM240.2,622.0h1.5v1.4h-1.5zM170.1,626.6h1.5v1.4h-1.5zM249.6,625.6h1.5v1.4h-1.5zM158.5,618.8h1.5v1.4h-1.5zM236.9,624.5h1.5v1.4h-1.5zM199.5,628.4h1.5v1.4h-1.5zM168.7,628.6h1.5v1.4h-1.5zM244.9,625.0h1.5v1.4h-1.5zM156.4,630.5h1.5v1.4h-1.5zM246.8,621.5h1.5v1.4h-1.5zM274.1,620.7h1.5v1.4h-1.5zM214.3,615.2h1.5v1.4h-1.5zM150.1,623.5h1.5v1.4h-1.5zM234.6,628.7h1.5v1.4h-1.5zM210.7,624.0h1.5v1.4h-1.5zM237.6,623.9h1.5v1.4h-1.5zM214.3,618.0h1.5v1.4h-1.5zM207.8,625.1h1.5v1.4h-1.5zM236.8,622.7h1.5v1.4h-1.5zM165.4,624.5h1.5v1.4h-1.5zM253.3,629.3h1.5v1.4h-1.5zM189.8,617.9h1.5v1.4h-1.5zM176.1,620.4h1.5v1.4h-1.5zM239.4,616.2h1.5v1.4h-1.5zM217.2,623.3h1.5v1.4h-1.5zM251.5,628.9h1.5v1.4h-1.5zM191.6,615.7h1.5v1.4h-1.5zM152.6,627.8h1.5v1.4h-1.5zM245.0,628.2h1.5v1.4h-1.5z" fill="#d8c2ea" opacity="0.45" filter="url(#soft)"/>
</g>
<path d="M239.1,569.9L237.1,569.7L236.5,567.8L238.5,568.0zM258.9,573.5L259.4,572.0L261.0,572.3L260.5,573.8zM209.6,582.4L208.9,580.4L210.5,579.1L211.2,581.0zM210.8,566.3L208.6,567.3L206.7,565.9L208.9,564.9zM154.9,573.7L153.7,573.2L153.9,571.9L155.0,572.5zM182.1,582.7L180.0,582.5L179.1,580.6L181.2,580.8zM199.6,578.0L197.6,578.1L197.0,576.2L198.9,576.1zM197.2,576.6L198.3,574.5L200.6,574.8L199.5,576.8zM254.4,572.9L254.7,571.0L256.6,570.4L256.3,572.3zM201.6,565.7L199.8,565.4L199.7,563.6L201.5,563.9zM181.4,580.9L180.8,578.8L182.4,577.3L182.9,579.4zM210.1,584.9L211.2,584.1L212.4,584.8L211.3,585.6zM191.7,564.2L191.7,563.1L192.8,563.0L192.8,564.1zM203.0,584.0L201.3,583.7L201.6,582.0L203.3,582.3zM183.9,567.6L182.9,567.2L183.1,566.1L184.2,566.5zM208.6,575.2L206.8,575.8L206.1,574.0L207.9,573.4zM263.1,568.0L264.0,566.6L265.5,567.1L264.6,568.5zM267.6,576.5L267.6,575.3L268.8,574.9L268.8,576.2zM222.0,568.3L220.8,567.6L221.4,566.4L222.6,567.0zM253.7,571.3L253.6,569.8L255.0,569.6L255.1,571.0zM204.3,570.7L202.6,571.5L201.5,570.0L203.1,569.2zM230.4,580.9L231.0,579.9L232.2,580.3L231.6,581.3zM214.2,571.9L213.7,570.8L214.7,570.1L215.2,571.2zM267.4,578.8L265.5,579.7L264.1,578.0L266.0,577.2zM192.5,570.0L193.1,569.1L194.0,569.6L193.5,570.5zM264.4,563.7L262.9,563.7L262.1,562.4L263.7,562.4zM188.4,566.6L187.5,565.8L188.2,564.9L189.1,565.6zM247.3,561.9L247.6,560.5L249.0,560.6L248.8,562.0zM263.7,585.5L263.6,583.9L265.1,583.7L265.2,585.2zM160.0,582.9L158.3,582.2L158.1,580.5L159.7,581.1zM243.9,574.7L242.9,573.7L243.4,572.4L244.5,573.4zM170.6,576.4L169.0,575.5L169.1,573.7L170.8,574.6zM226.9,565.7L227.2,564.2L228.8,564.2L228.5,565.7zM174.2,568.6L173.6,567.5L174.4,566.7L175.0,567.7zM180.2,563.7L178.2,563.7L177.8,561.7L179.8,561.7zM200.3,585.6L199.5,583.4L200.9,581.6L201.7,583.8zM191.5,574.3L192.1,573.1L193.5,573.2L192.8,574.4zM266.9,584.7L265.0,583.9L264.7,581.9L266.7,582.6zM222.7,564.9L220.5,565.0L219.7,563.0L221.9,562.9zM274.0,578.5L273.7,576.9L275.0,575.9L275.3,577.5zM228.6,585.7L227.9,584.5L229.0,583.6L229.7,584.8zM176.9,579.9L175.5,580.4L174.8,579.0L176.3,578.6zM168.9,576.8L170.1,574.8L172.5,575.0L171.2,577.0zM220.7,582.8L221.5,581.6L222.9,582.1L222.0,583.3zM182.6,578.3L181.8,577.1L183.1,576.2L183.9,577.5zM252.5,585.2L250.8,585.9L249.3,584.8L251.0,584.0zM264.3,580.5L263.6,578.6L265.2,577.4L265.9,579.3zM253.3,566.2L254.2,564.9L255.7,565.2L254.8,566.4zM177.8,575.7L178.5,574.2L180.1,574.5L179.4,575.9zM184.9,581.9L185.8,580.9L187.0,581.7L186.0,582.7zM169.7,562.2L168.8,562.9L167.9,562.1L168.9,561.4zM170.8,587.3L169.3,587.2L168.7,585.7L170.3,585.8zM152.1,560.8L151.1,559.5L151.7,558.1L152.7,559.3zM182.9,561.3L181.2,561.5L180.6,559.8L182.3,559.6zM206.5,580.6L204.9,580.6L204.3,579.1L205.9,579.1zM220.3,562.5L219.6,560.1L221.3,558.3L222.0,560.7zM209.0,572.0L209.1,570.0L211.1,569.4L210.9,571.4zM206.8,571.9L205.2,571.3L205.5,569.7L207.2,570.3zM179.5,566.3L179.7,564.3L181.6,564.0L181.5,566.0zM157.8,586.5L156.0,586.9L154.9,585.5L156.7,585.1z" fill="#6a48a8" opacity="0.8" filter="url(#soft)"/>
<path d="M226.8,586.9L225.6,586.3L226.1,585.1L227.2,585.7zM246.5,584.6L247.2,583.6L248.3,584.1L247.6,585.1zM187.0,564.0L185.5,562.3L186.3,560.1L187.9,561.8zM237.3,585.0L237.3,583.2L239.1,582.9L239.1,584.8zM265.5,585.3L266.8,584.2L268.2,585.1L266.9,586.2zM274.1,586.4L275.3,584.8L277.2,585.1L276.0,586.7zM214.5,564.6L213.0,564.1L213.3,562.5L214.8,563.0zM220.2,576.1L221.8,574.7L223.8,575.5L222.2,576.8zM188.6,591.5L188.8,590.0L190.2,589.9L190.0,591.3zM274.5,577.6L272.5,576.6L272.4,574.3L274.4,575.3zM227.4,590.5L227.9,589.5L228.9,589.9L228.4,590.8zM223.1,573.7L221.2,574.1L220.3,572.4L222.2,572.0zM195.9,584.4L194.4,585.4L192.9,584.2L194.4,583.2zM274.7,562.1L275.9,561.0L277.5,561.5L276.2,562.7zM236.7,573.5L236.0,571.5L237.5,570.1L238.2,572.1zM248.5,578.2L248.7,576.7L250.3,576.6L250.1,578.2zM162.7,562.8L163.3,561.3L164.7,561.9L164.1,563.3zM174.1,575.7L173.7,574.3L175.0,573.5L175.3,574.9zM176.2,578.1L174.2,578.1L173.9,576.2L175.9,576.2zM173.6,562.9L174.8,562.0L176.1,562.6L174.9,563.4zM154.0,587.1L154.8,585.7L156.3,586.3L155.5,587.7zM166.1,581.5L164.1,581.1L163.6,579.2L165.6,579.5zM168.2,581.0L168.4,579.4L170.0,579.1L169.7,580.6zM153.9,584.8L153.1,582.8L154.7,581.5L155.6,583.4zM191.8,589.1L191.0,588.2L191.8,587.3L192.7,588.2zM206.2,579.4L205.5,577.9L206.5,576.6L207.1,578.1zM198.2,584.5L199.0,583.2L200.4,583.2L199.7,584.5zM181.5,574.3L182.6,573.4L183.8,574.1L182.7,574.9zM224.0,592.3L225.0,590.6L227.0,590.7L226.0,592.4zM266.1,574.5L267.0,573.4L268.1,574.2L267.3,575.4zM161.9,579.5L160.4,578.9L160.8,577.3L162.3,577.9zM187.3,560.5L187.4,558.9L188.9,558.6L188.8,560.1zM238.0,591.9L237.4,590.1L239.1,589.1L239.7,590.9zM237.3,586.2L237.0,585.0L238.0,584.3L238.4,585.5zM191.4,589.7L189.8,590.3L188.5,589.1L190.2,588.5zM262.2,592.1L263.0,590.2L265.0,590.5L264.2,592.4zM273.2,562.8L274.3,562.0L275.5,562.7L274.4,563.5zM155.4,587.5L153.6,587.8L152.7,586.2L154.5,585.9zM213.3,576.7L213.6,575.1L215.2,574.6L214.8,576.2zM169.3,579.8L171.1,578.7L173.0,579.6L171.2,580.8z" fill="#9a7cc4" opacity="0.6" filter="url(#soft)"/>
<path d="M262.0,600.1L262.1,599.1L263.1,599.0L263.1,600.1zM159.5,676.1L160.5,675.1L161.8,675.7L160.7,676.7zM259.9,667.5L259.2,666.3L260.0,665.3L260.7,666.4zM154.0,614.6L153.0,613.7L153.7,612.5L154.6,613.4zM255.9,633.0L256.6,631.6L258.2,631.6L257.5,633.0zM180.8,654.4L179.7,654.8L178.8,653.8L180.0,653.4zM174.7,619.7L173.4,618.7L173.7,617.1L175.0,618.1zM227.1,638.4L226.0,638.0L226.3,636.8L227.3,637.3zM270.6,681.7L270.9,680.9L271.7,681.2L271.4,682.0zM205.1,657.6L206.0,656.6L207.3,657.0L206.4,658.0zM170.0,679.6L169.1,679.4L169.2,678.5L170.1,678.7zM216.4,674.1L214.8,674.0L214.1,672.6L215.7,672.7zM198.1,652.0L197.3,650.8L198.1,649.6L198.9,650.8zM162.2,671.8L162.4,670.6L163.7,670.8L163.4,672.0zM151.9,661.9L150.7,662.4L150.0,661.4L151.2,660.9zM183.8,656.5L182.4,656.5L181.7,655.2L183.1,655.2zM229.1,624.3L228.4,624.6L228.0,623.9L228.7,623.6zM169.5,598.8L169.7,597.2L171.2,597.1L171.0,598.6zM204.4,645.2L203.1,645.1L202.7,643.9L203.9,644.1zM270.5,671.1L271.4,670.2L272.4,671.0L271.5,672.0zM231.6,651.5L232.5,650.6L233.7,651.2L232.8,652.1zM273.6,688.7L273.6,687.8L274.6,687.4L274.6,688.4zM173.9,682.8L172.7,682.5L172.8,681.3L174.0,681.5zM235.2,681.7L235.7,680.3L237.2,680.5L236.6,681.9zM224.9,630.0L224.2,630.5L223.6,629.8L224.3,629.3zM205.2,606.4L204.3,606.7L203.9,605.8L204.8,605.6zM175.2,620.6L174.8,619.1L176.1,618.3L176.6,619.8zM217.1,689.4L218.2,688.0L219.9,688.2L218.8,689.6zM243.9,681.4L242.9,680.9L242.9,679.8L244.0,680.3zM267.6,621.6L266.3,621.1L266.5,619.6L267.9,620.1z" fill="#5f449e" opacity="0.8" filter="url(#soft)"/>
<path d="M243.3,650.9L243.7,649.9L244.7,650.3L244.3,651.2zM176.5,645.9L175.4,644.6L176.3,643.1L177.4,644.4zM171.4,687.8L170.1,686.8L170.5,685.2L171.8,686.2zM239.4,632.2L239.6,631.1L240.7,631.0L240.6,632.1zM258.6,646.3L258.5,644.5L260.0,643.4L260.1,645.3zM273.1,620.7L272.5,618.9L273.8,617.5L274.5,619.3zM224.5,611.0L224.8,610.2L225.6,610.5L225.2,611.3zM199.5,654.6L199.9,653.0L201.4,652.5L201.1,654.1zM198.5,657.8L197.1,657.8L196.4,656.6L197.8,656.5zM266.3,647.8L265.0,647.6L264.4,646.4L265.7,646.5zM234.9,620.2L235.7,619.2L236.9,619.5L236.1,620.4zM261.8,660.6L262.9,659.6L263.9,660.6L262.9,661.5zM191.5,657.9L191.0,657.1L191.6,656.4L192.2,657.2zM209.7,635.7L209.3,634.6L210.4,634.2L210.7,635.3zM194.2,606.2L194.4,604.8L195.8,604.4L195.6,605.9zM202.8,607.0L201.8,605.7L202.6,604.3L203.6,605.6zM273.5,630.7L272.3,631.1L271.9,630.0L273.0,629.5zM174.0,612.8L174.6,612.0L175.5,612.4L174.9,613.3zM223.4,642.9L224.0,641.7L225.4,642.0L224.7,643.3zM243.7,636.4L243.1,636.9L242.5,636.2L243.2,635.7zM242.3,598.3L241.1,597.6L241.4,596.2L242.6,596.9zM187.6,688.6L186.7,686.7L188.0,685.1L188.8,687.0zM271.1,663.8L270.1,664.1L269.7,663.1L270.7,662.8zM164.3,632.9L163.1,633.5L162.3,632.4L163.5,631.8zM191.3,640.3L192.2,638.4L194.3,638.4L193.3,640.2z" fill="#a086c8" opacity="0.55" filter="url(#soft)"/>
<path d="M185.0,668.0l3.1,3.7M217.4,615.1l-0.5,3.5M248.4,615.3l-2.5,2.1M155.2,633.5l-4.7,1.8M184.1,639.5l2.6,4.4M188.3,609.2l-2.7,0.0M170.3,622.8l2.4,4.1" stroke="#fbf0fa" stroke-width="1" stroke-linecap="round" fill="none" opacity="0.9"/>
<rect x="258.70" y="682.60" width="18.8" height="11.2" fill="#fff"/>
<text x="268.60" y="687.70" font-size="4.0" font-weight="bold" text-anchor="middle" fill="#222">50 µm</text>
<rect x="263.60" y="690.20" width="10.1" height="1.3" fill="#111"/>
<rect x="266.20" y="693.00" width="8.20" height="8.20" fill="#c9353b"/>
<rect x="285.6" y="558.2" width="128.1" height="135.6" fill="#e8a6e6"/>
<rect x="285.6" y="558.2" width="128.1" height="135.6" filter="url(#mot)" opacity="0.5"/>
<rect x="285.6" y="558.2" width="128.1" height="36" fill="url(#ug)"/>
<path d="M345.1,564.9l4.7,1.2M307.5,565.3l1.9,0.0M362.0,581.8l2.2,1.0M393.9,574.4l1.8,-0.8M372.0,562.2l3.9,1.0M288.0,564.6l2.5,-0.2M387.7,584.2l2.5,-1.7M350.6,566.1l2.3,1.3M320.2,572.0l3.6,2.1M292.9,577.9l3.7,-1.8M297.8,570.2l2.8,0.7M401.9,580.1l2.7,1.8M397.8,573.4l3.4,0.1M298.2,579.5l4.3,-0.1M355.8,587.5l3.9,0.9M391.7,582.2l2.8,1.7M399.3,562.6l5.1,-2.1M391.2,579.5l4.5,-0.8M320.0,565.5l1.8,-0.9M306.0,584.8l3.3,1.5M404.1,573.4l2.0,1.0M299.2,575.6l4.4,-2.1M317.8,579.7l1.7,0.8M375.4,576.8l4.2,-1.9M387.3,576.4l2.8,1.1M340.5,561.5l3.6,-2.3" stroke="#fbeefa" stroke-width="0.8" stroke-linecap="round" opacity="0.8" fill="none"/>
<g clip-path="url(#bc2)">
<path d="M285.6,619.3C290.9,618.9 306.9,617.6 317.6,617.0C328.3,616.4 339.0,615.7 349.7,615.7C360.3,615.7 371.0,616.3 381.7,617.0C392.4,617.7 408.4,619.2 413.7,619.7L413.7,633.6C408.4,633.0 392.4,631.0 381.7,630.0C371.0,629.0 360.3,627.8 349.7,627.7C339.0,627.6 328.3,628.7 317.6,629.5C306.9,630.3 290.9,632.1 285.6,632.6Z" fill="#bf9bd8" filter="url(#soft2)" opacity="0.9"/>
<path d="M285.6,619.3C290.9,618.9 306.9,617.6 317.6,617.0C328.3,616.4 339.0,615.7 349.7,615.7C360.3,615.7 371.0,616.3 381.7,617.0C392.4,617.7 408.4,619.2 413.7,619.7L413.7,633.6C408.4,633.0 392.4,631.0 381.7,630.0C371.0,629.0 360.3,627.8 349.7,627.7C339.0,627.6 328.3,628.7 317.6,629.5C306.9,630.3 290.9,632.1 285.6,632.6Z" fill="#bf9bd8" opacity="0.6"/>
<path d="M357.7,618.4h1.4v1.3h-1.4zM366.1,615.0h1.4v1.3h-1.4zM411.8,629.4h1.4v1.3h-1.4zM408.2,622.5h1.4v1.3h-1.4zM387.9,626.7h1.4v1.3h-1.4zM359.1,624.4h1.4v1.3h-1.4zM333.2,622.9h1.4v1.3h-1.4zM296.2,622.3h1.4v1.3h-1.4zM297.9,630.2h1.4v1.3h-1.4zM333.8,617.0h1.4v1.3h-1.4zM396.6,619.0h1.4v1.3h-1.4zM362.9,624.1h1.4v1.3h-1.4zM316.7,628.3h1.4v1.3h-1.4zM383.1,619.7h1.4v1.3h-1.4zM293.0,629.6h1.4v1.3h-1.4zM300.0,628.7h1.4v1.3h-1.4zM299.8,629.1h1.4v1.3h-1.4zM411.7,629.3h1.4v1.3h-1.4zM303.4,627.0h1.4v1.3h-1.4zM341.9,617.4h1.4v1.3h-1.4zM339.4,622.7h1.4v1.3h-1.4zM318.8,619.0h1.4v1.3h-1.4zM383.7,620.7h1.4v1.3h-1.4zM391.1,622.1h1.4v1.3h-1.4zM344.3,622.6h1.4v1.3h-1.4zM349.9,626.8h1.4v1.3h-1.4zM285.7,628.6h1.4v1.3h-1.4zM350.3,624.4h1.4v1.3h-1.4zM349.8,623.4h1.4v1.3h-1.4zM316.4,628.2h1.4v1.3h-1.4zM303.2,624.4h1.4v1.3h-1.4zM295.4,630.9h1.4v1.3h-1.4zM345.5,615.6h1.4v1.3h-1.4zM336.7,622.6h1.4v1.3h-1.4zM392.5,619.2h1.4v1.3h-1.4zM298.3,628.3h1.4v1.3h-1.4zM394.7,622.4h1.4v1.3h-1.4zM325.1,625.0h1.4v1.3h-1.4zM378.1,618.6h1.4v1.3h-1.4zM289.4,624.4h1.4v1.3h-1.4zM398.9,625.5h1.4v1.3h-1.4zM306.0,623.7h1.4v1.3h-1.4zM309.1,622.3h1.4v1.3h-1.4zM329.2,624.0h1.4v1.3h-1.4zM402.1,628.3h1.4v1.3h-1.4zM394.6,624.2h1.4v1.3h-1.4zM296.9,622.3h1.4v1.3h-1.4zM349.3,626.8h1.4v1.3h-1.4zM340.0,625.1h1.4v1.3h-1.4zM321.8,615.5h1.4v1.3h-1.4zM315.2,623.7h1.4v1.3h-1.4zM341.0,618.5h1.4v1.3h-1.4zM380.5,620.0h1.4v1.3h-1.4zM356.7,616.2h1.4v1.3h-1.4zM397.8,628.4h1.4v1.3h-1.4zM385.4,625.8h1.4v1.3h-1.4zM370.9,624.0h1.4v1.3h-1.4zM315.7,622.0h1.4v1.3h-1.4zM387.8,626.0h1.4v1.3h-1.4zM322.2,620.7h1.4v1.3h-1.4zM373.2,621.6h1.4v1.3h-1.4zM340.8,616.7h1.4v1.3h-1.4zM402.4,617.5h1.4v1.3h-1.4zM362.1,621.4h1.4v1.3h-1.4zM329.3,623.9h1.4v1.3h-1.4zM390.2,616.0h1.4v1.3h-1.4zM390.5,624.5h1.4v1.3h-1.4zM388.0,627.0h1.4v1.3h-1.4zM351.5,619.7h1.4v1.3h-1.4zM378.8,628.7h1.4v1.3h-1.4zM386.4,624.1h1.4v1.3h-1.4zM393.2,620.3h1.4v1.3h-1.4zM341.7,624.0h1.4v1.3h-1.4zM317.7,624.0h1.4v1.3h-1.4zM306.9,627.4h1.4v1.3h-1.4zM356.8,624.9h1.4v1.3h-1.4zM353.3,615.1h1.4v1.3h-1.4zM312.7,622.0h1.4v1.3h-1.4zM407.1,630.9h1.4v1.3h-1.4zM372.1,617.8h1.4v1.3h-1.4zM293.7,628.5h1.4v1.3h-1.4zM336.6,617.8h1.4v1.3h-1.4zM374.5,624.9h1.4v1.3h-1.4zM386.1,621.8h1.4v1.3h-1.4zM310.7,615.8h1.4v1.3h-1.4zM409.9,623.1h1.4v1.3h-1.4zM396.6,622.6h1.4v1.3h-1.4zM366.7,620.7h1.4v1.3h-1.4zM385.1,617.6h1.4v1.3h-1.4zM316.0,618.1h1.4v1.3h-1.4zM288.4,618.7h1.4v1.3h-1.4zM400.5,628.7h1.4v1.3h-1.4zM290.9,619.0h1.4v1.3h-1.4zM356.5,623.4h1.4v1.3h-1.4zM392.6,623.6h1.4v1.3h-1.4zM360.6,619.3h1.4v1.3h-1.4zM312.6,627.2h1.4v1.3h-1.4zM372.4,622.2h1.4v1.3h-1.4zM311.7,629.0h1.4v1.3h-1.4zM328.1,618.7h1.4v1.3h-1.4zM412.3,632.1h1.4v1.3h-1.4zM345.5,621.7h1.4v1.3h-1.4zM289.9,626.1h1.4v1.3h-1.4zM403.4,627.7h1.4v1.3h-1.4zM380.0,626.4h1.4v1.3h-1.4zM378.7,628.4h1.4v1.3h-1.4zM375.1,618.1h1.4v1.3h-1.4zM355.1,613.9h1.4v1.3h-1.4z" fill="#8a6cb8" opacity="0.6" filter="url(#soft)"/>
<path d="M339.3,624.6h1.5v1.4h-1.5zM330.7,619.1h1.5v1.4h-1.5zM293.9,626.6h1.5v1.4h-1.5zM367.9,626.3h1.5v1.4h-1.5zM335.6,614.9h1.5v1.4h-1.5zM354.0,617.8h1.5v1.4h-1.5zM345.7,624.3h1.5v1.4h-1.5zM384.7,629.7h1.5v1.4h-1.5zM400.0,631.4h1.5v1.4h-1.5zM364.9,615.0h1.5v1.4h-1.5zM392.7,622.7h1.5v1.4h-1.5zM344.3,618.3h1.5v1.4h-1.5zM407.7,625.2h1.5v1.4h-1.5zM322.3,625.6h1.5v1.4h-1.5zM394.0,616.4h1.5v1.4h-1.5zM409.7,618.0h1.5v1.4h-1.5zM408.9,622.2h1.5v1.4h-1.5zM393.0,628.2h1.5v1.4h-1.5zM413.6,627.7h1.5v1.4h-1.5zM355.5,623.4h1.5v1.4h-1.5zM341.7,619.8h1.5v1.4h-1.5zM413.0,620.9h1.5v1.4h-1.5zM392.8,628.5h1.5v1.4h-1.5zM380.0,629.2h1.5v1.4h-1.5zM339.7,626.7h1.5v1.4h-1.5zM291.4,630.4h1.5v1.4h-1.5zM345.5,624.5h1.5v1.4h-1.5zM394.6,630.0h1.5v1.4h-1.5zM317.6,626.6h1.5v1.4h-1.5zM300.4,616.5h1.5v1.4h-1.5zM307.6,628.6h1.5v1.4h-1.5zM295.4,629.5h1.5v1.4h-1.5zM358.0,620.6h1.5v1.4h-1.5zM339.2,621.9h1.5v1.4h-1.5zM329.5,624.4h1.5v1.4h-1.5zM304.8,623.9h1.5v1.4h-1.5zM294.1,627.2h1.5v1.4h-1.5zM343.9,626.9h1.5v1.4h-1.5zM372.6,625.2h1.5v1.4h-1.5zM368.9,625.2h1.5v1.4h-1.5zM317.9,627.8h1.5v1.4h-1.5zM331.4,623.8h1.5v1.4h-1.5zM297.4,622.0h1.5v1.4h-1.5zM351.7,626.7h1.5v1.4h-1.5zM310.2,626.9h1.5v1.4h-1.5zM342.1,620.0h1.5v1.4h-1.5zM401.9,622.2h1.5v1.4h-1.5zM366.6,616.3h1.5v1.4h-1.5zM373.9,620.0h1.5v1.4h-1.5zM377.1,625.8h1.5v1.4h-1.5zM288.3,627.6h1.5v1.4h-1.5zM337.7,621.8h1.5v1.4h-1.5zM407.9,632.0h1.5v1.4h-1.5zM388.3,627.9h1.5v1.4h-1.5zM305.3,620.6h1.5v1.4h-1.5zM377.5,614.7h1.5v1.4h-1.5zM374.4,619.2h1.5v1.4h-1.5zM388.0,625.6h1.5v1.4h-1.5zM374.4,626.5h1.5v1.4h-1.5zM382.9,628.7h1.5v1.4h-1.5zM296.3,620.9h1.5v1.4h-1.5zM296.9,629.6h1.5v1.4h-1.5zM303.5,629.2h1.5v1.4h-1.5zM313.3,621.7h1.5v1.4h-1.5zM365.6,623.8h1.5v1.4h-1.5zM326.4,627.0h1.5v1.4h-1.5zM349.7,620.5h1.5v1.4h-1.5zM301.3,622.2h1.5v1.4h-1.5zM386.9,622.6h1.5v1.4h-1.5zM327.1,618.1h1.5v1.4h-1.5zM361.4,627.5h1.5v1.4h-1.5zM383.6,618.9h1.5v1.4h-1.5zM295.0,620.8h1.5v1.4h-1.5zM294.7,630.8h1.5v1.4h-1.5zM293.8,624.4h1.5v1.4h-1.5zM409.9,627.1h1.5v1.4h-1.5zM369.6,618.9h1.5v1.4h-1.5zM363.8,625.5h1.5v1.4h-1.5zM340.4,619.5h1.5v1.4h-1.5zM375.7,620.1h1.5v1.4h-1.5zM405.0,630.3h1.5v1.4h-1.5zM413.2,633.0h1.5v1.4h-1.5zM397.4,625.3h1.5v1.4h-1.5zM322.2,628.2h1.5v1.4h-1.5zM390.6,630.1h1.5v1.4h-1.5zM372.7,617.3h1.5v1.4h-1.5zM296.8,630.0h1.5v1.4h-1.5zM362.7,622.5h1.5v1.4h-1.5zM362.1,621.4h1.5v1.4h-1.5zM320.3,618.2h1.5v1.4h-1.5zM299.9,628.1h1.5v1.4h-1.5zM303.2,627.1h1.5v1.4h-1.5zM289.8,628.7h1.5v1.4h-1.5zM400.7,630.7h1.5v1.4h-1.5zM387.6,619.7h1.5v1.4h-1.5zM375.2,626.3h1.5v1.4h-1.5zM370.3,625.2h1.5v1.4h-1.5zM386.5,621.2h1.5v1.4h-1.5zM407.1,627.4h1.5v1.4h-1.5zM333.6,619.2h1.5v1.4h-1.5zM399.4,626.7h1.5v1.4h-1.5zM396.2,621.6h1.5v1.4h-1.5zM319.0,627.5h1.5v1.4h-1.5zM336.3,626.9h1.5v1.4h-1.5zM398.4,622.1h1.5v1.4h-1.5zM334.1,614.1h1.5v1.4h-1.5zM338.9,623.9h1.5v1.4h-1.5zM288.9,620.7h1.5v1.4h-1.5zM298.5,628.2h1.5v1.4h-1.5zM346.9,626.6h1.5v1.4h-1.5zM351.4,614.8h1.5v1.4h-1.5zM337.7,626.4h1.5v1.4h-1.5zM350.0,613.9h1.5v1.4h-1.5zM335.3,627.3h1.5v1.4h-1.5zM294.9,625.4h1.5v1.4h-1.5zM412.5,629.8h1.5v1.4h-1.5zM324.8,625.4h1.5v1.4h-1.5zM386.7,623.6h1.5v1.4h-1.5zM313.4,627.2h1.5v1.4h-1.5zM290.9,620.7h1.5v1.4h-1.5zM404.5,632.0h1.5v1.4h-1.5zM332.8,620.0h1.5v1.4h-1.5zM291.9,624.6h1.5v1.4h-1.5zM359.2,627.5h1.5v1.4h-1.5zM400.1,626.1h1.5v1.4h-1.5zM355.7,621.6h1.5v1.4h-1.5zM348.2,622.0h1.5v1.4h-1.5zM325.7,618.0h1.5v1.4h-1.5zM381.9,620.7h1.5v1.4h-1.5zM402.3,631.5h1.5v1.4h-1.5zM410.5,618.9h1.5v1.4h-1.5zM405.0,627.5h1.5v1.4h-1.5zM296.2,629.3h1.5v1.4h-1.5zM305.4,618.2h1.5v1.4h-1.5zM391.0,621.0h1.5v1.4h-1.5zM309.6,627.8h1.5v1.4h-1.5zM297.0,623.0h1.5v1.4h-1.5zM324.0,626.7h1.5v1.4h-1.5zM336.2,625.3h1.5v1.4h-1.5zM410.4,622.4h1.5v1.4h-1.5zM392.4,628.1h1.5v1.4h-1.5zM315.9,618.3h1.5v1.4h-1.5zM288.2,631.1h1.5v1.4h-1.5zM293.3,627.3h1.5v1.4h-1.5zM341.9,621.4h1.5v1.4h-1.5zM347.1,624.6h1.5v1.4h-1.5zM321.8,622.7h1.5v1.4h-1.5zM412.9,624.6h1.5v1.4h-1.5zM392.8,625.9h1.5v1.4h-1.5zM396.8,628.3h1.5v1.4h-1.5zM380.8,619.9h1.5v1.4h-1.5zM324.9,627.4h1.5v1.4h-1.5z" fill="#d8c2ea" opacity="0.45" filter="url(#soft)"/>
</g>
<path d="M359.6,587.2L357.4,586.9L356.5,584.9L358.7,585.2zM397.5,566.4L396.0,566.2L395.6,564.6L397.1,564.9zM289.2,579.9L287.9,580.2L287.1,579.2L288.4,578.8zM349.4,585.6L350.1,584.4L351.5,584.9L350.8,586.2zM403.6,573.0L402.2,574.1L400.9,572.9L402.3,571.8zM316.1,577.1L314.5,577.6L313.8,575.9L315.5,575.4zM324.7,568.1L323.3,567.1L323.5,565.4L325.0,566.4zM378.6,578.3L380.3,576.9L382.3,578.0L380.6,579.4zM334.1,575.9L332.9,575.4L333.2,574.2L334.4,574.7zM394.9,586.4L393.4,585.9L393.6,584.3L395.1,584.9zM358.8,574.3L356.8,573.1L357.1,570.7L359.1,572.0zM356.6,573.5L357.1,571.6L359.0,571.8L358.5,573.7zM322.8,571.3L321.7,571.0L321.8,569.9L322.9,570.2zM319.8,578.5L319.2,577.5L320.1,576.6L320.7,577.7zM353.1,576.8L353.3,575.6L354.5,575.6L354.3,576.8zM410.2,564.1L411.5,563.3L412.8,564.1L411.5,564.8zM339.2,587.4L337.2,588.2L335.6,586.9L337.5,586.1zM288.6,584.2L288.7,582.8L290.2,582.8L290.0,584.3zM286.7,566.6L285.6,564.8L286.8,563.0L287.9,564.9zM363.1,577.5L362.7,576.1L363.9,575.4L364.3,576.8zM317.7,583.0L315.5,583.2L314.5,581.2L316.7,581.0zM323.7,576.3L322.4,577.2L321.1,576.2L322.5,575.3zM334.7,571.0L335.2,569.5L336.8,569.2L336.2,570.6zM409.6,567.6L407.5,567.2L407.1,565.1L409.1,565.6zM362.7,581.2L360.8,580.9L360.5,579.1L362.4,579.4zM321.0,569.3L319.4,569.3L318.9,567.7L320.6,567.7zM292.3,588.5L293.5,587.1L295.3,587.4L294.1,588.8zM307.7,565.2L306.6,565.3L306.4,564.1L307.6,564.0zM363.7,580.6L363.4,579.2L364.7,578.5L364.9,579.9zM378.9,579.5L377.3,580.1L376.7,578.6L378.3,578.0zM376.7,573.3L377.3,571.3L379.4,571.0L378.8,573.0zM376.5,573.4L375.2,571.6L376.3,569.6L377.7,571.5zM389.2,569.2L390.5,568.2L391.9,569.1L390.6,570.1zM310.7,568.8L309.8,567.7L310.5,566.5L311.4,567.6zM348.0,570.2L346.4,570.4L345.7,568.9L347.3,568.8zM347.4,564.8L346.0,563.7L346.6,562.1L348.0,563.2zM325.2,582.5L326.3,581.6L327.5,582.3L326.5,583.2zM331.6,572.4L332.1,570.5L334.0,570.4L333.5,572.2zM398.7,567.4L397.5,566.1L398.3,564.6L399.5,565.9zM367.2,565.8L366.1,564.9L366.7,563.7L367.8,564.6zM327.3,569.5L325.2,568.6L325.2,566.3L327.3,567.2zM300.4,577.8L298.7,578.6L297.3,577.4L299.0,576.5zM363.6,583.7L362.0,582.8L362.2,580.9L363.9,581.9zM334.3,568.6L333.3,566.6L334.7,564.9L335.6,566.9zM350.7,569.0L349.7,567.5L351.2,566.4L352.2,568.0zM324.3,583.9L324.5,581.6L326.7,581.0L326.5,583.3zM314.2,588.0L312.5,588.9L310.9,587.8L312.6,586.9zM328.8,580.1L327.7,579.9L328.0,578.7L329.1,579.0zM373.3,584.7L374.1,583.5L375.5,583.7L374.8,584.9zM383.6,578.6L382.1,578.3L382.1,576.8L383.6,577.0zM357.2,569.2L356.7,567.6L358.2,566.7L358.8,568.4zM313.7,581.1L312.0,579.4L312.7,577.1L314.4,578.8zM403.9,564.3L402.6,563.6L403.1,562.2L404.4,562.9zM293.9,571.3L292.6,569.8L293.3,568.0L294.6,569.5zM403.8,580.5L402.0,579.3L402.2,577.1L404.0,578.3zM382.2,574.2L382.3,572.7L383.8,572.1L383.7,573.7zM291.5,580.1L292.5,578.6L294.0,579.7L293.0,581.1zM339.7,587.3L339.4,585.8L340.9,585.1L341.1,586.6zM326.0,566.1L324.5,567.1L323.2,565.9L324.7,564.9zM323.2,586.5L322.1,585.2L323.3,583.9L324.4,585.2z" fill="#6a48a8" opacity="0.8" filter="url(#soft)"/>
<path d="M361.2,566.8L361.2,564.4L363.3,563.1L363.3,565.5zM384.7,573.1L385.6,571.8L387.1,572.1L386.2,573.3zM378.0,566.0L378.2,563.4L380.6,562.3L380.4,564.9zM313.4,566.1L312.8,564.8L313.8,563.6L314.4,565.0zM410.3,565.5L410.9,564.1L412.3,564.4L411.7,565.8zM383.5,584.4L382.2,583.6L382.7,582.1L384.1,582.9zM299.6,583.3L300.6,581.7L302.4,582.1L301.4,583.7zM302.8,580.8L302.6,579.6L303.7,579.1L303.9,580.3zM351.6,589.0L350.4,588.3L350.8,587.0L352.0,587.7zM323.1,582.2L323.4,580.8L324.9,580.7L324.6,582.2zM296.5,582.1L295.3,581.0L296.0,579.5L297.3,580.6zM309.2,564.5L307.4,564.3L307.2,562.5L309.0,562.7zM313.7,580.1L312.0,581.1L310.4,579.9L312.1,578.9zM342.6,574.1L341.5,573.1L341.8,571.7L343.0,572.7zM394.4,575.8L392.8,576.3L391.6,575.2L393.1,574.7zM331.2,572.1L329.9,571.6L329.9,570.2L331.2,570.7zM405.0,590.0L404.8,588.9L405.9,588.5L406.1,589.6zM374.0,567.1L375.4,565.9L377.2,566.5L375.8,567.7zM333.0,584.3L331.3,582.7L332.0,580.5L333.8,582.1zM406.3,578.7L404.3,579.5L402.6,578.1L404.6,577.3zM299.3,562.5L299.6,560.8L301.3,560.2L301.0,561.9zM333.0,580.2L331.5,579.5L331.8,577.8L333.3,578.6zM402.2,584.1L403.2,583.1L404.4,583.6L403.4,584.6zM335.6,564.4L334.5,563.7L334.8,562.5L335.9,563.1zM355.3,583.1L354.8,581.5L356.2,580.4L356.7,582.1zM358.1,577.1L357.9,575.8L359.1,575.4L359.3,576.7zM403.9,562.9L404.8,562.0L405.9,562.5L405.0,563.4zM396.7,567.2L397.0,565.6L398.5,565.9L398.2,567.4zM295.7,591.3L294.4,590.8L294.7,589.3L296.0,589.9zM301.1,571.8L300.2,571.1L301.0,570.2L301.9,570.9zM391.9,585.3L390.7,584.4L391.6,583.1L392.7,584.1zM318.6,575.8L317.5,574.3L318.9,573.0L319.9,574.6zM344.5,574.2L345.5,573.1L346.9,573.3L345.9,574.5zM314.9,589.1L313.1,588.3L313.0,586.4L314.7,587.2zM294.4,592.4L293.1,592.5L293.0,591.2L294.3,591.1zM330.1,587.2L328.1,587.8L327.2,586.1L329.1,585.5zM302.0,592.6L300.6,592.3L300.8,590.8L302.2,591.2zM351.6,581.5L350.3,580.1L351.1,578.3L352.3,579.7zM393.2,582.8L391.7,582.4L392.0,580.8L393.5,581.2zM320.6,589.6L320.6,587.4L322.7,586.4L322.7,588.7z" fill="#9a7cc4" opacity="0.6" filter="url(#soft)"/>
<path d="M304.3,596.4L303.4,596.2L303.4,595.2L304.3,595.5zM412.4,604.2L411.2,604.4L410.8,603.2L412.0,603.0zM390.0,675.5L388.8,675.9L388.2,674.8L389.3,674.5zM361.3,668.8L362.0,667.2L363.7,667.1L363.0,668.7zM311.0,685.7L310.5,685.0L311.2,684.4L311.6,685.1zM376.7,658.4L375.6,657.5L376.0,656.1L377.1,657.0zM292.4,623.4L291.3,622.5L291.7,621.1L292.8,622.0zM356.3,679.3L355.2,678.5L355.7,677.2L356.7,678.0zM299.8,632.3L298.7,631.1L299.5,629.7L300.6,630.9zM369.5,617.6L368.9,616.7L369.7,615.9L370.3,616.8zM349.6,672.8L350.6,671.9L351.7,672.7L350.7,673.6zM358.2,633.0L357.4,632.7L357.7,632.0L358.4,632.2zM364.6,621.2L363.7,621.4L363.2,620.6L364.1,620.4zM313.7,644.2L313.6,642.9L314.9,642.5L315.0,643.8zM326.2,609.0L326.0,607.5L327.4,606.7L327.5,608.3zM380.4,645.3L379.9,644.6L380.5,644.1L381.0,644.8zM369.0,599.2L368.7,597.5L369.9,596.4L370.3,598.1zM398.0,643.4L397.3,642.4L398.2,641.7L398.9,642.6zM382.1,672.2L380.8,673.0L379.7,671.9L381.0,671.1zM382.0,691.5L380.4,692.3L378.9,691.3L380.5,690.5zM372.4,686.0L372.0,684.9L372.9,684.2L373.3,685.3zM334.4,685.3L334.5,684.5L335.3,684.4L335.2,685.2zM383.8,642.4L382.4,642.3L382.3,641.0L383.7,641.0zM291.7,677.7L291.0,676.8L291.6,675.8L292.3,676.7zM355.2,621.9L354.5,621.1L354.9,620.1L355.6,620.9zM330.8,648.3L329.9,647.8L330.0,646.8L330.8,647.3zM327.2,621.0L327.2,620.1L328.0,619.6L328.1,620.6zM387.8,642.0L387.1,640.7L388.1,639.6L388.8,640.9zM390.2,624.4L389.2,625.0L388.4,624.1L389.4,623.6zM407.6,677.9L408.1,676.8L409.2,677.4L408.6,678.5z" fill="#5f449e" opacity="0.8" filter="url(#soft)"/>
<path d="M302.2,684.3L302.2,683.2L303.4,683.2L303.3,684.3zM290.8,675.6L289.6,676.1L288.6,675.3L289.8,674.8zM303.7,662.5L302.0,662.8L301.1,661.4L302.7,661.1zM356.7,679.5L356.8,677.5L358.6,676.7L358.5,678.7zM388.6,645.1L389.1,643.7L390.6,643.8L390.0,645.1zM311.2,621.7L309.7,622.2L308.9,620.8L310.4,620.3zM387.2,691.5L386.6,690.8L387.3,690.1L387.9,690.8zM360.0,658.8L358.5,659.3L357.6,658.0L359.1,657.6zM331.3,642.3L331.0,640.4L332.7,639.6L333.0,641.4zM370.3,655.9L368.9,656.0L368.7,654.6L370.1,654.6zM313.3,636.9L311.8,637.3L310.8,636.2L312.3,635.8zM294.6,667.9L293.7,667.8L293.7,666.9L294.6,667.0zM334.5,643.9L335.7,642.7L337.3,643.2L336.1,644.4zM319.1,639.7L318.5,638.6L319.4,637.9L320.0,638.9zM394.1,616.7L393.2,616.2L393.6,615.3L394.5,615.8zM413.6,657.9L412.3,657.6L411.8,656.4L413.1,656.6zM344.0,654.6L342.2,653.5L342.3,651.4L344.1,652.5zM407.1,653.9L406.7,652.3L408.1,651.6L408.5,653.1zM379.5,692.6L377.7,693.2L376.5,691.8L378.3,691.2zM375.8,607.3L377.1,605.5L379.3,605.7L378.0,607.5zM298.5,654.2L299.5,652.7L301.2,652.9L300.2,654.4zM302.8,614.8L302.1,613.8L302.7,612.7L303.3,613.7zM361.4,680.7L361.2,679.6L362.2,679.1L362.4,680.2zM329.6,668.5L329.0,667.2L330.0,666.2L330.6,667.5zM334.2,691.4L333.4,690.0L334.6,689.0L335.4,690.4z" fill="#a086c8" opacity="0.55" filter="url(#soft)"/>
<path d="M362.0,615.0l3.7,2.0M360.1,669.1l-0.7,4.4M345.2,597.7l3.1,4.6M366.6,601.7l-5.6,2.1M391.2,661.9l1.8,3.0M334.6,631.6l3.2,0.5M371.8,670.0l3.1,0.7" stroke="#fbf0fa" stroke-width="1" stroke-linecap="round" fill="none" opacity="0.9"/>
<rect x="394.90" y="682.60" width="18.8" height="11.2" fill="#fff"/>
<text x="404.80" y="687.70" font-size="4.0" font-weight="bold" text-anchor="middle" fill="#222">50 µm</text>
<rect x="399.80" y="690.20" width="10.1" height="1.3" fill="#111"/>
<path d="M406.50,692.04L411.33,701.24L401.67,701.24Z" fill="#3f9b41"/>
<rect x="420" y="558.2" width="127.7" height="135.6" fill="#e9a6e7"/>
<rect x="420" y="558.2" width="127.7" height="135.6" filter="url(#mot)" opacity="0.5"/>
<rect x="420" y="558.2" width="127.7" height="36" fill="url(#ug)"/>
<path d="M449.0,585.0l3.3,-0.8M493.4,582.1l3.8,0.4M515.5,576.7l4.0,-0.4M523.8,588.1l3.7,0.5M525.7,563.7l2.8,-0.6M490.3,583.5l3.8,0.3M513.1,571.0l4.0,1.3M476.0,582.9l1.6,0.2M507.0,581.1l1.9,0.0M496.1,581.5l4.7,-2.4M445.7,580.2l1.7,-0.1M426.0,579.2l3.6,-1.8M437.4,570.4l2.7,-0.0M490.4,570.0l1.4,-0.8M522.4,565.9l5.2,-0.5M440.4,577.3l1.7,-0.5M490.7,571.2l1.8,0.3M450.1,589.0l2.1,-0.9M454.0,584.4l4.7,1.8M446.9,572.2l3.7,0.1M531.7,583.5l3.2,-1.5M539.3,590.0l4.6,1.4M509.6,588.4l4.5,0.4M485.0,578.5l1.7,0.2M431.8,586.3l1.9,-0.5M509.3,564.9l2.3,-0.0" stroke="#fbeefa" stroke-width="0.8" stroke-linecap="round" opacity="0.8" fill="none"/>
<g clip-path="url(#bc3)">
<path d="M420.0,619.7C425.3,619.2 441.3,617.7 451.9,617.0C462.6,616.3 473.2,615.8 483.9,615.7C494.5,615.6 505.1,616.2 515.8,616.5C526.4,616.8 542.4,617.5 547.7,617.7L547.7,632.6C542.4,632.0 526.4,630.0 515.8,629.0C505.1,628.0 494.5,626.5 483.9,626.7C473.2,626.9 462.6,628.7 451.9,630.0C441.3,631.3 425.3,633.8 420.0,634.6Z" fill="#bf9bd8" filter="url(#soft2)" opacity="0.9"/>
<path d="M420.0,619.7C425.3,619.2 441.3,617.7 451.9,617.0C462.6,616.3 473.2,615.8 483.9,615.7C494.5,615.6 505.1,616.2 515.8,616.5C526.4,616.8 542.4,617.5 547.7,617.7L547.7,632.6C542.4,632.0 526.4,630.0 515.8,629.0C505.1,628.0 494.5,626.5 483.9,626.7C473.2,626.9 462.6,628.7 451.9,630.0C441.3,631.3 425.3,633.8 420.0,634.6Z" fill="#bf9bd8" opacity="0.6"/>
<path d="M539.8,630.9h1.4v1.3h-1.4zM474.6,625.5h1.4v1.3h-1.4zM524.9,624.7h1.4v1.3h-1.4zM423.6,626.9h1.4v1.3h-1.4zM469.1,618.6h1.4v1.3h-1.4zM463.0,616.9h1.4v1.3h-1.4zM441.7,621.1h1.4v1.3h-1.4zM546.4,621.8h1.4v1.3h-1.4zM468.7,614.1h1.4v1.3h-1.4zM497.8,620.0h1.4v1.3h-1.4zM432.0,623.1h1.4v1.3h-1.4zM487.2,616.7h1.4v1.3h-1.4zM465.2,623.7h1.4v1.3h-1.4zM468.9,624.0h1.4v1.3h-1.4zM526.1,625.2h1.4v1.3h-1.4zM496.9,626.3h1.4v1.3h-1.4zM476.8,619.6h1.4v1.3h-1.4zM422.2,628.5h1.4v1.3h-1.4zM534.0,628.4h1.4v1.3h-1.4zM453.9,615.7h1.4v1.3h-1.4zM484.6,615.6h1.4v1.3h-1.4zM444.3,619.5h1.4v1.3h-1.4zM473.2,622.1h1.4v1.3h-1.4zM472.2,623.9h1.4v1.3h-1.4zM543.6,622.5h1.4v1.3h-1.4zM527.8,625.7h1.4v1.3h-1.4zM462.9,615.7h1.4v1.3h-1.4zM546.2,630.1h1.4v1.3h-1.4zM529.7,615.6h1.4v1.3h-1.4zM505.5,627.8h1.4v1.3h-1.4zM526.9,628.3h1.4v1.3h-1.4zM425.7,620.8h1.4v1.3h-1.4zM467.1,620.7h1.4v1.3h-1.4zM458.3,627.2h1.4v1.3h-1.4zM448.7,629.2h1.4v1.3h-1.4zM440.0,627.3h1.4v1.3h-1.4zM470.3,619.3h1.4v1.3h-1.4zM487.4,625.3h1.4v1.3h-1.4zM443.2,628.6h1.4v1.3h-1.4zM534.0,622.9h1.4v1.3h-1.4zM431.0,628.2h1.4v1.3h-1.4zM537.3,629.9h1.4v1.3h-1.4zM514.5,620.4h1.4v1.3h-1.4zM523.0,624.8h1.4v1.3h-1.4zM434.7,628.6h1.4v1.3h-1.4zM539.3,629.3h1.4v1.3h-1.4zM511.8,616.6h1.4v1.3h-1.4zM477.9,623.8h1.4v1.3h-1.4zM501.7,618.7h1.4v1.3h-1.4zM458.6,622.5h1.4v1.3h-1.4zM462.4,619.5h1.4v1.3h-1.4zM440.2,622.1h1.4v1.3h-1.4zM501.9,621.9h1.4v1.3h-1.4zM485.8,623.0h1.4v1.3h-1.4zM469.9,626.2h1.4v1.3h-1.4zM422.9,629.7h1.4v1.3h-1.4zM471.6,625.3h1.4v1.3h-1.4zM541.1,622.9h1.4v1.3h-1.4zM511.7,617.4h1.4v1.3h-1.4zM511.8,628.2h1.4v1.3h-1.4zM476.6,622.2h1.4v1.3h-1.4zM458.4,628.2h1.4v1.3h-1.4zM491.7,623.5h1.4v1.3h-1.4zM525.7,628.2h1.4v1.3h-1.4zM517.4,618.2h1.4v1.3h-1.4zM488.5,625.9h1.4v1.3h-1.4zM480.7,624.7h1.4v1.3h-1.4zM538.3,627.1h1.4v1.3h-1.4zM458.0,626.6h1.4v1.3h-1.4zM477.3,619.1h1.4v1.3h-1.4zM542.0,630.7h1.4v1.3h-1.4zM494.8,626.9h1.4v1.3h-1.4zM437.5,628.0h1.4v1.3h-1.4zM525.5,616.9h1.4v1.3h-1.4zM484.1,624.5h1.4v1.3h-1.4zM459.1,620.7h1.4v1.3h-1.4zM452.1,618.7h1.4v1.3h-1.4zM492.6,623.9h1.4v1.3h-1.4zM492.5,614.5h1.4v1.3h-1.4zM434.2,623.7h1.4v1.3h-1.4zM523.4,626.1h1.4v1.3h-1.4zM523.1,627.1h1.4v1.3h-1.4zM421.6,632.6h1.4v1.3h-1.4zM503.5,626.8h1.4v1.3h-1.4zM497.1,626.3h1.4v1.3h-1.4zM438.9,623.5h1.4v1.3h-1.4zM425.7,627.0h1.4v1.3h-1.4zM485.6,617.8h1.4v1.3h-1.4zM451.5,615.8h1.4v1.3h-1.4zM472.9,625.9h1.4v1.3h-1.4zM445.7,629.4h1.4v1.3h-1.4zM500.5,623.5h1.4v1.3h-1.4zM513.1,620.8h1.4v1.3h-1.4zM443.4,619.7h1.4v1.3h-1.4zM485.1,624.0h1.4v1.3h-1.4zM433.5,625.8h1.4v1.3h-1.4zM455.3,619.1h1.4v1.3h-1.4zM423.2,621.9h1.4v1.3h-1.4zM541.2,621.6h1.4v1.3h-1.4zM545.2,631.7h1.4v1.3h-1.4zM452.0,627.3h1.4v1.3h-1.4zM451.3,626.4h1.4v1.3h-1.4zM515.4,617.2h1.4v1.3h-1.4zM492.5,618.1h1.4v1.3h-1.4zM451.6,629.1h1.4v1.3h-1.4zM545.1,628.5h1.4v1.3h-1.4zM427.3,632.9h1.4v1.3h-1.4zM515.0,617.1h1.4v1.3h-1.4zM485.3,625.6h1.4v1.3h-1.4zM440.2,622.8h1.4v1.3h-1.4zM540.9,630.4h1.4v1.3h-1.4zM505.2,620.5h1.4v1.3h-1.4zM527.1,620.8h1.4v1.3h-1.4z" fill="#8a6cb8" opacity="0.6" filter="url(#soft)"/>
<path d="M422.2,621.9h1.5v1.4h-1.5zM502.8,625.9h1.5v1.4h-1.5zM545.6,617.1h1.5v1.4h-1.5zM515.4,620.4h1.5v1.4h-1.5zM495.1,623.7h1.5v1.4h-1.5zM530.9,622.5h1.5v1.4h-1.5zM440.5,624.3h1.5v1.4h-1.5zM506.8,621.6h1.5v1.4h-1.5zM544.2,626.8h1.5v1.4h-1.5zM514.5,616.3h1.5v1.4h-1.5zM518.3,626.5h1.5v1.4h-1.5zM515.1,626.4h1.5v1.4h-1.5zM449.3,629.7h1.5v1.4h-1.5zM434.2,616.2h1.5v1.4h-1.5zM428.9,627.0h1.5v1.4h-1.5zM538.4,621.2h1.5v1.4h-1.5zM544.2,623.4h1.5v1.4h-1.5zM431.3,628.5h1.5v1.4h-1.5zM437.9,624.4h1.5v1.4h-1.5zM424.9,624.4h1.5v1.4h-1.5zM484.9,618.1h1.5v1.4h-1.5zM543.6,627.1h1.5v1.4h-1.5zM517.3,618.9h1.5v1.4h-1.5zM506.0,624.3h1.5v1.4h-1.5zM436.6,629.0h1.5v1.4h-1.5zM420.5,628.7h1.5v1.4h-1.5zM487.5,625.2h1.5v1.4h-1.5zM441.5,628.4h1.5v1.4h-1.5zM461.8,623.5h1.5v1.4h-1.5zM504.9,626.9h1.5v1.4h-1.5zM430.5,618.6h1.5v1.4h-1.5zM481.6,614.7h1.5v1.4h-1.5zM467.6,618.0h1.5v1.4h-1.5zM520.6,626.6h1.5v1.4h-1.5zM501.9,626.8h1.5v1.4h-1.5zM475.3,622.1h1.5v1.4h-1.5zM437.2,624.9h1.5v1.4h-1.5zM499.3,625.2h1.5v1.4h-1.5zM542.8,620.1h1.5v1.4h-1.5zM494.2,624.7h1.5v1.4h-1.5zM445.4,623.6h1.5v1.4h-1.5zM489.1,623.5h1.5v1.4h-1.5zM443.9,620.3h1.5v1.4h-1.5zM510.2,620.9h1.5v1.4h-1.5zM439.4,630.1h1.5v1.4h-1.5zM518.2,622.4h1.5v1.4h-1.5zM535.6,628.7h1.5v1.4h-1.5zM539.0,619.2h1.5v1.4h-1.5zM433.1,618.0h1.5v1.4h-1.5zM542.6,627.7h1.5v1.4h-1.5zM510.4,625.5h1.5v1.4h-1.5zM501.2,617.3h1.5v1.4h-1.5zM507.6,621.2h1.5v1.4h-1.5zM439.9,630.7h1.5v1.4h-1.5zM503.7,618.5h1.5v1.4h-1.5zM540.9,629.8h1.5v1.4h-1.5zM474.8,620.9h1.5v1.4h-1.5zM515.4,617.3h1.5v1.4h-1.5zM502.9,618.9h1.5v1.4h-1.5zM426.5,629.9h1.5v1.4h-1.5zM427.0,628.9h1.5v1.4h-1.5zM447.4,616.0h1.5v1.4h-1.5zM467.7,622.2h1.5v1.4h-1.5zM513.8,622.6h1.5v1.4h-1.5zM498.9,626.3h1.5v1.4h-1.5zM421.8,630.3h1.5v1.4h-1.5zM473.3,620.9h1.5v1.4h-1.5zM479.1,621.2h1.5v1.4h-1.5zM545.9,629.6h1.5v1.4h-1.5zM438.3,621.1h1.5v1.4h-1.5zM530.9,623.5h1.5v1.4h-1.5zM496.8,613.8h1.5v1.4h-1.5zM536.5,622.9h1.5v1.4h-1.5zM446.1,626.3h1.5v1.4h-1.5zM442.9,625.7h1.5v1.4h-1.5zM486.7,621.4h1.5v1.4h-1.5zM461.1,627.9h1.5v1.4h-1.5zM461.4,617.1h1.5v1.4h-1.5zM524.1,625.1h1.5v1.4h-1.5zM498.0,617.5h1.5v1.4h-1.5zM438.7,629.5h1.5v1.4h-1.5zM436.6,625.3h1.5v1.4h-1.5zM545.5,623.5h1.5v1.4h-1.5zM503.0,625.7h1.5v1.4h-1.5zM484.2,624.7h1.5v1.4h-1.5zM464.0,622.7h1.5v1.4h-1.5zM516.9,615.3h1.5v1.4h-1.5zM447.8,628.5h1.5v1.4h-1.5zM542.2,628.4h1.5v1.4h-1.5zM449.2,622.0h1.5v1.4h-1.5zM529.6,629.8h1.5v1.4h-1.5zM493.8,624.1h1.5v1.4h-1.5zM461.5,623.7h1.5v1.4h-1.5zM443.6,625.4h1.5v1.4h-1.5zM471.9,617.7h1.5v1.4h-1.5zM449.9,620.2h1.5v1.4h-1.5zM441.5,622.6h1.5v1.4h-1.5zM452.9,619.6h1.5v1.4h-1.5zM535.7,622.5h1.5v1.4h-1.5zM498.7,625.0h1.5v1.4h-1.5zM469.8,617.5h1.5v1.4h-1.5zM447.1,628.4h1.5v1.4h-1.5zM537.2,625.5h1.5v1.4h-1.5zM453.0,625.4h1.5v1.4h-1.5zM484.5,620.5h1.5v1.4h-1.5zM438.0,619.0h1.5v1.4h-1.5zM520.5,621.0h1.5v1.4h-1.5zM457.7,619.9h1.5v1.4h-1.5zM516.1,624.7h1.5v1.4h-1.5zM453.7,618.5h1.5v1.4h-1.5zM478.0,619.1h1.5v1.4h-1.5zM489.4,625.6h1.5v1.4h-1.5zM454.0,617.0h1.5v1.4h-1.5zM533.2,624.3h1.5v1.4h-1.5zM424.2,627.3h1.5v1.4h-1.5zM451.8,628.0h1.5v1.4h-1.5zM538.7,625.2h1.5v1.4h-1.5zM445.1,623.6h1.5v1.4h-1.5zM453.8,619.2h1.5v1.4h-1.5zM493.3,621.0h1.5v1.4h-1.5zM439.4,618.0h1.5v1.4h-1.5zM461.1,615.8h1.5v1.4h-1.5zM464.5,627.3h1.5v1.4h-1.5zM510.7,624.7h1.5v1.4h-1.5zM533.4,626.0h1.5v1.4h-1.5zM500.1,614.9h1.5v1.4h-1.5zM431.0,624.8h1.5v1.4h-1.5zM484.9,621.0h1.5v1.4h-1.5zM480.4,626.1h1.5v1.4h-1.5zM478.9,623.4h1.5v1.4h-1.5zM490.7,626.3h1.5v1.4h-1.5zM532.1,620.1h1.5v1.4h-1.5zM520.7,625.5h1.5v1.4h-1.5zM524.8,629.4h1.5v1.4h-1.5zM471.1,625.8h1.5v1.4h-1.5zM528.5,625.8h1.5v1.4h-1.5zM544.6,620.6h1.5v1.4h-1.5zM498.1,621.6h1.5v1.4h-1.5zM518.1,624.6h1.5v1.4h-1.5zM521.5,622.9h1.5v1.4h-1.5zM524.3,628.5h1.5v1.4h-1.5zM427.3,626.3h1.5v1.4h-1.5zM509.1,617.9h1.5v1.4h-1.5zM528.6,629.1h1.5v1.4h-1.5zM517.6,621.1h1.5v1.4h-1.5zM514.8,621.7h1.5v1.4h-1.5zM420.6,623.5h1.5v1.4h-1.5z" fill="#d8c2ea" opacity="0.45" filter="url(#soft)"/>
</g>
<path d="M451.8,584.0L451.4,582.4L452.5,581.2L452.9,582.8zM525.6,583.4L523.5,583.6L522.4,581.8L524.5,581.6zM529.3,562.6L529.9,560.9L531.7,560.5L531.1,562.2zM454.4,588.5L453.5,587.2L454.7,586.2L455.6,587.5zM462.6,586.2L461.3,586.1L461.0,584.8L462.3,584.9zM500.3,564.9L499.8,563.4L500.9,562.3L501.4,563.8zM476.8,561.5L475.6,561.1L475.5,559.8L476.8,560.2zM531.7,566.2L529.5,567.3L527.4,565.9L529.6,564.8zM482.0,572.4L480.0,573.3L478.2,572.0L480.3,571.1zM532.3,573.0L530.7,572.3L530.7,570.6L532.3,571.3zM435.3,560.7L433.8,560.7L433.0,559.5L434.5,559.5zM511.5,572.6L509.6,573.1L508.9,571.3L510.8,570.8zM447.1,573.3L446.3,572.4L446.9,571.4L447.7,572.2zM501.8,582.1L502.5,580.4L504.3,580.8L503.6,582.5zM545.1,587.1L543.5,587.0L542.9,585.5L544.5,585.6zM527.2,575.0L528.2,574.1L529.2,574.8L528.3,575.8zM440.8,563.0L438.6,564.1L436.6,562.7L438.8,561.6zM513.6,585.9L514.5,584.4L516.1,585.1L515.3,586.6zM436.9,565.2L435.7,563.7L436.5,562.1L437.6,563.5zM528.6,559.9L530.3,558.3L532.5,559.1L530.8,560.7zM441.1,564.1L440.7,562.6L442.2,562.0L442.5,563.5zM502.6,587.0L503.7,586.1L505.0,586.8L503.9,587.8zM503.9,567.7L504.0,565.6L506.0,565.0L505.9,567.1zM460.4,582.2L459.6,579.8L461.4,578.0L462.2,580.4zM461.4,564.4L462.1,562.9L463.6,563.3L462.9,564.8zM449.0,570.9L448.3,569.1L449.5,567.8L450.2,569.5zM436.1,560.8L435.7,559.4L436.9,558.5L437.3,559.9zM488.3,578.5L489.4,577.5L490.7,578.3L489.6,579.3zM534.2,583.4L535.6,582.3L537.2,583.0L535.8,584.0zM421.2,562.4L420.2,561.0L421.0,559.5L422.0,560.9zM491.8,567.0L492.5,565.7L493.9,565.9L493.2,567.1zM506.1,581.4L506.9,580.5L507.9,581.1L507.1,582.0zM536.7,575.4L534.8,575.4L533.9,573.7L535.8,573.7zM545.2,582.5L544.8,580.7L546.4,579.8L546.8,581.6zM536.5,572.9L537.3,571.4L538.9,571.8L538.1,573.2zM476.4,571.7L477.8,570.8L479.4,571.5L477.9,572.5zM517.4,571.6L516.3,571.9L515.9,570.8L517.0,570.4zM498.1,578.1L499.2,576.5L500.9,577.3L499.8,578.9zM536.8,583.8L535.6,582.5L536.6,581.1L537.8,582.4zM523.3,573.3L523.6,571.0L525.8,570.2L525.5,572.5zM447.0,577.4L446.0,577.9L445.4,577.0L446.4,576.5zM444.7,571.6L443.7,570.7L444.3,569.5L445.3,570.5zM443.3,564.7L444.7,563.3L446.2,564.5L444.9,565.9zM472.0,576.0L472.9,574.5L474.5,575.3L473.6,576.8zM478.9,563.1L477.5,562.2L477.7,560.5L479.0,561.5zM527.7,585.7L528.1,583.5L530.2,583.1L529.8,585.2zM517.2,584.7L518.4,583.3L519.8,584.4L518.7,585.8zM543.9,572.1L544.7,570.2L546.8,570.0L546.0,571.9zM435.4,584.6L433.9,584.0L433.9,582.4L435.3,583.0zM527.7,568.5L526.6,567.9L526.8,566.6L527.9,567.2zM436.8,588.6L437.7,586.4L440.1,586.3L439.2,588.5zM501.4,570.1L500.2,571.0L499.1,570.0L500.3,569.1zM522.9,576.6L523.2,574.9L525.0,574.7L524.7,576.4zM518.5,580.1L519.6,578.2L521.8,578.2L520.7,580.2zM535.1,575.3L533.8,574.3L534.1,572.6L535.4,573.6zM430.9,561.9L431.9,560.4L433.4,561.3L432.4,562.8zM480.6,587.8L479.3,586.9L479.8,585.4L481.1,586.3zM453.5,577.8L452.0,578.2L451.2,576.9L452.7,576.5zM519.0,559.9L517.6,560.9L516.3,559.6L517.8,558.6zM483.4,586.0L482.1,585.5L482.6,584.1L483.9,584.7z" fill="#6a48a8" opacity="0.8" filter="url(#soft)"/>
<path d="M513.1,592.4L511.8,592.9L511.0,591.9L512.2,591.4zM477.1,588.9L475.6,587.7L476.1,585.8L477.7,587.0zM509.8,581.0L508.9,579.1L510.1,577.4L511.0,579.3zM462.9,569.9L461.6,568.5L462.1,566.7L463.4,568.1zM424.9,591.2L425.2,588.9L427.3,588.1L427.0,590.3zM533.0,564.2L534.1,562.9L535.5,563.9L534.4,565.3zM448.6,564.6L449.5,563.0L451.3,563.2L450.4,564.8zM485.3,589.5L484.1,589.3L484.2,588.1L485.4,588.3zM448.7,579.9L448.0,577.6L449.7,575.9L450.4,578.2zM432.2,579.1L430.3,580.1L428.7,578.7L430.6,577.8zM446.3,578.2L447.8,576.8L449.9,577.3L448.3,578.8zM515.0,574.9L513.1,575.1L512.3,573.3L514.2,573.1zM499.0,579.1L497.9,578.4L498.5,577.3L499.5,578.0zM506.1,585.3L505.1,585.6L504.8,584.6L505.8,584.3zM461.0,573.2L461.0,571.8L462.3,571.6L462.3,572.9zM501.3,573.0L499.9,572.0L500.3,570.4L501.7,571.3zM500.6,570.3L499.8,571.0L499.1,570.2L499.9,569.6zM523.3,580.6L522.4,579.1L523.6,577.9L524.5,579.4zM494.8,568.9L493.8,568.3L494.3,567.3L495.3,567.9zM510.3,579.4L509.0,579.9L508.2,578.9L509.4,578.4zM490.3,592.9L489.7,591.4L490.9,590.2L491.6,591.8zM454.5,575.3L453.3,574.4L454.1,573.1L455.2,574.0zM497.2,572.6L496.3,570.6L497.5,568.7L498.5,570.8zM516.6,590.5L518.2,588.9L520.3,589.7L518.7,591.3zM474.5,563.3L472.9,562.9L472.5,561.4L474.0,561.8zM450.6,564.4L450.0,563.4L451.0,562.7L451.6,563.7zM486.8,586.0L485.0,585.1L485.3,583.1L487.2,584.0zM472.2,578.4L471.6,576.5L472.9,575.2L473.4,577.0zM463.7,589.2L461.9,589.2L461.2,587.6L463.0,587.5zM469.7,575.5L467.7,576.6L465.7,575.3L467.8,574.2zM436.9,569.2L437.5,568.0L438.9,568.3L438.3,569.6zM530.5,565.1L529.3,565.1L529.1,563.9L530.3,563.9zM433.4,562.6L432.9,560.6L434.7,559.6L435.2,561.6zM532.3,592.1L531.1,590.6L532.2,589.0L533.4,590.5zM443.7,570.6L444.9,569.2L446.3,570.3L445.1,571.8zM447.7,585.8L446.2,584.6L446.5,582.7L448.0,583.9zM491.7,565.7L491.5,564.2L493.0,563.9L493.1,565.4zM496.2,561.8L495.9,560.3L497.0,559.3L497.3,560.8zM438.1,562.0L436.4,561.7L435.8,560.0L437.5,560.3zM530.7,587.3L529.4,587.3L529.0,586.1L530.3,586.1z" fill="#9a7cc4" opacity="0.6" filter="url(#soft)"/>
<path d="M423.2,680.1L422.2,680.4L421.9,679.4L422.9,679.1zM463.8,672.2L462.6,671.5L463.0,670.1L464.2,670.8zM471.5,631.5L470.4,631.7L469.9,630.7L470.9,630.5zM517.2,603.1L516.3,601.7L517.3,600.4L518.2,601.8zM477.6,614.4L476.8,614.4L476.8,613.6L477.6,613.6zM432.2,645.7L432.3,644.5L433.4,644.5L433.4,645.7zM463.1,691.2L462.2,691.8L461.3,691.1L462.3,690.4zM522.3,623.7L522.0,622.7L523.1,622.5L523.3,623.5zM435.2,608.7L435.1,607.9L435.9,607.7L435.9,608.5zM467.4,599.2L467.8,597.6L469.6,597.3L469.1,599.0zM507.6,613.0L507.6,611.2L509.2,610.4L509.2,612.2zM472.2,640.8L473.4,639.8L474.6,640.6L473.5,641.7zM508.9,637.5L509.3,636.5L510.4,636.4L510.0,637.4zM483.9,609.5L484.7,608.4L485.9,608.7L485.2,609.8zM492.6,652.5L491.7,651.3L492.4,650.0L493.3,651.2zM426.6,601.8L426.3,600.7L427.2,600.0L427.5,601.1zM538.1,689.2L538.1,687.9L539.2,687.3L539.2,688.5zM523.5,668.7L524.3,667.5L525.8,667.6L524.9,668.8zM440.6,687.1L439.7,687.9L438.9,687.0L439.8,686.2zM465.4,670.5L464.1,671.0L463.0,670.2L464.3,669.7zM502.6,645.3L501.3,645.0L501.1,643.7L502.4,643.9zM458.8,611.5L457.7,611.8L457.0,610.8L458.2,610.5zM537.4,655.1L536.6,655.4L536.2,654.7L537.0,654.4zM503.6,631.4L502.5,631.7L502.0,630.7L503.1,630.4zM527.9,604.6L528.6,603.8L529.6,604.2L528.9,604.9zM426.5,648.9L426.9,647.5L428.4,647.2L428.0,648.7zM495.8,686.8L495.8,685.6L497.0,685.3L497.0,686.6zM437.5,636.7L437.2,635.9L438.0,635.6L438.3,636.3zM527.4,624.4L527.2,623.3L528.1,622.7L528.3,623.8zM494.1,657.4L494.7,656.8L495.5,657.2L494.9,657.8z" fill="#5f449e" opacity="0.8" filter="url(#soft)"/>
<path d="M463.6,685.1L462.5,685.2L462.3,684.2L463.3,684.1zM481.5,674.5L481.2,672.6L482.7,671.5L483.0,673.3zM536.1,678.4L535.2,679.1L534.4,678.3L535.3,677.6zM461.0,610.8L460.5,609.6L461.6,608.8L462.2,610.1zM430.8,619.3L430.6,617.9L431.7,617.0L432.0,618.5zM539.9,666.0L538.1,665.9L537.6,664.1L539.4,664.2zM446.1,688.6L446.6,687.0L448.2,686.8L447.8,688.4zM521.1,599.0L520.3,598.5L520.8,597.6L521.6,598.1zM436.7,665.7L436.7,664.2L438.1,663.5L438.1,665.1zM460.8,684.2L459.7,683.7L460.2,682.6L461.3,683.2zM431.4,620.4L432.0,619.2L433.2,619.7L432.6,621.0zM533.0,644.0L532.1,642.5L532.9,641.0L533.9,642.5zM439.6,679.0L440.8,678.0L442.0,678.9L440.9,679.9zM512.6,601.5L512.9,600.2L514.1,599.7L513.9,601.1zM463.7,617.6L462.9,616.6L463.8,615.6L464.6,616.6zM444.7,607.9L444.1,606.9L444.7,605.9L445.3,606.9zM436.6,633.1L436.7,631.9L437.8,631.8L437.7,632.9zM464.5,670.7L465.8,669.8L467.2,670.5L465.9,671.5zM485.5,690.2L485.6,689.0L486.8,688.5L486.7,689.8zM423.7,668.0L423.4,666.6L424.7,665.9L424.9,667.3zM520.6,600.1L520.4,598.5L521.7,597.4L521.9,599.1zM478.5,631.3L477.5,631.9L476.9,630.9L477.8,630.4zM545.8,612.4L545.1,611.0L546.3,610.1L547.0,611.5zM457.1,668.2L457.7,666.2L459.8,665.7L459.2,667.8zM481.1,658.0L481.7,656.7L483.1,657.0L482.5,658.3z" fill="#a086c8" opacity="0.55" filter="url(#soft)"/>
<path d="M450.8,633.4l4.4,2.7M434.1,660.4l1.0,5.7M510.0,678.5l-0.7,2.7M511.5,632.7l3.0,0.7M473.2,657.8l-3.9,0.8M537.9,664.4l1.7,3.8M533.5,601.0l-2.6,0.1" stroke="#fbf0fa" stroke-width="1" stroke-linecap="round" fill="none" opacity="0.9"/>
<rect x="528.90" y="682.60" width="18.8" height="11.2" fill="#fff"/>
<text x="538.80" y="687.70" font-size="4.0" font-weight="bold" text-anchor="middle" fill="#222">50 µm</text>
<rect x="533.80" y="690.20" width="10.1" height="1.3" fill="#111"/>
<path d="M540.50,702.16L545.33,692.96L535.67,692.96Z" fill="#8b6bb3"/>
<rect x="552.4" y="558.2" width="127.8" height="135.6" fill="#e8a7e6"/>
<rect x="552.4" y="558.2" width="127.8" height="135.6" filter="url(#mot)" opacity="0.5"/>
<rect x="552.4" y="558.2" width="127.8" height="36" fill="url(#ug)"/>
<path d="M654.2,575.9l4.3,1.9M623.9,584.1l3.8,-0.2M646.0,571.9l3.2,-0.6M620.3,584.8l3.4,-2.1M560.1,576.1l3.3,-1.7M565.8,562.4l2.5,-0.8M636.5,578.5l1.9,-0.4M611.3,579.5l3.2,-0.5M555.3,562.5l4.0,1.7M640.7,576.1l4.2,-1.9M647.7,562.0l3.9,-0.1M600.5,581.5l4.5,0.5M623.0,561.9l1.6,-1.0M600.4,568.8l2.2,-0.7M560.9,563.4l3.1,1.7M632.6,582.5l1.6,0.0M667.9,586.5l1.6,-0.4M583.4,565.7l2.0,-0.7M566.8,570.4l4.8,2.3M645.4,586.5l2.5,0.2M585.4,570.0l1.6,0.4M598.7,566.3l3.5,-0.6M576.8,589.6l3.7,-1.6M569.9,585.4l5.0,-2.1M617.9,570.2l2.1,0.4M587.9,579.2l3.9,0.4" stroke="#fbeefa" stroke-width="0.8" stroke-linecap="round" opacity="0.8" fill="none"/>
<g clip-path="url(#bc4)">
<path d="M552.4,620.7C557.7,620.5 573.7,619.8 584.4,619.5C595.0,619.2 605.6,618.8 616.3,618.7C626.9,618.6 637.6,618.8 648.2,619.0C658.9,619.2 674.9,619.6 680.2,619.7L680.2,634.6C674.9,634.4 658.9,633.8 648.2,633.5C637.6,633.2 626.9,632.5 616.3,632.6C605.6,632.7 595.0,633.3 584.4,634.0C573.7,634.7 557.7,636.2 552.4,636.6Z" fill="#bf9bd8" filter="url(#soft2)" opacity="0.9"/>
<path d="M552.4,620.7C557.7,620.5 573.7,619.8 584.4,619.5C595.0,619.2 605.6,618.8 616.3,618.7C626.9,618.6 637.6,618.8 648.2,619.0C658.9,619.2 674.9,619.6 680.2,619.7L680.2,634.6C674.9,634.4 658.9,633.8 648.2,633.5C637.6,633.2 626.9,632.5 616.3,632.6C605.6,632.7 595.0,633.3 584.4,634.0C573.7,634.7 557.7,636.2 552.4,636.6Z" fill="#bf9bd8" opacity="0.6"/>
<path d="M557.8,622.7h1.4v1.3h-1.4zM671.3,627.9h1.4v1.3h-1.4zM674.8,623.9h1.4v1.3h-1.4zM657.1,623.3h1.4v1.3h-1.4zM660.5,623.0h1.4v1.3h-1.4zM671.5,629.5h1.4v1.3h-1.4zM590.0,625.8h1.4v1.3h-1.4zM652.0,623.7h1.4v1.3h-1.4zM555.5,634.0h1.4v1.3h-1.4zM675.9,619.4h1.4v1.3h-1.4zM673.9,621.1h1.4v1.3h-1.4zM584.2,628.5h1.4v1.3h-1.4zM582.2,621.6h1.4v1.3h-1.4zM628.2,627.1h1.4v1.3h-1.4zM636.4,629.8h1.4v1.3h-1.4zM634.1,630.1h1.4v1.3h-1.4zM656.9,621.0h1.4v1.3h-1.4zM586.8,628.2h1.4v1.3h-1.4zM613.0,630.3h1.4v1.3h-1.4zM638.2,618.5h1.4v1.3h-1.4zM646.6,631.3h1.4v1.3h-1.4zM662.4,625.1h1.4v1.3h-1.4zM567.9,629.6h1.4v1.3h-1.4zM674.6,620.7h1.4v1.3h-1.4zM578.8,624.6h1.4v1.3h-1.4zM604.8,626.8h1.4v1.3h-1.4zM603.3,619.8h1.4v1.3h-1.4zM587.2,631.8h1.4v1.3h-1.4zM565.4,620.5h1.4v1.3h-1.4zM659.5,623.1h1.4v1.3h-1.4zM555.6,619.5h1.4v1.3h-1.4zM575.1,626.9h1.4v1.3h-1.4zM625.0,621.6h1.4v1.3h-1.4zM592.6,619.7h1.4v1.3h-1.4zM615.3,628.5h1.4v1.3h-1.4zM640.7,627.4h1.4v1.3h-1.4zM631.8,626.3h1.4v1.3h-1.4zM651.0,626.0h1.4v1.3h-1.4zM588.6,629.5h1.4v1.3h-1.4zM607.7,631.0h1.4v1.3h-1.4zM627.0,627.3h1.4v1.3h-1.4zM605.5,626.4h1.4v1.3h-1.4zM592.6,630.1h1.4v1.3h-1.4zM555.0,626.2h1.4v1.3h-1.4zM649.9,631.2h1.4v1.3h-1.4zM629.9,626.8h1.4v1.3h-1.4zM604.6,623.4h1.4v1.3h-1.4zM619.2,630.9h1.4v1.3h-1.4zM667.5,630.3h1.4v1.3h-1.4zM653.8,626.4h1.4v1.3h-1.4zM552.6,625.5h1.4v1.3h-1.4zM635.5,628.8h1.4v1.3h-1.4zM620.4,625.5h1.4v1.3h-1.4zM606.8,632.3h1.4v1.3h-1.4zM565.0,630.7h1.4v1.3h-1.4zM672.6,633.7h1.4v1.3h-1.4zM631.1,625.5h1.4v1.3h-1.4zM620.4,625.8h1.4v1.3h-1.4zM671.9,631.1h1.4v1.3h-1.4zM621.8,630.8h1.4v1.3h-1.4zM640.5,625.9h1.4v1.3h-1.4zM605.6,629.1h1.4v1.3h-1.4zM562.5,628.7h1.4v1.3h-1.4zM631.9,619.1h1.4v1.3h-1.4zM624.7,627.3h1.4v1.3h-1.4zM606.0,625.4h1.4v1.3h-1.4zM624.6,621.2h1.4v1.3h-1.4zM559.5,632.8h1.4v1.3h-1.4zM583.5,631.3h1.4v1.3h-1.4zM560.2,626.3h1.4v1.3h-1.4zM652.9,621.0h1.4v1.3h-1.4zM642.8,623.3h1.4v1.3h-1.4zM602.7,631.8h1.4v1.3h-1.4zM627.8,631.5h1.4v1.3h-1.4zM559.7,635.0h1.4v1.3h-1.4zM635.3,628.6h1.4v1.3h-1.4zM618.8,627.5h1.4v1.3h-1.4zM649.0,627.0h1.4v1.3h-1.4zM592.5,629.6h1.4v1.3h-1.4zM567.7,628.5h1.4v1.3h-1.4zM603.1,624.0h1.4v1.3h-1.4zM663.2,622.9h1.4v1.3h-1.4zM633.1,627.0h1.4v1.3h-1.4zM578.6,633.4h1.4v1.3h-1.4zM619.9,622.9h1.4v1.3h-1.4zM618.9,628.8h1.4v1.3h-1.4zM569.4,628.8h1.4v1.3h-1.4zM629.2,624.3h1.4v1.3h-1.4zM591.8,629.9h1.4v1.3h-1.4zM659.0,622.8h1.4v1.3h-1.4zM640.7,627.0h1.4v1.3h-1.4zM578.6,625.7h1.4v1.3h-1.4zM679.6,623.4h1.4v1.3h-1.4zM555.6,634.1h1.4v1.3h-1.4zM579.0,631.2h1.4v1.3h-1.4zM666.7,630.1h1.4v1.3h-1.4zM632.2,631.7h1.4v1.3h-1.4zM656.2,625.9h1.4v1.3h-1.4zM571.0,626.8h1.4v1.3h-1.4zM677.5,619.1h1.4v1.3h-1.4zM644.4,623.7h1.4v1.3h-1.4zM574.9,626.4h1.4v1.3h-1.4zM672.2,628.8h1.4v1.3h-1.4zM633.2,625.9h1.4v1.3h-1.4zM576.1,624.3h1.4v1.3h-1.4zM594.2,632.0h1.4v1.3h-1.4zM583.6,629.4h1.4v1.3h-1.4zM674.0,621.2h1.4v1.3h-1.4zM606.3,631.9h1.4v1.3h-1.4zM662.2,630.8h1.4v1.3h-1.4zM599.8,629.4h1.4v1.3h-1.4zM620.7,630.9h1.4v1.3h-1.4zM679.6,627.2h1.4v1.3h-1.4zM594.1,626.1h1.4v1.3h-1.4zM573.7,627.5h1.4v1.3h-1.4zM669.7,618.9h1.4v1.3h-1.4zM656.4,632.0h1.4v1.3h-1.4z" fill="#8a6cb8" opacity="0.6" filter="url(#soft)"/>
<path d="M606.1,619.1h1.5v1.4h-1.5zM563.3,624.1h1.5v1.4h-1.5zM678.8,633.6h1.5v1.4h-1.5zM637.0,617.2h1.5v1.4h-1.5zM582.0,628.1h1.5v1.4h-1.5zM587.5,631.1h1.5v1.4h-1.5zM609.0,617.5h1.5v1.4h-1.5zM596.5,621.2h1.5v1.4h-1.5zM650.4,626.8h1.5v1.4h-1.5zM619.1,627.3h1.5v1.4h-1.5zM595.1,624.9h1.5v1.4h-1.5zM587.2,626.9h1.5v1.4h-1.5zM674.8,629.2h1.5v1.4h-1.5zM580.7,626.2h1.5v1.4h-1.5zM667.4,623.2h1.5v1.4h-1.5zM676.0,629.4h1.5v1.4h-1.5zM677.2,630.7h1.5v1.4h-1.5zM644.2,629.4h1.5v1.4h-1.5zM564.2,626.3h1.5v1.4h-1.5zM651.4,629.7h1.5v1.4h-1.5zM641.9,617.5h1.5v1.4h-1.5zM608.3,628.1h1.5v1.4h-1.5zM597.0,630.2h1.5v1.4h-1.5zM664.0,621.7h1.5v1.4h-1.5zM675.9,628.9h1.5v1.4h-1.5zM554.6,630.6h1.5v1.4h-1.5zM623.4,626.7h1.5v1.4h-1.5zM653.3,626.1h1.5v1.4h-1.5zM664.2,632.0h1.5v1.4h-1.5zM597.8,626.3h1.5v1.4h-1.5zM609.3,623.4h1.5v1.4h-1.5zM679.6,621.7h1.5v1.4h-1.5zM678.4,624.7h1.5v1.4h-1.5zM565.1,626.2h1.5v1.4h-1.5zM631.4,624.1h1.5v1.4h-1.5zM612.2,631.7h1.5v1.4h-1.5zM590.6,630.4h1.5v1.4h-1.5zM645.1,623.7h1.5v1.4h-1.5zM613.8,627.4h1.5v1.4h-1.5zM574.3,621.7h1.5v1.4h-1.5zM665.9,623.1h1.5v1.4h-1.5zM552.7,635.8h1.5v1.4h-1.5zM553.2,627.8h1.5v1.4h-1.5zM588.3,628.9h1.5v1.4h-1.5zM624.3,631.9h1.5v1.4h-1.5zM558.5,629.4h1.5v1.4h-1.5zM657.4,620.5h1.5v1.4h-1.5zM614.7,617.8h1.5v1.4h-1.5zM576.7,622.2h1.5v1.4h-1.5zM640.5,632.3h1.5v1.4h-1.5zM590.7,622.8h1.5v1.4h-1.5zM585.6,630.2h1.5v1.4h-1.5zM607.5,628.4h1.5v1.4h-1.5zM629.4,626.5h1.5v1.4h-1.5zM642.1,627.3h1.5v1.4h-1.5zM661.3,624.8h1.5v1.4h-1.5zM611.2,628.6h1.5v1.4h-1.5zM676.3,619.4h1.5v1.4h-1.5zM571.8,634.0h1.5v1.4h-1.5zM626.6,617.3h1.5v1.4h-1.5zM641.2,626.7h1.5v1.4h-1.5zM669.1,632.6h1.5v1.4h-1.5zM667.8,619.3h1.5v1.4h-1.5zM670.2,633.0h1.5v1.4h-1.5zM596.5,630.6h1.5v1.4h-1.5zM598.3,629.0h1.5v1.4h-1.5zM576.8,622.1h1.5v1.4h-1.5zM569.3,623.0h1.5v1.4h-1.5zM579.9,630.2h1.5v1.4h-1.5zM595.7,627.0h1.5v1.4h-1.5zM647.9,620.7h1.5v1.4h-1.5zM661.9,629.4h1.5v1.4h-1.5zM615.1,616.7h1.5v1.4h-1.5zM634.8,629.9h1.5v1.4h-1.5zM615.3,619.2h1.5v1.4h-1.5zM559.8,629.5h1.5v1.4h-1.5zM611.4,631.1h1.5v1.4h-1.5zM632.8,631.1h1.5v1.4h-1.5zM619.6,627.5h1.5v1.4h-1.5zM579.8,633.6h1.5v1.4h-1.5zM625.2,629.7h1.5v1.4h-1.5zM625.6,623.3h1.5v1.4h-1.5zM620.6,623.2h1.5v1.4h-1.5zM668.7,618.7h1.5v1.4h-1.5zM557.3,625.0h1.5v1.4h-1.5zM576.1,623.5h1.5v1.4h-1.5zM573.9,628.6h1.5v1.4h-1.5zM577.2,628.5h1.5v1.4h-1.5zM631.2,623.4h1.5v1.4h-1.5zM575.4,632.4h1.5v1.4h-1.5zM599.2,622.9h1.5v1.4h-1.5zM638.8,629.0h1.5v1.4h-1.5zM552.8,623.9h1.5v1.4h-1.5zM656.6,632.3h1.5v1.4h-1.5zM624.9,623.5h1.5v1.4h-1.5zM552.7,630.5h1.5v1.4h-1.5zM595.3,632.2h1.5v1.4h-1.5zM672.2,624.3h1.5v1.4h-1.5zM651.7,618.4h1.5v1.4h-1.5zM654.4,623.3h1.5v1.4h-1.5zM658.2,628.2h1.5v1.4h-1.5zM598.3,624.8h1.5v1.4h-1.5zM573.7,630.7h1.5v1.4h-1.5zM641.0,631.3h1.5v1.4h-1.5zM646.8,623.3h1.5v1.4h-1.5zM595.4,630.8h1.5v1.4h-1.5zM654.8,632.5h1.5v1.4h-1.5zM587.6,622.5h1.5v1.4h-1.5zM631.7,619.1h1.5v1.4h-1.5zM555.2,628.3h1.5v1.4h-1.5zM664.9,633.4h1.5v1.4h-1.5zM660.1,628.5h1.5v1.4h-1.5zM637.2,625.1h1.5v1.4h-1.5zM596.4,626.3h1.5v1.4h-1.5zM615.3,631.9h1.5v1.4h-1.5zM611.5,619.7h1.5v1.4h-1.5zM658.6,633.0h1.5v1.4h-1.5zM580.7,630.2h1.5v1.4h-1.5zM622.6,618.2h1.5v1.4h-1.5zM613.6,631.0h1.5v1.4h-1.5zM676.6,631.0h1.5v1.4h-1.5zM630.3,631.6h1.5v1.4h-1.5zM662.1,629.8h1.5v1.4h-1.5zM602.2,630.5h1.5v1.4h-1.5zM642.6,627.7h1.5v1.4h-1.5zM660.8,627.7h1.5v1.4h-1.5zM555.5,634.1h1.5v1.4h-1.5zM556.6,630.0h1.5v1.4h-1.5zM639.3,630.7h1.5v1.4h-1.5zM590.5,627.7h1.5v1.4h-1.5zM579.6,624.7h1.5v1.4h-1.5zM580.0,631.6h1.5v1.4h-1.5zM572.8,622.9h1.5v1.4h-1.5zM604.5,623.6h1.5v1.4h-1.5zM599.8,627.3h1.5v1.4h-1.5zM598.7,629.9h1.5v1.4h-1.5zM673.1,625.4h1.5v1.4h-1.5zM602.6,625.5h1.5v1.4h-1.5zM658.0,624.1h1.5v1.4h-1.5zM557.6,625.7h1.5v1.4h-1.5zM592.6,630.8h1.5v1.4h-1.5zM585.0,632.6h1.5v1.4h-1.5zM606.7,620.1h1.5v1.4h-1.5z" fill="#d8c2ea" opacity="0.45" filter="url(#soft)"/>
</g>
<path d="M610.5,585.3L610.9,583.1L613.0,582.3L612.6,584.5zM572.9,566.4L572.3,565.2L573.4,564.5L573.9,565.6zM627.4,578.3L628.1,576.9L629.7,576.9L629.0,578.4zM642.8,588.2L643.1,586.8L644.6,587.0L644.3,588.4zM558.3,582.9L557.5,581.0L558.8,579.4L559.7,581.3zM594.4,575.0L594.4,573.4L596.0,572.9L596.0,574.6zM562.0,560.9L560.2,559.8L560.6,557.8L562.3,558.9zM607.6,569.9L608.2,568.6L609.6,568.8L609.0,570.1zM624.2,587.7L623.5,586.0L624.9,584.9L625.7,586.5zM649.6,563.4L647.7,563.9L646.2,562.5L648.2,561.9zM614.5,584.3L613.9,582.4L615.3,580.9L615.9,582.8zM577.8,586.8L579.6,585.4L581.7,586.3L579.9,587.7zM626.5,586.3L626.1,584.3L628.0,583.6L628.4,585.6zM678.1,582.0L676.7,581.9L676.4,580.5L677.9,580.6zM593.0,576.7L592.6,574.9L594.1,573.8L594.4,575.6zM659.0,575.4L658.0,576.0L657.2,575.0L658.3,574.4zM561.9,570.6L562.6,569.4L564.0,569.5L563.4,570.7zM604.5,581.9L604.6,579.4L606.9,578.2L606.8,580.8zM587.7,586.2L585.7,585.5L585.4,583.4L587.4,584.1zM574.8,569.6L573.3,569.5L572.6,568.0L574.2,568.2zM617.4,583.4L616.5,582.2L617.6,581.3L618.5,582.5zM555.7,580.3L557.0,579.0L558.7,579.7L557.4,580.9zM613.9,570.9L614.5,569.4L616.1,569.2L615.5,570.7zM665.7,583.4L664.7,582.5L665.4,581.4L666.4,582.3zM652.7,571.5L651.4,570.3L652.4,568.9L653.7,570.1zM599.2,582.4L597.4,582.4L596.6,580.8L598.3,580.8zM620.7,588.7L619.7,588.0L620.1,586.8L621.2,587.5zM609.5,584.9L607.9,583.8L608.3,581.9L609.9,583.0zM571.0,573.5L570.6,571.6L572.3,570.5L572.7,572.5zM567.1,583.6L565.5,584.7L564.1,583.5L565.7,582.3zM567.3,563.9L568.3,562.9L569.8,563.2L568.7,564.3zM602.7,586.9L601.4,585.6L602.4,584.1L603.7,585.4zM562.8,581.7L561.4,582.0L560.7,580.8L562.1,580.5zM655.9,572.3L655.7,570.6L657.4,570.3L657.6,572.0zM571.8,572.7L570.4,571.5L570.8,569.7L572.1,570.9zM607.9,568.5L608.8,566.9L610.4,567.6L609.5,569.2zM674.4,566.5L673.8,565.1L675.2,564.3L675.8,565.7zM577.3,586.8L576.0,586.4L575.9,585.0L577.2,585.4zM560.9,559.9L558.8,560.6L557.2,559.0L559.3,558.3zM609.4,562.1L610.7,561.1L612.1,561.7L610.9,562.7zM611.7,568.1L610.9,566.7L611.8,565.4L612.6,566.8zM579.4,575.2L579.9,573.4L581.7,573.1L581.2,574.9zM672.5,577.9L670.6,578.3L670.0,576.4L671.9,576.1zM588.2,575.5L586.7,574.6L587.2,572.9L588.7,573.9zM656.4,579.9L655.1,580.3L654.8,579.0L656.1,578.7zM621.3,587.8L621.1,586.7L622.3,586.2L622.5,587.4zM579.8,586.7L578.3,585.6L579.0,583.9L580.5,585.0zM557.4,566.7L555.7,566.2L555.7,564.4L557.5,564.9zM628.0,567.4L626.8,568.1L625.6,567.3L626.8,566.7zM605.1,571.1L604.0,571.7L603.3,570.8L604.3,570.1zM607.8,570.2L605.8,569.3L606.0,567.1L607.9,568.0zM593.8,568.3L595.1,566.8L596.9,567.2L595.7,568.6zM563.5,587.0L562.0,586.3L561.8,584.6L563.3,585.4zM562.4,572.7L561.2,571.4L561.8,569.7L562.9,571.0zM603.6,570.7L605.1,569.5L606.8,570.6L605.3,571.8zM651.8,563.3L650.6,563.6L650.1,562.5L651.3,562.2zM660.3,567.4L658.9,565.5L659.8,563.4L661.2,565.3zM597.2,577.9L595.5,576.7L596.2,574.7L598.0,575.9zM641.0,585.8L639.3,586.2L638.6,584.6L640.3,584.1zM663.4,563.2L664.2,561.7L665.8,562.3L665.0,563.8z" fill="#6a48a8" opacity="0.8" filter="url(#soft)"/>
<path d="M574.7,591.7L573.5,592.6L572.3,591.6L573.5,590.7zM596.5,581.3L596.3,580.2L597.5,580.0L597.6,581.1zM584.7,579.5L583.5,579.3L583.3,578.1L584.5,578.3zM643.2,563.0L642.3,561.6L643.2,560.1L644.1,561.6zM604.2,568.7L602.7,568.3L603.0,566.8L604.5,567.3zM555.6,585.3L554.1,585.5L553.9,584.0L555.4,583.8zM646.9,570.0L645.2,570.1L644.4,568.6L646.1,568.5zM627.1,560.5L627.9,559.6L628.9,560.3L628.1,561.1zM676.4,581.1L674.4,582.2L672.7,580.7L674.6,579.6zM566.7,567.3L565.3,568.0L564.4,566.8L565.8,566.1zM643.7,587.2L642.0,587.8L640.8,586.5L642.5,585.9zM611.8,586.1L611.6,584.7L613.0,584.2L613.2,585.6zM654.1,573.0L654.4,571.6L655.8,571.7L655.6,573.1zM586.9,565.8L587.4,564.5L588.8,564.6L588.3,565.9zM601.2,565.2L600.4,563.9L601.6,563.0L602.3,564.2zM676.4,566.7L674.2,567.7L672.3,566.3L674.5,565.2zM567.2,578.9L565.7,579.4L564.9,578.0L566.4,577.5zM625.8,591.1L624.3,590.3L624.7,588.7L626.2,589.5zM572.7,564.5L571.1,565.5L569.6,564.5L571.2,563.5zM665.0,568.2L663.5,567.3L663.5,565.6L665.0,566.5zM609.8,561.0L608.4,561.3L607.7,560.0L609.1,559.7zM675.4,586.0L674.5,586.8L673.6,586.0L674.5,585.1zM666.8,568.9L666.3,567.7L667.1,566.8L667.7,568.0zM555.6,581.6L556.3,580.2L557.8,580.1L557.2,581.5zM642.1,570.8L640.1,570.9L639.6,569.0L641.6,568.9zM652.7,562.1L651.4,561.1L651.7,559.5L653.1,560.4zM612.3,575.7L613.0,574.6L614.2,575.2L613.5,576.3zM668.6,579.7L667.7,578.7L668.7,577.8L669.5,578.8zM556.3,575.0L555.7,573.6L556.7,572.3L557.2,573.8zM662.0,570.1L662.3,568.1L664.2,568.1L663.9,570.0zM631.2,574.3L632.6,573.0L634.4,573.7L633.0,575.1zM581.9,578.6L580.9,579.2L580.2,578.2L581.2,577.7zM664.8,588.7L663.6,588.3L663.6,587.1L664.8,587.4zM643.0,592.5L641.7,592.6L641.5,591.3L642.8,591.3zM600.3,561.2L598.4,561.8L596.9,560.4L598.8,559.8zM669.5,589.9L668.0,589.4L668.2,587.8L669.7,588.3zM586.1,575.2L584.4,574.3L584.7,572.4L586.5,573.3zM580.4,587.9L580.0,585.8L581.7,584.4L582.2,586.6zM610.5,590.1L609.0,589.9L609.0,588.4L610.5,588.6zM583.9,577.8L583.6,576.1L585.2,575.5L585.5,577.2z" fill="#9a7cc4" opacity="0.6" filter="url(#soft)"/>
<path d="M658.5,691.8L657.7,690.8L658.7,690.0L659.5,691.0zM655.1,601.2L656.3,600.3L657.6,601.1L656.4,602.0zM655.0,680.1L653.4,680.2L652.6,678.9L654.1,678.8zM655.0,683.9L655.1,682.9L656.2,682.9L656.0,683.9zM617.0,630.6L616.7,629.5L617.8,629.1L618.1,630.2zM632.5,601.6L632.5,600.4L633.6,599.7L633.6,601.0zM672.2,636.9L672.9,636.2L673.8,636.8L673.0,637.5zM652.5,606.6L651.5,606.2L651.6,605.1L652.6,605.5zM665.5,649.6L666.3,648.4L667.7,648.4L666.9,649.6zM666.9,619.1L667.8,618.0L669.1,618.6L668.2,619.7zM606.1,620.0L605.8,618.8L606.9,618.3L607.2,619.5zM574.8,676.1L575.3,675.1L576.3,675.2L575.8,676.2zM586.7,637.0L585.3,636.8L584.9,635.4L586.3,635.6zM560.2,690.4L558.9,689.3L559.4,687.7L560.6,688.8zM602.8,597.4L604.1,596.6L605.4,597.4L604.1,598.2zM645.7,646.1L645.1,645.1L646.0,644.2L646.5,645.3zM576.6,666.3L576.0,665.4L576.9,664.7L577.5,665.6zM555.3,606.2L554.7,605.4L555.3,604.7L555.8,605.4zM562.5,633.5L561.3,634.1L560.3,633.2L561.5,632.7zM661.9,666.9L661.1,666.6L661.3,665.8L662.1,666.1zM644.1,621.5L644.6,620.3L645.9,620.4L645.4,621.6zM629.0,623.1L627.3,622.3L627.2,620.5L628.9,621.3zM625.2,670.0L624.1,670.2L623.4,669.2L624.6,669.0zM659.0,634.2L657.6,634.1L657.3,632.7L658.8,632.8zM593.7,632.4L594.1,631.3L595.3,631.2L594.9,632.3zM638.3,682.1L639.0,681.5L639.9,682.0L639.1,682.7zM668.9,676.7L668.7,675.8L669.7,675.7L669.8,676.6zM643.4,598.1L642.3,597.3L643.0,596.1L644.0,597.0zM556.7,602.0L555.9,601.5L556.2,600.6L556.9,601.2zM596.6,651.3L595.5,650.5L596.1,649.2L597.3,650.0z" fill="#5f449e" opacity="0.8" filter="url(#soft)"/>
<path d="M581.1,657.0L580.1,656.5L580.4,655.4L581.4,655.9zM576.7,623.5L576.3,622.1L577.5,621.6L578.0,622.9zM572.2,598.1L570.9,597.1L571.3,595.6L572.6,596.6zM580.9,596.3L579.4,596.8L578.8,595.4L580.3,594.9zM600.7,627.2L599.4,626.7L599.3,625.4L600.5,625.9zM561.9,647.2L561.7,646.2L562.7,645.8L562.9,646.9zM583.1,693.5L581.9,693.1L582.1,691.8L583.4,692.2zM638.7,616.9L639.8,616.0L641.1,616.6L640.0,617.5zM634.8,610.4L633.8,610.9L633.2,609.9L634.2,609.5zM652.7,680.8L653.3,679.4L654.7,679.6L654.2,681.0zM621.3,665.1L619.9,665.4L619.0,664.3L620.4,663.9zM649.9,598.6L649.2,597.5L650.1,596.7L650.8,597.8zM647.6,685.0L648.4,683.2L650.2,683.2L649.5,684.9zM652.1,615.1L652.9,613.9L654.3,614.3L653.5,615.5zM658.7,692.6L657.9,691.1L658.8,689.5L659.6,691.1zM575.4,633.8L574.2,632.6L575.0,631.0L576.3,632.3zM580.6,629.1L578.7,629.4L577.6,627.8L579.5,627.6zM567.4,634.8L566.7,635.4L566.0,634.8L566.7,634.2zM645.4,655.5L645.6,653.7L647.4,653.4L647.2,655.2zM570.1,599.2L568.9,598.8L569.1,597.5L570.4,597.9zM646.2,624.1L646.5,622.2L648.3,621.5L648.0,623.4zM586.8,609.1L585.7,608.7L585.6,607.5L586.7,607.9zM664.2,658.4L665.2,657.3L666.6,657.9L665.5,658.9zM607.9,652.5L606.6,651.0L607.3,649.1L608.6,650.6zM573.9,691.2L575.1,690.0L576.7,690.4L575.5,691.6z" fill="#a086c8" opacity="0.55" filter="url(#soft)"/>
<path d="M675.2,639.4l-1.1,3.4M622.4,677.1l-1.7,2.3M580.7,678.8l2.9,3.9M591.0,674.4l-3.3,1.7M643.3,651.7l3.4,1.1M632.4,659.7l-0.7,4.9M591.3,615.1l-1.4,3.9" stroke="#fbf0fa" stroke-width="1" stroke-linecap="round" fill="none" opacity="0.9"/>
<rect x="661.40" y="682.60" width="18.8" height="11.2" fill="#fff"/>
<text x="671.30" y="687.70" font-size="4.0" font-weight="bold" text-anchor="middle" fill="#222">50 µm</text>
<rect x="666.30" y="690.20" width="10.1" height="1.3" fill="#111"/>
<path d="M673.00,692.04L678.06,697.10L673.00,702.16L667.94,697.10Z" fill="#ee7d2d"/>
</svg></body></html>
